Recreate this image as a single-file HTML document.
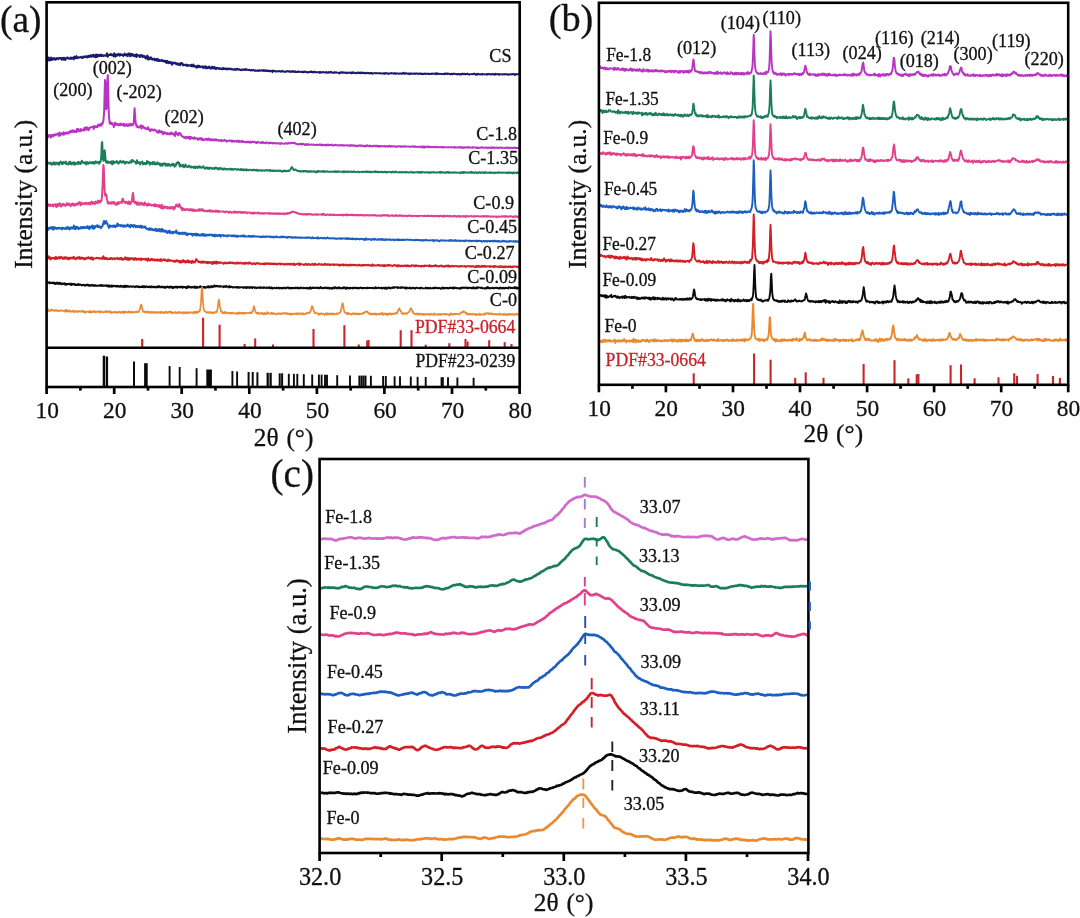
<!DOCTYPE html>
<html><head><meta charset="utf-8"><title>XRD</title>
<style>
html,body{margin:0;padding:0;background:#fff;}
body{width:1080px;height:918px;overflow:hidden;font-family:"Liberation Serif",serif;}
svg{display:block;font-family:"Liberation Serif",serif;will-change:transform;}
</style></head><body>
<svg width="1080" height="918" viewBox="0 0 1080 918">
<rect width="1080" height="918" fill="#fff"/>
<path d="M46.6,60.5 L47.0,58.8 L47.4,58.9 L47.8,58.4 L48.2,59.9 L48.6,57.5 L49.0,60.5 L49.4,58.6 L49.8,59.4 L50.2,59.0 L50.6,60.2 L51.0,57.6 L51.4,58.8 L51.8,58.8 L52.2,59.9 L52.6,58.2 L53.0,58.9 L53.4,58.3 L53.8,59.0 L54.2,59.4 L54.6,58.1 L55.0,59.8 L55.4,59.6 L55.8,59.2 L56.2,59.5 L56.6,58.3 L57.0,58.7 L57.4,58.1 L57.8,58.6 L58.2,59.1 L58.6,58.2 L59.0,58.4 L59.4,58.2 L59.8,58.0 L60.2,58.1 L60.6,58.6 L61.0,57.8 L61.4,58.7 L61.8,59.8 L62.2,59.1 L62.6,58.4 L63.0,57.8 L63.4,57.9 L63.8,59.7 L64.2,58.4 L64.6,57.9 L65.0,58.5 L65.4,59.9 L65.8,58.4 L66.2,58.7 L66.6,58.5 L67.0,58.0 L67.4,57.3 L67.8,57.9 L68.2,58.0 L68.6,58.6 L69.0,58.7 L69.4,58.8 L69.8,58.3 L70.2,58.7 L70.6,57.4 L71.0,58.9 L71.4,58.3 L71.8,57.7 L72.2,58.3 L72.6,57.8 L73.0,58.7 L73.4,59.0 L73.8,59.4 L74.2,56.7 L74.6,56.6 L75.0,57.3 L75.4,57.8 L75.8,58.3 L76.2,57.8 L76.6,56.1 L77.0,57.3 L77.4,58.1 L77.8,57.7 L78.2,58.0 L78.6,57.2 L79.0,57.2 L79.4,57.5 L79.8,57.6 L80.2,57.4 L80.6,57.3 L81.0,56.7 L81.4,57.4 L81.8,57.2 L82.2,57.9 L82.6,58.0 L83.0,57.2 L83.4,56.7 L83.8,56.5 L84.2,57.2 L84.6,56.9 L85.0,56.6 L85.4,56.8 L85.8,56.3 L86.2,57.2 L86.6,56.3 L87.0,57.5 L87.4,56.9 L87.8,57.0 L88.2,55.7 L88.6,56.6 L89.0,57.0 L89.4,55.7 L89.8,56.2 L90.2,56.4 L90.6,55.3 L91.0,56.5 L91.4,56.8 L91.8,55.5 L92.2,56.4 L92.6,55.1 L93.0,56.0 L93.4,54.8 L93.8,56.8 L94.2,56.3 L94.6,55.9 L95.0,55.3 L95.4,56.8 L95.8,57.3 L96.2,54.4 L96.6,56.7 L97.0,57.0 L97.4,56.0 L97.8,54.8 L98.2,56.3 L98.6,55.5 L99.0,55.1 L99.4,54.7 L99.8,56.0 L100.2,56.1 L100.6,55.0 L101.0,55.9 L101.4,54.6 L101.8,56.0 L102.2,55.4 L102.6,55.2 L103.0,55.3 L103.4,56.0 L103.8,55.9 L104.2,55.7 L104.6,55.4 L105.0,55.3 L105.4,55.7 L105.8,55.4 L106.2,55.7 L106.6,54.9 L107.0,53.3 L107.4,55.9 L107.8,56.7 L108.2,55.4 L108.6,54.9 L109.0,54.9 L109.4,54.9 L109.8,55.0 L110.2,54.1 L110.6,54.5 L111.0,54.1 L111.4,55.1 L111.8,54.6 L112.2,55.2 L112.6,54.7 L113.0,55.5 L113.4,54.9 L113.8,56.4 L114.2,53.3 L114.6,54.2 L115.0,55.4 L115.4,56.6 L115.8,54.5 L116.2,54.7 L116.6,54.5 L117.0,55.7 L117.4,54.4 L117.8,55.1 L118.2,54.4 L118.6,53.7 L119.0,54.8 L119.4,55.0 L119.8,55.6 L120.2,54.5 L120.6,54.1 L121.0,55.0 L121.4,54.8 L121.8,54.8 L122.2,54.5 L122.6,55.5 L123.0,54.9 L123.4,56.0 L123.8,55.5 L124.2,55.1 L124.6,53.4 L125.0,55.1 L125.4,55.0 L125.8,55.3 L126.2,55.5 L126.6,54.4 L127.0,55.3 L127.4,54.3 L127.8,56.2 L128.2,53.7 L128.6,53.4 L129.0,53.5 L129.4,54.1 L129.8,53.9 L130.2,56.3 L130.6,54.6 L131.0,53.8 L131.4,55.7 L131.8,54.4 L132.2,54.0 L132.6,55.6 L133.0,55.4 L133.4,54.6 L133.8,56.0 L134.2,55.1 L134.6,56.2 L135.0,55.4 L135.4,56.2 L135.8,55.2 L136.2,54.2 L136.6,57.0 L137.0,54.8 L137.4,55.2 L137.8,54.9 L138.2,55.3 L138.6,55.7 L139.0,55.8 L139.4,56.2 L139.8,57.1 L140.2,55.8 L140.6,55.0 L141.0,55.2 L141.4,55.6 L141.8,55.0 L142.2,57.0 L142.6,56.1 L143.0,56.3 L143.4,56.7 L143.8,55.7 L144.2,56.2 L144.6,57.5 L145.0,57.5 L145.4,56.9 L145.8,58.6 L146.2,56.4 L146.6,57.2 L147.0,57.4 L147.4,55.6 L147.8,59.3 L148.2,58.2 L148.6,57.2 L149.0,59.6 L149.4,58.6 L149.8,58.6 L150.2,57.9 L150.6,58.5 L151.0,57.4 L151.4,59.2 L151.8,58.4 L152.2,58.9 L152.6,59.7 L153.0,59.1 L153.4,59.2 L153.8,59.3 L154.2,58.6 L154.6,59.9 L155.0,60.5 L155.4,60.0 L155.8,60.2 L156.2,58.9 L156.6,59.0 L157.0,58.7 L157.4,60.7 L157.8,59.7 L158.2,61.0 L158.6,59.5 L159.0,59.8 L159.4,60.3 L159.8,61.0 L160.2,60.4 L160.6,60.6 L161.0,60.6 L161.4,60.8 L161.8,59.9 L162.2,60.9 L162.6,60.7 L163.0,60.9 L163.4,61.4 L163.8,60.6 L164.2,61.1 L164.6,61.1 L165.0,61.7 L165.4,62.0 L165.8,60.9 L166.2,62.0 L166.6,63.1 L167.0,60.7 L167.4,61.3 L167.8,61.3 L168.2,61.8 L168.6,63.2 L169.0,62.2 L169.4,61.8 L169.8,62.7 L170.2,62.0 L170.6,63.2 L171.0,62.8 L171.4,63.6 L171.8,62.3 L172.2,64.8 L172.6,63.4 L173.0,63.4 L173.4,63.0 L173.8,62.6 L174.2,62.6 L174.6,63.2 L175.0,62.8 L175.4,63.6 L175.8,63.0 L176.2,64.0 L176.6,64.3 L177.0,63.3 L177.4,64.6 L177.8,63.7 L178.2,64.7 L178.6,64.3 L179.0,64.8 L179.4,63.5 L179.8,64.1 L180.2,65.2 L180.6,63.9 L181.0,63.1 L181.4,63.2 L181.8,63.0 L182.2,63.3 L182.6,64.4 L183.0,65.5 L183.4,64.5 L183.8,65.0 L184.2,64.8 L184.6,64.9 L185.0,64.9 L185.4,64.9 L185.8,65.4 L186.2,64.5 L186.6,65.8 L187.0,65.8 L187.4,65.2 L187.8,65.9 L188.2,65.0 L188.6,65.2 L189.0,65.6 L189.4,65.5 L189.8,65.4 L190.2,65.3 L190.6,65.4 L191.0,66.3 L191.4,64.7 L191.8,66.1 L192.2,65.8 L192.6,66.4 L193.0,66.3 L193.4,64.5 L193.8,66.5 L194.2,66.4 L194.6,66.2 L195.0,66.0 L195.4,66.8 L195.8,66.1 L196.2,67.4 L196.6,66.8 L197.0,67.7 L197.4,66.1 L197.8,65.6 L198.2,67.0 L198.6,67.1 L199.0,66.7 L199.4,65.9 L199.8,66.5 L200.2,67.2 L200.6,66.8 L201.0,66.8 L201.4,66.8 L201.8,66.5 L202.2,66.7 L202.6,66.3 L203.0,68.0 L203.4,66.9 L203.8,67.4 L204.2,66.7 L204.6,67.6 L205.0,66.3 L205.4,67.8 L205.8,67.3 L206.2,68.4 L206.6,66.7 L207.0,67.5 L207.4,67.6 L207.8,68.1 L208.2,67.3 L208.6,67.6 L209.0,66.5 L209.4,67.2 L209.8,67.9 L210.2,68.2 L210.6,67.6 L211.0,68.7 L211.4,68.6 L211.8,67.8 L212.2,66.6 L212.6,67.0 L213.0,67.5 L213.4,68.4 L213.8,68.1 L214.2,67.0 L214.6,67.9 L215.0,68.8 L215.4,67.9 L215.8,67.7 L216.2,69.1 L216.6,68.2 L217.0,67.9 L217.4,68.3 L217.8,68.2 L218.2,68.0 L218.6,68.8 L219.0,68.8 L219.4,68.7 L219.8,68.3 L220.2,68.9 L220.6,68.4 L221.0,68.6 L221.4,68.9 L221.8,68.8 L222.2,69.3 L222.6,68.7" fill="none" stroke="#1c1a6b" stroke-width="2.0" stroke-linejoin="round"/>
<path d="M222.6,68.7 L223.0,67.8 L223.4,68.1 L223.8,69.2 L224.2,68.5 L224.6,68.8 L225.0,68.3 L225.4,69.1 L225.8,68.5 L226.2,69.4 L226.6,68.5 L227.0,69.3 L227.4,69.1 L227.8,68.5 L228.2,69.3 L228.6,68.5 L229.0,68.6 L229.4,69.2 L229.8,68.7 L230.2,68.7 L230.6,68.9 L231.0,68.6 L231.4,69.5 L231.8,69.3 L232.2,69.1 L232.6,69.1 L233.0,69.3 L233.4,69.9 L233.8,69.5 L234.2,69.0 L234.6,69.6 L235.0,69.2 L235.4,69.2 L235.8,70.1 L236.2,69.2 L236.6,69.2 L237.0,68.6 L237.4,68.8 L237.8,69.6 L238.2,69.2 L238.6,69.7 L239.0,69.1 L239.4,69.2 L239.8,69.8 L240.2,70.1 L240.6,69.8 L241.0,70.1 L241.4,70.3 L241.8,70.0 L242.2,69.3 L242.6,69.6 L243.0,69.9 L243.4,69.6 L243.8,69.9 L244.2,69.2 L244.6,69.5 L245.0,70.0 L245.4,69.0 L245.8,69.4 L246.2,69.9 L246.6,69.3 L247.0,69.9 L247.4,69.6 L247.8,69.9 L248.2,69.9 L248.6,70.1 L249.0,69.8 L249.4,70.1 L249.8,69.8 L250.2,70.3 L250.6,70.7 L251.0,70.2 L251.4,70.2 L251.8,69.8 L252.2,70.4 L252.6,69.9 L253.0,69.9 L253.4,70.4 L253.8,70.3 L254.2,70.6 L254.6,70.8 L255.0,70.1 L255.4,70.4 L255.8,70.9 L256.2,70.7 L256.6,70.6 L257.0,70.8 L257.4,70.2 L257.8,70.6 L258.2,70.9 L258.6,71.0 L259.0,70.2 L259.4,70.4 L259.8,70.6 L260.2,70.4 L260.6,70.4 L261.0,70.8 L261.4,70.5 L261.8,70.1 L262.2,70.7 L262.6,70.5 L263.0,70.4 L263.4,70.2 L263.8,71.0 L264.2,70.0 L264.6,70.2 L265.0,70.6 L265.4,71.1 L265.8,71.2 L266.2,70.4 L266.6,70.7 L267.0,70.4 L267.4,71.1 L267.8,70.4 L268.2,70.8 L268.6,71.2 L269.0,70.8 L269.4,71.3 L269.8,70.6 L270.2,71.0 L270.6,71.2 L271.0,70.9 L271.4,71.4 L271.8,71.1 L272.2,70.5 L272.6,72.2 L273.0,71.2 L273.4,71.1 L273.8,70.6 L274.2,71.1 L274.6,70.9 L275.0,71.3 L275.4,71.2 L275.8,71.7 L276.2,71.2 L276.6,71.3 L277.0,71.3 L277.4,71.1 L277.8,71.1 L278.2,71.5 L278.6,71.4 L279.0,71.0 L279.4,70.9 L279.8,71.2 L280.2,71.6 L280.6,71.3 L281.0,71.8 L281.4,71.1 L281.8,71.3 L282.2,70.6 L282.6,71.2 L283.0,71.3 L283.4,71.5 L283.8,71.9 L284.2,71.4 L284.6,71.8 L285.0,71.6 L285.4,71.7 L285.8,71.3 L286.2,71.8 L286.6,71.1 L287.0,71.6 L287.4,71.2 L287.8,71.3 L288.2,71.1 L288.6,71.4 L289.0,71.6 L289.4,71.5 L289.8,71.1 L290.2,72.0 L290.6,71.7 L291.0,71.9 L291.4,71.8 L291.8,71.4 L292.2,71.0 L292.6,71.4 L293.0,72.0 L293.4,71.3 L293.8,71.9 L294.2,71.5 L294.6,71.8 L295.0,71.1 L295.4,72.0 L295.8,71.7 L296.2,72.0 L296.6,71.8 L297.0,72.0 L297.4,71.7 L297.8,72.0 L298.2,71.3 L298.6,71.5 L299.0,72.0 L299.4,71.8 L299.8,71.7 L300.2,71.8 L300.6,72.0 L301.0,71.7 L301.4,72.0 L301.8,71.6 L302.2,71.8 L302.6,72.2 L303.0,72.2 L303.4,71.6 L303.8,72.2 L304.2,71.6 L304.6,72.1 L305.0,71.4 L305.4,71.6 L305.8,71.8 L306.2,71.9 L306.6,72.4 L307.0,72.2 L307.4,72.5 L307.8,72.4 L308.2,71.9 L308.6,71.9 L309.0,72.3 L309.4,72.0 L309.8,72.0 L310.2,71.7 L310.6,72.0 L311.0,71.3 L311.4,72.0 L311.8,71.8 L312.2,72.3 L312.6,72.0 L313.0,72.0 L313.4,72.5 L313.8,71.8 L314.2,72.2 L314.6,71.6 L315.0,72.2 L315.4,72.3 L315.8,72.4 L316.2,71.9 L316.6,72.3 L317.0,72.3 L317.4,72.2 L317.8,72.3 L318.2,72.4 L318.6,72.4 L319.0,72.0 L319.4,71.9 L319.8,73.0 L320.2,72.8 L320.6,71.9 L321.0,72.4 L321.4,72.5 L321.8,72.5 L322.2,72.3 L322.6,72.0 L323.0,72.3 L323.4,72.2 L323.8,72.4 L324.2,72.3 L324.6,72.3 L325.0,72.7 L325.4,72.7 L325.8,72.0 L326.2,72.3 L326.6,72.2 L327.0,72.8 L327.4,72.4 L327.8,72.8 L328.2,72.3 L328.6,72.4 L329.0,72.1 L329.4,72.8 L329.8,72.4 L330.2,72.0 L330.6,72.3 L331.0,71.8 L331.4,72.5 L331.8,72.5 L332.2,72.6 L332.6,72.9 L333.0,72.4 L333.4,72.8 L333.8,72.6 L334.2,72.5 L334.6,72.0 L335.0,72.8 L335.4,72.4 L335.8,72.6 L336.2,72.2 L336.6,72.7 L337.0,72.6 L337.4,72.6 L337.8,72.6 L338.2,72.9 L338.6,72.9 L339.0,72.8 L339.4,73.6 L339.8,72.5 L340.2,72.5 L340.6,72.4 L341.0,72.8 L341.4,72.5 L341.8,71.9 L342.2,72.3 L342.6,72.7 L343.0,73.0 L343.4,72.3 L343.8,72.5 L344.2,72.7 L344.6,72.5 L345.0,72.9 L345.4,72.7 L345.8,72.8 L346.2,72.5 L346.6,73.2 L347.0,72.8 L347.4,73.1 L347.8,72.6 L348.2,72.9 L348.6,72.6 L349.0,72.5 L349.4,72.6 L349.8,72.8 L350.2,72.7 L350.6,73.3 L351.0,72.5 L351.4,72.5 L351.8,73.3 L352.2,73.0 L352.6,72.3 L353.0,73.0 L353.4,72.9 L353.8,72.3 L354.2,72.8 L354.6,72.9 L355.0,73.1 L355.4,73.2 L355.8,72.9 L356.2,73.2 L356.6,72.9 L357.0,72.7 L357.4,72.7 L357.8,73.1 L358.2,72.4 L358.6,73.1 L359.0,72.6 L359.4,72.9 L359.8,73.1 L360.2,73.3 L360.6,72.4 L361.0,72.8 L361.4,73.0 L361.8,72.8 L362.2,73.2 L362.6,72.4 L363.0,73.1 L363.4,73.1 L363.8,73.0 L364.2,73.3 L364.6,72.7 L365.0,73.3 L365.4,72.8 L365.8,73.3 L366.2,73.0 L366.6,73.3 L367.0,73.3 L367.4,72.7 L367.8,73.0 L368.2,73.1 L368.6,73.0 L369.0,72.9 L369.4,73.6 L369.8,73.2 L370.2,73.5 L370.6,73.0 L371.0,72.8 L371.4,73.2 L371.8,73.0 L372.2,73.8 L372.6,73.2 L373.0,73.5 L373.4,73.1 L373.8,73.1 L374.2,73.2 L374.6,73.3 L375.0,73.4 L375.4,73.1 L375.8,73.0 L376.2,72.9 L376.6,73.2 L377.0,73.4 L377.4,73.3 L377.8,73.2 L378.2,73.1 L378.6,73.3 L379.0,73.4 L379.4,73.2 L379.8,73.3 L380.2,73.2 L380.6,73.5 L381.0,73.1 L381.4,73.3 L381.8,73.4 L382.2,73.5 L382.6,73.7 L383.0,73.5 L383.4,73.5 L383.8,72.9 L384.2,73.5 L384.6,73.9 L385.0,73.1 L385.4,73.0 L385.8,73.3 L386.2,73.6 L386.6,73.5 L387.0,73.2 L387.4,73.3 L387.8,73.6 L388.2,73.5 L388.6,74.0 L389.0,73.6 L389.4,73.5 L389.8,73.5 L390.2,73.3 L390.6,73.1 L391.0,73.4 L391.4,73.5 L391.8,73.0 L392.2,73.3 L392.6,73.3 L393.0,73.5 L393.4,73.3 L393.8,73.5 L394.2,73.4 L394.6,73.7 L395.0,73.0 L395.4,73.9 L395.8,73.8 L396.2,73.5 L396.6,73.6 L397.0,73.6 L397.4,73.3 L397.8,73.5 L398.2,73.7 L398.6,73.6 L399.0,73.8 L399.4,73.5 L399.8,73.5 L400.2,73.3 L400.6,73.4 L401.0,73.4 L401.4,74.0 L401.8,73.6 L402.2,73.2 L402.6,73.6 L403.0,73.5 L403.4,72.7 L403.8,73.7 L404.2,73.1 L404.6,73.7 L405.0,73.3 L405.4,73.2 L405.8,73.7 L406.2,73.2 L406.6,73.4 L407.0,73.6 L407.4,73.7 L407.8,73.8 L408.2,73.6 L408.6,73.4 L409.0,74.1 L409.4,73.4 L409.8,74.1 L410.2,73.5 L410.6,73.9 L411.0,73.9 L411.4,73.3 L411.8,73.7 L412.2,73.8 L412.6,73.8 L413.0,73.6 L413.4,73.7 L413.8,73.5 L414.2,73.3 L414.6,73.9 L415.0,73.5 L415.4,74.0 L415.8,73.8 L416.2,73.4 L416.6,73.6 L417.0,73.6 L417.4,73.4 L417.8,73.8 L418.2,73.6 L418.6,74.1 L419.0,73.9 L419.4,73.5 L419.8,73.7 L420.2,73.7 L420.6,73.3 L421.0,74.0 L421.4,74.0 L421.8,74.0 L422.2,73.6 L422.6,74.0 L423.0,73.7 L423.4,74.0 L423.8,74.2 L424.2,73.8 L424.6,73.4 L425.0,73.7 L425.4,73.9 L425.8,74.1 L426.2,73.5 L426.6,73.7 L427.0,73.8 L427.4,73.9 L427.8,74.0 L428.2,73.5 L428.6,73.7 L429.0,74.1 L429.4,73.9 L429.8,73.9 L430.2,74.1 L430.6,73.8 L431.0,74.0 L431.4,73.7 L431.8,73.5 L432.2,73.5 L432.6,73.9 L433.0,73.8 L433.4,73.7 L433.8,73.9 L434.2,73.6 L434.6,73.9 L435.0,73.9 L435.4,73.6 L435.8,73.3 L436.2,74.3 L436.6,74.0 L437.0,73.2 L437.4,73.8 L437.8,74.0 L438.2,73.8 L438.6,74.0 L439.0,73.6 L439.4,73.9 L439.8,73.9 L440.2,73.9 L440.6,73.8 L441.0,74.0 L441.4,74.2 L441.8,73.8 L442.2,73.8 L442.6,74.0 L443.0,73.9 L443.4,74.0 L443.8,74.1 L444.2,74.3 L444.6,73.9 L445.0,73.3 L445.4,73.9 L445.8,74.0 L446.2,73.9 L446.6,73.9 L447.0,73.3 L447.4,74.1 L447.8,73.9 L448.2,73.6 L448.6,73.7 L449.0,73.7 L449.4,74.1 L449.8,74.1 L450.2,74.4 L450.6,74.2 L451.0,73.6 L451.4,73.6 L451.8,74.3 L452.2,74.4 L452.6,73.9 L453.0,74.2 L453.4,73.6 L453.8,73.5 L454.2,73.7 L454.6,73.9 L455.0,73.9 L455.4,74.0 L455.8,73.9 L456.2,74.2 L456.6,74.4 L457.0,74.0 L457.4,74.6 L457.8,73.9 L458.2,73.9 L458.6,74.2 L459.0,74.0 L459.4,74.4 L459.8,73.9 L460.2,74.4 L460.6,74.1 L461.0,74.7 L461.4,73.9 L461.8,74.0 L462.2,74.1 L462.6,73.5 L463.0,74.2 L463.4,74.2 L463.8,74.1 L464.2,73.7 L464.6,73.7 L465.0,74.2 L465.4,74.4 L465.8,74.5 L466.2,73.9 L466.6,73.8 L467.0,74.0 L467.4,73.6 L467.8,74.0 L468.2,74.3 L468.6,74.5 L469.0,74.2 L469.4,74.6 L469.8,74.2 L470.2,74.2 L470.6,74.1 L471.0,74.2 L471.4,74.1 L471.8,74.1 L472.2,74.0 L472.6,74.2 L473.0,74.2 L473.4,73.8 L473.8,74.1 L474.2,73.9 L474.6,73.6 L475.0,74.3 L475.4,74.6 L475.8,74.8 L476.2,74.6 L476.6,73.9 L477.0,74.5 L477.4,74.5 L477.8,73.7 L478.2,74.4 L478.6,74.3 L479.0,74.2 L479.4,74.3 L479.8,74.2 L480.2,74.6 L480.6,74.1 L481.0,74.2 L481.4,74.2 L481.8,74.3 L482.2,73.8 L482.6,74.6 L483.0,74.3 L483.4,74.4 L483.8,74.3 L484.2,74.2 L484.6,74.1 L485.0,74.3 L485.4,74.3 L485.8,74.5 L486.2,74.3 L486.6,74.2 L487.0,74.7 L487.4,73.9 L487.8,73.9 L488.2,74.3 L488.6,74.2 L489.0,73.8 L489.4,74.2 L489.8,74.1 L490.2,74.5 L490.6,74.1 L491.0,74.5 L491.4,74.4 L491.8,74.2 L492.2,74.3 L492.6,74.4 L493.0,73.7 L493.4,74.4 L493.8,74.2 L494.2,74.7 L494.6,74.1 L495.0,74.6 L495.4,73.6 L495.8,74.5 L496.2,74.4 L496.6,74.2 L497.0,74.3 L497.4,74.2 L497.8,74.4 L498.2,74.3 L498.6,73.9 L499.0,74.3 L499.4,74.9 L499.8,74.3 L500.2,74.4 L500.6,74.2 L501.0,74.4 L501.4,74.4 L501.8,74.3 L502.2,74.5 L502.6,74.1 L503.0,74.3 L503.4,74.5 L503.8,74.3 L504.2,74.0 L504.6,74.5 L505.0,74.1 L505.4,74.2 L505.8,74.1 L506.2,74.3 L506.6,74.2 L507.0,74.2 L507.4,74.5 L507.8,74.8 L508.2,74.3 L508.6,74.5 L509.0,74.3 L509.4,74.4 L509.8,74.6 L510.2,74.4 L510.6,74.2 L511.0,74.2 L511.4,74.2 L511.8,74.4 L512.2,74.6 L512.6,74.0 L513.0,74.1 L513.4,74.1 L513.8,73.9 L514.2,74.7 L514.6,74.4 L515.0,74.9 L515.4,74.0 L515.8,74.7 L516.2,74.2 L516.6,74.3 L517.0,74.1 L517.4,74.2 L517.8,74.1 L518.2,74.4 L518.6,74.1 L519.0,74.3 L519.4,74.4" fill="none" stroke="#1c1a6b" stroke-width="1.85" stroke-linejoin="round"/>
<path d="M46.6,136.3 L47.0,136.5 L47.4,134.9 L47.8,137.6 L48.2,135.0 L48.6,135.6 L49.0,136.6 L49.4,135.2 L49.8,135.3 L50.2,135.3 L50.6,136.3 L51.0,137.6 L51.4,135.8 L51.8,134.9 L52.2,136.0 L52.6,135.1 L53.0,135.5 L53.4,136.3 L53.8,134.8 L54.2,135.3 L54.6,134.6 L55.0,135.0 L55.4,135.3 L55.8,134.3 L56.2,134.7 L56.6,134.7 L57.0,134.3 L57.4,133.8 L57.8,133.6 L58.2,134.4 L58.6,134.3 L59.0,136.1 L59.4,132.5 L59.8,134.3 L60.2,134.5 L60.6,135.1 L61.0,134.4 L61.4,133.3 L61.8,133.9 L62.2,134.2 L62.6,133.5 L63.0,134.2 L63.4,132.2 L63.8,134.8 L64.2,134.5 L64.6,133.1 L65.0,133.7 L65.4,133.2 L65.8,132.5 L66.2,133.1 L66.6,133.7 L67.0,132.6 L67.4,132.5 L67.8,132.7 L68.2,133.0 L68.6,133.5 L69.0,132.0 L69.4,132.8 L69.8,132.5 L70.2,130.9 L70.6,131.9 L71.0,132.0 L71.4,132.0 L71.8,132.2 L72.2,130.3 L72.6,131.8 L73.0,131.2 L73.4,130.5 L73.8,131.9 L74.2,132.0 L74.6,130.9 L75.0,131.9 L75.4,130.9 L75.8,131.2 L76.2,130.2 L76.6,132.2 L77.0,128.9 L77.4,130.7 L77.8,131.2 L78.2,129.1 L78.6,130.4 L79.0,130.4 L79.4,131.0 L79.8,131.2 L80.2,129.9 L80.6,129.1 L81.0,131.0 L81.4,130.8 L81.8,129.5 L82.2,130.0 L82.6,130.0 L83.0,130.0 L83.4,129.6 L83.8,130.5 L84.2,128.0 L84.6,130.0 L85.0,129.4 L85.4,128.9 L85.8,129.8 L86.2,127.1 L86.6,129.6 L87.0,129.0 L87.4,127.7 L87.8,128.8 L88.2,128.2 L88.6,130.2 L89.0,129.6 L89.4,128.5 L89.8,127.5 L90.2,127.5 L90.6,127.6 L91.0,127.3 L91.4,127.0 L91.8,127.1 L92.2,127.3 L92.6,127.0 L93.0,126.8 L93.4,126.5 L93.8,129.0 L94.2,125.9 L94.6,126.1 L95.0,127.1 L95.4,126.5 L95.8,126.9 L96.2,127.1 L96.6,127.3 L97.0,126.8 L97.4,125.4 L97.8,126.8 L98.2,124.5 L98.6,125.6 L99.0,125.2 L99.4,124.7 L99.8,125.8 L100.2,125.0 L100.6,125.8 L101.0,123.7 L101.4,125.2 L101.8,124.7 L102.2,124.1 L102.6,122.6 L103.0,122.8 L103.4,120.5 L103.8,116.5 L104.2,111.2 L104.6,93.5 L105.0,80.0 L105.4,82.3 L105.8,98.7 L106.2,109.2 L106.6,108.3 L107.0,96.0 L107.4,80.2 L107.8,75.0 L108.2,90.6 L108.6,106.8 L109.0,117.3 L109.4,120.5 L109.8,123.5 L110.2,122.5 L110.6,122.3 L111.0,124.1 L111.4,123.3 L111.8,122.8 L112.2,123.9 L112.6,124.5 L113.0,124.1 L113.4,124.4 L113.8,127.1 L114.2,124.7 L114.6,125.3 L115.0,122.7 L115.4,124.4 L115.8,124.8 L116.2,123.9 L116.6,123.6 L117.0,124.6 L117.4,124.0 L117.8,123.9 L118.2,125.2 L118.6,125.4 L119.0,124.6 L119.4,124.1 L119.8,124.8 L120.2,125.1 L120.6,124.9 L121.0,123.4 L121.4,124.3 L121.8,124.8 L122.2,125.0 L122.6,125.3 L123.0,125.2 L123.4,123.8 L123.8,124.1 L124.2,123.8 L124.6,126.1 L125.0,124.9 L125.4,125.2 L125.8,125.6 L126.2,124.6 L126.6,124.0 L127.0,124.6 L127.4,124.8 L127.8,126.1 L128.2,125.6 L128.6,124.2 L129.0,125.5 L129.4,125.6 L129.8,124.3 L130.2,125.0 L130.6,123.8 L131.0,125.4 L131.4,125.0 L131.8,124.2 L132.2,124.7 L132.6,125.3 L133.0,124.5 L133.4,124.4 L133.8,121.7 L134.2,113.9 L134.6,108.3 L135.0,114.5 L135.4,120.5 L135.8,123.6 L136.2,125.5 L136.6,124.8 L137.0,126.9 L137.4,126.5 L137.8,127.2 L138.2,127.2 L138.6,126.9 L139.0,127.4 L139.4,127.0 L139.8,126.4 L140.2,126.2 L140.6,126.8 L141.0,125.3 L141.4,128.7 L141.8,126.1 L142.2,127.4 L142.6,126.6 L143.0,126.1 L143.4,127.7 L143.8,127.6 L144.2,127.9 L144.6,128.5 L145.0,127.7 L145.4,128.6 L145.8,128.8 L146.2,128.3 L146.6,128.4 L147.0,129.2 L147.4,128.9 L147.8,129.1 L148.2,127.3 L148.6,129.3 L149.0,129.6 L149.4,129.3 L149.8,129.8 L150.2,131.1 L150.6,129.8 L151.0,130.3 L151.4,129.3 L151.8,129.4 L152.2,129.8 L152.6,129.5 L153.0,130.3 L153.4,129.7 L153.8,130.4 L154.2,129.5 L154.6,129.5 L155.0,130.3 L155.4,130.1 L155.8,130.5 L156.2,130.7 L156.6,130.9 L157.0,132.1 L157.4,132.4 L157.8,132.0 L158.2,131.3 L158.6,132.8 L159.0,130.7 L159.4,130.4 L159.8,132.2 L160.2,132.1 L160.6,132.1 L161.0,132.3 L161.4,131.2 L161.8,131.6 L162.2,133.4 L162.6,133.4 L163.0,132.2 L163.4,134.2 L163.8,132.2 L164.2,132.6 L164.6,133.3 L165.0,132.4 L165.4,133.0 L165.8,133.3 L166.2,133.3 L166.6,134.2 L167.0,134.1 L167.4,133.0 L167.8,133.4 L168.2,134.1 L168.6,133.9 L169.0,133.4 L169.4,134.2 L169.8,134.5 L170.2,133.4 L170.6,134.2 L171.0,132.5 L171.4,132.5 L171.8,134.0 L172.2,133.3 L172.6,133.4 L173.0,134.1 L173.4,134.0 L173.8,134.8 L174.2,133.5 L174.6,134.0 L175.0,136.0 L175.4,133.5 L175.8,131.7 L176.2,133.1 L176.6,133.1 L177.0,134.1 L177.4,133.9 L177.8,133.9 L178.2,135.4 L178.6,134.9 L179.0,133.0 L179.4,134.1 L179.8,133.1 L180.2,134.0 L180.6,133.6 L181.0,135.0 L181.4,135.4 L181.8,136.2 L182.2,136.2 L182.6,136.2 L183.0,136.6 L183.4,137.1 L183.8,137.0 L184.2,137.8 L184.6,137.2 L185.0,137.3 L185.4,138.3 L185.8,137.1 L186.2,137.5 L186.6,136.8 L187.0,137.3 L187.4,138.3 L187.8,137.5 L188.2,138.3 L188.6,136.8 L189.0,136.7 L189.4,137.7 L189.8,136.8 L190.2,139.2 L190.6,138.4 L191.0,137.0 L191.4,137.7 L191.8,137.5 L192.2,138.1 L192.6,137.9 L193.0,138.5 L193.4,138.8 L193.8,137.9 L194.2,137.4 L194.6,138.4 L195.0,138.1 L195.4,138.8 L195.8,138.2 L196.2,138.7 L196.6,138.5 L197.0,138.3 L197.4,138.2 L197.8,138.8 L198.2,139.9 L198.6,139.0 L199.0,138.5 L199.4,139.0 L199.8,138.7 L200.2,138.0 L200.6,138.9 L201.0,139.6 L201.4,138.6 L201.8,138.2 L202.2,139.1 L202.6,139.9 L203.0,139.4 L203.4,139.5 L203.8,140.2 L204.2,139.9 L204.6,139.5 L205.0,139.0 L205.4,139.2 L205.8,139.2 L206.2,139.7 L206.6,138.8 L207.0,140.1 L207.4,139.4 L207.8,139.2 L208.2,139.8 L208.6,138.4 L209.0,139.1 L209.4,139.2 L209.8,140.0 L210.2,139.3 L210.6,140.3 L211.0,139.4 L211.4,139.9 L211.8,139.4 L212.2,140.3 L212.6,139.7 L213.0,140.1 L213.4,139.6 L213.8,139.4 L214.2,139.8 L214.6,140.5 L215.0,139.5 L215.4,139.3 L215.8,139.9 L216.2,140.4 L216.6,139.6 L217.0,139.9 L217.4,140.2 L217.8,140.0 L218.2,140.3 L218.6,140.8 L219.0,140.3 L219.4,140.3 L219.8,140.7 L220.2,140.3 L220.6,139.9 L221.0,139.9 L221.4,139.9 L221.8,141.3 L222.2,140.5 L222.6,140.8" fill="none" stroke="#b834c2" stroke-width="2.0" stroke-linejoin="round"/>
<path d="M222.6,140.8 L223.0,140.9 L223.4,140.2 L223.8,140.9 L224.2,140.4 L224.6,139.7 L225.0,140.6 L225.4,140.2 L225.8,140.6 L226.2,140.9 L226.6,141.8 L227.0,140.6 L227.4,140.8 L227.8,141.0 L228.2,141.0 L228.6,140.8 L229.0,140.5 L229.4,140.5 L229.8,140.9 L230.2,140.5 L230.6,140.7 L231.0,140.5 L231.4,141.5 L231.8,140.5 L232.2,141.9 L232.6,140.9 L233.0,140.7 L233.4,140.7 L233.8,141.5 L234.2,141.7 L234.6,140.9 L235.0,141.4 L235.4,141.2 L235.8,141.2 L236.2,141.4 L236.6,141.7 L237.0,140.6 L237.4,140.5 L237.8,141.5 L238.2,141.4 L238.6,141.8 L239.0,140.8 L239.4,141.1 L239.8,142.1 L240.2,141.1 L240.6,141.7 L241.0,141.3 L241.4,141.5 L241.8,141.1 L242.2,142.1 L242.6,141.0 L243.0,141.3 L243.4,141.4 L243.8,142.2 L244.2,141.9 L244.6,142.1 L245.0,141.8 L245.4,141.9 L245.8,142.1 L246.2,142.5 L246.6,142.0 L247.0,141.4 L247.4,142.4 L247.8,142.0 L248.2,141.6 L248.6,142.0 L249.0,141.7 L249.4,142.8 L249.8,142.0 L250.2,141.4 L250.6,142.2 L251.0,141.8 L251.4,142.6 L251.8,142.2 L252.2,141.6 L252.6,142.0 L253.0,141.9 L253.4,142.0 L253.8,142.1 L254.2,141.6 L254.6,142.4 L255.0,142.0 L255.4,142.1 L255.8,142.6 L256.2,143.0 L256.6,142.2 L257.0,143.0 L257.4,141.8 L257.8,142.6 L258.2,142.3 L258.6,142.5 L259.0,142.2 L259.4,142.3 L259.8,142.5 L260.2,142.5 L260.6,142.7 L261.0,143.3 L261.4,142.4 L261.8,142.6 L262.2,142.1 L262.6,141.9 L263.0,143.1 L263.4,142.3 L263.8,142.5 L264.2,142.8 L264.6,143.0 L265.0,142.9 L265.4,143.4 L265.8,142.8 L266.2,142.3 L266.6,142.9 L267.0,142.9 L267.4,142.7 L267.8,142.8 L268.2,142.8 L268.6,143.5 L269.0,142.8 L269.4,142.6 L269.8,143.1 L270.2,142.5 L270.6,143.2 L271.0,143.2 L271.4,142.8 L271.8,142.9 L272.2,142.9 L272.6,143.6 L273.0,143.3 L273.4,142.8 L273.8,142.8 L274.2,143.2 L274.6,143.2 L275.0,143.0 L275.4,143.3 L275.8,143.2 L276.2,143.6 L276.6,143.4 L277.0,143.3 L277.4,143.4 L277.8,143.1 L278.2,143.6 L278.6,143.5 L279.0,143.3 L279.4,143.4 L279.8,143.3 L280.2,144.2 L280.6,143.3 L281.0,143.6 L281.4,143.6 L281.8,143.3 L282.2,143.5 L282.6,143.4 L283.0,143.6 L283.4,143.6 L283.8,143.8 L284.2,143.8 L284.6,143.5 L285.0,143.5 L285.4,143.4 L285.8,143.4 L286.2,143.1 L286.6,143.8 L287.0,143.6 L287.4,143.5 L287.8,143.1 L288.2,143.1 L288.6,142.8 L289.0,143.4 L289.4,143.6 L289.8,143.5 L290.2,143.2 L290.6,142.8 L291.0,143.0 L291.4,142.9 L291.8,143.0 L292.2,143.0 L292.6,142.7 L293.0,142.8 L293.4,143.1 L293.8,143.1 L294.2,143.1 L294.6,142.6 L295.0,143.2 L295.4,143.8 L295.8,143.7 L296.2,144.0 L296.6,143.7 L297.0,143.9 L297.4,144.2 L297.8,144.2 L298.2,144.2 L298.6,144.4 L299.0,144.5 L299.4,144.6 L299.8,143.7 L300.2,144.1 L300.6,144.1 L301.0,144.1 L301.4,143.8 L301.8,144.7 L302.2,144.0 L302.6,144.3 L303.0,143.6 L303.4,144.2 L303.8,144.3 L304.2,144.1 L304.6,144.6 L305.0,145.1 L305.4,144.2 L305.8,144.2 L306.2,145.0 L306.6,144.6 L307.0,144.4 L307.4,144.1 L307.8,144.7 L308.2,144.6 L308.6,145.0 L309.0,144.3 L309.4,144.5 L309.8,144.5 L310.2,144.5 L310.6,144.9 L311.0,144.9 L311.4,144.4 L311.8,144.6 L312.2,144.6 L312.6,144.9 L313.0,144.6 L313.4,144.4 L313.8,144.6 L314.2,144.7 L314.6,145.0 L315.0,145.1 L315.4,145.1 L315.8,144.9 L316.2,144.6 L316.6,145.0 L317.0,144.7 L317.4,144.6 L317.8,144.9 L318.2,144.9 L318.6,145.1 L319.0,144.6 L319.4,144.4 L319.8,145.0 L320.2,144.6 L320.6,145.2 L321.0,144.6 L321.4,144.7 L321.8,144.4 L322.2,145.5 L322.6,144.8 L323.0,144.9 L323.4,144.8 L323.8,144.9 L324.2,145.2 L324.6,145.0 L325.0,145.0 L325.4,145.4 L325.8,144.6 L326.2,145.4 L326.6,145.5 L327.0,144.7 L327.4,145.1 L327.8,144.7 L328.2,144.5 L328.6,144.8 L329.0,145.3 L329.4,145.3 L329.8,145.0 L330.2,144.9 L330.6,145.0 L331.0,144.9 L331.4,145.0 L331.8,144.5 L332.2,145.1 L332.6,145.2 L333.0,145.8 L333.4,145.4 L333.8,145.2 L334.2,145.2 L334.6,145.3 L335.0,145.0 L335.4,144.7 L335.8,145.0 L336.2,145.2 L336.6,145.3 L337.0,145.1 L337.4,145.0 L337.8,145.2 L338.2,145.3 L338.6,145.5 L339.0,145.3 L339.4,145.5 L339.8,145.1 L340.2,145.6 L340.6,145.3 L341.0,145.0 L341.4,145.3 L341.8,145.4 L342.2,145.1 L342.6,145.6 L343.0,145.3 L343.4,145.6 L343.8,145.1 L344.2,145.5 L344.6,145.7 L345.0,145.3 L345.4,145.4 L345.8,145.3 L346.2,145.6 L346.6,145.5 L347.0,145.6 L347.4,145.5 L347.8,145.2 L348.2,145.1 L348.6,145.4 L349.0,145.7 L349.4,146.2 L349.8,145.8 L350.2,145.4 L350.6,145.0 L351.0,145.7 L351.4,145.6 L351.8,145.2 L352.2,145.9 L352.6,145.6 L353.0,145.5 L353.4,145.1 L353.8,145.9 L354.2,145.7 L354.6,145.6 L355.0,145.4 L355.4,145.6 L355.8,146.0 L356.2,145.8 L356.6,146.3 L357.0,146.0 L357.4,145.8 L357.8,146.0 L358.2,145.8 L358.6,145.3 L359.0,145.6 L359.4,145.8 L359.8,145.5 L360.2,145.6 L360.6,145.4 L361.0,146.2 L361.4,145.4 L361.8,145.5 L362.2,145.5 L362.6,146.1 L363.0,146.1 L363.4,145.7 L363.8,146.0 L364.2,145.6 L364.6,145.8 L365.0,146.6 L365.4,146.1 L365.8,145.8 L366.2,145.5 L366.6,145.8 L367.0,145.5 L367.4,145.3 L367.8,146.1 L368.2,146.1 L368.6,146.0 L369.0,146.2 L369.4,145.5 L369.8,146.3 L370.2,145.6 L370.6,146.1 L371.0,146.1 L371.4,146.3 L371.8,146.5 L372.2,146.1 L372.6,145.9 L373.0,145.7 L373.4,146.1 L373.8,145.8 L374.2,145.6 L374.6,146.0 L375.0,146.2 L375.4,145.9 L375.8,145.7 L376.2,146.1 L376.6,145.7 L377.0,145.6 L377.4,146.5 L377.8,146.1 L378.2,146.6 L378.6,145.7 L379.0,146.4 L379.4,146.1 L379.8,146.9 L380.2,146.1 L380.6,146.0 L381.0,146.3 L381.4,146.2 L381.8,146.0 L382.2,146.4 L382.6,146.4 L383.0,146.4 L383.4,146.3 L383.8,146.0 L384.2,146.0 L384.6,146.4 L385.0,145.9 L385.4,146.7 L385.8,146.2 L386.2,146.0 L386.6,146.5 L387.0,146.2 L387.4,146.6 L387.8,146.3 L388.2,146.8 L388.6,146.2 L389.0,145.7 L389.4,145.9 L389.8,145.8 L390.2,146.5 L390.6,146.8 L391.0,146.3 L391.4,146.0 L391.8,146.5 L392.2,146.5 L392.6,146.2 L393.0,146.5 L393.4,146.4 L393.8,146.1 L394.2,146.6 L394.6,146.2 L395.0,146.1 L395.4,146.3 L395.8,146.8 L396.2,147.0 L396.6,146.8 L397.0,146.3 L397.4,146.2 L397.8,146.5 L398.2,146.4 L398.6,146.5 L399.0,146.2 L399.4,146.2 L399.8,146.2 L400.2,146.7 L400.6,146.8 L401.0,146.3 L401.4,146.7 L401.8,146.7 L402.2,146.3 L402.6,146.5 L403.0,146.8 L403.4,146.3 L403.8,146.9 L404.2,146.5 L404.6,146.6 L405.0,146.5 L405.4,146.2 L405.8,146.7 L406.2,146.6 L406.6,146.5 L407.0,146.6 L407.4,146.7 L407.8,146.6 L408.2,146.5 L408.6,146.7 L409.0,146.9 L409.4,146.7 L409.8,146.4 L410.2,146.9 L410.6,146.6 L411.0,146.8 L411.4,146.6 L411.8,146.4 L412.2,146.4 L412.6,146.5 L413.0,146.7 L413.4,146.1 L413.8,146.8 L414.2,147.0 L414.6,146.7 L415.0,146.5 L415.4,146.3 L415.8,146.8 L416.2,146.9 L416.6,146.8 L417.0,147.0 L417.4,146.6 L417.8,146.7 L418.2,146.9 L418.6,146.8 L419.0,147.0 L419.4,147.0 L419.8,146.8 L420.2,146.6 L420.6,146.7 L421.0,147.1 L421.4,146.5 L421.8,146.9 L422.2,146.6 L422.6,147.5 L423.0,146.7 L423.4,147.1 L423.8,146.6 L424.2,147.8 L424.6,146.6 L425.0,147.0 L425.4,146.6 L425.8,147.2 L426.2,146.6 L426.6,146.8 L427.0,146.5 L427.4,146.9 L427.8,147.0 L428.2,147.4 L428.6,146.4 L429.0,147.1 L429.4,147.0 L429.8,146.8 L430.2,146.9 L430.6,147.1 L431.0,147.0 L431.4,147.0 L431.8,146.8 L432.2,146.9 L432.6,147.2 L433.0,146.8 L433.4,146.9 L433.8,147.1 L434.2,147.1 L434.6,147.2 L435.0,147.0 L435.4,146.5 L435.8,147.3 L436.2,147.4 L436.6,147.4 L437.0,147.2 L437.4,147.3 L437.8,147.0 L438.2,146.8 L438.6,147.1 L439.0,147.1 L439.4,147.4 L439.8,147.4 L440.2,147.0 L440.6,147.0 L441.0,147.1 L441.4,147.2 L441.8,147.5 L442.2,147.0 L442.6,147.5 L443.0,146.8 L443.4,147.0 L443.8,147.6 L444.2,147.3 L444.6,147.2 L445.0,147.4 L445.4,147.2 L445.8,147.2 L446.2,147.3 L446.6,147.3 L447.0,147.3 L447.4,147.1 L447.8,147.3 L448.2,147.1 L448.6,147.4 L449.0,147.2 L449.4,147.3 L449.8,147.3 L450.2,147.1 L450.6,147.1 L451.0,147.2 L451.4,147.4 L451.8,147.5 L452.2,147.3 L452.6,147.1 L453.0,147.4 L453.4,147.3 L453.8,147.5 L454.2,147.6 L454.6,147.8 L455.0,146.9 L455.4,147.2 L455.8,147.3 L456.2,147.5 L456.6,147.5 L457.0,147.4 L457.4,147.6 L457.8,147.2 L458.2,147.3 L458.6,147.4 L459.0,147.1 L459.4,147.8 L459.8,147.2 L460.2,147.1 L460.6,147.5 L461.0,146.9 L461.4,147.3 L461.8,147.4 L462.2,147.7 L462.6,148.2 L463.0,147.5 L463.4,147.1 L463.8,147.5 L464.2,147.6 L464.6,147.2 L465.0,147.5 L465.4,147.9 L465.8,147.6 L466.2,147.3 L466.6,147.3 L467.0,147.0 L467.4,147.4 L467.8,147.3 L468.2,147.8 L468.6,147.1 L469.0,147.1 L469.4,147.5 L469.8,147.6 L470.2,147.4 L470.6,147.5 L471.0,147.7 L471.4,147.7 L471.8,147.6 L472.2,147.7 L472.6,147.1 L473.0,147.7 L473.4,147.6 L473.8,147.3 L474.2,147.4 L474.6,147.5 L475.0,147.4 L475.4,147.5 L475.8,147.5 L476.2,147.2 L476.6,148.1 L477.0,147.7 L477.4,148.1 L477.8,147.5 L478.2,148.0 L478.6,147.5 L479.0,148.0 L479.4,147.8 L479.8,147.8 L480.2,147.6 L480.6,147.7 L481.0,147.9 L481.4,147.1 L481.8,147.4 L482.2,147.3 L482.6,147.4 L483.0,147.8 L483.4,147.8 L483.8,147.6 L484.2,147.9 L484.6,147.5 L485.0,147.5 L485.4,147.7 L485.8,147.8 L486.2,147.6 L486.6,147.4 L487.0,147.8 L487.4,148.1 L487.8,147.6 L488.2,147.7 L488.6,147.4 L489.0,147.7 L489.4,147.5 L489.8,147.7 L490.2,148.1 L490.6,147.8 L491.0,147.5 L491.4,147.9 L491.8,147.3 L492.2,148.0 L492.6,147.8 L493.0,147.4 L493.4,147.6 L493.8,147.5 L494.2,148.2 L494.6,147.9 L495.0,147.5 L495.4,147.6 L495.8,147.8 L496.2,147.6 L496.6,147.8 L497.0,147.8 L497.4,147.4 L497.8,147.9 L498.2,148.2 L498.6,147.8 L499.0,147.9 L499.4,147.6 L499.8,147.6 L500.2,147.8 L500.6,147.6 L501.0,147.4 L501.4,148.0 L501.8,147.6 L502.2,147.8 L502.6,147.8 L503.0,147.9 L503.4,147.9 L503.8,147.9 L504.2,147.7 L504.6,148.0 L505.0,147.7 L505.4,147.9 L505.8,147.7 L506.2,147.8 L506.6,147.6 L507.0,148.2 L507.4,147.9 L507.8,147.6 L508.2,147.4 L508.6,147.6 L509.0,148.2 L509.4,147.7 L509.8,148.1 L510.2,147.8 L510.6,147.8 L511.0,147.6 L511.4,147.9 L511.8,148.1 L512.2,148.0 L512.6,148.0 L513.0,147.6 L513.4,147.9 L513.8,147.6 L514.2,147.6 L514.6,148.0 L515.0,147.6 L515.4,148.0 L515.8,147.8 L516.2,148.2 L516.6,147.8 L517.0,148.0 L517.4,148.1 L517.8,148.0 L518.2,148.0 L518.6,147.4 L519.0,148.1 L519.4,147.5" fill="none" stroke="#b834c2" stroke-width="1.85" stroke-linejoin="round"/>
<path d="M46.6,164.9 L47.0,163.9 L47.4,163.7 L47.8,162.2 L48.2,163.4 L48.6,163.3 L49.0,163.5 L49.4,163.1 L49.8,163.5 L50.2,163.2 L50.6,162.6 L51.0,164.2 L51.4,164.2 L51.8,164.8 L52.2,163.6 L52.6,163.2 L53.0,163.1 L53.4,162.4 L53.8,164.2 L54.2,162.7 L54.6,162.6 L55.0,163.3 L55.4,164.6 L55.8,163.7 L56.2,162.7 L56.6,162.9 L57.0,163.9 L57.4,163.3 L57.8,162.9 L58.2,163.3 L58.6,164.0 L59.0,164.9 L59.4,162.5 L59.8,163.0 L60.2,162.8 L60.6,161.6 L61.0,162.7 L61.4,162.6 L61.8,164.2 L62.2,163.3 L62.6,162.2 L63.0,163.9 L63.4,163.1 L63.8,162.1 L64.2,162.9 L64.6,162.9 L65.0,162.7 L65.4,163.4 L65.8,161.6 L66.2,163.1 L66.6,164.1 L67.0,164.0 L67.4,164.1 L67.8,164.1 L68.2,164.4 L68.6,162.4 L69.0,163.9 L69.4,161.9 L69.8,162.8 L70.2,161.8 L70.6,164.0 L71.0,164.2 L71.4,163.1 L71.8,164.6 L72.2,162.7 L72.6,163.3 L73.0,163.3 L73.4,162.4 L73.8,163.5 L74.2,164.6 L74.6,162.4 L75.0,163.8 L75.4,163.0 L75.8,164.5 L76.2,163.5 L76.6,163.6 L77.0,163.6 L77.4,163.3 L77.8,162.1 L78.2,164.1 L78.6,162.1 L79.0,163.3 L79.4,163.5 L79.8,162.4 L80.2,163.2 L80.6,163.9 L81.0,163.0 L81.4,162.4 L81.8,160.8 L82.2,162.3 L82.6,162.6 L83.0,162.6 L83.4,162.3 L83.8,163.2 L84.2,162.5 L84.6,162.9 L85.0,163.4 L85.4,162.3 L85.8,162.7 L86.2,164.5 L86.6,163.5 L87.0,161.9 L87.4,162.8 L87.8,163.3 L88.2,163.8 L88.6,162.9 L89.0,162.4 L89.4,162.3 L89.8,163.3 L90.2,163.0 L90.6,162.4 L91.0,162.6 L91.4,162.4 L91.8,163.3 L92.2,162.2 L92.6,163.1 L93.0,163.3 L93.4,163.1 L93.8,162.1 L94.2,163.7 L94.6,162.2 L95.0,163.0 L95.4,162.1 L95.8,161.3 L96.2,162.8 L96.6,162.8 L97.0,162.5 L97.4,162.7 L97.8,162.0 L98.2,161.9 L98.6,162.3 L99.0,163.8 L99.4,162.9 L99.8,161.8 L100.2,162.4 L100.6,161.1 L101.0,159.3 L101.4,154.2 L101.8,143.3 L102.2,142.1 L102.6,152.3 L103.0,159.2 L103.4,160.7 L103.8,160.5 L104.2,154.6 L104.6,150.2 L105.0,152.2 L105.4,157.8 L105.8,161.6 L106.2,162.2 L106.6,161.4 L107.0,163.0 L107.4,161.3 L107.8,162.3 L108.2,162.3 L108.6,162.7 L109.0,161.8 L109.4,162.3 L109.8,162.3 L110.2,163.1 L110.6,161.8 L111.0,162.4 L111.4,162.2 L111.8,161.4 L112.2,164.4 L112.6,162.3 L113.0,161.3 L113.4,163.4 L113.8,161.6 L114.2,162.6 L114.6,163.0 L115.0,161.9 L115.4,162.0 L115.8,161.9 L116.2,162.3 L116.6,161.1 L117.0,161.4 L117.4,162.2 L117.8,163.1 L118.2,162.8 L118.6,163.6 L119.0,162.8 L119.4,161.9 L119.8,162.2 L120.2,160.8 L120.6,161.6 L121.0,161.5 L121.4,162.5 L121.8,162.8 L122.2,161.9 L122.6,161.9 L123.0,161.1 L123.4,162.2 L123.8,162.5 L124.2,162.6 L124.6,161.7 L125.0,163.8 L125.4,163.2 L125.8,162.2 L126.2,161.9 L126.6,162.0 L127.0,162.4 L127.4,162.2 L127.8,162.6 L128.2,162.8 L128.6,163.2 L129.0,163.0 L129.4,162.0 L129.8,162.3 L130.2,161.6 L130.6,161.2 L131.0,162.7 L131.4,160.5 L131.8,161.9 L132.2,159.9 L132.6,160.3 L133.0,161.2 L133.4,160.9 L133.8,161.6 L134.2,161.5 L134.6,161.5 L135.0,162.0 L135.4,161.7 L135.8,163.5 L136.2,162.2 L136.6,163.6 L137.0,160.3 L137.4,162.4 L137.8,162.8 L138.2,162.2 L138.6,163.2 L139.0,162.9 L139.4,162.2 L139.8,162.8 L140.2,164.6 L140.6,162.6 L141.0,162.7 L141.4,162.2 L141.8,162.6 L142.2,161.5 L142.6,162.4 L143.0,164.4 L143.4,163.3 L143.8,163.0 L144.2,163.4 L144.6,164.0 L145.0,163.0 L145.4,164.2 L145.8,163.4 L146.2,162.8 L146.6,163.9 L147.0,160.9 L147.4,162.3 L147.8,162.9 L148.2,162.0 L148.6,162.6 L149.0,162.3 L149.4,162.3 L149.8,164.8 L150.2,163.3 L150.6,162.8 L151.0,163.8 L151.4,162.7 L151.8,163.6 L152.2,163.2 L152.6,164.2 L153.0,162.0 L153.4,163.7 L153.8,163.2 L154.2,162.3 L154.6,164.0 L155.0,162.6 L155.4,164.6 L155.8,163.8 L156.2,164.0 L156.6,163.6 L157.0,164.3 L157.4,162.3 L157.8,163.8 L158.2,163.3 L158.6,164.0 L159.0,163.8 L159.4,164.4 L159.8,163.4 L160.2,165.4 L160.6,165.8 L161.0,164.0 L161.4,164.2 L161.8,164.4 L162.2,165.2 L162.6,165.7 L163.0,163.5 L163.4,164.0 L163.8,163.7 L164.2,163.7 L164.6,163.4 L165.0,164.8 L165.4,163.8 L165.8,165.7 L166.2,165.3 L166.6,164.0 L167.0,164.0 L167.4,164.4 L167.8,165.8 L168.2,164.3 L168.6,163.9 L169.0,164.9 L169.4,165.2 L169.8,164.5 L170.2,166.1 L170.6,165.2 L171.0,165.4 L171.4,164.6 L171.8,165.1 L172.2,165.1 L172.6,163.7 L173.0,165.4 L173.4,164.1 L173.8,165.3 L174.2,164.4 L174.6,166.7 L175.0,165.6 L175.4,165.9 L175.8,165.8 L176.2,164.1 L176.6,163.0 L177.0,163.5 L177.4,163.3 L177.8,162.0 L178.2,162.4 L178.6,163.3 L179.0,162.8 L179.4,164.9 L179.8,166.6 L180.2,165.3 L180.6,164.5 L181.0,165.8 L181.4,165.7 L181.8,166.3 L182.2,165.6 L182.6,166.2 L183.0,164.8 L183.4,166.8 L183.8,167.3 L184.2,167.1 L184.6,165.4 L185.0,166.6 L185.4,164.6 L185.8,166.6 L186.2,166.5 L186.6,165.9 L187.0,166.8 L187.4,166.7 L187.8,167.2 L188.2,166.7 L188.6,166.8 L189.0,165.6 L189.4,166.1 L189.8,166.5 L190.2,167.0 L190.6,166.8 L191.0,167.7 L191.4,166.4 L191.8,166.8 L192.2,167.1 L192.6,166.9 L193.0,167.3 L193.4,166.7 L193.8,167.9 L194.2,166.9 L194.6,167.8 L195.0,167.1 L195.4,168.0 L195.8,166.4 L196.2,167.5 L196.6,167.0 L197.0,167.4 L197.4,168.0 L197.8,166.7 L198.2,166.6 L198.6,166.8 L199.0,167.5 L199.4,166.4 L199.8,167.5 L200.2,166.8 L200.6,166.9 L201.0,167.3 L201.4,167.8 L201.8,167.2 L202.2,167.3 L202.6,167.6 L203.0,167.5 L203.4,166.3 L203.8,167.5 L204.2,167.8 L204.6,168.3 L205.0,168.8 L205.4,168.2 L205.8,167.9 L206.2,167.4 L206.6,167.9 L207.0,168.3 L207.4,168.6 L207.8,167.5 L208.2,168.1 L208.6,168.4 L209.0,169.0 L209.4,168.2 L209.8,167.8 L210.2,167.8 L210.6,168.0 L211.0,167.8 L211.4,168.6 L211.8,168.7 L212.2,168.6 L212.6,168.8 L213.0,168.1 L213.4,168.5 L213.8,168.2 L214.2,168.4 L214.6,169.0 L215.0,168.4 L215.4,167.5 L215.8,168.3 L216.2,168.1 L216.6,167.8 L217.0,168.2 L217.4,169.0 L217.8,169.4 L218.2,168.4 L218.6,169.1 L219.0,169.2 L219.4,168.1 L219.8,168.7 L220.2,168.7 L220.6,168.8 L221.0,168.0 L221.4,168.6 L221.8,169.3 L222.2,169.4 L222.6,169.6" fill="none" stroke="#1b7d5b" stroke-width="2.0" stroke-linejoin="round"/>
<path d="M222.6,169.6 L223.0,168.7 L223.4,169.7 L223.8,169.2 L224.2,168.3 L224.6,169.2 L225.0,168.8 L225.4,169.2 L225.8,168.9 L226.2,169.5 L226.6,169.1 L227.0,168.9 L227.4,169.5 L227.8,169.2 L228.2,168.9 L228.6,169.6 L229.0,168.9 L229.4,168.9 L229.8,168.9 L230.2,168.6 L230.6,169.0 L231.0,170.0 L231.4,168.8 L231.8,169.2 L232.2,168.8 L232.6,169.0 L233.0,169.9 L233.4,169.7 L233.8,169.1 L234.2,169.3 L234.6,169.0 L235.0,169.1 L235.4,169.0 L235.8,169.1 L236.2,169.6 L236.6,169.7 L237.0,169.7 L237.4,169.4 L237.8,169.0 L238.2,169.5 L238.6,169.2 L239.0,169.9 L239.4,169.8 L239.8,169.9 L240.2,169.5 L240.6,168.9 L241.0,170.0 L241.4,170.1 L241.8,169.1 L242.2,169.7 L242.6,170.1 L243.0,169.3 L243.4,170.4 L243.8,169.6 L244.2,169.4 L244.6,170.3 L245.0,169.9 L245.4,169.6 L245.8,170.1 L246.2,169.1 L246.6,170.5 L247.0,169.6 L247.4,170.0 L247.8,169.8 L248.2,170.1 L248.6,170.2 L249.0,169.7 L249.4,170.2 L249.8,169.9 L250.2,169.8 L250.6,169.9 L251.0,169.7 L251.4,169.8 L251.8,170.4 L252.2,170.0 L252.6,170.5 L253.0,170.2 L253.4,169.8 L253.8,169.5 L254.2,169.9 L254.6,170.2 L255.0,170.2 L255.4,169.9 L255.8,170.5 L256.2,169.6 L256.6,169.8 L257.0,170.3 L257.4,170.9 L257.8,170.4 L258.2,169.9 L258.6,170.5 L259.0,170.5 L259.4,170.6 L259.8,170.2 L260.2,170.1 L260.6,170.4 L261.0,170.5 L261.4,170.9 L261.8,171.0 L262.2,170.2 L262.6,170.2 L263.0,170.4 L263.4,170.4 L263.8,170.6 L264.2,170.6 L264.6,170.5 L265.0,170.9 L265.4,170.4 L265.8,170.2 L266.2,170.0 L266.6,170.2 L267.0,170.2 L267.4,170.0 L267.8,170.7 L268.2,170.6 L268.6,170.4 L269.0,170.3 L269.4,170.1 L269.8,170.3 L270.2,171.2 L270.6,170.0 L271.0,170.7 L271.4,170.9 L271.8,170.7 L272.2,170.6 L272.6,170.9 L273.0,170.3 L273.4,170.9 L273.8,171.1 L274.2,170.4 L274.6,170.5 L275.0,170.8 L275.4,171.0 L275.8,171.1 L276.2,171.0 L276.6,170.6 L277.0,170.4 L277.4,170.9 L277.8,170.9 L278.2,170.5 L278.6,170.8 L279.0,170.9 L279.4,171.1 L279.8,170.5 L280.2,171.0 L280.6,170.5 L281.0,170.7 L281.4,170.8 L281.8,171.3 L282.2,171.9 L282.6,171.0 L283.0,171.0 L283.4,171.2 L283.8,170.5 L284.2,171.1 L284.6,170.5 L285.0,171.4 L285.4,171.3 L285.8,171.1 L286.2,170.7 L286.6,171.4 L287.0,171.0 L287.4,170.9 L287.8,171.1 L288.2,170.4 L288.6,171.0 L289.0,171.1 L289.4,170.7 L289.8,170.4 L290.2,169.7 L290.6,169.4 L291.0,168.4 L291.4,167.5 L291.8,166.9 L292.2,167.5 L292.6,168.3 L293.0,168.8 L293.4,169.6 L293.8,170.1 L294.2,170.2 L294.6,169.7 L295.0,169.5 L295.4,169.4 L295.8,169.7 L296.2,170.2 L296.6,170.6 L297.0,170.5 L297.4,170.9 L297.8,170.7 L298.2,171.4 L298.6,171.0 L299.0,171.2 L299.4,171.0 L299.8,171.1 L300.2,171.0 L300.6,171.7 L301.0,171.3 L301.4,171.2 L301.8,171.0 L302.2,171.1 L302.6,171.4 L303.0,171.8 L303.4,170.9 L303.8,171.0 L304.2,171.3 L304.6,171.1 L305.0,170.8 L305.4,171.3 L305.8,171.6 L306.2,170.9 L306.6,171.4 L307.0,171.6 L307.4,171.6 L307.8,171.2 L308.2,172.0 L308.6,171.5 L309.0,171.2 L309.4,171.7 L309.8,171.1 L310.2,171.7 L310.6,171.0 L311.0,171.6 L311.4,171.3 L311.8,171.8 L312.2,171.7 L312.6,171.6 L313.0,171.5 L313.4,171.8 L313.8,170.9 L314.2,171.6 L314.6,171.6 L315.0,171.6 L315.4,171.7 L315.8,172.6 L316.2,171.5 L316.6,171.7 L317.0,171.5 L317.4,172.0 L317.8,170.9 L318.2,172.0 L318.6,171.3 L319.0,170.9 L319.4,171.2 L319.8,171.5 L320.2,171.6 L320.6,171.5 L321.0,171.8 L321.4,171.5 L321.8,171.5 L322.2,170.9 L322.6,171.7 L323.0,171.9 L323.4,171.4 L323.8,171.0 L324.2,171.2 L324.6,172.1 L325.0,171.4 L325.4,171.4 L325.8,171.4 L326.2,171.8 L326.6,171.4 L327.0,171.3 L327.4,171.2 L327.8,171.6 L328.2,171.9 L328.6,171.6 L329.0,171.9 L329.4,171.7 L329.8,171.7 L330.2,171.7 L330.6,171.6 L331.0,171.9 L331.4,171.8 L331.8,171.5 L332.2,171.7 L332.6,171.6 L333.0,171.8 L333.4,171.7 L333.8,171.8 L334.2,171.2 L334.6,171.8 L335.0,172.0 L335.4,171.3 L335.8,172.1 L336.2,171.8 L336.6,171.6 L337.0,171.2 L337.4,172.0 L337.8,171.4 L338.2,171.5 L338.6,171.9 L339.0,171.4 L339.4,171.4 L339.8,171.4 L340.2,171.7 L340.6,171.9 L341.0,171.8 L341.4,171.8 L341.8,171.6 L342.2,171.8 L342.6,171.5 L343.0,172.3 L343.4,171.8 L343.8,171.2 L344.2,171.4 L344.6,172.2 L345.0,171.4 L345.4,171.6 L345.8,171.9 L346.2,171.4 L346.6,172.1 L347.0,172.2 L347.4,171.5 L347.8,172.1 L348.2,171.5 L348.6,171.5 L349.0,171.8 L349.4,171.8 L349.8,171.6 L350.2,172.0 L350.6,171.4 L351.0,171.5 L351.4,171.5 L351.8,172.0 L352.2,172.0 L352.6,172.0 L353.0,171.4 L353.4,171.8 L353.8,171.9 L354.2,171.3 L354.6,171.6 L355.0,172.0 L355.4,172.0 L355.8,171.9 L356.2,172.0 L356.6,171.9 L357.0,171.9 L357.4,171.8 L357.8,171.6 L358.2,171.8 L358.6,171.7 L359.0,172.5 L359.4,171.9 L359.8,171.8 L360.2,171.8 L360.6,171.8 L361.0,171.8 L361.4,172.0 L361.8,171.8 L362.2,172.1 L362.6,171.7 L363.0,172.0 L363.4,172.1 L363.8,171.5 L364.2,171.9 L364.6,171.9 L365.0,171.8 L365.4,171.7 L365.8,171.4 L366.2,172.2 L366.6,171.6 L367.0,171.5 L367.4,172.1 L367.8,171.4 L368.2,172.2 L368.6,172.0 L369.0,172.1 L369.4,171.9 L369.8,171.6 L370.2,171.4 L370.6,172.3 L371.0,171.8 L371.4,171.8 L371.8,172.4 L372.2,171.7 L372.6,171.9 L373.0,171.9 L373.4,171.9 L373.8,171.6 L374.2,171.8 L374.6,172.3 L375.0,172.1 L375.4,171.1 L375.8,171.4 L376.2,172.0 L376.6,171.9 L377.0,171.8 L377.4,172.2 L377.8,171.5 L378.2,172.3 L378.6,172.0 L379.0,172.1 L379.4,172.0 L379.8,172.2 L380.2,171.9 L380.6,171.8 L381.0,172.2 L381.4,172.0 L381.8,171.6 L382.2,172.4 L382.6,172.3 L383.0,172.4 L383.4,172.0 L383.8,172.1 L384.2,171.9 L384.6,171.7 L385.0,172.0 L385.4,172.1 L385.8,171.8 L386.2,172.5 L386.6,171.6 L387.0,171.8 L387.4,171.8 L387.8,172.4 L388.2,172.0 L388.6,171.9 L389.0,171.8 L389.4,171.8 L389.8,171.7 L390.2,172.3 L390.6,172.2 L391.0,172.3 L391.4,171.9 L391.8,172.7 L392.2,171.8 L392.6,171.5 L393.0,172.0 L393.4,172.1 L393.8,172.3 L394.2,171.8 L394.6,172.2 L395.0,172.5 L395.4,171.8 L395.8,171.9 L396.2,171.6 L396.6,172.2 L397.0,172.3 L397.4,172.3 L397.8,172.3 L398.2,172.5 L398.6,172.1 L399.0,172.4 L399.4,171.9 L399.8,171.9 L400.2,172.2 L400.6,171.9 L401.0,172.3 L401.4,172.5 L401.8,172.2 L402.2,171.9 L402.6,171.9 L403.0,172.5 L403.4,171.9 L403.8,172.2 L404.2,172.1 L404.6,172.2 L405.0,172.5 L405.4,172.0 L405.8,171.8 L406.2,172.6 L406.6,172.2 L407.0,172.4 L407.4,172.2 L407.8,172.4 L408.2,172.5 L408.6,172.6 L409.0,172.1 L409.4,172.1 L409.8,172.3 L410.2,172.3 L410.6,172.4 L411.0,172.0 L411.4,171.6 L411.8,172.3 L412.2,172.4 L412.6,172.4 L413.0,172.7 L413.4,172.5 L413.8,172.1 L414.2,172.5 L414.6,172.2 L415.0,172.6 L415.4,172.3 L415.8,172.4 L416.2,172.3 L416.6,172.3 L417.0,171.9 L417.4,172.3 L417.8,171.6 L418.2,172.4 L418.6,172.5 L419.0,172.8 L419.4,172.4 L419.8,172.1 L420.2,171.9 L420.6,172.8 L421.0,171.9 L421.4,172.5 L421.8,171.7 L422.2,172.3 L422.6,172.5 L423.0,172.4 L423.4,172.3 L423.8,172.1 L424.2,172.1 L424.6,172.6 L425.0,172.4 L425.4,172.3 L425.8,172.4 L426.2,172.1 L426.6,172.6 L427.0,172.7 L427.4,172.1 L427.8,172.4 L428.2,172.6 L428.6,172.2 L429.0,172.9 L429.4,172.8 L429.8,172.3 L430.2,172.6 L430.6,172.8 L431.0,172.0 L431.4,172.5 L431.8,172.3 L432.2,172.3 L432.6,172.6 L433.0,172.2 L433.4,172.0 L433.8,172.0 L434.2,172.4 L434.6,172.6 L435.0,172.4 L435.4,172.4 L435.8,172.4 L436.2,172.7 L436.6,172.5 L437.0,172.2 L437.4,172.3 L437.8,172.7 L438.2,172.3 L438.6,172.3 L439.0,172.4 L439.4,172.1 L439.8,172.7 L440.2,171.8 L440.6,172.8 L441.0,172.3 L441.4,172.1 L441.8,172.5 L442.2,172.0 L442.6,172.6 L443.0,172.7 L443.4,172.3 L443.8,172.3 L444.2,172.7 L444.6,172.3 L445.0,172.5 L445.4,172.6 L445.8,172.9 L446.2,172.3 L446.6,172.5 L447.0,172.8 L447.4,171.8 L447.8,172.4 L448.2,172.0 L448.6,172.0 L449.0,173.0 L449.4,172.5 L449.8,172.9 L450.2,172.4 L450.6,172.6 L451.0,172.4 L451.4,172.4 L451.8,172.5 L452.2,172.5 L452.6,172.9 L453.0,172.5 L453.4,172.6 L453.8,172.4 L454.2,172.5 L454.6,172.2 L455.0,172.8 L455.4,172.4 L455.8,172.5 L456.2,172.5 L456.6,172.8 L457.0,172.7 L457.4,172.5 L457.8,172.6 L458.2,172.6 L458.6,172.7 L459.0,172.7 L459.4,172.9 L459.8,173.0 L460.2,172.7 L460.6,172.2 L461.0,173.0 L461.4,173.1 L461.8,172.5 L462.2,172.4 L462.6,172.0 L463.0,172.8 L463.4,172.3 L463.8,173.0 L464.2,171.9 L464.6,172.6 L465.0,172.7 L465.4,172.5 L465.8,172.4 L466.2,172.6 L466.6,172.4 L467.0,172.5 L467.4,172.6 L467.8,172.4 L468.2,172.5 L468.6,172.8 L469.0,172.5 L469.4,172.6 L469.8,172.4 L470.2,172.8 L470.6,172.3 L471.0,172.8 L471.4,171.8 L471.8,172.4 L472.2,172.2 L472.6,172.9 L473.0,172.7 L473.4,172.3 L473.8,172.5 L474.2,173.0 L474.6,172.6 L475.0,172.8 L475.4,172.2 L475.8,172.2 L476.2,172.8 L476.6,173.2 L477.0,172.5 L477.4,172.8 L477.8,172.4 L478.2,173.0 L478.6,172.5 L479.0,172.5 L479.4,172.1 L479.8,172.5 L480.2,172.7 L480.6,173.0 L481.0,172.3 L481.4,172.9 L481.8,172.6 L482.2,172.6 L482.6,172.4 L483.0,172.2 L483.4,172.3 L483.8,173.1 L484.2,172.3 L484.6,172.5 L485.0,172.9 L485.4,172.1 L485.8,172.8 L486.2,172.5 L486.6,172.7 L487.0,172.9 L487.4,172.6 L487.8,172.6 L488.2,172.9 L488.6,172.8 L489.0,172.5 L489.4,172.6 L489.8,172.3 L490.2,173.0 L490.6,172.4 L491.0,172.7 L491.4,173.1 L491.8,172.9 L492.2,172.6 L492.6,172.5 L493.0,172.5 L493.4,172.9 L493.8,172.8 L494.2,172.7 L494.6,173.4 L495.0,172.5 L495.4,172.6 L495.8,172.6 L496.2,172.8 L496.6,172.8 L497.0,172.6 L497.4,172.9 L497.8,172.9 L498.2,172.6 L498.6,172.1 L499.0,172.9 L499.4,172.5 L499.8,172.6 L500.2,172.7 L500.6,172.4 L501.0,172.5 L501.4,172.7 L501.8,172.6 L502.2,172.8 L502.6,172.5 L503.0,172.7 L503.4,172.5 L503.8,172.7 L504.2,172.8 L504.6,172.7 L505.0,172.4 L505.4,172.7 L505.8,172.8 L506.2,173.0 L506.6,172.7 L507.0,172.6 L507.4,172.4 L507.8,173.2 L508.2,172.5 L508.6,172.5 L509.0,172.7 L509.4,172.3 L509.8,173.0 L510.2,172.8 L510.6,172.9 L511.0,172.5 L511.4,172.6 L511.8,173.0 L512.2,173.0 L512.6,173.5 L513.0,173.0 L513.4,172.3 L513.8,172.8 L514.2,172.7 L514.6,173.0 L515.0,172.7 L515.4,172.9 L515.8,172.7 L516.2,172.9 L516.6,173.1 L517.0,172.6 L517.4,172.3 L517.8,172.5 L518.2,173.2 L518.6,172.8 L519.0,172.7 L519.4,172.5" fill="none" stroke="#1b7d5b" stroke-width="1.85" stroke-linejoin="round"/>
<path d="M46.6,205.6 L47.0,206.0 L47.4,204.8 L47.8,206.1 L48.2,205.2 L48.6,204.3 L49.0,205.0 L49.4,205.9 L49.8,205.7 L50.2,204.6 L50.6,205.9 L51.0,205.4 L51.4,205.7 L51.8,205.7 L52.2,204.5 L52.6,205.6 L53.0,204.9 L53.4,206.5 L53.8,205.9 L54.2,205.3 L54.6,204.5 L55.0,205.3 L55.4,205.4 L55.8,204.3 L56.2,206.9 L56.6,205.5 L57.0,206.4 L57.4,204.3 L57.8,206.4 L58.2,204.1 L58.6,204.6 L59.0,205.5 L59.4,205.1 L59.8,203.3 L60.2,204.2 L60.6,205.6 L61.0,206.6 L61.4,205.7 L61.8,204.7 L62.2,205.5 L62.6,204.0 L63.0,205.3 L63.4,203.9 L63.8,204.8 L64.2,204.7 L64.6,205.4 L65.0,204.6 L65.4,205.7 L65.8,204.6 L66.2,205.3 L66.6,205.3 L67.0,203.3 L67.4,204.7 L67.8,204.7 L68.2,204.0 L68.6,204.7 L69.0,203.5 L69.4,205.0 L69.8,204.9 L70.2,204.7 L70.6,206.3 L71.0,204.7 L71.4,204.5 L71.8,203.8 L72.2,204.6 L72.6,203.6 L73.0,205.3 L73.4,203.8 L73.8,204.4 L74.2,205.7 L74.6,205.1 L75.0,204.4 L75.4,205.2 L75.8,204.1 L76.2,204.7 L76.6,204.1 L77.0,203.4 L77.4,204.4 L77.8,204.7 L78.2,203.7 L78.6,203.1 L79.0,203.5 L79.4,202.1 L79.8,203.4 L80.2,203.0 L80.6,205.3 L81.0,203.4 L81.4,202.6 L81.8,204.4 L82.2,203.6 L82.6,203.7 L83.0,203.8 L83.4,203.7 L83.8,203.3 L84.2,204.2 L84.6,203.9 L85.0,203.1 L85.4,203.3 L85.8,202.7 L86.2,203.6 L86.6,203.9 L87.0,203.8 L87.4,203.7 L87.8,203.1 L88.2,204.4 L88.6,203.0 L89.0,203.2 L89.4,202.8 L89.8,203.1 L90.2,202.8 L90.6,204.5 L91.0,203.3 L91.4,201.7 L91.8,202.6 L92.2,201.8 L92.6,203.5 L93.0,203.8 L93.4,202.4 L93.8,203.2 L94.2,202.5 L94.6,202.9 L95.0,203.9 L95.4,202.3 L95.8,201.5 L96.2,202.9 L96.6,202.7 L97.0,202.8 L97.4,203.0 L97.8,201.6 L98.2,200.6 L98.6,202.8 L99.0,201.6 L99.4,200.9 L99.8,200.8 L100.2,202.3 L100.6,201.4 L101.0,201.2 L101.4,200.9 L101.8,198.1 L102.2,193.5 L102.6,185.2 L103.0,173.0 L103.4,164.9 L103.8,168.0 L104.2,180.3 L104.6,190.0 L105.0,195.0 L105.4,195.6 L105.8,194.2 L106.2,194.2 L106.6,196.1 L107.0,199.4 L107.4,200.8 L107.8,202.9 L108.2,203.6 L108.6,202.2 L109.0,203.4 L109.4,202.7 L109.8,202.9 L110.2,203.2 L110.6,202.8 L111.0,203.8 L111.4,202.1 L111.8,202.7 L112.2,203.1 L112.6,202.4 L113.0,203.5 L113.4,202.1 L113.8,203.3 L114.2,202.1 L114.6,203.1 L115.0,203.6 L115.4,204.8 L115.8,203.9 L116.2,204.3 L116.6,203.1 L117.0,204.7 L117.4,202.9 L117.8,202.8 L118.2,202.0 L118.6,203.1 L119.0,203.7 L119.4,202.4 L119.8,202.6 L120.2,202.5 L120.6,202.5 L121.0,202.2 L121.4,201.5 L121.8,203.1 L122.2,199.6 L122.6,198.8 L123.0,199.0 L123.4,200.5 L123.8,201.1 L124.2,201.9 L124.6,202.4 L125.0,202.3 L125.4,203.2 L125.8,202.1 L126.2,201.8 L126.6,202.2 L127.0,202.6 L127.4,203.4 L127.8,203.7 L128.2,202.2 L128.6,201.4 L129.0,201.5 L129.4,204.1 L129.8,202.2 L130.2,202.8 L130.6,203.9 L131.0,201.9 L131.4,202.1 L131.8,201.3 L132.2,198.6 L132.6,194.7 L133.0,193.0 L133.4,196.0 L133.8,201.9 L134.2,202.1 L134.6,202.7 L135.0,202.9 L135.4,201.9 L135.8,202.7 L136.2,202.2 L136.6,204.5 L137.0,204.7 L137.4,203.2 L137.8,202.3 L138.2,204.1 L138.6,203.2 L139.0,204.7 L139.4,204.9 L139.8,204.7 L140.2,203.2 L140.6,202.8 L141.0,203.1 L141.4,203.6 L141.8,203.0 L142.2,204.7 L142.6,204.3 L143.0,203.9 L143.4,203.6 L143.8,204.5 L144.2,205.1 L144.6,202.6 L145.0,204.3 L145.4,204.0 L145.8,203.7 L146.2,204.0 L146.6,204.4 L147.0,205.8 L147.4,204.5 L147.8,204.1 L148.2,203.6 L148.6,205.1 L149.0,204.0 L149.4,204.6 L149.8,205.2 L150.2,204.8 L150.6,204.5 L151.0,204.7 L151.4,205.6 L151.8,204.9 L152.2,205.2 L152.6,205.4 L153.0,204.9 L153.4,205.4 L153.8,205.0 L154.2,206.1 L154.6,205.7 L155.0,204.1 L155.4,205.3 L155.8,206.3 L156.2,205.4 L156.6,205.3 L157.0,206.4 L157.4,204.9 L157.8,205.8 L158.2,206.3 L158.6,206.5 L159.0,205.2 L159.4,205.1 L159.8,207.2 L160.2,205.6 L160.6,206.1 L161.0,208.0 L161.4,206.0 L161.8,204.8 L162.2,208.4 L162.6,207.2 L163.0,206.8 L163.4,208.6 L163.8,206.6 L164.2,207.7 L164.6,206.8 L165.0,206.6 L165.4,207.3 L165.8,207.6 L166.2,207.9 L166.6,207.9 L167.0,206.8 L167.4,207.1 L167.8,208.5 L168.2,207.7 L168.6,207.4 L169.0,208.3 L169.4,208.4 L169.8,208.3 L170.2,207.1 L170.6,207.3 L171.0,208.1 L171.4,208.4 L171.8,206.9 L172.2,207.4 L172.6,207.6 L173.0,208.4 L173.4,207.0 L173.8,209.5 L174.2,207.6 L174.6,207.6 L175.0,208.1 L175.4,206.4 L175.8,205.7 L176.2,204.7 L176.6,205.2 L177.0,204.8 L177.4,206.1 L177.8,206.6 L178.2,205.8 L178.6,206.6 L179.0,205.6 L179.4,203.9 L179.8,206.2 L180.2,206.0 L180.6,207.9 L181.0,207.7 L181.4,208.4 L181.8,209.1 L182.2,210.2 L182.6,208.1 L183.0,208.9 L183.4,209.0 L183.8,209.9 L184.2,209.1 L184.6,209.6 L185.0,210.2 L185.4,209.9 L185.8,209.2 L186.2,209.2 L186.6,209.4 L187.0,209.7 L187.4,209.1 L187.8,209.6 L188.2,210.0 L188.6,209.4 L189.0,209.5 L189.4,209.9 L189.8,210.3 L190.2,209.1 L190.6,209.3 L191.0,210.6 L191.4,209.9 L191.8,209.3 L192.2,210.1 L192.6,210.9 L193.0,209.7 L193.4,209.5 L193.8,210.0 L194.2,211.0 L194.6,209.8 L195.0,210.5 L195.4,210.8 L195.8,210.6 L196.2,210.1 L196.6,210.6 L197.0,210.4 L197.4,210.8 L197.8,210.6 L198.2,210.4 L198.6,209.4 L199.0,210.8 L199.4,210.4 L199.8,209.3 L200.2,210.5 L200.6,210.7 L201.0,210.5 L201.4,209.3 L201.8,210.2 L202.2,210.1 L202.6,210.5 L203.0,209.4 L203.4,210.8 L203.8,211.0 L204.2,211.0 L204.6,210.7 L205.0,210.7 L205.4,211.3 L205.8,211.0 L206.2,210.6 L206.6,211.0 L207.0,211.2 L207.4,211.5 L207.8,211.1 L208.2,210.5 L208.6,210.7 L209.0,211.1 L209.4,211.1 L209.8,211.5 L210.2,210.1 L210.6,210.7 L211.0,210.5 L211.4,211.6 L211.8,211.5 L212.2,211.3 L212.6,211.6 L213.0,210.9 L213.4,211.5 L213.8,211.2 L214.2,211.3 L214.6,211.2 L215.0,211.7 L215.4,211.8 L215.8,210.6 L216.2,211.1 L216.6,211.4 L217.0,211.6 L217.4,210.6 L217.8,211.0 L218.2,211.3 L218.6,212.2 L219.0,211.1 L219.4,211.3 L219.8,211.5 L220.2,211.5 L220.6,211.6 L221.0,211.5 L221.4,211.5 L221.8,211.7 L222.2,211.7 L222.6,211.8" fill="none" stroke="#e2408b" stroke-width="2.0" stroke-linejoin="round"/>
<path d="M222.6,211.8 L223.0,211.8 L223.4,211.1 L223.8,211.8 L224.2,211.8 L224.6,212.1 L225.0,212.0 L225.4,212.4 L225.8,211.4 L226.2,211.7 L226.6,211.9 L227.0,211.5 L227.4,211.7 L227.8,211.7 L228.2,211.7 L228.6,212.8 L229.0,211.9 L229.4,212.5 L229.8,211.6 L230.2,212.1 L230.6,211.7 L231.0,212.1 L231.4,212.7 L231.8,212.8 L232.2,212.4 L232.6,212.2 L233.0,212.1 L233.4,212.2 L233.8,212.7 L234.2,211.5 L234.6,212.0 L235.0,211.8 L235.4,212.6 L235.8,211.7 L236.2,212.5 L236.6,211.8 L237.0,211.8 L237.4,212.8 L237.8,212.7 L238.2,211.9 L238.6,211.6 L239.0,212.0 L239.4,212.6 L239.8,212.3 L240.2,212.0 L240.6,212.6 L241.0,212.9 L241.4,212.0 L241.8,212.4 L242.2,212.1 L242.6,212.9 L243.0,212.5 L243.4,212.3 L243.8,211.9 L244.2,212.8 L244.6,212.4 L245.0,212.6 L245.4,212.5 L245.8,212.7 L246.2,212.0 L246.6,212.3 L247.0,212.8 L247.4,213.3 L247.8,212.8 L248.2,212.7 L248.6,212.5 L249.0,212.5 L249.4,212.6 L249.8,212.5 L250.2,212.8 L250.6,212.8 L251.0,213.5 L251.4,212.8 L251.8,213.2 L252.2,212.7 L252.6,213.2 L253.0,213.7 L253.4,212.7 L253.8,212.5 L254.2,213.3 L254.6,212.9 L255.0,212.8 L255.4,213.1 L255.8,213.1 L256.2,213.4 L256.6,213.1 L257.0,212.8 L257.4,212.7 L257.8,212.5 L258.2,212.7 L258.6,213.4 L259.0,212.6 L259.4,213.1 L259.8,213.5 L260.2,213.3 L260.6,213.6 L261.0,213.4 L261.4,213.6 L261.8,213.0 L262.2,212.9 L262.6,213.8 L263.0,213.3 L263.4,213.2 L263.8,213.1 L264.2,213.7 L264.6,213.4 L265.0,213.4 L265.4,213.1 L265.8,213.3 L266.2,213.2 L266.6,213.3 L267.0,213.4 L267.4,213.2 L267.8,213.1 L268.2,213.6 L268.6,213.1 L269.0,213.8 L269.4,213.8 L269.8,213.0 L270.2,213.9 L270.6,213.2 L271.0,213.8 L271.4,213.3 L271.8,213.7 L272.2,213.2 L272.6,213.7 L273.0,213.5 L273.4,214.0 L273.8,213.7 L274.2,213.3 L274.6,213.6 L275.0,213.3 L275.4,213.6 L275.8,214.0 L276.2,214.0 L276.6,213.6 L277.0,213.3 L277.4,213.6 L277.8,214.2 L278.2,213.6 L278.6,213.2 L279.0,213.2 L279.4,213.3 L279.8,214.0 L280.2,213.6 L280.6,213.4 L281.0,213.8 L281.4,214.0 L281.8,213.6 L282.2,213.5 L282.6,213.8 L283.0,213.9 L283.4,213.2 L283.8,213.3 L284.2,214.3 L284.6,213.8 L285.0,213.8 L285.4,213.3 L285.8,213.4 L286.2,213.6 L286.6,214.0 L287.0,213.6 L287.4,213.0 L287.8,213.9 L288.2,213.8 L288.6,213.5 L289.0,212.8 L289.4,212.8 L289.8,212.8 L290.2,212.7 L290.6,213.1 L291.0,212.0 L291.4,212.0 L291.8,212.1 L292.2,211.8 L292.6,211.7 L293.0,211.4 L293.4,211.8 L293.8,211.8 L294.2,212.0 L294.6,212.4 L295.0,212.2 L295.4,212.4 L295.8,212.7 L296.2,212.7 L296.6,213.0 L297.0,212.6 L297.4,213.1 L297.8,213.6 L298.2,213.6 L298.6,213.9 L299.0,213.4 L299.4,213.7 L299.8,213.9 L300.2,213.9 L300.6,213.9 L301.0,214.4 L301.4,213.9 L301.8,214.0 L302.2,214.3 L302.6,214.3 L303.0,214.2 L303.4,214.6 L303.8,214.3 L304.2,214.1 L304.6,213.9 L305.0,214.6 L305.4,214.0 L305.8,214.3 L306.2,214.1 L306.6,214.9 L307.0,214.5 L307.4,213.8 L307.8,214.4 L308.2,213.9 L308.6,214.1 L309.0,214.5 L309.4,214.0 L309.8,214.4 L310.2,214.3 L310.6,214.6 L311.0,214.1 L311.4,214.5 L311.8,214.3 L312.2,214.7 L312.6,214.4 L313.0,214.6 L313.4,214.8 L313.8,214.7 L314.2,214.4 L314.6,214.6 L315.0,214.4 L315.4,214.6 L315.8,214.9 L316.2,214.2 L316.6,214.1 L317.0,214.6 L317.4,214.3 L317.8,214.8 L318.2,214.7 L318.6,214.7 L319.0,214.5 L319.4,214.4 L319.8,214.3 L320.2,214.4 L320.6,214.5 L321.0,214.3 L321.4,214.9 L321.8,214.8 L322.2,214.2 L322.6,213.8 L323.0,214.9 L323.4,214.3 L323.8,213.8 L324.2,214.1 L324.6,214.7 L325.0,215.0 L325.4,214.9 L325.8,215.1 L326.2,215.2 L326.6,215.2 L327.0,214.4 L327.4,214.6 L327.8,214.5 L328.2,214.7 L328.6,214.6 L329.0,214.8 L329.4,215.2 L329.8,214.5 L330.2,214.9 L330.6,214.5 L331.0,214.4 L331.4,215.0 L331.8,214.7 L332.2,214.8 L332.6,215.2 L333.0,214.4 L333.4,214.8 L333.8,215.2 L334.2,214.5 L334.6,214.9 L335.0,215.1 L335.4,215.1 L335.8,215.0 L336.2,215.1 L336.6,215.0 L337.0,215.1 L337.4,215.0 L337.8,214.6 L338.2,214.9 L338.6,214.8 L339.0,215.2 L339.4,215.0 L339.8,215.0 L340.2,214.9 L340.6,215.1 L341.0,214.8 L341.4,215.0 L341.8,214.7 L342.2,214.8 L342.6,214.6 L343.0,215.6 L343.4,215.1 L343.8,214.7 L344.2,214.9 L344.6,215.1 L345.0,214.8 L345.4,215.2 L345.8,215.1 L346.2,215.3 L346.6,214.2 L347.0,215.2 L347.4,215.1 L347.8,215.3 L348.2,214.9 L348.6,214.8 L349.0,214.7 L349.4,215.2 L349.8,215.1 L350.2,214.6 L350.6,214.9 L351.0,215.0 L351.4,214.7 L351.8,215.0 L352.2,215.0 L352.6,214.9 L353.0,214.6 L353.4,215.4 L353.8,215.2 L354.2,215.2 L354.6,214.9 L355.0,215.2 L355.4,214.9 L355.8,215.1 L356.2,215.2 L356.6,215.3 L357.0,215.0 L357.4,214.9 L357.8,215.5 L358.2,214.8 L358.6,215.2 L359.0,215.1 L359.4,215.4 L359.8,215.1 L360.2,214.9 L360.6,215.2 L361.0,214.8 L361.4,214.9 L361.8,215.2 L362.2,215.2 L362.6,214.8 L363.0,215.6 L363.4,215.2 L363.8,215.6 L364.2,215.5 L364.6,215.3 L365.0,215.1 L365.4,214.9 L365.8,215.5 L366.2,215.7 L366.6,215.3 L367.0,215.3 L367.4,215.0 L367.8,215.0 L368.2,215.3 L368.6,215.6 L369.0,215.2 L369.4,215.6 L369.8,215.4 L370.2,215.3 L370.6,215.1 L371.0,215.2 L371.4,215.0 L371.8,215.6 L372.2,215.5 L372.6,215.1 L373.0,215.2 L373.4,215.0 L373.8,215.4 L374.2,215.5 L374.6,215.1 L375.0,215.3 L375.4,215.5 L375.8,214.9 L376.2,215.5 L376.6,215.8 L377.0,215.9 L377.4,215.4 L377.8,215.4 L378.2,215.6 L378.6,215.6 L379.0,215.8 L379.4,215.5 L379.8,215.5 L380.2,215.6 L380.6,215.9 L381.0,215.2 L381.4,215.8 L381.8,215.6 L382.2,215.6 L382.6,215.3 L383.0,215.5 L383.4,215.3 L383.8,214.8 L384.2,215.6 L384.6,215.2 L385.0,215.6 L385.4,215.2 L385.8,215.4 L386.2,215.4 L386.6,215.1 L387.0,215.6 L387.4,215.4 L387.8,214.9 L388.2,216.1 L388.6,215.7 L389.0,215.7 L389.4,215.6 L389.8,215.8 L390.2,215.5 L390.6,215.8 L391.0,215.9 L391.4,215.5 L391.8,215.6 L392.2,215.7 L392.6,215.2 L393.0,215.7 L393.4,215.6 L393.8,216.0 L394.2,215.7 L394.6,215.4 L395.0,215.7 L395.4,215.5 L395.8,215.0 L396.2,215.6 L396.6,215.3 L397.0,216.0 L397.4,215.8 L397.8,215.9 L398.2,215.8 L398.6,215.6 L399.0,215.9 L399.4,215.3 L399.8,215.9 L400.2,215.7 L400.6,215.2 L401.0,215.7 L401.4,215.9 L401.8,215.6 L402.2,216.1 L402.6,216.1 L403.0,215.6 L403.4,215.5 L403.8,215.7 L404.2,215.6 L404.6,215.9 L405.0,216.1 L405.4,215.9 L405.8,216.0 L406.2,215.8 L406.6,215.7 L407.0,215.6 L407.4,216.4 L407.8,216.0 L408.2,216.0 L408.6,215.6 L409.0,215.4 L409.4,215.6 L409.8,215.7 L410.2,215.7 L410.6,216.0 L411.0,215.7 L411.4,216.0 L411.8,216.0 L412.2,216.0 L412.6,215.8 L413.0,216.1 L413.4,215.9 L413.8,215.9 L414.2,215.8 L414.6,215.8 L415.0,215.9 L415.4,216.1 L415.8,215.7 L416.2,215.8 L416.6,215.9 L417.0,216.2 L417.4,215.9 L417.8,216.1 L418.2,216.2 L418.6,215.9 L419.0,216.3 L419.4,215.7 L419.8,215.6 L420.2,215.6 L420.6,215.7 L421.0,215.8 L421.4,215.9 L421.8,216.0 L422.2,215.8 L422.6,215.8 L423.0,216.1 L423.4,215.9 L423.8,216.0 L424.2,215.9 L424.6,215.6 L425.0,216.0 L425.4,215.9 L425.8,216.1 L426.2,216.0 L426.6,215.8 L427.0,216.4 L427.4,215.7 L427.8,215.5 L428.2,215.8 L428.6,215.9 L429.0,216.1 L429.4,215.9 L429.8,216.0 L430.2,216.1 L430.6,216.2 L431.0,215.6 L431.4,216.1 L431.8,215.7 L432.2,216.3 L432.6,215.8 L433.0,215.9 L433.4,216.2 L433.8,216.0 L434.2,216.0 L434.6,216.2 L435.0,215.9 L435.4,215.9 L435.8,216.3 L436.2,215.9 L436.6,216.1 L437.0,215.8 L437.4,216.1 L437.8,216.0 L438.2,216.2 L438.6,216.7 L439.0,215.6 L439.4,215.8 L439.8,216.0 L440.2,216.1 L440.6,215.7 L441.0,216.1 L441.4,215.9 L441.8,216.1 L442.2,215.9 L442.6,216.9 L443.0,216.2 L443.4,216.3 L443.8,215.5 L444.2,215.9 L444.6,216.1 L445.0,216.6 L445.4,215.9 L445.8,216.2 L446.2,215.9 L446.6,216.1 L447.0,215.7 L447.4,215.7 L447.8,216.0 L448.2,216.4 L448.6,216.4 L449.0,216.1 L449.4,215.8 L449.8,216.5 L450.2,216.1 L450.6,215.9 L451.0,216.1 L451.4,216.1 L451.8,216.6 L452.2,216.2 L452.6,216.1 L453.0,216.1 L453.4,215.8 L453.8,216.5 L454.2,216.0 L454.6,216.2 L455.0,216.0 L455.4,216.0 L455.8,215.7 L456.2,216.3 L456.6,216.8 L457.0,216.7 L457.4,216.3 L457.8,216.6 L458.2,216.0 L458.6,216.0 L459.0,216.6 L459.4,216.1 L459.8,216.8 L460.2,216.6 L460.6,216.0 L461.0,216.2 L461.4,216.2 L461.8,216.5 L462.2,216.2 L462.6,216.3 L463.0,215.9 L463.4,216.7 L463.8,216.5 L464.2,216.3 L464.6,215.9 L465.0,216.3 L465.4,217.1 L465.8,216.4 L466.2,216.6 L466.6,215.7 L467.0,216.2 L467.4,216.3 L467.8,216.6 L468.2,216.1 L468.6,216.5 L469.0,216.6 L469.4,216.3 L469.8,216.3 L470.2,216.4 L470.6,216.1 L471.0,215.9 L471.4,215.9 L471.8,216.4 L472.2,216.3 L472.6,216.3 L473.0,216.2 L473.4,216.3 L473.8,216.8 L474.2,216.3 L474.6,216.1 L475.0,216.0 L475.4,216.1 L475.8,216.5 L476.2,216.3 L476.6,216.3 L477.0,216.3 L477.4,216.0 L477.8,216.1 L478.2,216.3 L478.6,216.3 L479.0,216.4 L479.4,216.6 L479.8,216.2 L480.2,216.5 L480.6,216.5 L481.0,216.2 L481.4,216.5 L481.8,216.6 L482.2,216.0 L482.6,216.5 L483.0,216.5 L483.4,216.5 L483.8,216.0 L484.2,216.7 L484.6,216.4 L485.0,216.2 L485.4,216.0 L485.8,216.5 L486.2,216.4 L486.6,216.1 L487.0,216.8 L487.4,216.1 L487.8,216.6 L488.2,216.2 L488.6,216.4 L489.0,216.6 L489.4,216.4 L489.8,216.6 L490.2,216.5 L490.6,216.8 L491.0,216.6 L491.4,216.6 L491.8,216.3 L492.2,216.4 L492.6,216.5 L493.0,216.9 L493.4,216.9 L493.8,216.5 L494.2,216.8 L494.6,216.5 L495.0,216.6 L495.4,216.5 L495.8,216.4 L496.2,216.6 L496.6,217.3 L497.0,216.4 L497.4,216.8 L497.8,216.7 L498.2,216.5 L498.6,216.7 L499.0,216.4 L499.4,216.6 L499.8,216.9 L500.2,216.9 L500.6,216.5 L501.0,216.5 L501.4,216.2 L501.8,216.7 L502.2,216.4 L502.6,216.3 L503.0,216.6 L503.4,216.5 L503.8,216.2 L504.2,216.8 L504.6,216.1 L505.0,216.1 L505.4,216.8 L505.8,216.5 L506.2,216.1 L506.6,216.8 L507.0,216.8 L507.4,216.5 L507.8,216.5 L508.2,216.6 L508.6,216.8 L509.0,216.5 L509.4,216.3 L509.8,216.5 L510.2,216.4 L510.6,216.1 L511.0,216.4 L511.4,216.3 L511.8,216.6 L512.2,216.9 L512.6,216.7 L513.0,217.3 L513.4,216.7 L513.8,216.6 L514.2,216.3 L514.6,216.8 L515.0,216.7 L515.4,216.2 L515.8,216.4 L516.2,216.7 L516.6,216.5 L517.0,216.7 L517.4,216.6 L517.8,217.1 L518.2,216.2 L518.6,216.5 L519.0,216.3 L519.4,216.4" fill="none" stroke="#e2408b" stroke-width="1.85" stroke-linejoin="round"/>
<path d="M46.6,228.7 L47.0,228.1 L47.4,230.2 L47.8,228.2 L48.2,228.5 L48.6,229.5 L49.0,227.7 L49.4,227.9 L49.8,228.5 L50.2,228.1 L50.6,227.4 L51.0,228.2 L51.4,228.0 L51.8,228.8 L52.2,227.0 L52.6,227.8 L53.0,229.1 L53.4,229.7 L53.8,227.1 L54.2,228.7 L54.6,227.5 L55.0,227.6 L55.4,227.6 L55.8,227.9 L56.2,229.0 L56.6,228.7 L57.0,228.2 L57.4,227.9 L57.8,228.2 L58.2,228.1 L58.6,228.8 L59.0,227.7 L59.4,228.1 L59.8,228.1 L60.2,228.1 L60.6,228.3 L61.0,228.3 L61.4,229.1 L61.8,228.0 L62.2,229.2 L62.6,227.8 L63.0,227.7 L63.4,228.1 L63.8,228.3 L64.2,228.2 L64.6,229.0 L65.0,228.9 L65.4,228.4 L65.8,227.7 L66.2,227.9 L66.6,229.0 L67.0,228.1 L67.4,227.0 L67.8,227.4 L68.2,227.5 L68.6,228.8 L69.0,227.8 L69.4,229.6 L69.8,228.4 L70.2,228.0 L70.6,227.5 L71.0,228.6 L71.4,227.7 L71.8,227.2 L72.2,228.3 L72.6,227.8 L73.0,228.7 L73.4,227.7 L73.8,225.6 L74.2,228.4 L74.6,226.4 L75.0,228.9 L75.4,229.1 L75.8,227.4 L76.2,226.9 L76.6,226.7 L77.0,228.4 L77.4,227.5 L77.8,227.2 L78.2,227.5 L78.6,229.2 L79.0,227.9 L79.4,228.2 L79.8,228.2 L80.2,228.4 L80.6,228.4 L81.0,227.1 L81.4,227.4 L81.8,227.0 L82.2,227.0 L82.6,228.4 L83.0,227.2 L83.4,227.5 L83.8,227.0 L84.2,227.1 L84.6,228.1 L85.0,227.1 L85.4,227.1 L85.8,227.8 L86.2,227.8 L86.6,228.0 L87.0,227.5 L87.4,226.1 L87.8,227.9 L88.2,227.8 L88.6,228.1 L89.0,226.7 L89.4,229.2 L89.8,226.4 L90.2,227.9 L90.6,227.3 L91.0,226.9 L91.4,227.9 L91.8,227.0 L92.2,225.5 L92.6,226.3 L93.0,227.5 L93.4,228.9 L93.8,226.1 L94.2,227.1 L94.6,228.2 L95.0,227.6 L95.4,226.8 L95.8,226.0 L96.2,225.7 L96.6,226.5 L97.0,226.7 L97.4,225.3 L97.8,225.7 L98.2,227.2 L98.6,226.6 L99.0,226.3 L99.4,226.5 L99.8,226.2 L100.2,227.5 L100.6,227.9 L101.0,228.2 L101.4,227.0 L101.8,226.7 L102.2,226.6 L102.6,225.8 L103.0,224.2 L103.4,222.8 L103.8,221.1 L104.2,221.0 L104.6,223.8 L105.0,223.6 L105.4,223.4 L105.8,222.0 L106.2,221.0 L106.6,223.1 L107.0,223.3 L107.4,223.4 L107.8,225.4 L108.2,226.0 L108.6,226.5 L109.0,227.9 L109.4,226.2 L109.8,225.3 L110.2,226.3 L110.6,225.8 L111.0,226.7 L111.4,226.5 L111.8,226.6 L112.2,225.9 L112.6,226.6 L113.0,225.9 L113.4,226.6 L113.8,226.0 L114.2,225.4 L114.6,226.6 L115.0,225.7 L115.4,227.3 L115.8,226.5 L116.2,226.4 L116.6,226.0 L117.0,225.7 L117.4,223.6 L117.8,226.0 L118.2,224.3 L118.6,225.7 L119.0,224.8 L119.4,225.5 L119.8,225.6 L120.2,225.1 L120.6,225.8 L121.0,226.3 L121.4,225.7 L121.8,225.0 L122.2,225.5 L122.6,226.1 L123.0,226.8 L123.4,226.5 L123.8,226.1 L124.2,225.2 L124.6,226.6 L125.0,225.9 L125.4,225.7 L125.8,226.5 L126.2,226.3 L126.6,226.2 L127.0,225.0 L127.4,225.4 L127.8,224.5 L128.2,226.0 L128.6,225.8 L129.0,226.5 L129.4,226.0 L129.8,225.5 L130.2,227.4 L130.6,225.0 L131.0,224.8 L131.4,225.3 L131.8,226.2 L132.2,225.6 L132.6,225.5 L133.0,225.0 L133.4,227.0 L133.8,225.5 L134.2,225.2 L134.6,225.9 L135.0,225.4 L135.4,225.9 L135.8,227.2 L136.2,225.9 L136.6,226.2 L137.0,226.0 L137.4,226.2 L137.8,227.1 L138.2,226.9 L138.6,226.3 L139.0,225.9 L139.4,226.6 L139.8,227.4 L140.2,226.8 L140.6,226.8 L141.0,225.6 L141.4,227.8 L141.8,226.0 L142.2,226.2 L142.6,227.0 L143.0,227.4 L143.4,227.5 L143.8,226.9 L144.2,227.4 L144.6,227.2 L145.0,226.4 L145.4,227.7 L145.8,227.5 L146.2,228.4 L146.6,228.1 L147.0,229.0 L147.4,228.9 L147.8,229.2 L148.2,229.5 L148.6,229.2 L149.0,228.6 L149.4,229.9 L149.8,228.2 L150.2,229.0 L150.6,229.7 L151.0,228.9 L151.4,229.8 L151.8,228.7 L152.2,229.0 L152.6,229.8 L153.0,230.0 L153.4,230.4 L153.8,229.6 L154.2,229.9 L154.6,230.2 L155.0,230.1 L155.4,228.9 L155.8,229.5 L156.2,231.0 L156.6,229.1 L157.0,230.5 L157.4,229.8 L157.8,230.9 L158.2,229.7 L158.6,230.3 L159.0,228.9 L159.4,230.4 L159.8,231.2 L160.2,229.4 L160.6,231.4 L161.0,230.1 L161.4,230.6 L161.8,228.7 L162.2,231.5 L162.6,230.2 L163.0,230.5 L163.4,230.0 L163.8,230.2 L164.2,231.8 L164.6,230.7 L165.0,231.7 L165.4,231.0 L165.8,231.4 L166.2,230.9 L166.6,231.6 L167.0,233.1 L167.4,231.8 L167.8,231.8 L168.2,231.2 L168.6,232.2 L169.0,232.5 L169.4,230.5 L169.8,230.8 L170.2,233.2 L170.6,232.1 L171.0,232.0 L171.4,232.3 L171.8,232.7 L172.2,232.6 L172.6,231.9 L173.0,233.5 L173.4,232.2 L173.8,231.7 L174.2,231.9 L174.6,232.3 L175.0,232.2 L175.4,232.4 L175.8,232.7 L176.2,230.4 L176.6,232.1 L177.0,233.3 L177.4,233.1 L177.8,232.4 L178.2,232.4 L178.6,233.6 L179.0,232.8 L179.4,232.7 L179.8,234.2 L180.2,232.9 L180.6,233.6 L181.0,233.2 L181.4,233.3 L181.8,232.7 L182.2,232.8 L182.6,234.2 L183.0,232.7 L183.4,233.6 L183.8,232.8 L184.2,233.4 L184.6,233.6 L185.0,232.6 L185.4,234.4 L185.8,233.6 L186.2,234.5 L186.6,233.2 L187.0,234.4 L187.4,235.2 L187.8,234.0 L188.2,233.5 L188.6,234.2 L189.0,234.1 L189.4,233.9 L189.8,234.0 L190.2,233.7 L190.6,234.3 L191.0,233.9 L191.4,233.7 L191.8,234.7 L192.2,234.1 L192.6,235.8 L193.0,234.1 L193.4,233.9 L193.8,234.0 L194.2,234.6 L194.6,234.0 L195.0,233.7 L195.4,235.3 L195.8,233.8 L196.2,235.3 L196.6,234.6 L197.0,233.9 L197.4,235.5 L197.8,234.5 L198.2,234.0 L198.6,234.7 L199.0,235.3 L199.4,235.0 L199.8,235.1 L200.2,235.7 L200.6,234.8 L201.0,235.0 L201.4,234.6 L201.8,234.0 L202.2,234.7 L202.6,235.7 L203.0,233.9 L203.4,235.6 L203.8,235.0 L204.2,234.4 L204.6,235.0 L205.0,235.9 L205.4,234.7 L205.8,235.4 L206.2,235.6 L206.6,234.6 L207.0,235.4 L207.4,235.3 L207.8,234.8 L208.2,235.4 L208.6,234.9 L209.0,234.8 L209.4,234.5 L209.8,235.3 L210.2,235.0 L210.6,234.9 L211.0,234.6 L211.4,234.5 L211.8,234.8 L212.2,235.6 L212.6,234.9 L213.0,236.0 L213.4,235.5 L213.8,235.4 L214.2,234.7 L214.6,236.3 L215.0,234.7 L215.4,235.6 L215.8,236.2 L216.2,235.3 L216.6,235.1 L217.0,235.4 L217.4,235.9 L217.8,236.1 L218.2,235.7 L218.6,235.0 L219.0,235.2 L219.4,235.6 L219.8,234.9 L220.2,235.4 L220.6,236.6 L221.0,235.1 L221.4,236.1 L221.8,235.2 L222.2,235.4 L222.6,235.6" fill="none" stroke="#1c5fc0" stroke-width="2.0" stroke-linejoin="round"/>
<path d="M222.6,235.6 L223.0,234.9 L223.4,235.6 L223.8,236.2 L224.2,236.0 L224.6,236.0 L225.0,235.3 L225.4,235.6 L225.8,235.8 L226.2,236.0 L226.6,236.3 L227.0,235.3 L227.4,236.5 L227.8,235.6 L228.2,235.7 L228.6,235.3 L229.0,235.8 L229.4,235.7 L229.8,235.3 L230.2,235.7 L230.6,235.9 L231.0,235.7 L231.4,236.2 L231.8,235.5 L232.2,236.3 L232.6,235.8 L233.0,236.1 L233.4,235.2 L233.8,236.0 L234.2,235.9 L234.6,236.3 L235.0,235.5 L235.4,236.5 L235.8,235.6 L236.2,236.5 L236.6,236.2 L237.0,235.7 L237.4,236.9 L237.8,235.6 L238.2,236.0 L238.6,236.1 L239.0,236.3 L239.4,236.2 L239.8,236.4 L240.2,236.3 L240.6,236.1 L241.0,235.8 L241.4,236.0 L241.8,236.5 L242.2,235.7 L242.6,236.2 L243.0,235.4 L243.4,235.9 L243.8,235.6 L244.2,236.7 L244.6,235.5 L245.0,236.1 L245.4,236.5 L245.8,236.5 L246.2,236.5 L246.6,236.6 L247.0,236.4 L247.4,236.6 L247.8,236.3 L248.2,236.3 L248.6,235.7 L249.0,236.4 L249.4,236.8 L249.8,236.1 L250.2,235.9 L250.6,236.4 L251.0,236.8 L251.4,236.8 L251.8,235.9 L252.2,236.5 L252.6,236.2 L253.0,236.5 L253.4,235.7 L253.8,236.7 L254.2,236.3 L254.6,236.5 L255.0,236.4 L255.4,236.1 L255.8,236.6 L256.2,236.3 L256.6,236.3 L257.0,236.7 L257.4,236.5 L257.8,236.3 L258.2,236.8 L258.6,236.4 L259.0,236.5 L259.4,236.8 L259.8,236.9 L260.2,236.9 L260.6,237.1 L261.0,236.6 L261.4,236.4 L261.8,237.1 L262.2,237.0 L262.6,236.5 L263.0,236.9 L263.4,236.5 L263.8,236.2 L264.2,237.0 L264.6,236.8 L265.0,236.7 L265.4,237.2 L265.8,237.1 L266.2,236.5 L266.6,236.4 L267.0,236.2 L267.4,236.7 L267.8,236.6 L268.2,236.9 L268.6,236.8 L269.0,236.6 L269.4,236.7 L269.8,236.3 L270.2,237.2 L270.6,236.7 L271.0,237.0 L271.4,236.6 L271.8,236.9 L272.2,237.1 L272.6,236.8 L273.0,236.6 L273.4,237.6 L273.8,236.8 L274.2,237.1 L274.6,236.9 L275.0,236.7 L275.4,237.3 L275.8,237.1 L276.2,237.1 L276.6,236.3 L277.0,237.1 L277.4,237.2 L277.8,237.1 L278.2,237.0 L278.6,237.4 L279.0,237.1 L279.4,237.2 L279.8,237.4 L280.2,237.4 L280.6,236.7 L281.0,237.2 L281.4,236.9 L281.8,236.5 L282.2,237.2 L282.6,236.6 L283.0,237.0 L283.4,236.4 L283.8,236.9 L284.2,237.0 L284.6,237.2 L285.0,237.0 L285.4,236.9 L285.8,236.9 L286.2,237.7 L286.6,237.1 L287.0,237.2 L287.4,237.8 L287.8,236.8 L288.2,236.7 L288.6,237.0 L289.0,237.2 L289.4,237.0 L289.8,237.3 L290.2,237.3 L290.6,236.9 L291.0,237.4 L291.4,236.9 L291.8,237.6 L292.2,237.4 L292.6,238.0 L293.0,237.6 L293.4,237.3 L293.8,237.5 L294.2,237.5 L294.6,237.2 L295.0,237.0 L295.4,237.8 L295.8,237.9 L296.2,237.3 L296.6,237.4 L297.0,237.4 L297.4,237.8 L297.8,237.9 L298.2,237.3 L298.6,237.4 L299.0,237.4 L299.4,237.6 L299.8,237.8 L300.2,237.9 L300.6,237.5 L301.0,237.3 L301.4,237.8 L301.8,237.8 L302.2,237.5 L302.6,237.7 L303.0,237.8 L303.4,237.9 L303.8,237.7 L304.2,237.8 L304.6,237.7 L305.0,237.4 L305.4,237.9 L305.8,237.8 L306.2,238.0 L306.6,237.4 L307.0,237.6 L307.4,237.9 L307.8,237.3 L308.2,237.7 L308.6,237.7 L309.0,237.7 L309.4,237.7 L309.8,237.2 L310.2,237.9 L310.6,237.9 L311.0,238.2 L311.4,238.3 L311.8,238.0 L312.2,238.2 L312.6,237.2 L313.0,238.1 L313.4,238.2 L313.8,238.2 L314.2,238.0 L314.6,237.8 L315.0,237.8 L315.4,238.0 L315.8,238.1 L316.2,238.1 L316.6,238.0 L317.0,237.6 L317.4,238.5 L317.8,237.8 L318.2,237.3 L318.6,238.5 L319.0,238.3 L319.4,238.1 L319.8,238.4 L320.2,238.2 L320.6,237.8 L321.0,238.1 L321.4,237.8 L321.8,237.9 L322.2,237.9 L322.6,238.2 L323.0,238.5 L323.4,238.0 L323.8,238.3 L324.2,237.6 L324.6,237.9 L325.0,238.3 L325.4,238.5 L325.8,238.5 L326.2,238.5 L326.6,237.8 L327.0,238.1 L327.4,237.5 L327.8,238.2 L328.2,238.3 L328.6,238.2 L329.0,238.0 L329.4,238.4 L329.8,238.5 L330.2,238.4 L330.6,238.2 L331.0,238.3 L331.4,238.4 L331.8,238.4 L332.2,238.5 L332.6,238.4 L333.0,238.0 L333.4,238.3 L333.8,238.5 L334.2,238.3 L334.6,238.5 L335.0,238.2 L335.4,238.8 L335.8,238.6 L336.2,238.5 L336.6,238.7 L337.0,238.7 L337.4,238.5 L337.8,238.8 L338.2,238.7 L338.6,238.6 L339.0,238.5 L339.4,238.2 L339.8,238.6 L340.2,238.6 L340.6,238.3 L341.0,239.0 L341.4,238.6 L341.8,238.3 L342.2,238.5 L342.6,238.6 L343.0,238.6 L343.4,238.4 L343.8,238.6 L344.2,238.2 L344.6,238.5 L345.0,238.8 L345.4,238.5 L345.8,238.9 L346.2,238.9 L346.6,238.5 L347.0,238.0 L347.4,239.0 L347.8,239.1 L348.2,238.3 L348.6,238.8 L349.0,238.8 L349.4,238.3 L349.8,238.6 L350.2,239.1 L350.6,238.9 L351.0,238.8 L351.4,239.1 L351.8,238.7 L352.2,238.3 L352.6,239.2 L353.0,238.6 L353.4,238.9 L353.8,239.2 L354.2,239.0 L354.6,238.9 L355.0,238.7 L355.4,239.1 L355.8,239.5 L356.2,238.8 L356.6,238.6 L357.0,239.0 L357.4,238.7 L357.8,239.0 L358.2,239.0 L358.6,239.1 L359.0,239.0 L359.4,239.1 L359.8,239.4 L360.2,238.7 L360.6,239.0 L361.0,239.1 L361.4,238.7 L361.8,238.8 L362.2,239.0 L362.6,238.9 L363.0,239.4 L363.4,239.1 L363.8,239.9 L364.2,239.0 L364.6,239.0 L365.0,239.8 L365.4,239.0 L365.8,239.8 L366.2,238.3 L366.6,239.0 L367.0,239.6 L367.4,239.6 L367.8,239.3 L368.2,239.0 L368.6,239.2 L369.0,239.4 L369.4,239.3 L369.8,239.5 L370.2,239.0 L370.6,239.5 L371.0,239.6 L371.4,240.1 L371.8,239.5 L372.2,239.5 L372.6,239.1 L373.0,238.9 L373.4,238.7 L373.8,239.4 L374.2,239.9 L374.6,239.3 L375.0,238.6 L375.4,239.4 L375.8,239.3 L376.2,239.3 L376.6,239.9 L377.0,239.7 L377.4,239.8 L377.8,239.2 L378.2,239.5 L378.6,239.1 L379.0,239.7 L379.4,239.1 L379.8,239.8 L380.2,239.5 L380.6,239.5 L381.0,239.1 L381.4,239.7 L381.8,239.0 L382.2,239.1 L382.6,239.2 L383.0,240.1 L383.4,239.5 L383.8,239.3 L384.2,239.7 L384.6,240.2 L385.0,239.5 L385.4,239.2 L385.8,239.2 L386.2,239.5 L386.6,240.0 L387.0,239.5 L387.4,239.5 L387.8,239.3 L388.2,239.3 L388.6,239.9 L389.0,239.7 L389.4,239.7 L389.8,239.2 L390.2,239.8 L390.6,239.7 L391.0,240.1 L391.4,239.9 L391.8,239.6 L392.2,239.8 L392.6,239.8 L393.0,239.6 L393.4,239.4 L393.8,239.9 L394.2,240.3 L394.6,239.7 L395.0,240.2 L395.4,239.6 L395.8,239.6 L396.2,239.7 L396.6,239.7 L397.0,240.0 L397.4,240.1 L397.8,239.1 L398.2,240.0 L398.6,239.9 L399.0,240.3 L399.4,239.5 L399.8,239.8 L400.2,240.1 L400.6,240.1 L401.0,240.2 L401.4,239.6 L401.8,239.6 L402.2,240.0 L402.6,239.5 L403.0,240.0 L403.4,240.1 L403.8,240.0 L404.2,239.5 L404.6,239.7 L405.0,239.8 L405.4,240.0 L405.8,240.0 L406.2,239.8 L406.6,239.4 L407.0,239.4 L407.4,239.6 L407.8,239.6 L408.2,239.8 L408.6,239.6 L409.0,239.9 L409.4,239.8 L409.8,240.0 L410.2,240.0 L410.6,240.1 L411.0,239.7 L411.4,239.7 L411.8,239.7 L412.2,240.0 L412.6,240.2 L413.0,240.3 L413.4,240.1 L413.8,240.0 L414.2,240.2 L414.6,240.0 L415.0,239.8 L415.4,240.2 L415.8,239.9 L416.2,239.7 L416.6,240.0 L417.0,239.8 L417.4,240.1 L417.8,239.9 L418.2,240.0 L418.6,239.9 L419.0,240.1 L419.4,240.3 L419.8,240.2 L420.2,240.1 L420.6,240.4 L421.0,239.8 L421.4,240.2 L421.8,240.5 L422.2,240.3 L422.6,240.5 L423.0,239.9 L423.4,240.5 L423.8,240.0 L424.2,240.5 L424.6,240.3 L425.0,240.4 L425.4,240.0 L425.8,240.1 L426.2,239.7 L426.6,240.3 L427.0,240.4 L427.4,240.3 L427.8,240.5 L428.2,240.4 L428.6,240.3 L429.0,240.4 L429.4,240.1 L429.8,240.5 L430.2,240.4 L430.6,240.4 L431.0,240.3 L431.4,240.2 L431.8,240.1 L432.2,240.2 L432.6,240.5 L433.0,239.9 L433.4,240.4 L433.8,241.3 L434.2,240.4 L434.6,240.3 L435.0,240.5 L435.4,240.3 L435.8,240.4 L436.2,240.4 L436.6,240.1 L437.0,240.7 L437.4,240.5 L437.8,240.7 L438.2,240.5 L438.6,240.7 L439.0,240.5 L439.4,241.3 L439.8,240.8 L440.2,240.8 L440.6,240.5 L441.0,240.1 L441.4,240.4 L441.8,240.6 L442.2,240.5 L442.6,240.4 L443.0,240.3 L443.4,240.2 L443.8,240.4 L444.2,240.7 L444.6,240.7 L445.0,240.7 L445.4,240.5 L445.8,240.6 L446.2,240.5 L446.6,240.7 L447.0,240.6 L447.4,240.7 L447.8,240.5 L448.2,240.6 L448.6,240.9 L449.0,240.9 L449.4,240.0 L449.8,240.7 L450.2,240.7 L450.6,240.8 L451.0,240.0 L451.4,240.2 L451.8,240.5 L452.2,240.6 L452.6,240.3 L453.0,240.9 L453.4,240.9 L453.8,240.8 L454.2,240.8 L454.6,240.3 L455.0,240.6 L455.4,240.0 L455.8,240.9 L456.2,241.0 L456.6,240.8 L457.0,240.4 L457.4,240.7 L457.8,240.9 L458.2,240.4 L458.6,240.7 L459.0,240.9 L459.4,240.5 L459.8,240.6 L460.2,241.0 L460.6,240.9 L461.0,241.1 L461.4,240.8 L461.8,240.5 L462.2,240.7 L462.6,240.6 L463.0,240.7 L463.4,240.9 L463.8,241.2 L464.2,240.8 L464.6,241.3 L465.0,240.5 L465.4,240.7 L465.8,240.8 L466.2,240.3 L466.6,240.4 L467.0,240.7 L467.4,240.9 L467.8,240.9 L468.2,240.9 L468.6,240.8 L469.0,240.5 L469.4,240.9 L469.8,241.3 L470.2,241.0 L470.6,240.7 L471.0,240.9 L471.4,241.0 L471.8,241.2 L472.2,240.8 L472.6,241.0 L473.0,241.1 L473.4,240.8 L473.8,240.9 L474.2,240.8 L474.6,240.9 L475.0,241.0 L475.4,240.6 L475.8,240.9 L476.2,241.3 L476.6,241.0 L477.0,240.5 L477.4,241.3 L477.8,240.9 L478.2,241.0 L478.6,241.1 L479.0,240.9 L479.4,240.7 L479.8,240.8 L480.2,241.1 L480.6,241.0 L481.0,240.9 L481.4,241.6 L481.8,241.1 L482.2,241.3 L482.6,241.6 L483.0,241.1 L483.4,241.0 L483.8,241.0 L484.2,241.1 L484.6,241.5 L485.0,241.3 L485.4,241.0 L485.8,240.9 L486.2,241.3 L486.6,241.6 L487.0,241.0 L487.4,241.5 L487.8,241.2 L488.2,241.1 L488.6,241.1 L489.0,241.0 L489.4,241.0 L489.8,241.5 L490.2,240.8 L490.6,241.0 L491.0,241.2 L491.4,240.9 L491.8,241.1 L492.2,240.8 L492.6,241.3 L493.0,241.3 L493.4,240.8 L493.8,241.5 L494.2,240.9 L494.6,240.7 L495.0,240.8 L495.4,241.3 L495.8,240.6 L496.2,241.2 L496.6,241.3 L497.0,241.5 L497.4,241.1 L497.8,241.5 L498.2,241.1 L498.6,241.5 L499.0,241.0 L499.4,241.3 L499.8,241.2 L500.2,241.3 L500.6,241.8 L501.0,241.3 L501.4,241.3 L501.8,241.3 L502.2,241.4 L502.6,240.7 L503.0,241.5 L503.4,241.0 L503.8,240.8 L504.2,241.3 L504.6,241.0 L505.0,241.4 L505.4,241.6 L505.8,241.3 L506.2,241.1 L506.6,241.4 L507.0,241.9 L507.4,241.4 L507.8,241.8 L508.2,241.7 L508.6,241.1 L509.0,241.6 L509.4,241.0 L509.8,241.5 L510.2,241.5 L510.6,241.3 L511.0,241.0 L511.4,241.3 L511.8,241.3 L512.2,241.5 L512.6,241.4 L513.0,241.6 L513.4,241.3 L513.8,241.0 L514.2,241.4 L514.6,241.8 L515.0,241.2 L515.4,241.2 L515.8,241.0 L516.2,241.9 L516.6,241.2 L517.0,241.7 L517.4,241.5 L517.8,241.4 L518.2,241.5 L518.6,242.0 L519.0,241.9 L519.4,241.6" fill="none" stroke="#1c5fc0" stroke-width="1.85" stroke-linejoin="round"/>
<path d="M46.6,257.6 L47.0,258.2 L47.4,257.9 L47.8,257.3 L48.2,256.3 L48.6,258.4 L49.0,258.5 L49.4,256.9 L49.8,258.8 L50.2,257.6 L50.6,259.4 L51.0,258.2 L51.4,257.7 L51.8,258.6 L52.2,257.9 L52.6,257.9 L53.0,257.9 L53.4,257.8 L53.8,258.3 L54.2,258.4 L54.6,258.1 L55.0,259.0 L55.4,257.1 L55.8,257.6 L56.2,258.4 L56.6,257.2 L57.0,258.9 L57.4,258.4 L57.8,257.8 L58.2,258.3 L58.6,257.6 L59.0,257.1 L59.4,258.5 L59.8,258.5 L60.2,258.0 L60.6,258.0 L61.0,256.7 L61.4,257.5 L61.8,257.7 L62.2,258.1 L62.6,258.8 L63.0,257.7 L63.4,257.5 L63.8,258.6 L64.2,257.9 L64.6,257.2 L65.0,258.7 L65.4,257.5 L65.8,257.7 L66.2,257.4 L66.6,258.2 L67.0,258.7 L67.4,257.8 L67.8,258.3 L68.2,257.8 L68.6,259.4 L69.0,259.0 L69.4,257.7 L69.8,258.4 L70.2,258.6 L70.6,258.3 L71.0,257.6 L71.4,258.0 L71.8,258.5 L72.2,258.4 L72.6,257.6 L73.0,258.4 L73.4,257.5 L73.8,256.9 L74.2,258.2 L74.6,258.7 L75.0,258.4 L75.4,259.0 L75.8,259.2 L76.2,258.4 L76.6,257.8 L77.0,258.1 L77.4,257.3 L77.8,258.1 L78.2,258.1 L78.6,258.3 L79.0,258.8 L79.4,256.9 L79.8,258.6 L80.2,257.9 L80.6,258.7 L81.0,258.3 L81.4,257.6 L81.8,258.7 L82.2,257.8 L82.6,258.5 L83.0,257.9 L83.4,258.0 L83.8,258.3 L84.2,259.4 L84.6,258.7 L85.0,258.2 L85.4,259.2 L85.8,258.3 L86.2,258.1 L86.6,257.7 L87.0,258.4 L87.4,258.3 L87.8,257.9 L88.2,257.2 L88.6,258.2 L89.0,258.4 L89.4,258.1 L89.8,257.7 L90.2,257.7 L90.6,258.0 L91.0,259.1 L91.4,258.4 L91.8,257.4 L92.2,258.7 L92.6,258.1 L93.0,259.7 L93.4,258.2 L93.8,258.3 L94.2,258.5 L94.6,258.5 L95.0,258.4 L95.4,258.4 L95.8,258.2 L96.2,258.1 L96.6,258.2 L97.0,257.7 L97.4,258.1 L97.8,258.0 L98.2,258.1 L98.6,258.1 L99.0,258.3 L99.4,258.7 L99.8,258.2 L100.2,258.5 L100.6,258.6 L101.0,258.2 L101.4,258.3 L101.8,258.6 L102.2,257.5 L102.6,258.8 L103.0,258.2 L103.4,256.3 L103.8,258.8 L104.2,257.8 L104.6,259.0 L105.0,257.9 L105.4,258.4 L105.8,258.9 L106.2,258.0 L106.6,257.9 L107.0,258.4 L107.4,259.3 L107.8,259.1 L108.2,259.3 L108.6,258.7 L109.0,258.8 L109.4,259.1 L109.8,258.9 L110.2,258.1 L110.6,259.0 L111.0,258.3 L111.4,258.1 L111.8,258.6 L112.2,258.5 L112.6,259.1 L113.0,258.7 L113.4,258.3 L113.8,258.6 L114.2,258.3 L114.6,258.4 L115.0,259.3 L115.4,258.9 L115.8,258.4 L116.2,258.4 L116.6,258.3 L117.0,258.5 L117.4,257.8 L117.8,259.0 L118.2,258.5 L118.6,259.1 L119.0,259.2 L119.4,258.9 L119.8,258.1 L120.2,258.0 L120.6,259.2 L121.0,259.2 L121.4,257.9 L121.8,258.2 L122.2,259.3 L122.6,258.8 L123.0,259.9 L123.4,259.0 L123.8,259.3 L124.2,258.7 L124.6,258.5 L125.0,257.9 L125.4,257.2 L125.8,259.4 L126.2,259.2 L126.6,258.5 L127.0,259.4 L127.4,258.0 L127.8,259.7 L128.2,259.1 L128.6,259.8 L129.0,257.9 L129.4,259.7 L129.8,259.4 L130.2,259.1 L130.6,258.4 L131.0,259.1 L131.4,259.0 L131.8,258.5 L132.2,258.1 L132.6,258.3 L133.0,258.6 L133.4,259.6 L133.8,259.6 L134.2,259.9 L134.6,259.2 L135.0,258.1 L135.4,258.5 L135.8,258.3 L136.2,258.8 L136.6,259.8 L137.0,258.9 L137.4,258.8 L137.8,259.3 L138.2,259.4 L138.6,259.6 L139.0,258.5 L139.4,258.6 L139.8,258.8 L140.2,259.5 L140.6,259.2 L141.0,258.6 L141.4,260.2 L141.8,258.8 L142.2,259.1 L142.6,259.1 L143.0,258.7 L143.4,259.1 L143.8,259.2 L144.2,259.3 L144.6,259.4 L145.0,258.9 L145.4,258.7 L145.8,259.8 L146.2,259.1 L146.6,259.9 L147.0,259.5 L147.4,260.8 L147.8,259.2 L148.2,258.4 L148.6,259.1 L149.0,260.0 L149.4,260.4 L149.8,260.4 L150.2,259.8 L150.6,260.3 L151.0,258.9 L151.4,259.1 L151.8,258.9 L152.2,259.8 L152.6,260.2 L153.0,259.6 L153.4,259.8 L153.8,259.3 L154.2,259.4 L154.6,259.7 L155.0,260.5 L155.4,259.9 L155.8,260.0 L156.2,260.3 L156.6,260.1 L157.0,259.4 L157.4,260.8 L157.8,259.8 L158.2,259.9 L158.6,259.8 L159.0,260.2 L159.4,259.8 L159.8,260.2 L160.2,260.9 L160.6,259.6 L161.0,259.0 L161.4,260.8 L161.8,260.2 L162.2,260.5 L162.6,260.5 L163.0,260.0 L163.4,260.3 L163.8,259.3 L164.2,260.2 L164.6,260.3 L165.0,259.6 L165.4,259.9 L165.8,260.3 L166.2,260.6 L166.6,260.3 L167.0,261.2 L167.4,260.9 L167.8,260.9 L168.2,259.5 L168.6,260.3 L169.0,260.7 L169.4,260.4 L169.8,260.7 L170.2,260.3 L170.6,260.2 L171.0,260.6 L171.4,260.7 L171.8,260.6 L172.2,260.7 L172.6,261.3 L173.0,261.1 L173.4,261.3 L173.8,261.2 L174.2,260.9 L174.6,260.7 L175.0,261.9 L175.4,261.0 L175.8,261.4 L176.2,260.7 L176.6,260.3 L177.0,260.4 L177.4,260.9 L177.8,260.5 L178.2,261.6 L178.6,261.0 L179.0,260.9 L179.4,262.1 L179.8,261.1 L180.2,261.0 L180.6,262.8 L181.0,261.6 L181.4,261.4 L181.8,261.1 L182.2,262.1 L182.6,262.1 L183.0,260.1 L183.4,261.5 L183.8,261.7 L184.2,261.8 L184.6,260.9 L185.0,261.6 L185.4,262.5 L185.8,262.2 L186.2,261.1 L186.6,261.9 L187.0,261.3 L187.4,262.2 L187.8,260.2 L188.2,262.3 L188.6,261.9 L189.0,262.4 L189.4,261.2 L189.8,261.7 L190.2,261.3 L190.6,262.2 L191.0,262.0 L191.4,263.0 L191.8,262.4 L192.2,260.8 L192.6,262.2 L193.0,262.1 L193.4,262.6 L193.8,262.4 L194.2,261.6 L194.6,261.8 L195.0,262.3 L195.4,261.0 L195.8,260.7 L196.2,259.1 L196.6,259.8 L197.0,260.3 L197.4,260.7 L197.8,260.9 L198.2,261.6 L198.6,262.0 L199.0,262.0 L199.4,262.3 L199.8,261.5 L200.2,261.6 L200.6,261.8 L201.0,262.7 L201.4,261.7 L201.8,262.4 L202.2,262.8 L202.6,261.6 L203.0,261.4 L203.4,261.4 L203.8,262.6 L204.2,262.6 L204.6,262.3 L205.0,261.9 L205.4,262.4 L205.8,261.7 L206.2,262.7 L206.6,262.5 L207.0,262.5 L207.4,263.2 L207.8,262.0 L208.2,261.9 L208.6,262.7 L209.0,263.1 L209.4,262.1 L209.8,262.0 L210.2,262.5 L210.6,262.8 L211.0,262.2 L211.4,263.0 L211.8,263.6 L212.2,262.5 L212.6,262.3 L213.0,263.7 L213.4,262.0 L213.8,263.2 L214.2,263.1 L214.6,261.9 L215.0,263.0 L215.4,263.4 L215.8,262.5 L216.2,261.6 L216.6,262.3 L217.0,263.6 L217.4,262.2 L217.8,263.2 L218.2,262.1 L218.6,262.5 L219.0,262.4 L219.4,262.7 L219.8,263.0 L220.2,262.8 L220.6,262.4 L221.0,262.8 L221.4,262.7 L221.8,262.6 L222.2,262.6 L222.6,262.5" fill="none" stroke="#d31f26" stroke-width="2.0" stroke-linejoin="round"/>
<path d="M222.6,262.5 L223.0,263.0 L223.4,263.8 L223.8,262.9 L224.2,263.0 L224.6,262.5 L225.0,262.6 L225.4,263.5 L225.8,262.7 L226.2,263.1 L226.6,263.3 L227.0,262.7 L227.4,263.4 L227.8,263.3 L228.2,263.2 L228.6,262.6 L229.0,263.0 L229.4,262.1 L229.8,263.0 L230.2,263.1 L230.6,262.8 L231.0,263.2 L231.4,262.4 L231.8,262.7 L232.2,262.4 L232.6,263.1 L233.0,262.9 L233.4,263.5 L233.8,262.7 L234.2,263.3 L234.6,263.1 L235.0,263.2 L235.4,263.4 L235.8,263.8 L236.2,263.7 L236.6,262.5 L237.0,263.3 L237.4,262.7 L237.8,263.3 L238.2,262.8 L238.6,263.6 L239.0,263.5 L239.4,263.2 L239.8,262.8 L240.2,262.5 L240.6,262.6 L241.0,263.1 L241.4,263.5 L241.8,263.6 L242.2,263.7 L242.6,262.9 L243.0,263.2 L243.4,263.6 L243.8,263.5 L244.2,263.2 L244.6,262.7 L245.0,264.0 L245.4,263.3 L245.8,262.6 L246.2,263.4 L246.6,263.4 L247.0,263.2 L247.4,263.3 L247.8,262.8 L248.2,263.9 L248.6,263.3 L249.0,262.6 L249.4,263.2 L249.8,262.3 L250.2,263.4 L250.6,263.1 L251.0,263.5 L251.4,263.7 L251.8,263.4 L252.2,264.4 L252.6,263.5 L253.0,263.7 L253.4,263.5 L253.8,263.4 L254.2,263.2 L254.6,264.0 L255.0,263.8 L255.4,264.1 L255.8,263.3 L256.2,263.2 L256.6,263.5 L257.0,263.6 L257.4,263.5 L257.8,262.8 L258.2,263.5 L258.6,263.7 L259.0,263.8 L259.4,263.5 L259.8,263.6 L260.2,264.1 L260.6,264.1 L261.0,263.7 L261.4,263.6 L261.8,263.7 L262.2,264.0 L262.6,263.7 L263.0,263.7 L263.4,264.2 L263.8,263.5 L264.2,263.3 L264.6,263.7 L265.0,264.4 L265.4,263.9 L265.8,263.1 L266.2,264.1 L266.6,263.8 L267.0,263.9 L267.4,263.2 L267.8,263.5 L268.2,263.6 L268.6,264.1 L269.0,263.4 L269.4,263.4 L269.8,263.2 L270.2,264.1 L270.6,263.6 L271.0,264.1 L271.4,263.8 L271.8,264.1 L272.2,263.5 L272.6,264.1 L273.0,263.6 L273.4,263.6 L273.8,264.2 L274.2,263.4 L274.6,263.9 L275.0,264.0 L275.4,264.0 L275.8,263.9 L276.2,264.3 L276.6,263.7 L277.0,264.5 L277.4,264.5 L277.8,264.0 L278.2,263.9 L278.6,263.5 L279.0,263.6 L279.4,263.7 L279.8,264.0 L280.2,264.6 L280.6,263.4 L281.0,264.4 L281.4,264.1 L281.8,264.1 L282.2,264.1 L282.6,263.8 L283.0,263.9 L283.4,264.1 L283.8,264.5 L284.2,263.9 L284.6,264.6 L285.0,264.5 L285.4,264.0 L285.8,264.2 L286.2,264.6 L286.6,263.6 L287.0,263.8 L287.4,264.4 L287.8,264.4 L288.2,263.8 L288.6,263.7 L289.0,264.3 L289.4,264.6 L289.8,263.9 L290.2,263.8 L290.6,264.6 L291.0,264.5 L291.4,263.7 L291.8,263.8 L292.2,264.0 L292.6,264.5 L293.0,264.4 L293.4,264.2 L293.8,263.4 L294.2,265.1 L294.6,263.9 L295.0,264.8 L295.4,264.8 L295.8,264.4 L296.2,264.4 L296.6,263.9 L297.0,263.8 L297.4,263.9 L297.8,263.7 L298.2,264.2 L298.6,263.7 L299.0,264.8 L299.4,265.2 L299.8,263.3 L300.2,263.7 L300.6,264.5 L301.0,264.4 L301.4,264.1 L301.8,264.2 L302.2,264.4 L302.6,264.1 L303.0,264.5 L303.4,264.8 L303.8,264.8 L304.2,265.0 L304.6,264.4 L305.0,264.5 L305.4,263.7 L305.8,264.3 L306.2,264.0 L306.6,264.8 L307.0,265.1 L307.4,264.2 L307.8,264.2 L308.2,264.2 L308.6,264.3 L309.0,264.0 L309.4,264.7 L309.8,264.3 L310.2,265.0 L310.6,264.7 L311.0,264.3 L311.4,264.2 L311.8,264.8 L312.2,264.3 L312.6,263.8 L313.0,264.3 L313.4,264.1 L313.8,265.2 L314.2,264.4 L314.6,264.2 L315.0,263.6 L315.4,264.9 L315.8,264.7 L316.2,264.5 L316.6,264.4 L317.0,264.6 L317.4,264.8 L317.8,264.6 L318.2,264.3 L318.6,264.6 L319.0,263.7 L319.4,264.3 L319.8,264.4 L320.2,264.3 L320.6,264.5 L321.0,264.8 L321.4,264.5 L321.8,264.0 L322.2,264.7 L322.6,264.9 L323.0,264.9 L323.4,264.8 L323.8,265.0 L324.2,264.6 L324.6,263.6 L325.0,264.4 L325.4,264.1 L325.8,264.7 L326.2,264.9 L326.6,264.4 L327.0,265.0 L327.4,264.2 L327.8,264.9 L328.2,264.3 L328.6,264.4 L329.0,264.2 L329.4,264.8 L329.8,265.3 L330.2,264.5 L330.6,264.6 L331.0,264.9 L331.4,264.4 L331.8,264.7 L332.2,264.6 L332.6,264.4 L333.0,264.2 L333.4,265.1 L333.8,264.7 L334.2,264.4 L334.6,265.2 L335.0,264.8 L335.4,264.3 L335.8,264.3 L336.2,264.7 L336.6,264.5 L337.0,264.9 L337.4,264.3 L337.8,264.3 L338.2,264.7 L338.6,265.1 L339.0,264.7 L339.4,265.8 L339.8,265.7 L340.2,264.8 L340.6,264.5 L341.0,265.0 L341.4,264.7 L341.8,264.9 L342.2,265.1 L342.6,264.9 L343.0,264.2 L343.4,265.6 L343.8,264.6 L344.2,264.9 L344.6,265.2 L345.0,265.0 L345.4,265.0 L345.8,265.2 L346.2,264.5 L346.6,265.1 L347.0,265.3 L347.4,264.9 L347.8,265.5 L348.2,265.6 L348.6,264.9 L349.0,265.4 L349.4,265.1 L349.8,265.5 L350.2,264.9 L350.6,264.5 L351.0,265.4 L351.4,265.3 L351.8,265.2 L352.2,264.7 L352.6,264.8 L353.0,265.2 L353.4,265.1 L353.8,264.8 L354.2,265.0 L354.6,265.3 L355.0,264.8 L355.4,265.0 L355.8,264.8 L356.2,265.4 L356.6,265.1 L357.0,265.1 L357.4,265.5 L357.8,265.3 L358.2,264.9 L358.6,265.5 L359.0,264.6 L359.4,264.7 L359.8,265.3 L360.2,265.1 L360.6,265.6 L361.0,265.2 L361.4,265.2 L361.8,265.6 L362.2,265.0 L362.6,264.7 L363.0,265.5 L363.4,264.9 L363.8,265.4 L364.2,264.9 L364.6,265.2 L365.0,265.1 L365.4,264.9 L365.8,265.0 L366.2,265.4 L366.6,265.2 L367.0,265.5 L367.4,264.9 L367.8,265.0 L368.2,264.8 L368.6,264.9 L369.0,265.2 L369.4,265.2 L369.8,265.4 L370.2,265.7 L370.6,265.5 L371.0,265.2 L371.4,265.0 L371.8,265.9 L372.2,265.5 L372.6,264.3 L373.0,265.4 L373.4,265.7 L373.8,265.2 L374.2,265.5 L374.6,265.3 L375.0,265.5 L375.4,265.3 L375.8,265.5 L376.2,265.4 L376.6,265.6 L377.0,265.2 L377.4,265.6 L377.8,265.2 L378.2,264.7 L378.6,265.4 L379.0,265.4 L379.4,265.1 L379.8,265.9 L380.2,265.3 L380.6,265.7 L381.0,265.3 L381.4,265.5 L381.8,265.6 L382.2,265.8 L382.6,265.2 L383.0,265.0 L383.4,266.0 L383.8,265.5 L384.2,266.3 L384.6,265.4 L385.0,264.9 L385.4,265.6 L385.8,265.8 L386.2,265.6 L386.6,265.4 L387.0,265.7 L387.4,265.1 L387.8,265.0 L388.2,265.5 L388.6,265.8 L389.0,264.7 L389.4,265.6 L389.8,265.4 L390.2,265.2 L390.6,265.6 L391.0,265.5 L391.4,265.6 L391.8,265.8 L392.2,265.7 L392.6,266.0 L393.0,266.0 L393.4,265.4 L393.8,265.6 L394.2,264.8 L394.6,265.4 L395.0,265.1 L395.4,265.4 L395.8,265.5 L396.2,265.8 L396.6,265.4 L397.0,266.5 L397.4,265.6 L397.8,265.1 L398.2,266.3 L398.6,265.6 L399.0,265.5 L399.4,265.9 L399.8,265.4 L400.2,266.2 L400.6,266.4 L401.0,266.2 L401.4,265.8 L401.8,265.5 L402.2,266.0 L402.6,266.1 L403.0,265.9 L403.4,265.8 L403.8,266.2 L404.2,265.8 L404.6,265.3 L405.0,265.2 L405.4,265.9 L405.8,266.3 L406.2,265.8 L406.6,265.7 L407.0,265.5 L407.4,266.2 L407.8,265.3 L408.2,265.5 L408.6,266.3 L409.0,265.7 L409.4,265.8 L409.8,266.3 L410.2,266.3 L410.6,265.9 L411.0,266.3 L411.4,265.1 L411.8,265.4 L412.2,265.8 L412.6,265.5 L413.0,265.6 L413.4,265.5 L413.8,265.9 L414.2,265.5 L414.6,266.2 L415.0,265.9 L415.4,266.3 L415.8,265.3 L416.2,265.1 L416.6,265.8 L417.0,265.8 L417.4,266.1 L417.8,266.1 L418.2,265.7 L418.6,266.3 L419.0,265.8 L419.4,265.8 L419.8,266.2 L420.2,266.2 L420.6,265.9 L421.0,265.9 L421.4,266.7 L421.8,265.8 L422.2,265.9 L422.6,266.0 L423.0,265.7 L423.4,266.4 L423.8,266.5 L424.2,266.1 L424.6,265.3 L425.0,265.3 L425.4,266.0 L425.8,265.7 L426.2,265.7 L426.6,265.8 L427.0,265.7 L427.4,265.8 L427.8,265.9 L428.2,266.1 L428.6,266.0 L429.0,266.0 L429.4,265.0 L429.8,265.7 L430.2,266.4 L430.6,266.4 L431.0,266.6 L431.4,265.7 L431.8,265.7 L432.2,265.9 L432.6,266.3 L433.0,265.9 L433.4,266.1 L433.8,266.0 L434.2,266.0 L434.6,265.8 L435.0,266.2 L435.4,264.9 L435.8,266.0 L436.2,265.7 L436.6,266.1 L437.0,266.3 L437.4,265.9 L437.8,266.4 L438.2,266.0 L438.6,266.2 L439.0,266.0 L439.4,266.2 L439.8,266.5 L440.2,265.7 L440.6,265.7 L441.0,265.7 L441.4,265.5 L441.8,265.6 L442.2,266.5 L442.6,266.0 L443.0,266.3 L443.4,266.1 L443.8,266.8 L444.2,266.2 L444.6,266.2 L445.0,266.8 L445.4,265.7 L445.8,265.8 L446.2,265.8 L446.6,265.6 L447.0,266.1 L447.4,266.2 L447.8,266.6 L448.2,265.3 L448.6,266.5 L449.0,266.7 L449.4,265.9 L449.8,266.3 L450.2,266.7 L450.6,265.9 L451.0,266.2 L451.4,266.2 L451.8,266.0 L452.2,266.2 L452.6,265.9 L453.0,265.7 L453.4,266.4 L453.8,266.2 L454.2,266.5 L454.6,266.1 L455.0,266.0 L455.4,265.8 L455.8,265.8 L456.2,266.0 L456.6,266.3 L457.0,266.4 L457.4,266.4 L457.8,266.0 L458.2,266.3 L458.6,266.8 L459.0,266.2 L459.4,266.2 L459.8,266.5 L460.2,266.6 L460.6,265.9 L461.0,266.3 L461.4,266.5 L461.8,266.0 L462.2,266.4 L462.6,266.3 L463.0,266.3 L463.4,266.3 L463.8,266.4 L464.2,266.0 L464.6,265.9 L465.0,266.5 L465.4,266.7 L465.8,267.0 L466.2,266.2 L466.6,266.5 L467.0,266.3 L467.4,266.1 L467.8,266.4 L468.2,266.2 L468.6,266.3 L469.0,266.1 L469.4,266.0 L469.8,266.2 L470.2,266.8 L470.6,266.5 L471.0,266.6 L471.4,266.2 L471.8,265.9 L472.2,266.6 L472.6,266.2 L473.0,266.1 L473.4,266.1 L473.8,266.7 L474.2,266.8 L474.6,266.9 L475.0,267.1 L475.4,266.2 L475.8,266.2 L476.2,266.1 L476.6,267.0 L477.0,266.0 L477.4,266.5 L477.8,266.7 L478.2,265.7 L478.6,266.8 L479.0,266.8 L479.4,266.5 L479.8,266.1 L480.2,266.8 L480.6,266.6 L481.0,266.9 L481.4,266.3 L481.8,265.8 L482.2,266.5 L482.6,266.7 L483.0,265.9 L483.4,266.2 L483.8,266.0 L484.2,266.7 L484.6,265.8 L485.0,266.9 L485.4,266.1 L485.8,266.8 L486.2,266.4 L486.6,266.2 L487.0,266.3 L487.4,266.6 L487.8,266.3 L488.2,266.5 L488.6,266.3 L489.0,266.5 L489.4,266.5 L489.8,266.9 L490.2,266.0 L490.6,266.7 L491.0,266.7 L491.4,266.3 L491.8,266.2 L492.2,266.6 L492.6,266.9 L493.0,266.7 L493.4,266.8 L493.8,265.9 L494.2,267.1 L494.6,266.9 L495.0,266.4 L495.4,266.1 L495.8,266.7 L496.2,266.8 L496.6,266.5 L497.0,266.4 L497.4,266.7 L497.8,266.6 L498.2,266.9 L498.6,267.0 L499.0,266.5 L499.4,266.9 L499.8,266.3 L500.2,267.1 L500.6,266.1 L501.0,266.4 L501.4,266.4 L501.8,266.9 L502.2,266.3 L502.6,267.0 L503.0,266.7 L503.4,266.9 L503.8,267.2 L504.2,266.4 L504.6,266.6 L505.0,267.3 L505.4,266.9 L505.8,266.2 L506.2,267.0 L506.6,266.7 L507.0,266.8 L507.4,267.0 L507.8,266.5 L508.2,267.1 L508.6,266.9 L509.0,266.3 L509.4,266.3 L509.8,266.9 L510.2,267.0 L510.6,266.3 L511.0,267.0 L511.4,266.9 L511.8,267.2 L512.2,267.1 L512.6,266.4 L513.0,267.4 L513.4,266.4 L513.8,266.5 L514.2,266.4 L514.6,266.5 L515.0,266.7 L515.4,266.6 L515.8,266.6 L516.2,266.6 L516.6,266.3 L517.0,267.1 L517.4,266.9 L517.8,267.2 L518.2,266.6 L518.6,266.6 L519.0,266.7 L519.4,267.3" fill="none" stroke="#d31f26" stroke-width="1.85" stroke-linejoin="round"/>
<path d="M46.6,283.2 L47.0,282.5 L47.4,282.7 L47.8,282.8 L48.2,282.4 L48.6,282.8 L49.0,282.8 L49.4,282.2 L49.8,283.2 L50.2,283.1 L50.6,282.7 L51.0,282.9 L51.4,283.1 L51.8,282.9 L52.2,282.9 L52.6,282.5 L53.0,283.3 L53.4,283.1 L53.8,283.2 L54.2,282.6 L54.6,283.8 L55.0,283.3 L55.4,283.1 L55.8,284.0 L56.2,283.3 L56.6,282.8 L57.0,283.2 L57.4,282.6 L57.8,283.8 L58.2,283.3 L58.6,283.2 L59.0,283.9 L59.4,282.9 L59.8,283.7 L60.2,282.9 L60.6,283.4 L61.0,283.2 L61.4,284.2 L61.8,284.3 L62.2,283.6 L62.6,284.0 L63.0,283.7 L63.4,284.0 L63.8,283.5 L64.2,283.2 L64.6,283.2 L65.0,284.0 L65.4,284.7 L65.8,284.0 L66.2,283.8 L66.6,284.7 L67.0,284.1 L67.4,284.1 L67.8,284.1 L68.2,284.0 L68.6,284.0 L69.0,283.6 L69.4,284.3 L69.8,284.1 L70.2,284.6 L70.6,284.1 L71.0,283.6 L71.4,284.2 L71.8,284.9 L72.2,284.2 L72.6,284.0 L73.0,283.9 L73.4,284.0 L73.8,284.3 L74.2,284.0 L74.6,285.0 L75.0,284.4 L75.4,284.5 L75.8,285.0 L76.2,285.1 L76.6,284.5 L77.0,284.7 L77.4,284.9 L77.8,284.6 L78.2,284.0 L78.6,284.9 L79.0,285.0 L79.4,284.9 L79.8,284.4 L80.2,284.7 L80.6,284.6 L81.0,284.7 L81.4,285.3 L81.8,285.4 L82.2,285.1 L82.6,285.1 L83.0,285.1 L83.4,284.9 L83.8,284.9 L84.2,284.7 L84.6,285.0 L85.0,285.8 L85.4,285.3 L85.8,284.9 L86.2,284.9 L86.6,284.8 L87.0,285.2 L87.4,285.3 L87.8,284.6 L88.2,285.3 L88.6,285.0 L89.0,285.7 L89.4,285.3 L89.8,285.8 L90.2,285.1 L90.6,285.2 L91.0,285.4 L91.4,285.7 L91.8,285.5 L92.2,284.9 L92.6,285.4 L93.0,285.4 L93.4,285.2 L93.8,285.2 L94.2,286.0 L94.6,285.3 L95.0,285.1 L95.4,285.7 L95.8,285.5 L96.2,285.5 L96.6,285.8 L97.0,285.7 L97.4,285.7 L97.8,285.9 L98.2,285.7 L98.6,285.4 L99.0,285.5 L99.4,285.4 L99.8,285.7 L100.2,285.3 L100.6,285.0 L101.0,285.7 L101.4,285.2 L101.8,285.0 L102.2,285.9 L102.6,285.5 L103.0,285.9 L103.4,285.6 L103.8,285.4 L104.2,285.4 L104.6,285.6 L105.0,285.7 L105.4,285.6 L105.8,285.8 L106.2,285.3 L106.6,285.9 L107.0,285.3 L107.4,285.8 L107.8,286.2 L108.2,286.3 L108.6,286.6 L109.0,285.4 L109.4,286.3 L109.8,286.4 L110.2,286.4 L110.6,285.7 L111.0,286.2 L111.4,286.7 L111.8,285.5 L112.2,286.2 L112.6,286.5 L113.0,285.9 L113.4,286.3 L113.8,285.8 L114.2,285.9 L114.6,285.9 L115.0,286.2 L115.4,286.2 L115.8,286.5 L116.2,285.9 L116.6,286.2 L117.0,286.6 L117.4,286.4 L117.8,285.8 L118.2,286.5 L118.6,286.1 L119.0,286.4 L119.4,286.4 L119.8,286.7 L120.2,286.4 L120.6,285.7 L121.0,285.9 L121.4,286.6 L121.8,286.3 L122.2,286.8 L122.6,286.5 L123.0,286.1 L123.4,286.8 L123.8,286.1 L124.2,285.7 L124.6,287.2 L125.0,285.8 L125.4,286.7 L125.8,286.8 L126.2,286.5 L126.6,285.9 L127.0,286.8 L127.4,286.0 L127.8,286.0 L128.2,286.4 L128.6,286.8 L129.0,286.6 L129.4,286.8 L129.8,286.4 L130.2,286.5 L130.6,286.2 L131.0,286.5 L131.4,286.8 L131.8,286.5 L132.2,286.8 L132.6,286.4 L133.0,286.4 L133.4,286.6 L133.8,286.5 L134.2,286.8 L134.6,286.7 L135.0,287.2 L135.4,286.6 L135.8,286.6 L136.2,286.3 L136.6,286.7 L137.0,286.9 L137.4,286.4 L137.8,286.7 L138.2,286.9 L138.6,286.7 L139.0,286.5 L139.4,287.1 L139.8,286.8 L140.2,286.9 L140.6,287.1 L141.0,287.1 L141.4,286.6 L141.8,286.6 L142.2,286.9 L142.6,286.7 L143.0,286.1 L143.4,287.2 L143.8,286.8 L144.2,287.0 L144.6,286.4 L145.0,287.3 L145.4,286.6 L145.8,286.8 L146.2,286.3 L146.6,286.8 L147.0,286.7 L147.4,286.8 L147.8,287.0 L148.2,286.9 L148.6,287.2 L149.0,286.7 L149.4,286.5 L149.8,286.9 L150.2,287.1 L150.6,287.3 L151.0,287.2 L151.4,286.3 L151.8,287.0 L152.2,287.4 L152.6,286.9 L153.0,286.7 L153.4,287.0 L153.8,286.7 L154.2,287.1 L154.6,286.9 L155.0,287.4 L155.4,287.1 L155.8,286.7 L156.2,287.2 L156.6,287.3 L157.0,286.8 L157.4,286.8 L157.8,286.2 L158.2,287.3 L158.6,286.8 L159.0,286.2 L159.4,286.4 L159.8,286.9 L160.2,287.3 L160.6,287.0 L161.0,287.2 L161.4,286.6 L161.8,286.5 L162.2,287.3 L162.6,287.2 L163.0,287.0 L163.4,287.5 L163.8,286.7 L164.2,286.9 L164.6,287.4 L165.0,287.7 L165.4,287.0 L165.8,287.6 L166.2,286.8 L166.6,287.2 L167.0,287.0 L167.4,286.5 L167.8,287.2 L168.2,287.4 L168.6,287.0 L169.0,287.1 L169.4,287.6 L169.8,286.6 L170.2,286.6 L170.6,286.9 L171.0,286.7 L171.4,287.6 L171.8,287.2 L172.2,286.8 L172.6,286.9 L173.0,288.1 L173.4,286.9 L173.8,286.9 L174.2,287.2 L174.6,287.4 L175.0,287.2 L175.4,286.8 L175.8,286.7 L176.2,287.4 L176.6,287.1 L177.0,286.6 L177.4,287.6 L177.8,287.4 L178.2,287.1 L178.6,287.1 L179.0,287.3 L179.4,286.9 L179.8,286.7 L180.2,287.3 L180.6,286.7 L181.0,287.3 L181.4,286.7 L181.8,287.2 L182.2,287.2 L182.6,287.8 L183.0,286.8 L183.4,286.7 L183.8,287.0 L184.2,286.8 L184.6,287.0 L185.0,287.4 L185.4,287.5 L185.8,287.8 L186.2,287.0 L186.6,288.2 L187.0,287.9 L187.4,287.2 L187.8,286.4 L188.2,287.2 L188.6,287.3 L189.0,286.5 L189.4,287.3 L189.8,287.2 L190.2,287.0 L190.6,287.5 L191.0,287.6 L191.4,287.1 L191.8,287.4 L192.2,287.0 L192.6,287.0 L193.0,287.3 L193.4,287.5 L193.8,287.1 L194.2,286.5 L194.6,287.5 L195.0,286.7 L195.4,287.3 L195.8,287.9 L196.2,287.3 L196.6,286.9 L197.0,286.8 L197.4,287.7 L197.8,287.3 L198.2,287.5 L198.6,287.6 L199.0,287.3 L199.4,287.2 L199.8,287.0 L200.2,286.2 L200.6,286.8 L201.0,287.3 L201.4,287.2 L201.8,287.4 L202.2,287.3 L202.6,287.4 L203.0,287.6 L203.4,287.0 L203.8,287.2 L204.2,286.7 L204.6,287.6 L205.0,287.2 L205.4,287.4 L205.8,287.7 L206.2,287.5 L206.6,287.1 L207.0,287.3 L207.4,286.5 L207.8,287.2 L208.2,287.0 L208.6,286.4 L209.0,287.4 L209.4,286.6 L209.8,287.1 L210.2,286.6 L210.6,287.1 L211.0,287.2 L211.4,286.4 L211.8,286.1 L212.2,286.6 L212.6,286.9 L213.0,286.4 L213.4,286.3 L213.8,286.7 L214.2,285.5 L214.6,286.2 L215.0,285.9 L215.4,286.5 L215.8,286.1 L216.2,286.0 L216.6,286.2 L217.0,285.8 L217.4,286.3 L217.8,286.1 L218.2,286.2 L218.6,286.1 L219.0,286.6 L219.4,286.3 L219.8,286.5 L220.2,286.5 L220.6,286.1 L221.0,286.6 L221.4,286.5 L221.8,286.5 L222.2,286.3 L222.6,286.3" fill="none" stroke="#0a0a0a" stroke-width="2.0" stroke-linejoin="round"/>
<path d="M222.6,286.3 L223.0,286.7 L223.4,287.2 L223.8,286.2 L224.2,286.7 L224.6,286.4 L225.0,286.9 L225.4,286.8 L225.8,287.0 L226.2,285.7 L226.6,286.5 L227.0,286.4 L227.4,286.7 L227.8,286.6 L228.2,286.6 L228.6,287.1 L229.0,287.6 L229.4,285.9 L229.8,286.9 L230.2,287.1 L230.6,287.0 L231.0,286.9 L231.4,286.6 L231.8,286.8 L232.2,287.4 L232.6,287.5 L233.0,287.2 L233.4,286.9 L233.8,287.3 L234.2,287.2 L234.6,287.5 L235.0,287.3 L235.4,287.1 L235.8,287.4 L236.2,286.9 L236.6,287.6 L237.0,287.7 L237.4,286.9 L237.8,287.5 L238.2,287.0 L238.6,287.7 L239.0,287.7 L239.4,287.3 L239.8,287.7 L240.2,287.3 L240.6,287.2 L241.0,287.2 L241.4,287.4 L241.8,287.3 L242.2,287.5 L242.6,287.2 L243.0,287.7 L243.4,287.8 L243.8,287.3 L244.2,287.0 L244.6,287.7 L245.0,287.9 L245.4,287.5 L245.8,287.1 L246.2,287.6 L246.6,288.1 L247.0,286.9 L247.4,287.7 L247.8,287.4 L248.2,287.3 L248.6,287.7 L249.0,287.1 L249.4,287.7 L249.8,288.0 L250.2,287.7 L250.6,287.3 L251.0,287.0 L251.4,287.2 L251.8,287.0 L252.2,288.2 L252.6,287.5 L253.0,287.3 L253.4,287.2 L253.8,287.3 L254.2,287.5 L254.6,287.2 L255.0,288.2 L255.4,287.4 L255.8,287.4 L256.2,287.8 L256.6,288.2 L257.0,288.1 L257.4,287.5 L257.8,287.8 L258.2,287.7 L258.6,287.9 L259.0,287.8 L259.4,287.4 L259.8,287.3 L260.2,287.8 L260.6,287.3 L261.0,288.2 L261.4,287.7 L261.8,287.4 L262.2,287.6 L262.6,287.6 L263.0,287.7 L263.4,288.1 L263.8,287.2 L264.2,287.1 L264.6,287.9 L265.0,287.7 L265.4,287.8 L265.8,287.9 L266.2,287.7 L266.6,288.1 L267.0,287.5 L267.4,287.8 L267.8,287.5 L268.2,287.4 L268.6,288.0 L269.0,288.0 L269.4,287.1 L269.8,287.4 L270.2,287.9 L270.6,288.2 L271.0,287.6 L271.4,287.7 L271.8,287.3 L272.2,288.7 L272.6,288.0 L273.0,288.1 L273.4,288.1 L273.8,288.2 L274.2,288.0 L274.6,287.7 L275.0,288.1 L275.4,287.9 L275.8,288.3 L276.2,287.6 L276.6,287.7 L277.0,288.1 L277.4,288.3 L277.8,287.9 L278.2,287.6 L278.6,287.8 L279.0,287.7 L279.4,288.5 L279.8,288.2 L280.2,288.3 L280.6,288.0 L281.0,287.7 L281.4,288.3 L281.8,288.5 L282.2,288.1 L282.6,287.9 L283.0,288.3 L283.4,287.8 L283.8,288.2 L284.2,287.6 L284.6,287.6 L285.0,288.1 L285.4,288.0 L285.8,288.6 L286.2,287.8 L286.6,287.9 L287.0,287.5 L287.4,287.3 L287.8,287.3 L288.2,288.1 L288.6,287.5 L289.0,288.3 L289.4,288.4 L289.8,287.8 L290.2,288.5 L290.6,288.0 L291.0,288.3 L291.4,287.9 L291.8,288.3 L292.2,287.6 L292.6,288.2 L293.0,287.8 L293.4,287.9 L293.8,288.2 L294.2,288.0 L294.6,287.9 L295.0,288.2 L295.4,288.2 L295.8,287.5 L296.2,288.1 L296.6,288.2 L297.0,287.7 L297.4,288.1 L297.8,287.5 L298.2,288.5 L298.6,287.9 L299.0,287.9 L299.4,288.4 L299.8,287.9 L300.2,288.2 L300.6,287.6 L301.0,287.8 L301.4,287.5 L301.8,287.9 L302.2,288.3 L302.6,288.1 L303.0,288.3 L303.4,287.6 L303.8,287.7 L304.2,287.8 L304.6,288.2 L305.0,288.1 L305.4,288.0 L305.8,288.2 L306.2,287.9 L306.6,288.0 L307.0,288.4 L307.4,287.8 L307.8,288.1 L308.2,288.6 L308.6,288.0 L309.0,288.2 L309.4,287.8 L309.8,288.7 L310.2,287.2 L310.6,287.6 L311.0,287.6 L311.4,288.6 L311.8,288.1 L312.2,287.9 L312.6,287.5 L313.0,288.1 L313.4,288.0 L313.8,287.8 L314.2,287.5 L314.6,287.6 L315.0,288.1 L315.4,288.1 L315.8,288.0 L316.2,287.9 L316.6,287.4 L317.0,288.0 L317.4,287.6 L317.8,288.0 L318.2,288.2 L318.6,287.8 L319.0,287.6 L319.4,288.3 L319.8,288.1 L320.2,287.8 L320.6,286.9 L321.0,288.0 L321.4,288.2 L321.8,288.4 L322.2,287.8 L322.6,287.8 L323.0,287.8 L323.4,288.3 L323.8,287.6 L324.2,288.0 L324.6,287.7 L325.0,288.1 L325.4,287.5 L325.8,288.1 L326.2,287.8 L326.6,287.9 L327.0,288.2 L327.4,288.4 L327.8,287.4 L328.2,288.4 L328.6,288.2 L329.0,287.9 L329.4,288.5 L329.8,288.1 L330.2,288.5 L330.6,287.8 L331.0,287.7 L331.4,288.4 L331.8,288.8 L332.2,288.2 L332.6,288.3 L333.0,287.8 L333.4,287.5 L333.8,287.9 L334.2,288.5 L334.6,287.3 L335.0,287.8 L335.4,287.3 L335.8,288.0 L336.2,288.3 L336.6,287.6 L337.0,287.9 L337.4,288.5 L337.8,288.0 L338.2,287.6 L338.6,287.5 L339.0,287.3 L339.4,288.3 L339.8,287.7 L340.2,288.4 L340.6,288.3 L341.0,287.8 L341.4,287.8 L341.8,288.3 L342.2,288.1 L342.6,288.1 L343.0,287.4 L343.4,288.3 L343.8,287.7 L344.2,287.2 L344.6,287.8 L345.0,288.1 L345.4,288.7 L345.8,287.9 L346.2,287.5 L346.6,288.7 L347.0,288.1 L347.4,287.9 L347.8,287.6 L348.2,287.6 L348.6,288.5 L349.0,287.9 L349.4,287.8 L349.8,287.8 L350.2,288.5 L350.6,287.8 L351.0,288.2 L351.4,288.1 L351.8,288.1 L352.2,287.7 L352.6,288.2 L353.0,288.6 L353.4,288.0 L353.8,287.7 L354.2,287.5 L354.6,288.1 L355.0,287.9 L355.4,288.0 L355.8,288.0 L356.2,287.5 L356.6,288.3 L357.0,288.1 L357.4,288.0 L357.8,288.1 L358.2,288.3 L358.6,288.0 L359.0,287.7 L359.4,288.4 L359.8,287.8 L360.2,287.7 L360.6,287.5 L361.0,288.0 L361.4,287.6 L361.8,287.8 L362.2,288.2 L362.6,288.0 L363.0,288.4 L363.4,288.1 L363.8,287.9 L364.2,287.9 L364.6,287.8 L365.0,288.2 L365.4,288.0 L365.8,287.9 L366.2,288.3 L366.6,288.0 L367.0,287.8 L367.4,287.5 L367.8,288.2 L368.2,288.1 L368.6,288.0 L369.0,287.8 L369.4,287.7 L369.8,287.9 L370.2,288.1 L370.6,288.0 L371.0,287.9 L371.4,287.8 L371.8,288.1 L372.2,288.1 L372.6,287.7 L373.0,288.3 L373.4,288.3 L373.8,288.3 L374.2,288.0 L374.6,287.9 L375.0,287.6 L375.4,288.3 L375.8,287.3 L376.2,287.9 L376.6,287.9 L377.0,288.3 L377.4,288.0 L377.8,287.7 L378.2,287.5 L378.6,287.7 L379.0,288.0 L379.4,288.0 L379.8,287.9 L380.2,287.8 L380.6,287.9 L381.0,288.3 L381.4,287.6 L381.8,288.0 L382.2,288.6 L382.6,288.2 L383.0,287.8 L383.4,288.2 L383.8,287.7 L384.2,288.0 L384.6,288.5 L385.0,288.7 L385.4,287.4 L385.8,288.2 L386.2,288.7 L386.6,287.8 L387.0,288.0 L387.4,288.5 L387.8,287.8 L388.2,288.1 L388.6,287.9 L389.0,287.2 L389.4,288.0 L389.8,287.8 L390.2,288.1 L390.6,288.5 L391.0,288.0 L391.4,287.6 L391.8,287.9 L392.2,287.8 L392.6,288.0 L393.0,287.1 L393.4,287.2 L393.8,286.9 L394.2,287.8 L394.6,287.6 L395.0,287.3 L395.4,287.3 L395.8,287.3 L396.2,287.2 L396.6,287.4 L397.0,287.3 L397.4,288.0 L397.8,287.6 L398.2,287.2 L398.6,287.3 L399.0,287.9 L399.4,287.7 L399.8,287.6 L400.2,287.8 L400.6,288.1 L401.0,287.1 L401.4,287.3 L401.8,287.0 L402.2,287.8 L402.6,287.5 L403.0,287.4 L403.4,287.4 L403.8,287.9 L404.2,287.7 L404.6,287.6 L405.0,288.2 L405.4,287.4 L405.8,287.4 L406.2,288.7 L406.6,287.7 L407.0,287.7 L407.4,287.6 L407.8,287.9 L408.2,288.2 L408.6,288.2 L409.0,288.1 L409.4,287.9 L409.8,287.5 L410.2,288.1 L410.6,288.5 L411.0,288.4 L411.4,287.9 L411.8,288.3 L412.2,287.9 L412.6,288.0 L413.0,287.6 L413.4,287.9 L413.8,288.0 L414.2,287.9 L414.6,288.3 L415.0,288.7 L415.4,288.5 L415.8,287.9 L416.2,287.7 L416.6,287.8 L417.0,287.7 L417.4,288.0 L417.8,288.1 L418.2,288.1 L418.6,288.1 L419.0,288.1 L419.4,288.0 L419.8,287.7 L420.2,288.6 L420.6,288.4 L421.0,287.7 L421.4,287.7 L421.8,287.8 L422.2,288.0 L422.6,288.4 L423.0,288.4 L423.4,288.4 L423.8,288.4 L424.2,288.4 L424.6,288.3 L425.0,288.2 L425.4,288.0 L425.8,287.4 L426.2,288.0 L426.6,288.6 L427.0,287.8 L427.4,287.8 L427.8,288.4 L428.2,288.0 L428.6,287.8 L429.0,288.5 L429.4,288.2 L429.8,288.3 L430.2,287.8 L430.6,288.2 L431.0,288.1 L431.4,288.3 L431.8,288.4 L432.2,288.4 L432.6,288.1 L433.0,288.2 L433.4,287.6 L433.8,288.2 L434.2,288.2 L434.6,287.9 L435.0,287.7 L435.4,288.0 L435.8,287.6 L436.2,288.1 L436.6,288.1 L437.0,287.7 L437.4,288.0 L437.8,288.4 L438.2,288.4 L438.6,288.4 L439.0,287.9 L439.4,287.9 L439.8,287.9 L440.2,288.2 L440.6,288.8 L441.0,288.5 L441.4,288.6 L441.8,288.5 L442.2,287.4 L442.6,287.9 L443.0,287.8 L443.4,288.4 L443.8,288.6 L444.2,287.8 L444.6,288.0 L445.0,288.2 L445.4,287.8 L445.8,287.8 L446.2,287.8 L446.6,288.3 L447.0,287.7 L447.4,288.4 L447.8,288.0 L448.2,288.3 L448.6,288.5 L449.0,287.8 L449.4,287.7 L449.8,288.1 L450.2,287.6 L450.6,287.7 L451.0,288.0 L451.4,288.1 L451.8,287.6 L452.2,287.9 L452.6,288.2 L453.0,288.5 L453.4,287.3 L453.8,288.5 L454.2,288.3 L454.6,287.6 L455.0,287.5 L455.4,288.1 L455.8,287.9 L456.2,288.0 L456.6,288.3 L457.0,287.9 L457.4,288.1 L457.8,288.2 L458.2,288.3 L458.6,288.6 L459.0,288.6 L459.4,288.1 L459.8,287.9 L460.2,288.8 L460.6,288.2 L461.0,288.1 L461.4,287.6 L461.8,288.3 L462.2,287.7 L462.6,287.8 L463.0,287.5 L463.4,287.8 L463.8,288.0 L464.2,287.5 L464.6,287.7 L465.0,288.0 L465.4,287.6 L465.8,287.6 L466.2,287.7 L466.6,287.5 L467.0,288.2 L467.4,287.7 L467.8,288.3 L468.2,288.3 L468.6,287.6 L469.0,288.0 L469.4,287.8 L469.8,287.6 L470.2,287.9 L470.6,287.9 L471.0,288.2 L471.4,288.4 L471.8,287.6 L472.2,287.9 L472.6,288.2 L473.0,288.4 L473.4,287.1 L473.8,288.4 L474.2,287.9 L474.6,288.5 L475.0,287.9 L475.4,287.7 L475.8,288.0 L476.2,288.4 L476.6,288.0 L477.0,287.2 L477.4,288.2 L477.8,287.4 L478.2,287.7 L478.6,287.6 L479.0,287.4 L479.4,287.6 L479.8,287.7 L480.2,287.8 L480.6,288.0 L481.0,287.9 L481.4,287.5 L481.8,287.9 L482.2,288.3 L482.6,288.3 L483.0,288.0 L483.4,288.2 L483.8,288.3 L484.2,288.5 L484.6,288.6 L485.0,287.9 L485.4,287.9 L485.8,288.5 L486.2,288.5 L486.6,288.5 L487.0,287.2 L487.4,287.9 L487.8,286.9 L488.2,288.3 L488.6,288.0 L489.0,288.0 L489.4,288.0 L489.8,288.5 L490.2,287.9 L490.6,288.4 L491.0,288.2 L491.4,288.1 L491.8,288.2 L492.2,288.0 L492.6,287.6 L493.0,288.3 L493.4,288.2 L493.8,287.9 L494.2,288.3 L494.6,288.3 L495.0,287.6 L495.4,288.0 L495.8,287.8 L496.2,287.7 L496.6,288.1 L497.0,287.7 L497.4,287.8 L497.8,288.1 L498.2,288.1 L498.6,288.1 L499.0,288.8 L499.4,287.8 L499.8,288.1 L500.2,287.6 L500.6,288.2 L501.0,288.4 L501.4,288.4 L501.8,287.8 L502.2,287.9 L502.6,288.4 L503.0,288.0 L503.4,288.3 L503.8,287.7 L504.2,288.5 L504.6,288.4 L505.0,288.2 L505.4,287.7 L505.8,287.9 L506.2,288.1 L506.6,288.1 L507.0,288.0 L507.4,287.9 L507.8,288.1 L508.2,288.5 L508.6,287.3 L509.0,287.5 L509.4,287.5 L509.8,287.8 L510.2,287.4 L510.6,288.2 L511.0,288.0 L511.4,287.9 L511.8,287.8 L512.2,288.1 L512.6,288.1 L513.0,288.1 L513.4,287.7 L513.8,288.2 L514.2,287.5 L514.6,288.4 L515.0,286.9 L515.4,287.8 L515.8,287.6 L516.2,288.3 L516.6,287.5 L517.0,288.6 L517.4,287.5 L517.8,288.7 L518.2,288.2 L518.6,288.0 L519.0,288.2 L519.4,288.8" fill="none" stroke="#0a0a0a" stroke-width="1.85" stroke-linejoin="round"/>
<path d="M46.6,310.0 L47.0,310.5 L47.4,309.3 L47.8,309.5 L48.2,309.2 L48.6,311.1 L49.0,310.8 L49.4,311.0 L49.8,310.5 L50.2,310.6 L50.6,309.8 L51.0,311.0 L51.4,309.8 L51.8,310.0 L52.2,310.2 L52.6,310.0 L53.0,310.7 L53.4,310.3 L53.8,310.4 L54.2,310.3 L54.6,311.0 L55.0,310.2 L55.4,310.4 L55.8,310.7 L56.2,309.9 L56.6,310.3 L57.0,310.8 L57.4,311.0 L57.8,310.7 L58.2,310.4 L58.6,311.2 L59.0,310.6 L59.4,310.7 L59.8,310.8 L60.2,310.7 L60.6,310.5 L61.0,310.9 L61.4,310.3 L61.8,310.6 L62.2,310.6 L62.6,310.5 L63.0,310.9 L63.4,310.9 L63.8,310.9 L64.2,310.8 L64.6,311.1 L65.0,311.6 L65.4,311.3 L65.8,309.7 L66.2,311.4 L66.6,310.2 L67.0,310.3 L67.4,311.1 L67.8,310.5 L68.2,311.7 L68.6,311.3 L69.0,310.8 L69.4,310.4 L69.8,311.2 L70.2,311.6 L70.6,311.2 L71.0,311.9 L71.4,311.4 L71.8,311.5 L72.2,311.1 L72.6,311.4 L73.0,311.1 L73.4,310.5 L73.8,312.2 L74.2,311.2 L74.6,311.3 L75.0,311.8 L75.4,311.3 L75.8,311.4 L76.2,311.5 L76.6,310.9 L77.0,312.0 L77.4,311.5 L77.8,311.1 L78.2,311.8 L78.6,311.6 L79.0,311.0 L79.4,311.5 L79.8,311.4 L80.2,311.6 L80.6,311.6 L81.0,311.8 L81.4,311.0 L81.8,311.5 L82.2,311.2 L82.6,311.7 L83.0,311.0 L83.4,310.7 L83.8,311.4 L84.2,312.6 L84.6,312.0 L85.0,311.6 L85.4,312.6 L85.8,311.5 L86.2,311.6 L86.6,312.0 L87.0,311.8 L87.4,311.6 L87.8,311.5 L88.2,311.7 L88.6,312.1 L89.0,311.2 L89.4,311.4 L89.8,312.3 L90.2,312.7 L90.6,311.0 L91.0,311.9 L91.4,312.4 L91.8,311.7 L92.2,311.5 L92.6,312.3 L93.0,311.6 L93.4,311.5 L93.8,311.6 L94.2,311.2 L94.6,310.8 L95.0,312.3 L95.4,312.5 L95.8,311.9 L96.2,311.8 L96.6,312.0 L97.0,311.8 L97.4,311.2 L97.8,311.4 L98.2,312.0 L98.6,311.7 L99.0,311.3 L99.4,311.3 L99.8,312.3 L100.2,311.3 L100.6,312.4 L101.0,312.1 L101.4,311.5 L101.8,311.8 L102.2,312.0 L102.6,312.1 L103.0,312.0 L103.4,312.5 L103.8,312.3 L104.2,311.7 L104.6,311.9 L105.0,311.6 L105.4,311.8 L105.8,312.0 L106.2,311.0 L106.6,312.0 L107.0,312.0 L107.4,311.9 L107.8,311.5 L108.2,311.8 L108.6,311.7 L109.0,312.0 L109.4,311.0 L109.8,311.9 L110.2,312.2 L110.6,311.7 L111.0,311.6 L111.4,312.3 L111.8,313.1 L112.2,312.3 L112.6,312.3 L113.0,312.1 L113.4,312.4 L113.8,312.3 L114.2,311.7 L114.6,312.2 L115.0,312.4 L115.4,311.8 L115.8,312.2 L116.2,312.6 L116.6,312.5 L117.0,312.1 L117.4,312.9 L117.8,312.5 L118.2,312.0 L118.6,311.3 L119.0,312.0 L119.4,312.2 L119.8,312.0 L120.2,312.1 L120.6,312.8 L121.0,312.4 L121.4,312.7 L121.8,311.6 L122.2,312.1 L122.6,312.7 L123.0,311.8 L123.4,312.9 L123.8,311.6 L124.2,311.9 L124.6,312.8 L125.0,311.3 L125.4,312.5 L125.8,311.6 L126.2,311.7 L126.6,312.2 L127.0,312.1 L127.4,312.4 L127.8,312.1 L128.2,312.0 L128.6,311.7 L129.0,312.3 L129.4,311.2 L129.8,312.4 L130.2,312.2 L130.6,312.7 L131.0,312.7 L131.4,311.6 L131.8,312.4 L132.2,311.8 L132.6,312.0 L133.0,312.5 L133.4,312.3 L133.8,312.3 L134.2,312.1 L134.6,312.2 L135.0,311.7 L135.4,311.8 L135.8,312.3 L136.2,311.6 L136.6,311.8 L137.0,312.3 L137.4,311.9 L137.8,311.5 L138.2,311.8 L138.6,312.1 L139.0,310.9 L139.4,310.1 L139.8,309.9 L140.2,308.1 L140.6,306.4 L141.0,304.7 L141.4,304.6 L141.8,306.6 L142.2,308.5 L142.6,309.4 L143.0,311.2 L143.4,311.8 L143.8,311.5 L144.2,311.8 L144.6,312.5 L145.0,311.4 L145.4,311.6 L145.8,311.9 L146.2,312.1 L146.6,312.4 L147.0,312.3 L147.4,311.4 L147.8,312.6 L148.2,312.7 L148.6,311.8 L149.0,312.5 L149.4,312.0 L149.8,312.1 L150.2,312.0 L150.6,312.9 L151.0,311.9 L151.4,312.3 L151.8,312.5 L152.2,311.9 L152.6,312.2 L153.0,312.3 L153.4,313.0 L153.8,311.8 L154.2,312.3 L154.6,312.4 L155.0,312.2 L155.4,312.9 L155.8,312.3 L156.2,312.2 L156.6,312.7 L157.0,312.9 L157.4,312.0 L157.8,312.7 L158.2,312.7 L158.6,312.4 L159.0,312.1 L159.4,312.7 L159.8,312.7 L160.2,312.0 L160.6,312.2 L161.0,313.1 L161.4,312.1 L161.8,311.6 L162.2,312.3 L162.6,312.5 L163.0,312.7 L163.4,312.3 L163.8,313.2 L164.2,312.2 L164.6,312.5 L165.0,312.9 L165.4,312.5 L165.8,311.5 L166.2,312.7 L166.6,312.6 L167.0,312.2 L167.4,312.9 L167.8,312.9 L168.2,312.3 L168.6,311.9 L169.0,311.8 L169.4,312.4 L169.8,312.2 L170.2,312.4 L170.6,311.4 L171.0,312.5 L171.4,312.0 L171.8,312.3 L172.2,313.4 L172.6,312.5 L173.0,312.9 L173.4,312.7 L173.8,312.8 L174.2,312.6 L174.6,312.5 L175.0,313.0 L175.4,312.0 L175.8,312.3 L176.2,312.7 L176.6,312.6 L177.0,313.3 L177.4,312.6 L177.8,312.5 L178.2,312.7 L178.6,311.9 L179.0,313.1 L179.4,312.4 L179.8,312.8 L180.2,312.2 L180.6,312.0 L181.0,312.5 L181.4,312.5 L181.8,312.8 L182.2,312.4 L182.6,313.6 L183.0,312.6 L183.4,312.1 L183.8,312.5 L184.2,313.1 L184.6,312.6 L185.0,312.2 L185.4,312.4 L185.8,312.9 L186.2,313.2 L186.6,312.3 L187.0,313.1 L187.4,312.3 L187.8,313.4 L188.2,312.5 L188.6,312.1 L189.0,312.5 L189.4,312.6 L189.8,312.9 L190.2,313.0 L190.6,312.8 L191.0,312.2 L191.4,312.6 L191.8,312.4 L192.2,312.6 L192.6,312.4 L193.0,312.2 L193.4,313.5 L193.8,312.4 L194.2,311.8 L194.6,312.3 L195.0,312.9 L195.4,312.6 L195.8,312.0 L196.2,312.7 L196.6,313.2 L197.0,311.6 L197.4,312.1 L197.8,312.3 L198.2,312.4 L198.6,311.8 L199.0,311.8 L199.4,310.6 L199.8,311.0 L200.2,308.8 L200.6,306.0 L201.0,302.4 L201.4,295.4 L201.8,287.8 L202.2,287.7 L202.6,295.1 L203.0,301.9 L203.4,306.4 L203.8,309.4 L204.2,310.6 L204.6,310.6 L205.0,311.4 L205.4,311.4 L205.8,312.0 L206.2,312.4 L206.6,312.6 L207.0,312.1 L207.4,312.5 L207.8,312.1 L208.2,312.8 L208.6,312.6 L209.0,312.4 L209.4,312.7 L209.8,311.8 L210.2,312.2 L210.6,312.6 L211.0,313.1 L211.4,312.4 L211.8,312.7 L212.2,313.1 L212.6,312.3 L213.0,312.7 L213.4,312.3 L213.8,313.3 L214.2,312.5 L214.6,312.7 L215.0,312.1 L215.4,312.3 L215.8,311.9 L216.2,312.3 L216.6,311.0 L217.0,311.5 L217.4,309.6 L217.8,307.6 L218.2,303.8 L218.6,300.7 L219.0,299.6 L219.4,302.2 L219.8,305.9 L220.2,308.0 L220.6,309.1 L221.0,311.5 L221.4,311.1 L221.8,312.3 L222.2,311.7 L222.6,312.2 L223.0,313.4 L223.4,313.3 L223.8,312.7 L224.2,312.5 L224.6,313.1 L225.0,311.9 L225.4,313.4 L225.8,312.6 L226.2,312.5 L226.6,312.9 L227.0,312.7 L227.4,312.6 L227.8,313.3 L228.2,312.9 L228.6,312.7 L229.0,313.1 L229.4,313.2 L229.8,313.3 L230.2,312.9 L230.6,312.7 L231.0,313.5 L231.4,313.0 L231.8,313.4 L232.2,312.5 L232.6,312.6 L233.0,313.1 L233.4,313.2 L233.8,313.3 L234.2,313.6 L234.6,313.7 L235.0,313.0 L235.4,313.1 L235.8,313.4 L236.2,313.2 L236.6,313.2 L237.0,314.0 L237.4,313.6 L237.8,312.4 L238.2,312.9 L238.6,313.0 L239.0,313.9 L239.4,312.5 L239.8,313.4 L240.2,313.2 L240.6,312.9 L241.0,313.5 L241.4,313.0 L241.8,312.5 L242.2,312.7 L242.6,313.7 L243.0,312.9 L243.4,313.7 L243.8,313.2 L244.2,312.5 L244.6,312.5 L245.0,313.3 L245.4,313.8 L245.8,313.1 L246.2,313.0 L246.6,313.1 L247.0,313.1 L247.4,313.1 L247.8,312.9 L248.2,313.0 L248.6,312.9 L249.0,313.0 L249.4,312.5 L249.8,313.0 L250.2,313.2 L250.6,313.0 L251.0,312.4 L251.4,313.1 L251.8,313.1 L252.2,311.3 L252.6,311.7 L253.0,310.4 L253.4,308.2 L253.8,306.1 L254.2,307.0 L254.6,308.5 L255.0,310.2 L255.4,311.5 L255.8,312.4 L256.2,312.4 L256.6,313.2 L257.0,313.4 L257.4,313.1 L257.8,312.6 L258.2,313.9 L258.6,313.2 L259.0,312.7 L259.4,313.7 L259.8,313.8 L260.2,313.5 L260.6,313.5 L261.0,313.8 L261.4,312.9 L261.8,313.4 L262.2,313.1 L262.6,313.7 L263.0,313.3 L263.4,314.4 L263.8,313.6 L264.2,313.0 L264.6,312.9 L265.0,314.2 L265.4,314.1 L265.8,313.6 L266.2,313.4 L266.6,313.8 L267.0,313.3 L267.4,312.0 L267.8,312.9 L268.2,313.4 L268.6,313.6 L269.0,313.7 L269.4,313.8 L269.8,313.1 L270.2,313.2 L270.6,313.3 L271.0,313.8 L271.4,312.8 L271.8,313.1 L272.2,313.9 L272.6,313.4 L273.0,313.6 L273.4,312.9 L273.8,313.7 L274.2,314.1 L274.6,313.9 L275.0,313.8 L275.4,313.7 L275.8,313.7 L276.2,313.8 L276.6,314.5 L277.0,314.2 L277.4,313.6 L277.8,313.7 L278.2,313.6 L278.6,313.2 L279.0,313.7 L279.4,313.5 L279.8,314.0 L280.2,313.5 L280.6,313.7 L281.0,313.9 L281.4,313.3 L281.8,313.9 L282.2,313.2 L282.6,313.7 L283.0,313.2 L283.4,313.1 L283.8,313.7 L284.2,313.2 L284.6,313.0 L285.0,313.1 L285.4,313.2 L285.8,313.7 L286.2,313.0 L286.6,313.2 L287.0,313.7 L287.4,314.2 L287.8,313.3 L288.2,313.7 L288.6,314.1 L289.0,313.8 L289.4,314.2 L289.8,314.0 L290.2,313.3 L290.6,314.3 L291.0,313.9 L291.4,314.8 L291.8,313.9 L292.2,314.4 L292.6,314.0 L293.0,313.7 L293.4,313.6 L293.8,313.9 L294.2,314.0 L294.6,313.5 L295.0,313.7 L295.4,313.7 L295.8,313.6 L296.2,314.4 L296.6,314.2 L297.0,313.0 L297.4,314.0 L297.8,313.7 L298.2,314.1 L298.6,313.6 L299.0,313.5 L299.4,313.6 L299.8,313.2 L300.2,313.6 L300.6,314.3 L301.0,314.1 L301.4,314.2 L301.8,313.6 L302.2,313.4 L302.6,313.0 L303.0,313.8 L303.4,314.5 L303.8,314.2 L304.2,314.1 L304.6,314.2 L305.0,313.9 L305.4,313.7 L305.8,313.9 L306.2,313.1 L306.6,313.0 L307.0,313.1 L307.4,312.7 L307.8,313.5 L308.2,313.4 L308.6,313.3 L309.0,312.9 L309.4,312.7 L309.8,311.9 L310.2,312.4 L310.6,311.2 L311.0,309.6 L311.4,308.4 L311.8,306.2 L312.2,306.2 L312.6,306.8 L313.0,308.2 L313.4,309.9 L313.8,311.2 L314.2,311.3 L314.6,313.1 L315.0,312.4 L315.4,313.2 L315.8,313.1 L316.2,313.1 L316.6,313.2 L317.0,313.3 L317.4,313.5 L317.8,313.9 L318.2,314.0 L318.6,313.5 L319.0,314.9 L319.4,313.7 L319.8,313.9 L320.2,313.8 L320.6,314.0 L321.0,313.3 L321.4,313.6 L321.8,313.3 L322.2,313.8 L322.6,313.8 L323.0,314.2 L323.4,313.8 L323.8,314.2 L324.2,313.8 L324.6,314.8 L325.0,313.8 L325.4,314.1 L325.8,313.4 L326.2,313.9 L326.6,314.8 L327.0,313.0 L327.4,314.3 L327.8,314.0 L328.2,313.8 L328.6,314.3 L329.0,313.5 L329.4,313.6 L329.8,313.8 L330.2,314.4 L330.6,313.5 L331.0,314.0 L331.4,313.9 L331.8,313.9 L332.2,314.3 L332.6,313.4 L333.0,313.6 L333.4,313.6 L333.8,314.2 L334.2,314.5 L334.6,313.9 L335.0,314.0 L335.4,313.9 L335.8,313.7 L336.2,313.6 L336.6,313.3 L337.0,314.5 L337.4,313.6 L337.8,313.5 L338.2,313.6 L338.6,313.2 L339.0,313.0 L339.4,313.0 L339.8,312.9 L340.2,312.1 L340.6,311.9 L341.0,309.5 L341.4,308.6 L341.8,306.7 L342.2,304.3 L342.6,303.0 L343.0,304.7 L343.4,306.4 L343.8,309.1 L344.2,311.0 L344.6,312.3 L345.0,312.1 L345.4,312.7 L345.8,312.9 L346.2,313.5 L346.6,313.8 L347.0,312.9 L347.4,314.1 L347.8,314.4 L348.2,312.9 L348.6,313.9 L349.0,313.5 L349.4,313.7 L349.8,313.6 L350.2,314.2 L350.6,314.1 L351.0,313.9 L351.4,314.1 L351.8,314.7 L352.2,313.6 L352.6,313.7 L353.0,313.1 L353.4,313.7 L353.8,313.9 L354.2,313.3 L354.6,314.3 L355.0,313.9 L355.4,313.8 L355.8,313.5 L356.2,314.1 L356.6,313.7 L357.0,314.3 L357.4,313.5 L357.8,314.0 L358.2,313.7 L358.6,314.3 L359.0,313.7 L359.4,314.3 L359.8,313.8 L360.2,313.6 L360.6,314.0 L361.0,314.0 L361.4,313.9 L361.8,313.8 L362.2,314.1 L362.6,313.4 L363.0,312.7 L363.4,313.2 L363.8,313.3 L364.2,312.3 L364.6,312.4 L365.0,312.5 L365.4,311.6 L365.8,311.6 L366.2,311.3 L366.6,311.7 L367.0,311.9 L367.4,311.5 L367.8,312.0 L368.2,313.3 L368.6,313.7 L369.0,313.3 L369.4,313.8 L369.8,313.4 L370.2,313.2 L370.6,313.8 L371.0,314.6 L371.4,314.2 L371.8,313.6 L372.2,314.5 L372.6,314.4 L373.0,314.1 L373.4,313.7 L373.8,313.6 L374.2,314.2 L374.6,313.6 L375.0,314.3 L375.4,313.5 L375.8,313.7 L376.2,314.8 L376.6,314.0 L377.0,313.6 L377.4,314.0 L377.8,314.4 L378.2,314.3 L378.6,314.0 L379.0,314.3 L379.4,314.6 L379.8,313.9 L380.2,313.4 L380.6,313.9 L381.0,313.7 L381.4,313.9 L381.8,314.4 L382.2,312.8 L382.6,314.3 L383.0,314.8 L383.4,314.9 L383.8,314.4 L384.2,313.6 L384.6,314.2 L385.0,314.2 L385.4,313.9 L385.8,313.4 L386.2,314.3 L386.6,314.5 L387.0,313.9 L387.4,315.3 L387.8,313.5 L388.2,314.5 L388.6,313.6 L389.0,313.9 L389.4,314.1 L389.8,313.4 L390.2,314.1 L390.6,313.3 L391.0,314.3 L391.4,314.2 L391.8,314.5 L392.2,313.8 L392.6,314.1 L393.0,313.5 L393.4,313.9 L393.8,313.8 L394.2,313.8 L394.6,313.7 L395.0,313.2 L395.4,313.8 L395.8,313.5 L396.2,312.9 L396.6,313.3 L397.0,313.4 L397.4,312.0 L397.8,311.0 L398.2,310.8 L398.6,309.5 L399.0,308.9 L399.4,308.4 L399.8,309.6 L400.2,310.5 L400.6,310.3 L401.0,311.4 L401.4,312.4 L401.8,313.5 L402.2,313.3 L402.6,314.0 L403.0,313.8 L403.4,313.8 L403.8,313.0 L404.2,313.8 L404.6,313.6 L405.0,313.5 L405.4,313.4 L405.8,313.2 L406.2,313.6 L406.6,314.1 L407.0,313.5 L407.4,313.1 L407.8,313.0 L408.2,312.4 L408.6,312.2 L409.0,312.0 L409.4,311.2 L409.8,310.3 L410.2,309.2 L410.6,308.7 L411.0,308.2 L411.4,309.8 L411.8,309.7 L412.2,311.0 L412.6,312.1 L413.0,311.5 L413.4,313.3 L413.8,313.1 L414.2,313.2 L414.6,313.7 L415.0,313.9 L415.4,313.9 L415.8,314.5 L416.2,313.8 L416.6,313.8 L417.0,313.3 L417.4,314.3 L417.8,314.6 L418.2,314.4 L418.6,313.6 L419.0,313.8 L419.4,313.7 L419.8,314.5 L420.2,314.7 L420.6,314.1 L421.0,313.9 L421.4,314.0 L421.8,313.6 L422.2,314.4 L422.6,314.1 L423.0,315.0 L423.4,314.0 L423.8,314.3 L424.2,314.8 L424.6,314.3 L425.0,313.9 L425.4,314.7 L425.8,314.6 L426.2,314.4 L426.6,314.0 L427.0,314.2 L427.4,313.8 L427.8,313.9 L428.2,314.4 L428.6,314.4 L429.0,314.7 L429.4,314.8 L429.8,314.3 L430.2,313.6 L430.6,314.7 L431.0,314.5 L431.4,314.1 L431.8,314.4 L432.2,314.6 L432.6,314.6 L433.0,314.2 L433.4,314.6 L433.8,313.4 L434.2,313.8 L434.6,314.6 L435.0,314.2 L435.4,314.7 L435.8,314.4 L436.2,314.3 L436.6,314.4 L437.0,314.0 L437.4,314.6 L437.8,314.8 L438.2,314.6 L438.6,314.7 L439.0,313.8 L439.4,314.5 L439.8,314.4 L440.2,314.9 L440.6,314.0 L441.0,314.7 L441.4,314.2 L441.8,314.5 L442.2,314.3 L442.6,314.2 L443.0,314.2 L443.4,314.2 L443.8,314.4 L444.2,313.8 L444.6,314.0 L445.0,313.8 L445.4,314.5 L445.8,314.3 L446.2,314.3 L446.6,313.8 L447.0,314.2 L447.4,314.4 L447.8,314.4 L448.2,314.6 L448.6,314.9 L449.0,314.4 L449.4,315.4 L449.8,314.3 L450.2,314.9 L450.6,313.4 L451.0,313.8 L451.4,314.4 L451.8,314.0 L452.2,314.4 L452.6,314.1 L453.0,313.8 L453.4,314.7 L453.8,314.2 L454.2,314.3 L454.6,313.9 L455.0,314.3 L455.4,314.3 L455.8,313.9 L456.2,313.8 L456.6,314.2 L457.0,313.8 L457.4,313.8 L457.8,314.1 L458.2,314.1 L458.6,314.4 L459.0,314.2 L459.4,314.6 L459.8,313.5 L460.2,313.2 L460.6,312.9 L461.0,312.7 L461.4,312.9 L461.8,312.5 L462.2,311.8 L462.6,312.3 L463.0,312.0 L463.4,311.1 L463.8,311.1 L464.2,312.3 L464.6,311.8 L465.0,312.4 L465.4,312.4 L465.8,313.2 L466.2,312.8 L466.6,313.9 L467.0,314.2 L467.4,313.3 L467.8,314.4 L468.2,314.2 L468.6,314.1 L469.0,314.7 L469.4,314.0 L469.8,313.7 L470.2,314.3 L470.6,313.8 L471.0,314.4 L471.4,314.3 L471.8,313.9 L472.2,314.5 L472.6,314.3 L473.0,313.9 L473.4,314.5 L473.8,313.8 L474.2,314.6 L474.6,314.3 L475.0,314.3 L475.4,314.5 L475.8,315.1 L476.2,313.8 L476.6,315.0 L477.0,314.5 L477.4,314.8 L477.8,314.4 L478.2,314.3 L478.6,314.3 L479.0,314.1 L479.4,314.7 L479.8,313.7 L480.2,315.2 L480.6,314.4 L481.0,314.4 L481.4,314.3 L481.8,314.7 L482.2,314.1 L482.6,314.8 L483.0,314.4 L483.4,314.2 L483.8,314.1 L484.2,314.8 L484.6,313.4 L485.0,313.6 L485.4,313.8 L485.8,313.5 L486.2,313.9 L486.6,313.4 L487.0,313.4 L487.4,313.3 L487.8,312.8 L488.2,313.2 L488.6,313.2 L489.0,314.1 L489.4,314.2 L489.8,314.2 L490.2,313.5 L490.6,313.8 L491.0,313.3 L491.4,313.4 L491.8,314.0 L492.2,313.6 L492.6,314.2 L493.0,314.5 L493.4,314.3 L493.8,313.9 L494.2,314.3 L494.6,314.4 L495.0,314.2 L495.4,314.0 L495.8,313.8 L496.2,314.5 L496.6,314.7 L497.0,314.1 L497.4,314.2 L497.8,314.2 L498.2,314.1 L498.6,314.4 L499.0,314.5 L499.4,313.6 L499.8,313.8 L500.2,314.7 L500.6,314.3 L501.0,314.3 L501.4,314.2 L501.8,314.7 L502.2,314.3 L502.6,314.9 L503.0,314.5 L503.4,313.9 L503.8,314.8 L504.2,314.3 L504.6,314.6 L505.0,313.8 L505.4,314.0 L505.8,315.0 L506.2,314.7 L506.6,314.4 L507.0,315.0 L507.4,314.1 L507.8,314.8 L508.2,314.2 L508.6,314.1 L509.0,314.1 L509.4,314.6 L509.8,314.0 L510.2,314.8 L510.6,314.2 L511.0,314.4 L511.4,314.0 L511.8,314.4 L512.2,314.4 L512.6,314.0 L513.0,314.8 L513.4,314.8 L513.8,314.8 L514.2,314.5 L514.6,314.2 L515.0,314.8 L515.4,314.1 L515.8,314.7 L516.2,313.7 L516.6,314.5 L517.0,314.5 L517.4,314.0 L517.8,314.6 L518.2,314.6 L518.6,314.2 L519.0,314.7 L519.4,313.5" fill="none" stroke="#e98a30" stroke-width="1.7" stroke-linejoin="round"/>
<line x1="142.2" x2="142.2" y1="347.8" y2="339" stroke="#cc2229" stroke-width="2.1"/>
<line x1="203.1" x2="203.1" y1="347.8" y2="317.7" stroke="#cc2229" stroke-width="2.1"/>
<line x1="219.6" x2="219.6" y1="347.8" y2="324.7" stroke="#cc2229" stroke-width="2.1"/>
<line x1="244.6" x2="244.6" y1="347.8" y2="344" stroke="#cc2229" stroke-width="2.1"/>
<line x1="255.2" x2="255.2" y1="347.8" y2="338.4" stroke="#cc2229" stroke-width="2.1"/>
<line x1="273.0" x2="273.0" y1="347.8" y2="344.5" stroke="#cc2229" stroke-width="2.1"/>
<line x1="313.5" x2="313.5" y1="347.8" y2="329" stroke="#cc2229" stroke-width="2.1"/>
<line x1="344.4" x2="344.4" y1="347.8" y2="325.2" stroke="#cc2229" stroke-width="2.1"/>
<line x1="358.8" x2="358.8" y1="347.8" y2="344.5" stroke="#cc2229" stroke-width="2.1"/>
<line x1="367.2" x2="367.2" y1="347.8" y2="340.5" stroke="#cc2229" stroke-width="2.1"/>
<line x1="368.6" x2="368.6" y1="347.8" y2="340" stroke="#cc2229" stroke-width="2.1"/>
<line x1="400.7" x2="400.7" y1="347.8" y2="330.2" stroke="#cc2229" stroke-width="2.1"/>
<line x1="411.5" x2="411.5" y1="347.8" y2="330.2" stroke="#cc2229" stroke-width="2.1"/>
<line x1="425.7" x2="425.7" y1="347.8" y2="344.7" stroke="#cc2229" stroke-width="2.1"/>
<line x1="449.3" x2="449.3" y1="347.8" y2="343.2" stroke="#cc2229" stroke-width="2.1"/>
<line x1="465.5" x2="465.5" y1="347.8" y2="339" stroke="#cc2229" stroke-width="2.1"/>
<line x1="467.6" x2="467.6" y1="347.8" y2="341.5" stroke="#cc2229" stroke-width="2.1"/>
<line x1="489.2" x2="489.2" y1="347.8" y2="340.2" stroke="#cc2229" stroke-width="2.1"/>
<line x1="504.7" x2="504.7" y1="347.8" y2="342.2" stroke="#cc2229" stroke-width="2.1"/>
<line x1="511.5" x2="511.5" y1="347.8" y2="344" stroke="#cc2229" stroke-width="2.1"/>
<line x1="103.9" x2="103.9" y1="387.0" y2="355.7" stroke="#0a0a0a" stroke-width="2.4"/>
<line x1="106.9" x2="106.9" y1="387.0" y2="356.5" stroke="#0a0a0a" stroke-width="2.4"/>
<line x1="134.0" x2="134.0" y1="387.0" y2="361.5" stroke="#0a0a0a" stroke-width="2.0"/>
<line x1="145.9" x2="145.9" y1="387.0" y2="363.2" stroke="#0a0a0a" stroke-width="3.6"/>
<line x1="169.6" x2="169.6" y1="387.0" y2="366" stroke="#0a0a0a" stroke-width="1.9"/>
<line x1="179.7" x2="179.7" y1="387.0" y2="367" stroke="#0a0a0a" stroke-width="1.9"/>
<line x1="196.6" x2="196.6" y1="387.0" y2="368.2" stroke="#0a0a0a" stroke-width="1.9"/>
<line x1="209.1" x2="209.1" y1="387.0" y2="369.5" stroke="#0a0a0a" stroke-width="5.6000000000000005"/>
<line x1="232.4" x2="232.4" y1="387.0" y2="371" stroke="#0a0a0a" stroke-width="1.9"/>
<line x1="237.1" x2="237.1" y1="387.0" y2="371.5" stroke="#0a0a0a" stroke-width="1.9"/>
<line x1="248.6" x2="248.6" y1="387.0" y2="372" stroke="#0a0a0a" stroke-width="2.0"/>
<line x1="252.7" x2="252.7" y1="387.0" y2="372" stroke="#0a0a0a" stroke-width="2.0"/>
<line x1="257.4" x2="257.4" y1="387.0" y2="372.3" stroke="#0a0a0a" stroke-width="2.0"/>
<line x1="267.7" x2="267.7" y1="387.0" y2="372.8" stroke="#0a0a0a" stroke-width="2.3"/>
<line x1="270.6" x2="270.6" y1="387.0" y2="372.8" stroke="#0a0a0a" stroke-width="2.3"/>
<line x1="279.7" x2="279.7" y1="387.0" y2="373.3" stroke="#0a0a0a" stroke-width="2.0"/>
<line x1="282.1" x2="282.1" y1="387.0" y2="373.3" stroke="#0a0a0a" stroke-width="2.0"/>
<line x1="288.8" x2="288.8" y1="387.0" y2="373.8" stroke="#0a0a0a" stroke-width="1.9"/>
<line x1="293.9" x2="293.9" y1="387.0" y2="373.8" stroke="#0a0a0a" stroke-width="1.9"/>
<line x1="297.3" x2="297.3" y1="387.0" y2="373.8" stroke="#0a0a0a" stroke-width="1.9"/>
<line x1="303.8" x2="303.8" y1="387.0" y2="374.2" stroke="#0a0a0a" stroke-width="1.9"/>
<line x1="312.2" x2="312.2" y1="387.0" y2="374.5" stroke="#0a0a0a" stroke-width="1.9"/>
<line x1="318.9" x2="318.9" y1="387.0" y2="374.6" stroke="#0a0a0a" stroke-width="1.9"/>
<line x1="321.6" x2="321.6" y1="387.0" y2="374.6" stroke="#0a0a0a" stroke-width="1.9"/>
<line x1="325.0" x2="325.0" y1="387.0" y2="374.8" stroke="#0a0a0a" stroke-width="1.9"/>
<line x1="327.0" x2="327.0" y1="387.0" y2="374.8" stroke="#0a0a0a" stroke-width="1.9"/>
<line x1="337.2" x2="337.2" y1="387.0" y2="375.2" stroke="#0a0a0a" stroke-width="1.9"/>
<line x1="350.0" x2="350.0" y1="387.0" y2="375.5" stroke="#0a0a0a" stroke-width="1.9"/>
<line x1="359.4" x2="359.4" y1="387.0" y2="375.6" stroke="#0a0a0a" stroke-width="2.0"/>
<line x1="361.5" x2="361.5" y1="387.0" y2="375.6" stroke="#0a0a0a" stroke-width="2.0"/>
<line x1="363.5" x2="363.5" y1="387.0" y2="375.6" stroke="#0a0a0a" stroke-width="2.0"/>
<line x1="365.5" x2="365.5" y1="387.0" y2="375.6" stroke="#0a0a0a" stroke-width="2.0"/>
<line x1="370.9" x2="370.9" y1="387.0" y2="375.8" stroke="#0a0a0a" stroke-width="1.9"/>
<line x1="383.1" x2="383.1" y1="387.0" y2="376" stroke="#0a0a0a" stroke-width="1.9"/>
<line x1="385.8" x2="385.8" y1="387.0" y2="376" stroke="#0a0a0a" stroke-width="1.9"/>
<line x1="394.6" x2="394.6" y1="387.0" y2="376.3" stroke="#0a0a0a" stroke-width="1.9"/>
<line x1="400.0" x2="400.0" y1="387.0" y2="376.3" stroke="#0a0a0a" stroke-width="1.9"/>
<line x1="410.8" x2="410.8" y1="387.0" y2="376.5" stroke="#0a0a0a" stroke-width="1.9"/>
<line x1="417.6" x2="417.6" y1="387.0" y2="376.8" stroke="#0a0a0a" stroke-width="1.9"/>
<line x1="425.7" x2="425.7" y1="387.0" y2="377" stroke="#0a0a0a" stroke-width="1.9"/>
<line x1="442.2" x2="442.2" y1="387.0" y2="377.2" stroke="#0a0a0a" stroke-width="3.1999999999999997"/>
<line x1="448.0" x2="448.0" y1="387.0" y2="377.3" stroke="#0a0a0a" stroke-width="1.9"/>
<line x1="457.4" x2="457.4" y1="387.0" y2="377.5" stroke="#0a0a0a" stroke-width="1.9"/>
<line x1="473.6" x2="473.6" y1="387.0" y2="377.8" stroke="#0a0a0a" stroke-width="1.9"/>
<rect x="46.6" y="2.3" width="473.1" height="384.7" fill="none" stroke="#000" stroke-width="2.6"/>
<line x1="46.6" x2="519.7" y1="347.8" y2="347.8" stroke="#000" stroke-width="2.6"/>
<line x1="46.6" x2="46.6" y1="387.0" y2="394.0" stroke="#000" stroke-width="2.7"/>
<text x="47.2" y="418.1" font-size="23.4" text-anchor="middle" fill="#111" stroke="#111" stroke-width="0.3" >10</text>
<line x1="80.4" x2="80.4" y1="387.0" y2="390.6" stroke="#000" stroke-width="2.7"/>
<line x1="114.2" x2="114.2" y1="387.0" y2="394.0" stroke="#000" stroke-width="2.7"/>
<text x="114.8" y="418.1" font-size="23.4" text-anchor="middle" fill="#111" stroke="#111" stroke-width="0.3" >20</text>
<line x1="148.0" x2="148.0" y1="387.0" y2="390.6" stroke="#000" stroke-width="2.7"/>
<line x1="181.7" x2="181.7" y1="387.0" y2="394.0" stroke="#000" stroke-width="2.7"/>
<text x="182.3" y="418.1" font-size="23.4" text-anchor="middle" fill="#111" stroke="#111" stroke-width="0.3" >30</text>
<line x1="215.5" x2="215.5" y1="387.0" y2="390.6" stroke="#000" stroke-width="2.7"/>
<line x1="249.3" x2="249.3" y1="387.0" y2="394.0" stroke="#000" stroke-width="2.7"/>
<text x="249.9" y="418.1" font-size="23.4" text-anchor="middle" fill="#111" stroke="#111" stroke-width="0.3" >40</text>
<line x1="283.1" x2="283.1" y1="387.0" y2="390.6" stroke="#000" stroke-width="2.7"/>
<line x1="316.9" x2="316.9" y1="387.0" y2="394.0" stroke="#000" stroke-width="2.7"/>
<text x="317.5" y="418.1" font-size="23.4" text-anchor="middle" fill="#111" stroke="#111" stroke-width="0.3" >50</text>
<line x1="350.7" x2="350.7" y1="387.0" y2="390.6" stroke="#000" stroke-width="2.7"/>
<line x1="384.4" x2="384.4" y1="387.0" y2="394.0" stroke="#000" stroke-width="2.7"/>
<text x="385.1" y="418.1" font-size="23.4" text-anchor="middle" fill="#111" stroke="#111" stroke-width="0.3" >60</text>
<line x1="418.2" x2="418.2" y1="387.0" y2="390.6" stroke="#000" stroke-width="2.7"/>
<line x1="452.0" x2="452.0" y1="387.0" y2="394.0" stroke="#000" stroke-width="2.7"/>
<text x="452.6" y="418.1" font-size="23.4" text-anchor="middle" fill="#111" stroke="#111" stroke-width="0.3" >70</text>
<line x1="485.8" x2="485.8" y1="387.0" y2="390.6" stroke="#000" stroke-width="2.7"/>
<line x1="519.6" x2="519.6" y1="387.0" y2="394.0" stroke="#000" stroke-width="2.7"/>
<text x="520.2" y="418.1" font-size="23.4" text-anchor="middle" fill="#111" stroke="#111" stroke-width="0.3" >80</text>
<text x="283.6" y="446.4" font-size="25.3" text-anchor="middle" fill="#111" stroke="#111" stroke-width="0.3" word-spacing="1.5">2θ (°)</text>
<text transform="translate(32.4,194.3) rotate(-90)" font-size="25.4" text-anchor="middle" fill="#111" stroke="#111" stroke-width="0.3">Intensity (a.u.)</text>
<text x="0" y="31.5" font-size="37.3" text-anchor="start" fill="#111" stroke="#111" stroke-width="0.3" >(a)</text>
<text x="92.7" y="74" font-size="18.1" text-anchor="start" fill="#111" stroke="#111" stroke-width="0.3" >(002)</text>
<text x="53.3" y="96.2" font-size="18.1" text-anchor="start" fill="#111" stroke="#111" stroke-width="0.3" >(200)</text>
<text x="116.5" y="97.5" font-size="18.1" text-anchor="start" fill="#111" stroke="#111" stroke-width="0.3" >(-202)</text>
<text x="164.5" y="123.3" font-size="18.1" text-anchor="start" fill="#111" stroke="#111" stroke-width="0.3" >(202)</text>
<text x="277.5" y="134.6" font-size="18.1" text-anchor="start" fill="#111" stroke="#111" stroke-width="0.3" >(402)</text>
<text x="511.5" y="62.3" font-size="18.1" text-anchor="end" fill="#111" stroke="#111" stroke-width="0.3" >CS</text>
<text x="517" y="139.5" font-size="18.1" text-anchor="end" fill="#111" stroke="#111" stroke-width="0.3" >C-1.8</text>
<text x="518" y="164.3" font-size="18.1" text-anchor="end" fill="#111" stroke="#111" stroke-width="0.3" >C-1.35</text>
<text x="514" y="209" font-size="18.1" text-anchor="end" fill="#111" stroke="#111" stroke-width="0.3" >C-0.9</text>
<text x="517" y="233" font-size="18.1" text-anchor="end" fill="#111" stroke="#111" stroke-width="0.3" >C-0.45</text>
<text x="514.5" y="258.8" font-size="18.1" text-anchor="end" fill="#111" stroke="#111" stroke-width="0.3" >C-0.27</text>
<text x="517" y="283.3" font-size="18.1" text-anchor="end" fill="#111" stroke="#111" stroke-width="0.3" >C-0.09</text>
<text x="517" y="306.4" font-size="18.1" text-anchor="end" fill="#111" stroke="#111" stroke-width="0.3" >C-0</text>
<text x="515.3" y="332.7" font-size="18.1" text-anchor="end" fill="#c8232b" stroke="#c8232b" stroke-width="0.3" textLength="100.3" lengthAdjust="spacingAndGlyphs">PDF#33-0664</text>
<text x="515.3" y="367.2" font-size="18.1" text-anchor="end" fill="#111" stroke="#111" stroke-width="0.3" textLength="99.8" lengthAdjust="spacingAndGlyphs">PDF#23-0239</text>
<path d="M598.9,69.2 L599.3,67.8 L599.7,67.7 L600.1,66.3 L600.5,68.1 L600.9,67.9 L601.3,67.8 L601.7,68.4 L602.1,68.5 L602.5,67.5 L602.9,67.6 L603.3,67.9 L603.7,68.7 L604.1,68.7 L604.5,67.5 L604.9,67.6 L605.3,68.8 L605.7,69.4 L606.1,68.4 L606.5,68.0 L606.9,69.2 L607.3,68.3 L607.7,69.0 L608.1,69.5 L608.5,69.0 L608.9,68.6 L609.3,69.1 L609.7,68.2 L610.1,68.5 L610.5,68.3 L610.9,68.5 L611.3,68.4 L611.7,68.6 L612.1,68.5 L612.5,68.8 L612.9,68.8 L613.3,69.0 L613.7,69.7 L614.1,67.8 L614.5,69.7 L614.9,68.7 L615.3,68.1 L615.7,68.8 L616.1,69.0 L616.5,69.7 L616.9,68.3 L617.3,69.2 L617.7,69.1 L618.1,68.0 L618.5,68.3 L618.9,69.5 L619.3,69.6 L619.7,69.8 L620.1,69.5 L620.5,69.4 L620.9,69.3 L621.3,70.0 L621.7,68.7 L622.1,69.2 L622.5,69.5 L622.9,68.3 L623.3,70.2 L623.7,68.9 L624.1,69.3 L624.5,70.8 L624.9,68.9 L625.3,69.1 L625.7,70.5 L626.1,68.8 L626.5,69.2 L626.9,69.8 L627.3,69.8 L627.7,69.9 L628.1,69.8 L628.5,70.5 L628.9,70.3 L629.3,70.0 L629.7,69.2 L630.1,69.2 L630.5,68.5 L630.9,70.2 L631.3,68.6 L631.7,70.3 L632.1,70.9 L632.5,69.1 L632.9,69.4 L633.3,69.5 L633.7,70.4 L634.1,69.3 L634.5,69.8 L634.9,69.6 L635.3,69.8 L635.7,70.8 L636.1,69.4 L636.5,70.0 L636.9,70.2 L637.3,70.6 L637.7,69.3 L638.1,70.8 L638.5,70.4 L638.9,70.7 L639.3,70.2 L639.7,69.1 L640.1,69.8 L640.5,70.7 L640.9,70.2 L641.3,70.2 L641.7,71.4 L642.1,71.6 L642.5,70.3 L642.9,71.5 L643.3,69.1 L643.7,69.1 L644.1,70.9 L644.5,70.2 L644.9,70.7 L645.3,70.7 L645.7,70.4 L646.1,70.9 L646.5,70.6 L646.9,69.5 L647.3,70.6 L647.7,70.6 L648.1,71.7 L648.5,69.9 L648.9,70.6 L649.3,70.3 L649.7,70.5 L650.1,71.6 L650.5,70.9 L650.9,70.4 L651.3,70.8 L651.7,71.2 L652.1,70.1 L652.5,70.6 L652.9,71.7 L653.3,71.3 L653.7,70.8 L654.1,70.5 L654.5,70.7 L654.9,69.9 L655.3,71.4 L655.7,71.1 L656.1,71.0 L656.5,70.1 L656.9,70.5 L657.3,71.2 L657.7,71.1 L658.1,70.7 L658.5,71.3 L658.9,71.6 L659.3,70.6 L659.7,70.7 L660.1,70.5 L660.5,70.4 L660.9,71.6 L661.3,71.4 L661.7,71.3 L662.1,70.4 L662.5,70.5 L662.9,71.1 L663.3,70.9 L663.7,71.3 L664.1,70.8 L664.5,71.6 L664.9,72.3 L665.3,72.2 L665.7,72.3 L666.1,71.3 L666.5,71.9 L666.9,71.1 L667.3,71.9 L667.7,71.1 L668.1,71.1 L668.5,71.0 L668.9,71.8 L669.3,71.6 L669.7,71.5 L670.1,70.8 L670.5,71.5 L670.9,70.6 L671.3,72.4 L671.7,71.4 L672.1,71.6 L672.5,71.5 L672.9,70.6 L673.3,70.7 L673.7,71.6 L674.1,72.5 L674.5,70.9 L674.9,71.2 L675.3,71.6 L675.7,70.6 L676.1,70.6 L676.5,71.4 L676.9,71.7 L677.3,71.5 L677.7,72.6 L678.1,71.6 L678.5,72.0 L678.9,72.7 L679.3,72.8 L679.7,70.8 L680.1,71.6 L680.5,72.5 L680.9,71.0 L681.3,71.3 L681.7,71.1 L682.1,71.0 L682.5,71.2 L682.9,72.0 L683.3,72.6 L683.7,72.8 L684.1,71.9 L684.5,70.7 L684.9,71.9 L685.3,71.7 L685.7,72.1 L686.1,71.8 L686.5,70.9 L686.9,72.2 L687.3,70.7 L687.7,71.5 L688.1,72.1 L688.5,72.1 L688.9,72.7 L689.3,70.4 L689.7,71.9 L690.1,72.0 L690.5,71.3 L690.9,71.6 L691.3,70.2 L691.7,70.6 L692.1,69.3 L692.5,66.0 L692.9,62.6 L693.3,59.5 L693.7,60.0 L694.1,64.8 L694.5,67.6 L694.9,70.3 L695.3,71.3 L695.7,71.2 L696.1,71.4 L696.5,71.2 L696.9,71.4 L697.3,71.5 L697.7,72.3 L698.1,71.6 L698.5,72.2 L698.9,72.4 L699.3,72.0 L699.7,72.2 L700.1,73.2 L700.5,73.3 L700.9,72.0 L701.3,72.3 L701.7,72.2 L702.1,72.3 L702.5,73.4 L702.9,72.9 L703.3,73.3 L703.7,73.6 L704.1,72.3 L704.5,72.5 L704.9,72.6 L705.3,73.2 L705.7,72.6 L706.1,73.0 L706.5,73.3 L706.9,73.4 L707.3,73.0 L707.7,72.3 L708.1,71.9 L708.5,73.4 L708.9,73.0 L709.3,72.2 L709.7,72.5 L710.1,72.6 L710.5,71.9 L710.9,73.0 L711.3,72.4 L711.7,72.7 L712.1,73.3 L712.5,72.8 L712.9,73.2 L713.3,73.2 L713.7,73.0 L714.1,73.0 L714.5,74.0 L714.9,72.9 L715.3,73.9 L715.7,72.5 L716.1,73.4 L716.5,73.1 L716.9,72.6 L717.3,71.6 L717.7,74.0 L718.1,72.4 L718.5,72.5 L718.9,73.2 L719.3,73.1 L719.7,73.3 L720.1,73.0 L720.5,72.3 L720.9,73.6 L721.3,72.7 L721.7,73.3 L722.1,73.5 L722.5,73.9 L722.9,73.1 L723.3,73.1 L723.7,73.1 L724.1,72.2 L724.5,72.8 L724.9,72.7 L725.3,72.7 L725.7,73.4 L726.1,73.1 L726.5,74.2 L726.9,74.2 L727.3,72.3 L727.7,73.4 L728.1,72.8 L728.5,73.7 L728.9,73.5 L729.3,73.9 L729.7,73.6 L730.1,73.8 L730.5,73.3 L730.9,72.1 L731.3,72.8 L731.7,73.0 L732.1,73.2 L732.5,72.9 L732.9,74.4 L733.3,73.4 L733.7,74.2 L734.1,73.3 L734.5,74.4 L734.9,72.9 L735.3,73.9 L735.7,72.8 L736.1,73.8 L736.5,74.4 L736.9,72.7 L737.3,73.1 L737.7,73.7 L738.1,73.5 L738.5,72.8 L738.9,74.2 L739.3,73.6 L739.7,74.3 L740.1,73.8 L740.5,73.0 L740.9,73.3 L741.3,74.4 L741.7,72.9 L742.1,73.4 L742.5,73.9 L742.9,74.2 L743.3,74.1 L743.7,72.8 L744.1,74.8 L744.5,73.5 L744.9,73.6 L745.3,73.6 L745.7,73.4 L746.1,73.0 L746.5,73.4 L746.9,74.2 L747.3,72.7 L747.7,72.1 L748.1,73.7 L748.5,73.5 L748.9,73.7 L749.3,74.1 L749.7,72.6 L750.1,72.9 L750.5,72.9 L750.9,72.9 L751.3,72.3 L751.7,70.4 L752.1,68.6 L752.5,66.0 L752.9,58.3 L753.3,47.4 L753.7,34.8 L754.1,40.5 L754.5,54.0 L754.9,64.6 L755.3,68.5 L755.7,70.1 L756.1,71.8 L756.5,72.1 L756.9,72.9 L757.3,73.6 L757.7,72.9 L758.1,73.5 L758.5,73.6 L758.9,74.0 L759.3,73.8 L759.7,73.6 L760.1,73.3 L760.5,73.8 L760.9,73.1 L761.3,74.1 L761.7,73.8 L762.1,74.0 L762.5,73.5 L762.9,73.3 L763.3,73.2 L763.7,74.3 L764.1,73.6 L764.5,73.5 L764.9,72.6 L765.3,73.5 L765.7,71.6 L766.1,74.1 L766.5,73.1 L766.9,73.0 L767.3,72.0 L767.7,71.8 L768.1,72.1 L768.5,70.7 L768.9,69.3 L769.3,66.0 L769.7,57.7 L770.1,42.4 L770.5,31.3 L770.9,39.1 L771.3,54.0 L771.7,62.8 L772.1,67.4 L772.5,70.2 L772.9,71.4 L773.3,72.6 L773.7,72.6 L774.1,73.9 L774.5,72.4 L774.9,72.8 L775.3,73.8 L775.7,73.6 L776.1,73.3 L776.5,74.4 L776.9,74.6 L777.3,74.8 L777.7,73.9 L778.1,74.1 L778.5,74.3 L778.9,74.2 L779.3,74.8 L779.7,74.0 L780.1,74.5 L780.5,73.1 L780.9,74.7 L781.3,75.2 L781.7,74.3 L782.1,74.9 L782.5,73.5 L782.9,74.2 L783.3,73.6 L783.7,74.6 L784.1,74.7 L784.5,73.7 L784.9,74.0 L785.3,74.1 L785.7,75.7 L786.1,74.4 L786.5,74.5 L786.9,74.6 L787.3,74.6 L787.7,74.3 L788.1,73.7 L788.5,74.1 L788.9,75.3 L789.3,74.6 L789.7,74.2 L790.1,73.7 L790.5,74.4 L790.9,74.4 L791.3,74.0 L791.7,74.8 L792.1,73.9 L792.5,74.0 L792.9,74.5 L793.3,74.0 L793.7,74.3 L794.1,73.4 L794.5,73.1 L794.9,73.6 L795.3,73.6 L795.7,74.3 L796.1,74.1 L796.5,74.0 L796.9,74.4 L797.3,74.6 L797.7,73.7 L798.1,74.3 L798.5,74.2 L798.9,75.0 L799.3,74.1 L799.7,75.0 L800.1,73.7 L800.5,74.3 L800.9,74.9 L801.3,74.2 L801.7,74.8 L802.1,73.1 L802.5,74.0 L802.9,73.9 L803.3,73.4 L803.7,72.1 L804.1,72.2 L804.5,68.8 L804.9,68.0 L805.3,65.6 L805.7,66.6 L806.1,68.5 L806.5,70.3 L806.9,72.1 L807.3,73.0 L807.7,74.0 L808.1,73.8 L808.5,74.4 L808.9,74.5 L809.3,75.1 L809.7,73.4 L810.1,74.2 L810.5,74.9 L810.9,74.9 L811.3,74.3 L811.7,74.4 L812.1,74.6 L812.5,74.7 L812.9,74.3 L813.3,74.3 L813.7,74.1 L814.1,74.5 L814.5,75.4 L814.9,74.2 L815.3,75.2 L815.7,75.7 L816.1,74.8 L816.5,75.9 L816.9,74.6 L817.3,75.6 L817.7,74.7 L818.1,74.1 L818.5,74.9 L818.9,75.7 L819.3,74.4 L819.7,74.9 L820.1,74.1 L820.5,74.1 L820.9,74.8 L821.3,74.3 L821.7,74.6 L822.1,74.9 L822.5,73.4 L822.9,73.6 L823.3,73.9 L823.7,75.0 L824.1,73.8 L824.5,73.8 L824.9,74.5 L825.3,75.5 L825.7,74.2 L826.1,74.4 L826.5,74.7 L826.9,75.1 L827.3,75.9 L827.7,74.1 L828.1,73.9 L828.5,74.9 L828.9,75.1 L829.3,73.6 L829.7,74.5 L830.1,75.3 L830.5,74.6 L830.9,75.1 L831.3,74.9 L831.7,75.2 L832.1,75.1 L832.5,75.0 L832.9,75.5 L833.3,74.6 L833.7,74.9 L834.1,75.5 L834.5,74.6 L834.9,74.7 L835.3,74.5 L835.7,74.4 L836.1,76.0 L836.5,75.2 L836.9,75.9 L837.3,75.3 L837.7,75.0 L838.1,74.8 L838.5,75.1 L838.9,74.9 L839.3,75.4 L839.7,74.5 L840.1,75.0 L840.5,75.2 L840.9,74.8 L841.3,74.8 L841.7,75.2 L842.1,75.2 L842.5,74.9 L842.9,74.9 L843.3,74.6 L843.7,75.2 L844.1,74.9 L844.5,74.1 L844.9,74.8 L845.3,75.3 L845.7,75.1 L846.1,74.5 L846.5,75.3 L846.9,75.3 L847.3,75.3 L847.7,75.7 L848.1,74.8 L848.5,75.2 L848.9,74.8 L849.3,75.4 L849.7,75.5 L850.1,75.2 L850.5,75.3 L850.9,74.5 L851.3,75.2 L851.7,74.3 L852.1,76.0 L852.5,75.5 L852.9,74.1 L853.3,73.5 L853.7,75.5 L854.1,74.4 L854.5,75.1 L854.9,74.2 L855.3,74.8 L855.7,74.5 L856.1,75.1 L856.5,74.6 L856.9,75.5 L857.3,74.3 L857.7,75.3 L858.1,74.6 L858.5,74.8 L858.9,73.6 L859.3,73.4 L859.7,74.7 L860.1,73.3 L860.5,73.4 L860.9,72.8 L861.3,71.6 L861.7,70.6 L862.1,67.4 L862.5,64.6 L862.9,63.3 L863.3,62.6 L863.7,65.9 L864.1,68.8 L864.5,71.5 L864.9,72.4 L865.3,72.1 L865.7,73.3 L866.1,73.7 L866.5,74.8 L866.9,74.5 L867.3,74.2 L867.7,74.8 L868.1,74.4 L868.5,74.9 L868.9,74.8 L869.3,75.3 L869.7,75.0 L870.1,75.3 L870.5,74.8 L870.9,75.2 L871.3,74.8 L871.7,75.2 L872.1,75.0 L872.5,74.8 L872.9,74.7 L873.3,74.8 L873.7,75.2 L874.1,73.8 L874.5,75.6 L874.9,73.7 L875.3,74.9 L875.7,74.8 L876.1,75.3 L876.5,75.1 L876.9,74.9 L877.3,75.0 L877.7,75.5 L878.1,76.2 L878.5,75.2 L878.9,73.9 L879.3,74.8 L879.7,75.2 L880.1,76.7 L880.5,74.6 L880.9,74.8 L881.3,75.3 L881.7,75.1 L882.1,74.3 L882.5,75.4 L882.9,74.3 L883.3,74.8 L883.7,75.6 L884.1,74.2 L884.5,74.7 L884.9,75.8 L885.3,74.8 L885.7,74.3 L886.1,74.6 L886.5,75.3 L886.9,74.0 L887.3,74.4 L887.7,74.0 L888.1,74.1 L888.5,75.3 L888.9,74.5 L889.3,74.2 L889.7,74.5 L890.1,73.8 L890.5,73.3 L890.9,74.2 L891.3,73.6 L891.7,72.0 L892.1,71.5 L892.5,69.8 L892.9,66.1 L893.3,62.1 L893.7,57.6 L894.1,58.0 L894.5,60.4 L894.9,66.1 L895.3,68.7 L895.7,71.7 L896.1,71.9 L896.5,73.6 L896.9,72.8 L897.3,73.7 L897.7,74.4 L898.1,74.5 L898.5,74.4 L898.9,73.7 L899.3,75.3 L899.7,75.0 L900.1,75.3 L900.5,75.4 L900.9,74.6 L901.3,75.1 L901.7,76.2 L902.1,74.5 L902.5,75.1 L902.9,74.7 L903.3,75.9 L903.7,75.1 L904.1,74.5 L904.5,74.7 L904.9,74.3 L905.3,73.8 L905.7,73.6 L906.1,74.7 L906.5,74.4 L906.9,75.1 L907.3,74.6 L907.7,75.1 L908.1,75.9 L908.5,74.4 L908.9,74.4 L909.3,75.5 L909.7,76.2 L910.1,74.6 L910.5,74.1 L910.9,74.8 L911.3,74.7 L911.7,75.3 L912.1,74.4 L912.5,74.7 L912.9,74.7 L913.3,73.9 L913.7,73.9 L914.1,74.8 L914.5,74.6 L914.9,73.7 L915.3,74.6 L915.7,73.8 L916.1,73.1 L916.5,72.6 L916.9,71.9 L917.3,71.9 L917.7,72.1 L918.1,72.1 L918.5,71.5 L918.9,73.1 L919.3,73.2 L919.7,73.4 L920.1,74.6 L920.5,73.6 L920.9,75.1 L921.3,74.4 L921.7,74.2 L922.1,74.4 L922.5,76.1 L922.9,75.7 L923.3,74.9 L923.7,75.6 L924.1,76.0 L924.5,74.6 L924.9,74.9 L925.3,75.6 L925.7,75.3 L926.1,74.9 L926.5,76.0 L926.9,75.4 L927.3,75.6 L927.7,76.4 L928.1,75.4 L928.5,76.5 L928.9,75.3 L929.3,75.1 L929.7,75.2 L930.1,75.6 L930.5,75.5 L930.9,75.4 L931.3,74.4 L931.7,74.6 L932.1,75.1 L932.5,75.6 L932.9,75.9 L933.3,74.0 L933.7,75.1 L934.1,75.0 L934.5,75.1 L934.9,75.3 L935.3,74.8 L935.7,74.5 L936.1,75.7 L936.5,75.6 L936.9,75.0 L937.3,75.1 L937.7,74.8 L938.1,74.5 L938.5,75.5 L938.9,74.8 L939.3,74.6 L939.7,74.9 L940.1,76.0 L940.5,75.4 L940.9,75.3 L941.3,75.2 L941.7,75.6 L942.1,75.5 L942.5,74.4 L942.9,74.9 L943.3,74.7 L943.7,75.1 L944.1,75.0 L944.5,73.9 L944.9,75.5 L945.3,75.0 L945.7,73.9 L946.1,75.3 L946.5,74.6 L946.9,74.7 L947.3,74.2 L947.7,73.9 L948.1,73.0 L948.5,71.5 L948.9,70.7 L949.3,69.3 L949.7,67.2 L950.1,66.2 L950.5,66.0 L950.9,66.6 L951.3,70.1 L951.7,71.0 L952.1,71.9 L952.5,73.2 L952.9,73.2 L953.3,74.3 L953.7,73.9 L954.1,75.4 L954.5,74.4 L954.9,74.3 L955.3,74.3 L955.7,73.5 L956.1,74.2 L956.5,74.2 L956.9,74.4 L957.3,73.3 L957.7,74.3 L958.1,74.7 L958.5,73.5 L958.9,73.1 L959.3,72.6 L959.7,70.8 L960.1,69.6 L960.5,69.0 L960.9,67.8 L961.3,67.5 L961.7,68.5 L962.1,72.0 L962.5,72.3 L962.9,72.2 L963.3,73.7 L963.7,74.4 L964.1,74.4 L964.5,73.6 L964.9,75.6 L965.3,75.1 L965.7,74.8 L966.1,75.3 L966.5,74.9 L966.9,74.9 L967.3,75.5 L967.7,74.1 L968.1,75.6 L968.5,75.4 L968.9,75.6 L969.3,75.7 L969.7,76.0 L970.1,75.9 L970.5,75.7 L970.9,75.1 L971.3,75.6 L971.7,75.0 L972.1,74.8 L972.5,75.5 L972.9,75.5 L973.3,75.9 L973.7,74.2 L974.1,75.6 L974.5,75.7 L974.9,75.4 L975.3,76.1 L975.7,74.9 L976.1,75.5 L976.5,75.2 L976.9,75.3 L977.3,74.9 L977.7,75.3 L978.1,75.7 L978.5,75.4 L978.9,75.5 L979.3,75.0 L979.7,76.2 L980.1,75.0 L980.5,75.4 L980.9,75.7 L981.3,75.3 L981.7,75.8 L982.1,75.5 L982.5,76.2 L982.9,75.7 L983.3,75.6 L983.7,75.0 L984.1,75.6 L984.5,75.9 L984.9,75.6 L985.3,74.9 L985.7,75.1 L986.1,75.3 L986.5,75.4 L986.9,74.7 L987.3,76.3 L987.7,75.3 L988.1,75.4 L988.5,75.2 L988.9,75.3 L989.3,76.3 L989.7,74.9 L990.1,75.1 L990.5,74.8 L990.9,75.1 L991.3,76.1 L991.7,75.0 L992.1,75.1 L992.5,74.4 L992.9,75.1 L993.3,75.4 L993.7,75.0 L994.1,75.0 L994.5,75.6 L994.9,75.4 L995.3,75.0 L995.7,74.6 L996.1,74.2 L996.5,75.7 L996.9,74.0 L997.3,75.0 L997.7,74.5 L998.1,74.2 L998.5,75.1 L998.9,74.4 L999.3,75.5 L999.7,74.4 L1000.1,75.3 L1000.5,75.7 L1000.9,74.7 L1001.3,76.2 L1001.7,75.6 L1002.1,74.2 L1002.5,75.9 L1002.9,76.2 L1003.3,75.1 L1003.7,75.2 L1004.1,75.5 L1004.5,74.4 L1004.9,75.3 L1005.3,75.7 L1005.7,75.0 L1006.1,75.8 L1006.5,76.3 L1006.9,74.3 L1007.3,74.3 L1007.7,74.8 L1008.1,75.4 L1008.5,75.3 L1008.9,74.6 L1009.3,74.4 L1009.7,74.5 L1010.1,75.6 L1010.5,74.1 L1010.9,74.1 L1011.3,74.6 L1011.7,73.7 L1012.1,72.9 L1012.5,73.7 L1012.9,72.6 L1013.3,71.7 L1013.7,71.6 L1014.1,72.2 L1014.5,71.8 L1014.9,72.5 L1015.3,73.3 L1015.7,73.8 L1016.1,72.9 L1016.5,73.9 L1016.9,74.2 L1017.3,74.6 L1017.7,75.1 L1018.1,75.5 L1018.5,74.8 L1018.9,74.5 L1019.3,75.2 L1019.7,74.9 L1020.1,76.0 L1020.5,75.4 L1020.9,75.3 L1021.3,75.8 L1021.7,75.0 L1022.1,75.1 L1022.5,75.2 L1022.9,75.6 L1023.3,76.0 L1023.7,75.7 L1024.1,75.7 L1024.5,75.3 L1024.9,75.5 L1025.3,75.3 L1025.7,75.9 L1026.1,75.1 L1026.5,75.3 L1026.9,75.5 L1027.3,75.8 L1027.7,75.0 L1028.1,75.3 L1028.5,75.0 L1028.9,74.7 L1029.3,75.9 L1029.7,75.6 L1030.1,74.6 L1030.5,74.9 L1030.9,75.6 L1031.3,75.0 L1031.7,74.8 L1032.1,75.9 L1032.5,75.0 L1032.9,75.0 L1033.3,75.4 L1033.7,74.7 L1034.1,75.0 L1034.5,74.9 L1034.9,75.1 L1035.3,74.2 L1035.7,74.8 L1036.1,74.2 L1036.5,74.7 L1036.9,73.7 L1037.3,73.2 L1037.7,73.3 L1038.1,73.1 L1038.5,73.9 L1038.9,74.1 L1039.3,74.8 L1039.7,74.7 L1040.1,74.4 L1040.5,75.4 L1040.9,74.8 L1041.3,75.3 L1041.7,75.9 L1042.1,75.8 L1042.5,74.9 L1042.9,75.2 L1043.3,76.0 L1043.7,75.8 L1044.1,75.6 L1044.5,75.8 L1044.9,74.4 L1045.3,75.3 L1045.7,74.7 L1046.1,75.1 L1046.5,75.2 L1046.9,75.6 L1047.3,76.0 L1047.7,75.8 L1048.1,75.6 L1048.5,75.3 L1048.9,76.0 L1049.3,75.6 L1049.7,74.6 L1050.1,75.4 L1050.5,75.7 L1050.9,75.0 L1051.3,75.5 L1051.7,76.2 L1052.1,75.3 L1052.5,75.4 L1052.9,75.4 L1053.3,75.0 L1053.7,75.2 L1054.1,75.0 L1054.5,75.3 L1054.9,75.1 L1055.3,75.9 L1055.7,75.4 L1056.1,75.8 L1056.5,74.8 L1056.9,75.4 L1057.3,75.7 L1057.7,75.8 L1058.1,75.1 L1058.5,75.4 L1058.9,75.5 L1059.3,75.3 L1059.7,75.2 L1060.1,75.7 L1060.5,74.9 L1060.9,74.6 L1061.3,75.2 L1061.7,75.6 L1062.1,74.4 L1062.5,76.1 L1062.9,75.5 L1063.3,75.7 L1063.7,75.1 L1064.1,75.4 L1064.5,76.3 L1064.9,76.3 L1065.3,75.8 L1065.7,75.3 L1066.1,75.4 L1066.5,76.1 L1066.9,75.1 L1067.3,75.0 L1067.7,75.4 L1068.1,75.9" fill="none" stroke="#b834c2" stroke-width="1.9" stroke-linejoin="round"/>
<path d="M598.9,111.2 L599.3,110.5 L599.7,111.1 L600.1,109.9 L600.5,111.5 L600.9,110.0 L601.3,111.1 L601.7,111.0 L602.1,110.6 L602.5,113.0 L602.9,110.8 L603.3,111.5 L603.7,111.9 L604.1,110.4 L604.5,112.1 L604.9,111.2 L605.3,112.0 L605.7,110.7 L606.1,110.7 L606.5,112.2 L606.9,111.7 L607.3,111.5 L607.7,111.9 L608.1,111.8 L608.5,110.8 L608.9,110.1 L609.3,110.5 L609.7,110.4 L610.1,110.2 L610.5,111.2 L610.9,111.3 L611.3,111.7 L611.7,111.9 L612.1,111.5 L612.5,111.6 L612.9,111.8 L613.3,111.2 L613.7,111.4 L614.1,111.9 L614.5,111.5 L614.9,111.6 L615.3,111.9 L615.7,112.8 L616.1,112.2 L616.5,111.8 L616.9,111.7 L617.3,112.0 L617.7,113.5 L618.1,110.1 L618.5,112.5 L618.9,112.3 L619.3,112.8 L619.7,111.5 L620.1,113.6 L620.5,112.9 L620.9,112.3 L621.3,112.4 L621.7,111.9 L622.1,112.4 L622.5,112.3 L622.9,113.0 L623.3,112.7 L623.7,112.4 L624.1,112.9 L624.5,112.9 L624.9,112.7 L625.3,111.6 L625.7,113.2 L626.1,111.9 L626.5,112.0 L626.9,112.6 L627.3,113.0 L627.7,113.6 L628.1,111.7 L628.5,113.7 L628.9,113.8 L629.3,112.5 L629.7,112.7 L630.1,112.5 L630.5,112.5 L630.9,112.1 L631.3,111.9 L631.7,112.8 L632.1,113.1 L632.5,114.2 L632.9,112.4 L633.3,111.7 L633.7,113.2 L634.1,112.8 L634.5,113.3 L634.9,112.9 L635.3,112.4 L635.7,112.8 L636.1,113.7 L636.5,113.4 L636.9,112.7 L637.3,113.8 L637.7,112.4 L638.1,113.0 L638.5,113.5 L638.9,112.5 L639.3,112.7 L639.7,113.4 L640.1,113.4 L640.5,113.3 L640.9,113.2 L641.3,112.8 L641.7,113.1 L642.1,115.5 L642.5,113.2 L642.9,114.6 L643.3,113.3 L643.7,114.5 L644.1,114.5 L644.5,114.0 L644.9,113.3 L645.3,112.9 L645.7,114.4 L646.1,113.0 L646.5,113.0 L646.9,114.8 L647.3,114.8 L647.7,113.9 L648.1,113.8 L648.5,113.5 L648.9,114.2 L649.3,113.7 L649.7,113.1 L650.1,113.6 L650.5,114.2 L650.9,113.1 L651.3,113.5 L651.7,114.2 L652.1,115.2 L652.5,114.3 L652.9,114.2 L653.3,115.4 L653.7,113.6 L654.1,113.8 L654.5,114.8 L654.9,115.0 L655.3,114.6 L655.7,112.8 L656.1,114.8 L656.5,114.8 L656.9,114.5 L657.3,114.9 L657.7,115.3 L658.1,114.5 L658.5,113.9 L658.9,113.4 L659.3,114.6 L659.7,114.1 L660.1,114.3 L660.5,113.9 L660.9,114.8 L661.3,115.1 L661.7,114.9 L662.1,114.0 L662.5,115.3 L662.9,114.9 L663.3,113.3 L663.7,115.1 L664.1,113.6 L664.5,114.1 L664.9,115.5 L665.3,115.3 L665.7,114.5 L666.1,114.4 L666.5,115.1 L666.9,113.8 L667.3,115.2 L667.7,114.8 L668.1,115.4 L668.5,114.9 L668.9,114.4 L669.3,115.2 L669.7,114.8 L670.1,114.2 L670.5,114.4 L670.9,114.5 L671.3,115.2 L671.7,115.6 L672.1,115.1 L672.5,114.5 L672.9,115.0 L673.3,115.5 L673.7,115.9 L674.1,114.7 L674.5,115.4 L674.9,115.0 L675.3,114.0 L675.7,114.5 L676.1,115.0 L676.5,115.0 L676.9,115.1 L677.3,115.0 L677.7,115.6 L678.1,114.8 L678.5,114.5 L678.9,115.7 L679.3,115.1 L679.7,115.9 L680.1,115.0 L680.5,116.3 L680.9,114.8 L681.3,114.8 L681.7,115.9 L682.1,116.6 L682.5,115.1 L682.9,116.5 L683.3,116.5 L683.7,116.1 L684.1,115.5 L684.5,114.3 L684.9,114.7 L685.3,115.1 L685.7,115.9 L686.1,115.5 L686.5,115.2 L686.9,115.7 L687.3,114.6 L687.7,115.8 L688.1,115.0 L688.5,116.3 L688.9,115.6 L689.3,115.0 L689.7,115.1 L690.1,114.4 L690.5,115.3 L690.9,114.4 L691.3,114.5 L691.7,114.6 L692.1,112.9 L692.5,110.6 L692.9,108.2 L693.3,103.7 L693.7,104.7 L694.1,107.7 L694.5,110.5 L694.9,113.4 L695.3,113.6 L695.7,113.1 L696.1,115.6 L696.5,115.6 L696.9,115.0 L697.3,116.4 L697.7,115.7 L698.1,115.6 L698.5,115.3 L698.9,116.6 L699.3,115.7 L699.7,115.7 L700.1,115.8 L700.5,115.6 L700.9,115.1 L701.3,115.7 L701.7,115.6 L702.1,116.6 L702.5,115.4 L702.9,116.6 L703.3,115.9 L703.7,115.8 L704.1,116.1 L704.5,116.3 L704.9,116.3 L705.3,116.6 L705.7,116.4 L706.1,115.4 L706.5,115.9 L706.9,117.3 L707.3,116.3 L707.7,115.0 L708.1,116.5 L708.5,117.3 L708.9,117.1 L709.3,116.4 L709.7,116.5 L710.1,116.8 L710.5,116.3 L710.9,116.2 L711.3,117.4 L711.7,116.2 L712.1,117.0 L712.5,115.6 L712.9,116.0 L713.3,115.8 L713.7,116.7 L714.1,116.1 L714.5,116.1 L714.9,116.0 L715.3,116.6 L715.7,117.1 L716.1,116.2 L716.5,116.9 L716.9,116.6 L717.3,116.2 L717.7,116.8 L718.1,117.3 L718.5,115.1 L718.9,117.0 L719.3,117.6 L719.7,116.5 L720.1,117.1 L720.5,117.2 L720.9,116.9 L721.3,116.8 L721.7,117.4 L722.1,117.3 L722.5,116.8 L722.9,117.0 L723.3,116.2 L723.7,116.6 L724.1,116.8 L724.5,116.7 L724.9,116.3 L725.3,117.4 L725.7,116.9 L726.1,117.1 L726.5,116.0 L726.9,116.5 L727.3,116.4 L727.7,116.7 L728.1,117.7 L728.5,118.2 L728.9,116.9 L729.3,117.0 L729.7,116.7 L730.1,116.5 L730.5,117.3 L730.9,116.6 L731.3,116.2 L731.7,117.2 L732.1,116.7 L732.5,117.0 L732.9,117.0 L733.3,117.4 L733.7,117.2 L734.1,117.4 L734.5,116.8 L734.9,116.8 L735.3,117.1 L735.7,117.0 L736.1,117.2 L736.5,117.1 L736.9,118.1 L737.3,116.8 L737.7,117.2 L738.1,117.0 L738.5,117.6 L738.9,116.5 L739.3,116.2 L739.7,117.6 L740.1,117.3 L740.5,117.0 L740.9,116.5 L741.3,117.6 L741.7,117.2 L742.1,116.6 L742.5,116.6 L742.9,116.5 L743.3,117.7 L743.7,116.8 L744.1,116.3 L744.5,116.6 L744.9,117.5 L745.3,117.2 L745.7,116.4 L746.1,116.2 L746.5,116.5 L746.9,116.9 L747.3,116.5 L747.7,116.4 L748.1,116.6 L748.5,116.2 L748.9,115.9 L749.3,115.6 L749.7,115.7 L750.1,115.6 L750.5,115.9 L750.9,115.4 L751.3,114.3 L751.7,114.5 L752.1,111.5 L752.5,109.2 L752.9,100.6 L753.3,87.6 L753.7,75.5 L754.1,81.7 L754.5,95.7 L754.9,106.2 L755.3,110.5 L755.7,113.2 L756.1,114.7 L756.5,114.9 L756.9,116.5 L757.3,116.2 L757.7,116.6 L758.1,116.1 L758.5,116.4 L758.9,116.8 L759.3,117.2 L759.7,117.1 L760.1,116.6 L760.5,116.4 L760.9,116.2 L761.3,118.1 L761.7,117.5 L762.1,117.7 L762.5,116.9 L762.9,118.1 L763.3,117.2 L763.7,117.1 L764.1,116.6 L764.5,116.1 L764.9,117.2 L765.3,116.8 L765.7,116.7 L766.1,115.9 L766.5,115.4 L766.9,115.7 L767.3,116.6 L767.7,116.8 L768.1,114.9 L768.5,114.2 L768.9,112.0 L769.3,109.1 L769.7,102.8 L770.1,90.1 L770.5,80.4 L770.9,88.0 L771.3,100.1 L771.7,107.8 L772.1,113.3 L772.5,114.5 L772.9,115.3 L773.3,115.9 L773.7,116.1 L774.1,116.8 L774.5,115.9 L774.9,116.8 L775.3,116.3 L775.7,117.0 L776.1,117.4 L776.5,117.1 L776.9,118.2 L777.3,117.2 L777.7,116.9 L778.1,117.5 L778.5,117.5 L778.9,117.6 L779.3,117.4 L779.7,117.4 L780.1,118.0 L780.5,116.6 L780.9,117.9 L781.3,117.2 L781.7,117.5 L782.1,117.0 L782.5,118.2 L782.9,116.4 L783.3,116.9 L783.7,117.3 L784.1,117.9 L784.5,116.9 L784.9,117.9 L785.3,118.2 L785.7,117.1 L786.1,116.2 L786.5,118.0 L786.9,117.5 L787.3,117.6 L787.7,118.2 L788.1,118.0 L788.5,117.3 L788.9,117.7 L789.3,117.1 L789.7,117.8 L790.1,117.6 L790.5,117.9 L790.9,117.2 L791.3,117.6 L791.7,117.7 L792.1,117.7 L792.5,117.3 L792.9,116.1 L793.3,117.3 L793.7,116.2 L794.1,117.2 L794.5,116.5 L794.9,116.6 L795.3,116.3 L795.7,117.8 L796.1,116.6 L796.5,117.9 L796.9,118.2 L797.3,119.1 L797.7,118.2 L798.1,117.5 L798.5,117.1 L798.9,117.2 L799.3,116.8 L799.7,118.3 L800.1,117.8 L800.5,117.0 L800.9,118.0 L801.3,117.6 L801.7,118.0 L802.1,117.6 L802.5,116.7 L802.9,117.2 L803.3,117.3 L803.7,116.3 L804.1,115.2 L804.5,112.7 L804.9,110.5 L805.3,108.8 L805.7,109.9 L806.1,111.6 L806.5,114.0 L806.9,116.8 L807.3,116.0 L807.7,116.9 L808.1,116.7 L808.5,117.4 L808.9,118.0 L809.3,118.1 L809.7,117.9 L810.1,118.4 L810.5,117.8 L810.9,118.2 L811.3,117.3 L811.7,118.4 L812.1,117.5 L812.5,118.6 L812.9,117.4 L813.3,118.1 L813.7,118.1 L814.1,118.1 L814.5,117.9 L814.9,118.8 L815.3,118.2 L815.7,117.4 L816.1,117.7 L816.5,118.6 L816.9,117.5 L817.3,118.9 L817.7,117.8 L818.1,117.0 L818.5,118.4 L818.9,117.5 L819.3,116.0 L819.7,117.9 L820.1,117.2 L820.5,118.0 L820.9,118.2 L821.3,118.2 L821.7,117.5 L822.1,116.6 L822.5,118.0 L822.9,117.3 L823.3,117.1 L823.7,116.3 L824.1,116.8 L824.5,117.4 L824.9,117.4 L825.3,117.7 L825.7,117.2 L826.1,116.9 L826.5,118.1 L826.9,117.9 L827.3,118.6 L827.7,118.7 L828.1,118.0 L828.5,117.9 L828.9,118.8 L829.3,118.6 L829.7,117.6 L830.1,119.1 L830.5,118.3 L830.9,118.1 L831.3,117.5 L831.7,118.0 L832.1,118.5 L832.5,118.4 L832.9,118.9 L833.3,118.7 L833.7,117.7 L834.1,118.1 L834.5,118.0 L834.9,117.8 L835.3,117.8 L835.7,117.7 L836.1,117.7 L836.5,118.2 L836.9,118.4 L837.3,118.9 L837.7,117.8 L838.1,117.9 L838.5,116.6 L838.9,118.1 L839.3,118.3 L839.7,118.0 L840.1,118.3 L840.5,117.8 L840.9,117.8 L841.3,117.5 L841.7,117.7 L842.1,117.3 L842.5,118.9 L842.9,118.7 L843.3,118.3 L843.7,118.2 L844.1,119.1 L844.5,118.6 L844.9,117.9 L845.3,118.3 L845.7,118.5 L846.1,118.4 L846.5,118.5 L846.9,117.4 L847.3,117.9 L847.7,117.3 L848.1,118.5 L848.5,118.1 L848.9,117.6 L849.3,119.5 L849.7,119.0 L850.1,118.0 L850.5,118.7 L850.9,118.0 L851.3,118.8 L851.7,118.7 L852.1,118.0 L852.5,118.6 L852.9,119.2 L853.3,118.8 L853.7,117.7 L854.1,118.5 L854.5,118.7 L854.9,118.4 L855.3,118.9 L855.7,117.9 L856.1,117.0 L856.5,119.0 L856.9,117.6 L857.3,118.1 L857.7,117.3 L858.1,118.5 L858.5,117.4 L858.9,118.0 L859.3,117.8 L859.7,118.4 L860.1,118.4 L860.5,117.4 L860.9,117.0 L861.3,115.6 L861.7,113.9 L862.1,110.9 L862.5,108.6 L862.9,104.8 L863.3,106.5 L863.7,108.7 L864.1,111.7 L864.5,114.6 L864.9,114.6 L865.3,116.0 L865.7,117.4 L866.1,117.2 L866.5,118.0 L866.9,117.7 L867.3,117.3 L867.7,118.3 L868.1,118.2 L868.5,118.4 L868.9,118.5 L869.3,119.3 L869.7,117.8 L870.1,118.0 L870.5,119.1 L870.9,117.9 L871.3,118.4 L871.7,119.0 L872.1,118.6 L872.5,118.7 L872.9,118.4 L873.3,117.5 L873.7,118.8 L874.1,118.9 L874.5,118.7 L874.9,118.3 L875.3,118.6 L875.7,118.9 L876.1,118.3 L876.5,118.2 L876.9,117.9 L877.3,118.7 L877.7,117.9 L878.1,118.3 L878.5,119.2 L878.9,117.5 L879.3,118.1 L879.7,119.0 L880.1,118.4 L880.5,119.1 L880.9,117.9 L881.3,118.0 L881.7,119.1 L882.1,118.0 L882.5,118.5 L882.9,118.4 L883.3,119.2 L883.7,117.9 L884.1,118.5 L884.5,118.9 L884.9,119.1 L885.3,118.5 L885.7,118.9 L886.1,118.1 L886.5,119.4 L886.9,118.6 L887.3,118.8 L887.7,119.3 L888.1,118.4 L888.5,118.2 L888.9,118.5 L889.3,118.8 L889.7,117.2 L890.1,116.9 L890.5,117.9 L890.9,117.1 L891.3,116.8 L891.7,117.0 L892.1,114.6 L892.5,112.6 L892.9,110.1 L893.3,104.9 L893.7,101.9 L894.1,101.5 L894.5,105.0 L894.9,109.2 L895.3,111.8 L895.7,114.3 L896.1,115.6 L896.5,116.0 L896.9,117.4 L897.3,117.2 L897.7,117.1 L898.1,117.1 L898.5,117.8 L898.9,117.5 L899.3,118.4 L899.7,118.8 L900.1,118.1 L900.5,118.0 L900.9,118.2 L901.3,118.8 L901.7,118.1 L902.1,118.8 L902.5,118.2 L902.9,117.3 L903.3,119.4 L903.7,119.0 L904.1,118.5 L904.5,118.7 L904.9,118.7 L905.3,119.5 L905.7,118.5 L906.1,118.8 L906.5,118.5 L906.9,118.3 L907.3,118.9 L907.7,118.9 L908.1,118.4 L908.5,119.9 L908.9,117.2 L909.3,119.4 L909.7,118.0 L910.1,118.2 L910.5,118.9 L910.9,119.1 L911.3,119.3 L911.7,117.8 L912.1,119.6 L912.5,118.0 L912.9,118.6 L913.3,119.0 L913.7,118.2 L914.1,118.0 L914.5,118.3 L914.9,117.5 L915.3,116.5 L915.7,117.1 L916.1,116.5 L916.5,115.5 L916.9,114.8 L917.3,114.8 L917.7,114.9 L918.1,115.5 L918.5,115.8 L918.9,115.4 L919.3,117.3 L919.7,117.8 L920.1,118.3 L920.5,118.8 L920.9,117.6 L921.3,116.9 L921.7,119.0 L922.1,118.9 L922.5,118.6 L922.9,118.0 L923.3,119.6 L923.7,118.6 L924.1,119.8 L924.5,119.0 L924.9,119.4 L925.3,117.5 L925.7,119.1 L926.1,118.5 L926.5,118.2 L926.9,118.7 L927.3,120.3 L927.7,118.6 L928.1,118.0 L928.5,119.5 L928.9,118.4 L929.3,118.8 L929.7,119.7 L930.1,119.4 L930.5,119.3 L930.9,119.5 L931.3,118.9 L931.7,118.3 L932.1,118.8 L932.5,118.7 L932.9,118.9 L933.3,118.9 L933.7,119.2 L934.1,119.4 L934.5,118.6 L934.9,118.8 L935.3,119.1 L935.7,119.5 L936.1,118.7 L936.5,117.9 L936.9,119.4 L937.3,118.2 L937.7,118.7 L938.1,118.7 L938.5,119.2 L938.9,118.0 L939.3,119.6 L939.7,118.7 L940.1,119.5 L940.5,118.7 L940.9,120.4 L941.3,119.0 L941.7,118.7 L942.1,118.5 L942.5,117.6 L942.9,119.7 L943.3,118.1 L943.7,118.9 L944.1,119.2 L944.5,119.1 L944.9,118.6 L945.3,118.2 L945.7,118.8 L946.1,118.4 L946.5,117.5 L946.9,117.6 L947.3,118.1 L947.7,117.9 L948.1,115.5 L948.5,115.9 L948.9,114.1 L949.3,112.7 L949.7,110.0 L950.1,108.2 L950.5,109.1 L950.9,111.1 L951.3,113.4 L951.7,114.7 L952.1,116.3 L952.5,117.8 L952.9,117.4 L953.3,117.4 L953.7,118.2 L954.1,117.7 L954.5,118.7 L954.9,117.9 L955.3,118.2 L955.7,118.9 L956.1,117.9 L956.5,118.1 L956.9,118.4 L957.3,118.2 L957.7,117.1 L958.1,118.0 L958.5,117.0 L958.9,116.4 L959.3,115.6 L959.7,114.2 L960.1,112.1 L960.5,110.6 L960.9,109.2 L961.3,109.0 L961.7,110.6 L962.1,112.7 L962.5,114.3 L962.9,115.9 L963.3,115.8 L963.7,117.5 L964.1,118.2 L964.5,118.5 L964.9,118.3 L965.3,117.9 L965.7,119.6 L966.1,118.3 L966.5,118.5 L966.9,118.8 L967.3,118.1 L967.7,118.2 L968.1,118.9 L968.5,119.5 L968.9,118.7 L969.3,119.2 L969.7,119.3 L970.1,119.1 L970.5,118.6 L970.9,119.6 L971.3,118.9 L971.7,118.6 L972.1,118.5 L972.5,119.6 L972.9,119.1 L973.3,118.8 L973.7,119.6 L974.1,119.5 L974.5,119.1 L974.9,118.5 L975.3,119.1 L975.7,119.3 L976.1,118.7 L976.5,120.4 L976.9,119.1 L977.3,118.6 L977.7,118.4 L978.1,119.7 L978.5,119.1 L978.9,119.2 L979.3,118.8 L979.7,119.5 L980.1,119.4 L980.5,118.7 L980.9,119.0 L981.3,118.5 L981.7,119.4 L982.1,119.2 L982.5,119.7 L982.9,119.5 L983.3,119.6 L983.7,118.3 L984.1,118.8 L984.5,118.6 L984.9,118.5 L985.3,118.8 L985.7,119.7 L986.1,119.6 L986.5,119.9 L986.9,119.5 L987.3,119.5 L987.7,119.1 L988.1,119.1 L988.5,119.0 L988.9,118.8 L989.3,118.6 L989.7,119.3 L990.1,119.9 L990.5,118.7 L990.9,118.6 L991.3,119.7 L991.7,119.1 L992.1,118.4 L992.5,119.1 L992.9,118.0 L993.3,119.3 L993.7,118.9 L994.1,118.5 L994.5,119.1 L994.9,118.8 L995.3,119.6 L995.7,118.5 L996.1,119.0 L996.5,118.2 L996.9,118.8 L997.3,118.9 L997.7,118.9 L998.1,119.0 L998.5,117.9 L998.9,119.5 L999.3,119.6 L999.7,118.8 L1000.1,119.0 L1000.5,119.5 L1000.9,118.2 L1001.3,119.0 L1001.7,119.3 L1002.1,119.4 L1002.5,119.4 L1002.9,118.6 L1003.3,119.6 L1003.7,119.6 L1004.1,119.4 L1004.5,118.9 L1004.9,118.6 L1005.3,119.0 L1005.7,119.3 L1006.1,118.6 L1006.5,118.9 L1006.9,119.3 L1007.3,119.2 L1007.7,118.6 L1008.1,118.0 L1008.5,118.8 L1008.9,118.0 L1009.3,118.0 L1009.7,119.0 L1010.1,118.6 L1010.5,117.7 L1010.9,117.9 L1011.3,117.7 L1011.7,117.5 L1012.1,117.3 L1012.5,116.5 L1012.9,114.5 L1013.3,115.3 L1013.7,114.6 L1014.1,114.7 L1014.5,115.0 L1014.9,115.4 L1015.3,115.9 L1015.7,117.2 L1016.1,117.8 L1016.5,118.4 L1016.9,118.5 L1017.3,118.7 L1017.7,118.7 L1018.1,118.1 L1018.5,119.3 L1018.9,118.7 L1019.3,118.9 L1019.7,118.3 L1020.1,118.8 L1020.5,120.6 L1020.9,119.0 L1021.3,119.5 L1021.7,119.7 L1022.1,119.4 L1022.5,119.0 L1022.9,119.2 L1023.3,119.5 L1023.7,119.1 L1024.1,118.6 L1024.5,118.8 L1024.9,120.0 L1025.3,119.6 L1025.7,119.6 L1026.1,119.8 L1026.5,119.4 L1026.9,118.8 L1027.3,120.4 L1027.7,119.1 L1028.1,119.5 L1028.5,119.4 L1028.9,119.9 L1029.3,119.2 L1029.7,118.6 L1030.1,118.6 L1030.5,118.8 L1030.9,119.7 L1031.3,119.9 L1031.7,119.1 L1032.1,119.0 L1032.5,119.5 L1032.9,119.2 L1033.3,118.7 L1033.7,118.4 L1034.1,118.9 L1034.5,119.1 L1034.9,118.9 L1035.3,118.5 L1035.7,117.5 L1036.1,118.0 L1036.5,116.1 L1036.9,116.9 L1037.3,117.0 L1037.7,116.2 L1038.1,116.2 L1038.5,118.0 L1038.9,117.5 L1039.3,117.9 L1039.7,119.0 L1040.1,118.8 L1040.5,118.2 L1040.9,119.0 L1041.3,119.0 L1041.7,119.6 L1042.1,119.9 L1042.5,118.5 L1042.9,118.9 L1043.3,120.1 L1043.7,119.4 L1044.1,119.4 L1044.5,119.1 L1044.9,119.6 L1045.3,119.1 L1045.7,119.5 L1046.1,119.5 L1046.5,119.2 L1046.9,118.8 L1047.3,118.7 L1047.7,119.1 L1048.1,119.2 L1048.5,119.7 L1048.9,119.5 L1049.3,119.5 L1049.7,119.0 L1050.1,119.2 L1050.5,119.2 L1050.9,118.9 L1051.3,118.9 L1051.7,120.4 L1052.1,119.5 L1052.5,120.0 L1052.9,119.6 L1053.3,119.1 L1053.7,120.1 L1054.1,119.7 L1054.5,119.5 L1054.9,119.0 L1055.3,119.5 L1055.7,119.9 L1056.1,120.1 L1056.5,119.6 L1056.9,119.4 L1057.3,119.3 L1057.7,119.7 L1058.1,119.1 L1058.5,119.5 L1058.9,118.5 L1059.3,120.2 L1059.7,119.9 L1060.1,119.4 L1060.5,119.2 L1060.9,119.8 L1061.3,119.4 L1061.7,119.2 L1062.1,119.3 L1062.5,119.3 L1062.9,119.0 L1063.3,120.0 L1063.7,118.6 L1064.1,119.5 L1064.5,119.4 L1064.9,118.7 L1065.3,119.8 L1065.7,118.6 L1066.1,119.2 L1066.5,119.1 L1066.9,119.4 L1067.3,119.3 L1067.7,120.0 L1068.1,119.5" fill="none" stroke="#1b7d5b" stroke-width="1.9" stroke-linejoin="round"/>
<path d="M598.9,152.3 L599.3,153.3 L599.7,152.8 L600.1,153.2 L600.5,153.8 L600.9,153.3 L601.3,153.8 L601.7,153.6 L602.1,154.0 L602.5,152.4 L602.9,152.6 L603.3,152.3 L603.7,153.5 L604.1,153.0 L604.5,153.8 L604.9,153.4 L605.3,153.3 L605.7,154.7 L606.1,153.7 L606.5,153.3 L606.9,152.7 L607.3,154.1 L607.7,154.0 L608.1,152.7 L608.5,153.4 L608.9,153.6 L609.3,152.4 L609.7,153.3 L610.1,154.5 L610.5,152.5 L610.9,153.9 L611.3,154.9 L611.7,153.3 L612.1,153.4 L612.5,153.9 L612.9,154.1 L613.3,154.0 L613.7,152.8 L614.1,153.3 L614.5,153.9 L614.9,153.7 L615.3,154.6 L615.7,153.7 L616.1,153.7 L616.5,155.2 L616.9,154.0 L617.3,153.4 L617.7,154.1 L618.1,153.9 L618.5,154.6 L618.9,154.4 L619.3,153.9 L619.7,153.9 L620.1,153.9 L620.5,155.1 L620.9,155.6 L621.3,154.3 L621.7,154.7 L622.1,154.6 L622.5,154.0 L622.9,154.1 L623.3,154.1 L623.7,153.2 L624.1,154.0 L624.5,154.8 L624.9,155.1 L625.3,154.4 L625.7,154.3 L626.1,155.0 L626.5,155.9 L626.9,154.1 L627.3,154.2 L627.7,154.4 L628.1,155.1 L628.5,154.2 L628.9,155.1 L629.3,154.3 L629.7,155.2 L630.1,154.6 L630.5,154.6 L630.9,155.4 L631.3,154.2 L631.7,154.5 L632.1,155.4 L632.5,155.5 L632.9,155.2 L633.3,153.7 L633.7,155.5 L634.1,155.3 L634.5,154.9 L634.9,153.9 L635.3,155.7 L635.7,156.3 L636.1,155.5 L636.5,156.1 L636.9,154.9 L637.3,155.4 L637.7,154.9 L638.1,154.7 L638.5,155.2 L638.9,154.8 L639.3,155.0 L639.7,155.0 L640.1,155.2 L640.5,155.3 L640.9,155.6 L641.3,154.8 L641.7,155.8 L642.1,154.5 L642.5,155.7 L642.9,155.7 L643.3,154.2 L643.7,155.5 L644.1,156.4 L644.5,156.0 L644.9,155.5 L645.3,155.5 L645.7,156.0 L646.1,156.0 L646.5,156.4 L646.9,156.0 L647.3,156.5 L647.7,156.2 L648.1,155.5 L648.5,155.4 L648.9,155.7 L649.3,156.3 L649.7,155.6 L650.1,156.7 L650.5,155.2 L650.9,156.0 L651.3,155.6 L651.7,156.4 L652.1,156.3 L652.5,156.2 L652.9,155.5 L653.3,155.8 L653.7,155.9 L654.1,157.0 L654.5,156.0 L654.9,156.7 L655.3,157.0 L655.7,155.9 L656.1,156.2 L656.5,155.1 L656.9,156.3 L657.3,157.0 L657.7,156.0 L658.1,156.8 L658.5,157.1 L658.9,156.8 L659.3,156.4 L659.7,156.8 L660.1,156.3 L660.5,156.5 L660.9,158.2 L661.3,156.4 L661.7,156.4 L662.1,156.9 L662.5,157.0 L662.9,157.3 L663.3,156.4 L663.7,156.2 L664.1,156.3 L664.5,157.4 L664.9,157.6 L665.3,156.5 L665.7,156.7 L666.1,157.0 L666.5,156.4 L666.9,156.7 L667.3,157.6 L667.7,156.3 L668.1,157.3 L668.5,157.8 L668.9,156.5 L669.3,157.8 L669.7,157.2 L670.1,156.9 L670.5,157.7 L670.9,157.3 L671.3,157.1 L671.7,156.9 L672.1,156.8 L672.5,157.0 L672.9,157.2 L673.3,157.8 L673.7,157.2 L674.1,157.5 L674.5,157.1 L674.9,157.7 L675.3,157.4 L675.7,158.2 L676.1,157.6 L676.5,156.5 L676.9,157.4 L677.3,157.2 L677.7,158.1 L678.1,157.5 L678.5,158.0 L678.9,158.0 L679.3,157.2 L679.7,157.4 L680.1,157.6 L680.5,157.0 L680.9,159.6 L681.3,157.9 L681.7,156.9 L682.1,156.8 L682.5,157.7 L682.9,157.5 L683.3,156.8 L683.7,156.7 L684.1,157.7 L684.5,157.5 L684.9,158.0 L685.3,157.7 L685.7,158.4 L686.1,156.7 L686.5,158.1 L686.9,157.3 L687.3,157.2 L687.7,158.3 L688.1,156.6 L688.5,157.6 L688.9,157.4 L689.3,158.3 L689.7,156.7 L690.1,157.6 L690.5,157.6 L690.9,157.1 L691.3,156.8 L691.7,156.0 L692.1,154.0 L692.5,152.2 L692.9,147.7 L693.3,146.1 L693.7,146.8 L694.1,149.2 L694.5,154.1 L694.9,155.3 L695.3,155.6 L695.7,156.6 L696.1,157.7 L696.5,157.5 L696.9,157.1 L697.3,158.2 L697.7,157.8 L698.1,157.7 L698.5,157.3 L698.9,158.3 L699.3,158.6 L699.7,157.5 L700.1,158.0 L700.5,158.0 L700.9,158.3 L701.3,157.6 L701.7,159.4 L702.1,158.4 L702.5,158.8 L702.9,158.1 L703.3,159.5 L703.7,158.6 L704.1,157.3 L704.5,158.9 L704.9,158.3 L705.3,157.8 L705.7,158.3 L706.1,157.9 L706.5,158.8 L706.9,158.8 L707.3,157.6 L707.7,158.8 L708.1,159.0 L708.5,157.0 L708.9,159.2 L709.3,158.8 L709.7,158.9 L710.1,159.3 L710.5,158.5 L710.9,158.0 L711.3,158.7 L711.7,158.4 L712.1,158.8 L712.5,157.2 L712.9,158.3 L713.3,160.0 L713.7,158.8 L714.1,159.1 L714.5,158.8 L714.9,158.4 L715.3,159.1 L715.7,159.0 L716.1,158.4 L716.5,158.5 L716.9,159.0 L717.3,158.2 L717.7,158.2 L718.1,159.3 L718.5,159.3 L718.9,158.5 L719.3,159.5 L719.7,159.1 L720.1,158.9 L720.5,158.4 L720.9,159.1 L721.3,158.4 L721.7,158.6 L722.1,158.3 L722.5,159.4 L722.9,158.8 L723.3,158.7 L723.7,159.1 L724.1,160.1 L724.5,159.3 L724.9,157.9 L725.3,158.7 L725.7,158.8 L726.1,158.4 L726.5,158.2 L726.9,159.7 L727.3,159.2 L727.7,159.3 L728.1,159.0 L728.5,159.3 L728.9,159.1 L729.3,158.9 L729.7,158.7 L730.1,158.3 L730.5,158.4 L730.9,158.8 L731.3,158.3 L731.7,159.0 L732.1,158.3 L732.5,159.3 L732.9,158.1 L733.3,159.0 L733.7,159.6 L734.1,159.3 L734.5,158.6 L734.9,159.6 L735.3,158.9 L735.7,159.1 L736.1,158.8 L736.5,157.9 L736.9,159.2 L737.3,159.1 L737.7,159.3 L738.1,158.4 L738.5,159.3 L738.9,158.5 L739.3,158.3 L739.7,158.3 L740.1,159.0 L740.5,158.7 L740.9,159.8 L741.3,159.3 L741.7,159.5 L742.1,158.8 L742.5,158.3 L742.9,158.0 L743.3,158.8 L743.7,159.6 L744.1,159.6 L744.5,158.0 L744.9,159.0 L745.3,159.3 L745.7,158.3 L746.1,158.8 L746.5,158.4 L746.9,158.9 L747.3,158.9 L747.7,158.5 L748.1,158.6 L748.5,158.2 L748.9,158.6 L749.3,156.7 L749.7,158.5 L750.1,158.7 L750.5,157.1 L750.9,157.4 L751.3,157.3 L751.7,155.7 L752.1,154.2 L752.5,151.3 L752.9,144.8 L753.3,131.3 L753.7,120.3 L754.1,126.2 L754.5,139.0 L754.9,149.1 L755.3,154.3 L755.7,155.6 L756.1,156.6 L756.5,158.1 L756.9,157.5 L757.3,158.0 L757.7,159.0 L758.1,159.4 L758.5,158.0 L758.9,158.6 L759.3,159.0 L759.7,159.5 L760.1,159.1 L760.5,158.6 L760.9,159.4 L761.3,157.7 L761.7,159.1 L762.1,159.4 L762.5,159.6 L762.9,159.2 L763.3,158.2 L763.7,159.5 L764.1,158.7 L764.5,158.7 L764.9,159.5 L765.3,157.8 L765.7,160.0 L766.1,159.2 L766.5,159.1 L766.9,158.3 L767.3,158.6 L767.7,158.2 L768.1,157.5 L768.5,155.8 L768.9,155.4 L769.3,152.2 L769.7,145.9 L770.1,134.0 L770.5,124.3 L770.9,130.8 L771.3,142.2 L771.7,149.9 L772.1,154.6 L772.5,156.0 L772.9,157.6 L773.3,157.2 L773.7,158.0 L774.1,158.9 L774.5,158.7 L774.9,158.4 L775.3,159.3 L775.7,159.2 L776.1,158.6 L776.5,158.9 L776.9,159.4 L777.3,159.2 L777.7,159.2 L778.1,159.1 L778.5,158.0 L778.9,159.7 L779.3,159.6 L779.7,159.4 L780.1,158.5 L780.5,159.3 L780.9,159.5 L781.3,159.4 L781.7,159.5 L782.1,158.4 L782.5,159.9 L782.9,159.9 L783.3,160.0 L783.7,160.3 L784.1,159.7 L784.5,160.4 L784.9,159.0 L785.3,160.0 L785.7,159.5 L786.1,160.4 L786.5,159.4 L786.9,159.4 L787.3,159.3 L787.7,159.9 L788.1,159.2 L788.5,160.1 L788.9,160.1 L789.3,159.7 L789.7,159.7 L790.1,159.3 L790.5,160.7 L790.9,160.1 L791.3,159.0 L791.7,160.1 L792.1,158.9 L792.5,159.5 L792.9,159.6 L793.3,158.9 L793.7,158.6 L794.1,158.9 L794.5,158.9 L794.9,158.7 L795.3,158.9 L795.7,158.2 L796.1,159.1 L796.5,158.7 L796.9,159.4 L797.3,158.9 L797.7,159.1 L798.1,159.1 L798.5,159.4 L798.9,159.5 L799.3,159.6 L799.7,159.9 L800.1,159.1 L800.5,160.5 L800.9,159.4 L801.3,159.1 L801.7,159.7 L802.1,159.2 L802.5,159.1 L802.9,159.3 L803.3,158.2 L803.7,158.9 L804.1,156.8 L804.5,155.6 L804.9,154.3 L805.3,152.6 L805.7,152.8 L806.1,154.0 L806.5,156.5 L806.9,157.7 L807.3,158.4 L807.7,158.9 L808.1,159.5 L808.5,159.9 L808.9,159.7 L809.3,159.2 L809.7,159.7 L810.1,159.9 L810.5,160.3 L810.9,159.5 L811.3,159.6 L811.7,159.5 L812.1,159.3 L812.5,160.1 L812.9,159.6 L813.3,160.4 L813.7,160.4 L814.1,160.0 L814.5,160.1 L814.9,159.8 L815.3,160.1 L815.7,160.1 L816.1,160.6 L816.5,159.8 L816.9,160.6 L817.3,160.4 L817.7,160.2 L818.1,159.4 L818.5,159.5 L818.9,160.0 L819.3,160.1 L819.7,159.4 L820.1,160.9 L820.5,160.0 L820.9,159.8 L821.3,160.1 L821.7,159.3 L822.1,158.5 L822.5,159.4 L822.9,158.9 L823.3,159.2 L823.7,159.3 L824.1,158.5 L824.5,159.1 L824.9,160.1 L825.3,160.5 L825.7,159.9 L826.1,160.1 L826.5,160.2 L826.9,160.3 L827.3,161.5 L827.7,161.1 L828.1,159.9 L828.5,160.1 L828.9,160.9 L829.3,160.6 L829.7,160.8 L830.1,160.6 L830.5,159.9 L830.9,159.7 L831.3,159.6 L831.7,160.0 L832.1,160.6 L832.5,160.1 L832.9,161.4 L833.3,159.5 L833.7,160.2 L834.1,160.9 L834.5,161.4 L834.9,159.9 L835.3,160.5 L835.7,160.8 L836.1,159.4 L836.5,160.8 L836.9,160.5 L837.3,160.2 L837.7,160.9 L838.1,160.5 L838.5,160.0 L838.9,161.1 L839.3,160.1 L839.7,161.1 L840.1,159.2 L840.5,160.9 L840.9,160.3 L841.3,160.6 L841.7,160.5 L842.1,161.0 L842.5,160.0 L842.9,160.4 L843.3,160.3 L843.7,160.7 L844.1,160.5 L844.5,160.6 L844.9,160.7 L845.3,159.6 L845.7,160.4 L846.1,160.5 L846.5,160.6 L846.9,161.8 L847.3,160.9 L847.7,161.2 L848.1,160.3 L848.5,160.9 L848.9,161.5 L849.3,160.3 L849.7,160.2 L850.1,159.7 L850.5,159.8 L850.9,161.4 L851.3,159.7 L851.7,160.5 L852.1,160.9 L852.5,160.6 L852.9,160.6 L853.3,160.5 L853.7,161.0 L854.1,159.8 L854.5,160.3 L854.9,160.4 L855.3,159.5 L855.7,160.1 L856.1,160.3 L856.5,161.2 L856.9,160.0 L857.3,160.9 L857.7,159.9 L858.1,161.1 L858.5,159.9 L858.9,160.6 L859.3,161.5 L859.7,160.3 L860.1,160.3 L860.5,158.6 L860.9,158.9 L861.3,158.0 L861.7,155.9 L862.1,153.7 L862.5,150.0 L862.9,147.9 L863.3,147.7 L863.7,150.1 L864.1,154.3 L864.5,155.8 L864.9,157.9 L865.3,159.7 L865.7,159.8 L866.1,159.3 L866.5,159.7 L866.9,159.7 L867.3,160.1 L867.7,161.1 L868.1,161.2 L868.5,160.1 L868.9,159.7 L869.3,161.0 L869.7,159.3 L870.1,160.8 L870.5,159.4 L870.9,160.8 L871.3,160.7 L871.7,160.4 L872.1,160.0 L872.5,160.9 L872.9,160.9 L873.3,160.7 L873.7,161.9 L874.1,160.6 L874.5,160.4 L874.9,161.4 L875.3,162.3 L875.7,160.4 L876.1,160.6 L876.5,160.5 L876.9,160.9 L877.3,161.2 L877.7,160.4 L878.1,160.6 L878.5,160.3 L878.9,160.9 L879.3,160.6 L879.7,161.0 L880.1,160.6 L880.5,160.8 L880.9,159.9 L881.3,160.4 L881.7,160.5 L882.1,160.8 L882.5,160.2 L882.9,160.5 L883.3,161.2 L883.7,161.0 L884.1,160.4 L884.5,160.7 L884.9,160.5 L885.3,160.8 L885.7,160.5 L886.1,160.2 L886.5,160.7 L886.9,159.8 L887.3,160.9 L887.7,161.1 L888.1,161.0 L888.5,159.7 L888.9,160.3 L889.3,160.7 L889.7,160.3 L890.1,160.2 L890.5,159.9 L890.9,159.9 L891.3,159.0 L891.7,157.6 L892.1,157.4 L892.5,156.3 L892.9,152.6 L893.3,148.7 L893.7,146.1 L894.1,144.5 L894.5,147.5 L894.9,151.7 L895.3,155.3 L895.7,158.0 L896.1,158.9 L896.5,159.1 L896.9,160.3 L897.3,160.0 L897.7,160.3 L898.1,160.2 L898.5,159.9 L898.9,160.4 L899.3,160.1 L899.7,159.6 L900.1,160.2 L900.5,161.4 L900.9,160.6 L901.3,160.1 L901.7,160.9 L902.1,162.0 L902.5,160.8 L902.9,162.1 L903.3,161.2 L903.7,159.9 L904.1,161.1 L904.5,162.0 L904.9,161.2 L905.3,160.4 L905.7,161.2 L906.1,161.6 L906.5,160.2 L906.9,161.0 L907.3,161.2 L907.7,161.5 L908.1,160.8 L908.5,160.5 L908.9,161.3 L909.3,161.2 L909.7,161.0 L910.1,160.7 L910.5,161.4 L910.9,160.7 L911.3,162.1 L911.7,160.7 L912.1,161.5 L912.5,161.4 L912.9,161.0 L913.3,160.7 L913.7,161.2 L914.1,160.6 L914.5,159.9 L914.9,160.2 L915.3,160.1 L915.7,158.6 L916.1,159.6 L916.5,157.5 L916.9,158.1 L917.3,157.7 L917.7,157.0 L918.1,158.1 L918.5,158.2 L918.9,159.5 L919.3,159.4 L919.7,160.2 L920.1,160.5 L920.5,161.1 L920.9,160.2 L921.3,161.6 L921.7,159.8 L922.1,160.3 L922.5,160.7 L922.9,160.1 L923.3,160.1 L923.7,161.2 L924.1,160.1 L924.5,160.6 L924.9,161.5 L925.3,161.7 L925.7,160.9 L926.1,161.5 L926.5,161.5 L926.9,161.4 L927.3,161.0 L927.7,160.6 L928.1,160.4 L928.5,161.9 L928.9,161.4 L929.3,161.1 L929.7,161.1 L930.1,161.6 L930.5,161.6 L930.9,161.1 L931.3,160.6 L931.7,161.6 L932.1,161.0 L932.5,160.4 L932.9,161.9 L933.3,162.1 L933.7,161.4 L934.1,161.2 L934.5,161.1 L934.9,161.0 L935.3,161.0 L935.7,160.8 L936.1,160.8 L936.5,160.9 L936.9,161.1 L937.3,161.2 L937.7,161.4 L938.1,160.7 L938.5,161.5 L938.9,160.7 L939.3,160.7 L939.7,161.4 L940.1,160.3 L940.5,161.1 L940.9,160.2 L941.3,160.9 L941.7,161.4 L942.1,161.5 L942.5,160.6 L942.9,160.6 L943.3,161.9 L943.7,161.3 L944.1,161.7 L944.5,160.2 L944.9,161.7 L945.3,161.1 L945.7,160.2 L946.1,160.8 L946.5,161.4 L946.9,160.8 L947.3,159.7 L947.7,159.2 L948.1,160.1 L948.5,158.5 L948.9,157.1 L949.3,155.6 L949.7,153.7 L950.1,152.0 L950.5,152.9 L950.9,154.6 L951.3,155.6 L951.7,158.3 L952.1,158.5 L952.5,159.7 L952.9,160.4 L953.3,160.7 L953.7,161.2 L954.1,159.7 L954.5,159.6 L954.9,159.8 L955.3,160.3 L955.7,160.8 L956.1,160.0 L956.5,160.0 L956.9,160.2 L957.3,160.0 L957.7,161.1 L958.1,159.2 L958.5,160.1 L958.9,159.6 L959.3,157.3 L959.7,155.7 L960.1,153.8 L960.5,151.6 L960.9,150.6 L961.3,150.8 L961.7,153.3 L962.1,155.6 L962.5,156.5 L962.9,158.6 L963.3,158.9 L963.7,159.4 L964.1,160.2 L964.5,160.2 L964.9,161.4 L965.3,161.4 L965.7,161.5 L966.1,161.3 L966.5,160.3 L966.9,160.8 L967.3,161.0 L967.7,162.0 L968.1,160.8 L968.5,161.8 L968.9,160.3 L969.3,161.0 L969.7,161.1 L970.1,161.9 L970.5,161.8 L970.9,161.4 L971.3,161.6 L971.7,160.7 L972.1,160.5 L972.5,161.9 L972.9,162.8 L973.3,161.9 L973.7,161.2 L974.1,161.7 L974.5,160.5 L974.9,161.4 L975.3,161.3 L975.7,162.1 L976.1,161.6 L976.5,162.0 L976.9,160.8 L977.3,161.4 L977.7,161.1 L978.1,161.9 L978.5,161.6 L978.9,161.6 L979.3,160.5 L979.7,162.4 L980.1,161.4 L980.5,161.5 L980.9,162.8 L981.3,162.3 L981.7,161.6 L982.1,161.9 L982.5,160.9 L982.9,161.2 L983.3,161.9 L983.7,161.3 L984.1,161.4 L984.5,160.8 L984.9,161.2 L985.3,161.2 L985.7,161.3 L986.1,162.4 L986.5,161.5 L986.9,161.6 L987.3,162.1 L987.7,161.4 L988.1,161.9 L988.5,160.7 L988.9,161.4 L989.3,161.8 L989.7,161.2 L990.1,161.8 L990.5,161.4 L990.9,161.9 L991.3,162.1 L991.7,161.4 L992.1,161.0 L992.5,161.0 L992.9,161.6 L993.3,161.5 L993.7,160.7 L994.1,162.0 L994.5,162.0 L994.9,161.4 L995.3,161.5 L995.7,161.4 L996.1,160.7 L996.5,161.1 L996.9,161.1 L997.3,160.8 L997.7,160.2 L998.1,160.1 L998.5,160.6 L998.9,160.6 L999.3,160.7 L999.7,160.1 L1000.1,161.1 L1000.5,161.0 L1000.9,161.3 L1001.3,160.8 L1001.7,161.7 L1002.1,161.5 L1002.5,161.9 L1002.9,161.1 L1003.3,161.9 L1003.7,161.6 L1004.1,161.3 L1004.5,161.6 L1004.9,161.1 L1005.3,161.4 L1005.7,161.5 L1006.1,161.4 L1006.5,161.6 L1006.9,161.8 L1007.3,160.9 L1007.7,161.6 L1008.1,160.3 L1008.5,160.8 L1008.9,162.3 L1009.3,161.6 L1009.7,161.1 L1010.1,162.3 L1010.5,160.4 L1010.9,160.6 L1011.3,159.9 L1011.7,160.3 L1012.1,159.4 L1012.5,158.4 L1012.9,158.2 L1013.3,158.2 L1013.7,158.5 L1014.1,158.4 L1014.5,158.8 L1014.9,159.0 L1015.3,159.0 L1015.7,160.6 L1016.1,159.8 L1016.5,160.6 L1016.9,160.4 L1017.3,160.7 L1017.7,160.9 L1018.1,160.7 L1018.5,161.7 L1018.9,161.3 L1019.3,161.9 L1019.7,162.1 L1020.1,161.8 L1020.5,161.6 L1020.9,161.8 L1021.3,161.3 L1021.7,161.8 L1022.1,160.6 L1022.5,161.1 L1022.9,162.0 L1023.3,160.8 L1023.7,161.7 L1024.1,162.0 L1024.5,161.6 L1024.9,161.2 L1025.3,162.1 L1025.7,162.6 L1026.1,162.3 L1026.5,160.9 L1026.9,162.5 L1027.3,161.4 L1027.7,162.4 L1028.1,161.7 L1028.5,162.0 L1028.9,162.4 L1029.3,161.2 L1029.7,162.3 L1030.1,161.7 L1030.5,162.0 L1030.9,161.6 L1031.3,161.5 L1031.7,160.9 L1032.1,161.5 L1032.5,161.9 L1032.9,161.1 L1033.3,162.1 L1033.7,161.7 L1034.1,160.5 L1034.5,161.1 L1034.9,161.1 L1035.3,160.6 L1035.7,160.6 L1036.1,160.6 L1036.5,159.6 L1036.9,159.8 L1037.3,159.3 L1037.7,159.0 L1038.1,159.9 L1038.5,159.7 L1038.9,160.2 L1039.3,160.9 L1039.7,159.8 L1040.1,161.3 L1040.5,161.4 L1040.9,161.4 L1041.3,161.7 L1041.7,161.6 L1042.1,161.8 L1042.5,160.9 L1042.9,161.4 L1043.3,161.8 L1043.7,161.6 L1044.1,161.8 L1044.5,161.3 L1044.9,162.6 L1045.3,161.8 L1045.7,162.1 L1046.1,162.2 L1046.5,161.6 L1046.9,161.6 L1047.3,161.3 L1047.7,162.0 L1048.1,162.5 L1048.5,162.2 L1048.9,161.2 L1049.3,162.4 L1049.7,162.4 L1050.1,162.0 L1050.5,161.1 L1050.9,161.0 L1051.3,161.5 L1051.7,161.2 L1052.1,162.0 L1052.5,162.5 L1052.9,162.6 L1053.3,162.3 L1053.7,162.4 L1054.1,162.4 L1054.5,162.0 L1054.9,161.5 L1055.3,162.8 L1055.7,162.8 L1056.1,161.0 L1056.5,162.6 L1056.9,162.1 L1057.3,161.7 L1057.7,162.7 L1058.1,161.6 L1058.5,161.9 L1058.9,162.0 L1059.3,162.6 L1059.7,161.7 L1060.1,162.1 L1060.5,161.7 L1060.9,162.2 L1061.3,162.7 L1061.7,162.6 L1062.1,162.1 L1062.5,162.1 L1062.9,161.4 L1063.3,162.7 L1063.7,162.1 L1064.1,162.7 L1064.5,162.2 L1064.9,162.1 L1065.3,162.0 L1065.7,161.3 L1066.1,162.4 L1066.5,162.4 L1066.9,161.8 L1067.3,162.3 L1067.7,162.1 L1068.1,161.8" fill="none" stroke="#e2408b" stroke-width="1.9" stroke-linejoin="round"/>
<path d="M598.9,206.9 L599.3,206.0 L599.7,206.1 L600.1,206.0 L600.5,204.7 L600.9,206.2 L601.3,205.1 L601.7,206.3 L602.1,205.8 L602.5,206.9 L602.9,206.1 L603.3,206.3 L603.7,205.6 L604.1,206.8 L604.5,206.3 L604.9,206.8 L605.3,207.0 L605.7,207.0 L606.1,206.4 L606.5,205.3 L606.9,205.8 L607.3,207.2 L607.7,207.3 L608.1,207.5 L608.5,206.3 L608.9,206.1 L609.3,207.4 L609.7,207.4 L610.1,206.8 L610.5,206.9 L610.9,206.0 L611.3,206.8 L611.7,207.8 L612.1,206.4 L612.5,206.7 L612.9,207.0 L613.3,206.9 L613.7,206.0 L614.1,206.8 L614.5,206.8 L614.9,207.0 L615.3,207.0 L615.7,207.3 L616.1,206.7 L616.5,208.4 L616.9,207.2 L617.3,208.3 L617.7,208.4 L618.1,207.5 L618.5,206.7 L618.9,206.1 L619.3,206.6 L619.7,207.4 L620.1,207.7 L620.5,207.1 L620.9,207.3 L621.3,209.4 L621.7,207.9 L622.1,207.0 L622.5,208.2 L622.9,207.2 L623.3,206.3 L623.7,208.0 L624.1,207.4 L624.5,208.0 L624.9,209.1 L625.3,208.0 L625.7,207.5 L626.1,209.1 L626.5,206.7 L626.9,207.3 L627.3,209.0 L627.7,209.1 L628.1,208.0 L628.5,207.7 L628.9,208.4 L629.3,208.4 L629.7,208.4 L630.1,208.0 L630.5,207.5 L630.9,207.9 L631.3,208.1 L631.7,208.1 L632.1,208.0 L632.5,208.3 L632.9,207.3 L633.3,209.1 L633.7,209.4 L634.1,208.2 L634.5,207.7 L634.9,208.8 L635.3,209.0 L635.7,208.6 L636.1,209.3 L636.5,208.4 L636.9,208.1 L637.3,209.8 L637.7,208.5 L638.1,208.6 L638.5,207.4 L638.9,208.7 L639.3,208.5 L639.7,209.0 L640.1,209.4 L640.5,209.1 L640.9,208.3 L641.3,209.7 L641.7,209.3 L642.1,209.5 L642.5,209.1 L642.9,209.2 L643.3,208.3 L643.7,208.3 L644.1,208.8 L644.5,208.8 L644.9,209.4 L645.3,207.2 L645.7,209.0 L646.1,208.8 L646.5,210.0 L646.9,209.0 L647.3,209.1 L647.7,209.5 L648.1,209.7 L648.5,208.3 L648.9,208.7 L649.3,209.9 L649.7,209.7 L650.1,209.6 L650.5,210.5 L650.9,208.6 L651.3,209.7 L651.7,209.3 L652.1,209.8 L652.5,209.2 L652.9,209.9 L653.3,211.3 L653.7,210.2 L654.1,210.0 L654.5,210.8 L654.9,210.3 L655.3,211.2 L655.7,209.4 L656.1,209.3 L656.5,208.7 L656.9,209.4 L657.3,208.9 L657.7,211.0 L658.1,210.2 L658.5,210.4 L658.9,210.2 L659.3,210.1 L659.7,210.0 L660.1,209.3 L660.5,211.1 L660.9,210.0 L661.3,211.3 L661.7,210.7 L662.1,209.5 L662.5,210.1 L662.9,210.1 L663.3,210.0 L663.7,210.0 L664.1,210.3 L664.5,210.0 L664.9,209.9 L665.3,210.4 L665.7,210.4 L666.1,210.1 L666.5,210.7 L666.9,210.2 L667.3,210.7 L667.7,210.5 L668.1,211.2 L668.5,209.4 L668.9,211.6 L669.3,210.3 L669.7,211.3 L670.1,210.2 L670.5,210.5 L670.9,210.9 L671.3,210.4 L671.7,210.3 L672.1,210.5 L672.5,211.6 L672.9,209.6 L673.3,210.6 L673.7,211.6 L674.1,210.5 L674.5,211.7 L674.9,209.4 L675.3,209.9 L675.7,210.5 L676.1,210.3 L676.5,210.4 L676.9,211.2 L677.3,210.1 L677.7,211.0 L678.1,211.0 L678.5,210.7 L678.9,212.2 L679.3,210.7 L679.7,212.2 L680.1,210.6 L680.5,211.3 L680.9,211.2 L681.3,210.5 L681.7,211.4 L682.1,211.8 L682.5,211.5 L682.9,211.1 L683.3,211.9 L683.7,211.5 L684.1,211.3 L684.5,209.3 L684.9,210.9 L685.3,211.6 L685.7,210.3 L686.1,209.2 L686.5,210.5 L686.9,210.9 L687.3,209.9 L687.7,210.6 L688.1,211.1 L688.5,210.3 L688.9,210.4 L689.3,211.5 L689.7,210.5 L690.1,209.7 L690.5,210.4 L690.9,210.2 L691.3,209.3 L691.7,208.1 L692.1,205.6 L692.5,203.8 L692.9,195.7 L693.3,190.8 L693.7,192.3 L694.1,198.9 L694.5,203.5 L694.9,207.2 L695.3,208.4 L695.7,209.9 L696.1,209.1 L696.5,211.3 L696.9,211.0 L697.3,211.4 L697.7,211.0 L698.1,210.0 L698.5,210.7 L698.9,211.2 L699.3,212.2 L699.7,211.4 L700.1,212.1 L700.5,211.6 L700.9,211.1 L701.3,211.3 L701.7,211.9 L702.1,212.0 L702.5,211.2 L702.9,211.7 L703.3,211.8 L703.7,212.1 L704.1,212.5 L704.5,211.0 L704.9,211.3 L705.3,210.7 L705.7,212.8 L706.1,211.9 L706.5,210.9 L706.9,213.1 L707.3,211.7 L707.7,211.9 L708.1,212.0 L708.5,212.3 L708.9,210.7 L709.3,211.8 L709.7,212.3 L710.1,212.1 L710.5,211.8 L710.9,211.6 L711.3,211.0 L711.7,210.2 L712.1,210.9 L712.5,212.2 L712.9,212.1 L713.3,211.6 L713.7,212.1 L714.1,213.1 L714.5,212.0 L714.9,211.8 L715.3,213.8 L715.7,212.2 L716.1,211.7 L716.5,212.9 L716.9,211.7 L717.3,212.2 L717.7,212.3 L718.1,213.0 L718.5,211.8 L718.9,212.6 L719.3,211.4 L719.7,212.1 L720.1,212.3 L720.5,212.4 L720.9,213.4 L721.3,212.1 L721.7,212.1 L722.1,212.0 L722.5,212.0 L722.9,212.5 L723.3,212.4 L723.7,212.9 L724.1,212.0 L724.5,212.7 L724.9,212.6 L725.3,212.3 L725.7,212.5 L726.1,212.4 L726.5,212.2 L726.9,212.2 L727.3,211.4 L727.7,211.6 L728.1,212.1 L728.5,212.5 L728.9,212.5 L729.3,212.1 L729.7,211.8 L730.1,212.3 L730.5,212.2 L730.9,211.6 L731.3,212.6 L731.7,212.8 L732.1,212.2 L732.5,211.4 L732.9,212.2 L733.3,212.3 L733.7,211.5 L734.1,212.5 L734.5,212.2 L734.9,212.7 L735.3,211.9 L735.7,212.2 L736.1,212.3 L736.5,212.8 L736.9,211.7 L737.3,212.3 L737.7,213.2 L738.1,212.2 L738.5,211.6 L738.9,212.9 L739.3,212.7 L739.7,211.3 L740.1,212.3 L740.5,211.4 L740.9,212.1 L741.3,212.7 L741.7,212.6 L742.1,211.5 L742.5,211.7 L742.9,213.0 L743.3,212.4 L743.7,212.0 L744.1,212.2 L744.5,211.5 L744.9,211.1 L745.3,211.3 L745.7,212.3 L746.1,211.5 L746.5,212.4 L746.9,212.5 L747.3,212.1 L747.7,211.4 L748.1,211.5 L748.5,211.3 L748.9,211.7 L749.3,212.1 L749.7,211.4 L750.1,212.1 L750.5,210.9 L750.9,209.9 L751.3,208.7 L751.7,207.8 L752.1,205.5 L752.5,202.1 L752.9,192.4 L753.3,176.7 L753.7,160.1 L754.1,167.8 L754.5,185.7 L754.9,198.3 L755.3,205.1 L755.7,207.7 L756.1,208.7 L756.5,209.7 L756.9,210.7 L757.3,211.3 L757.7,211.5 L758.1,211.3 L758.5,211.5 L758.9,212.1 L759.3,211.9 L759.7,211.2 L760.1,211.5 L760.5,212.4 L760.9,212.9 L761.3,212.6 L761.7,211.8 L762.1,211.6 L762.5,213.3 L762.9,212.3 L763.3,211.9 L763.7,212.2 L764.1,212.4 L764.5,212.0 L764.9,212.1 L765.3,212.8 L765.7,211.6 L766.1,211.5 L766.5,211.8 L766.9,211.5 L767.3,211.1 L767.7,210.9 L768.1,209.7 L768.5,209.2 L768.9,207.1 L769.3,204.4 L769.7,195.2 L770.1,181.6 L770.5,170.4 L770.9,177.6 L771.3,192.9 L771.7,201.8 L772.1,206.4 L772.5,208.5 L772.9,209.7 L773.3,210.6 L773.7,209.8 L774.1,211.5 L774.5,211.7 L774.9,211.4 L775.3,211.4 L775.7,212.0 L776.1,212.0 L776.5,213.5 L776.9,212.9 L777.3,212.4 L777.7,212.1 L778.1,212.6 L778.5,211.7 L778.9,211.8 L779.3,212.8 L779.7,211.4 L780.1,212.3 L780.5,212.0 L780.9,212.5 L781.3,212.7 L781.7,212.4 L782.1,213.1 L782.5,212.6 L782.9,213.2 L783.3,212.8 L783.7,213.6 L784.1,213.6 L784.5,212.8 L784.9,211.3 L785.3,212.3 L785.7,212.6 L786.1,211.9 L786.5,212.3 L786.9,213.3 L787.3,212.3 L787.7,212.6 L788.1,213.4 L788.5,212.0 L788.9,212.1 L789.3,212.7 L789.7,212.0 L790.1,212.7 L790.5,213.1 L790.9,212.9 L791.3,212.4 L791.7,212.2 L792.1,212.6 L792.5,212.3 L792.9,212.3 L793.3,212.9 L793.7,211.0 L794.1,212.3 L794.5,211.3 L794.9,212.1 L795.3,211.7 L795.7,211.8 L796.1,212.0 L796.5,212.9 L796.9,212.7 L797.3,213.1 L797.7,211.9 L798.1,212.3 L798.5,212.2 L798.9,212.4 L799.3,213.1 L799.7,213.1 L800.1,212.3 L800.5,211.5 L800.9,212.3 L801.3,211.8 L801.7,212.0 L802.1,212.5 L802.5,212.4 L802.9,212.9 L803.3,210.9 L803.7,209.9 L804.1,208.3 L804.5,207.8 L804.9,203.1 L805.3,201.2 L805.7,202.8 L806.1,204.7 L806.5,208.4 L806.9,209.4 L807.3,211.6 L807.7,210.9 L808.1,211.7 L808.5,211.9 L808.9,212.2 L809.3,213.0 L809.7,213.2 L810.1,213.3 L810.5,213.4 L810.9,211.9 L811.3,212.8 L811.7,213.7 L812.1,213.7 L812.5,213.5 L812.9,212.8 L813.3,213.4 L813.7,212.8 L814.1,212.5 L814.5,213.5 L814.9,213.0 L815.3,213.0 L815.7,213.3 L816.1,213.4 L816.5,212.7 L816.9,212.3 L817.3,212.7 L817.7,212.6 L818.1,213.0 L818.5,213.3 L818.9,212.9 L819.3,212.8 L819.7,212.3 L820.1,213.1 L820.5,212.8 L820.9,213.2 L821.3,213.4 L821.7,212.9 L822.1,212.4 L822.5,212.8 L822.9,213.2 L823.3,211.5 L823.7,212.4 L824.1,212.5 L824.5,212.6 L824.9,212.6 L825.3,212.2 L825.7,212.5 L826.1,213.3 L826.5,212.4 L826.9,212.7 L827.3,212.5 L827.7,213.4 L828.1,213.7 L828.5,212.5 L828.9,212.7 L829.3,211.6 L829.7,213.6 L830.1,213.8 L830.5,213.5 L830.9,212.6 L831.3,213.4 L831.7,214.3 L832.1,212.6 L832.5,212.8 L832.9,213.8 L833.3,212.9 L833.7,213.7 L834.1,212.8 L834.5,213.1 L834.9,212.3 L835.3,212.9 L835.7,213.4 L836.1,213.3 L836.5,213.9 L836.9,213.7 L837.3,213.1 L837.7,213.9 L838.1,214.0 L838.5,213.3 L838.9,213.5 L839.3,213.7 L839.7,213.4 L840.1,213.0 L840.5,213.5 L840.9,213.5 L841.3,212.7 L841.7,213.4 L842.1,213.6 L842.5,213.2 L842.9,212.5 L843.3,214.5 L843.7,214.2 L844.1,214.2 L844.5,213.8 L844.9,213.2 L845.3,211.8 L845.7,214.0 L846.1,214.3 L846.5,212.7 L846.9,213.5 L847.3,213.3 L847.7,214.1 L848.1,212.6 L848.5,214.1 L848.9,213.5 L849.3,212.5 L849.7,212.4 L850.1,213.5 L850.5,214.0 L850.9,212.8 L851.3,213.0 L851.7,213.0 L852.1,213.7 L852.5,213.1 L852.9,212.8 L853.3,212.7 L853.7,212.6 L854.1,213.4 L854.5,213.6 L854.9,212.9 L855.3,213.0 L855.7,212.2 L856.1,213.3 L856.5,212.9 L856.9,213.5 L857.3,211.9 L857.7,213.6 L858.1,212.7 L858.5,212.7 L858.9,212.7 L859.3,212.0 L859.7,212.5 L860.1,212.1 L860.5,211.2 L860.9,211.2 L861.3,209.6 L861.7,207.0 L862.1,204.2 L862.5,200.4 L862.9,197.7 L863.3,199.0 L863.7,200.9 L864.1,205.5 L864.5,206.8 L864.9,208.9 L865.3,210.3 L865.7,211.4 L866.1,211.8 L866.5,212.9 L866.9,212.4 L867.3,212.5 L867.7,213.2 L868.1,212.2 L868.5,212.9 L868.9,213.5 L869.3,212.8 L869.7,214.1 L870.1,213.5 L870.5,213.2 L870.9,213.4 L871.3,213.6 L871.7,211.9 L872.1,213.6 L872.5,212.8 L872.9,214.1 L873.3,212.5 L873.7,213.3 L874.1,214.0 L874.5,214.6 L874.9,213.5 L875.3,213.6 L875.7,213.6 L876.1,213.1 L876.5,213.0 L876.9,212.8 L877.3,213.5 L877.7,213.8 L878.1,213.0 L878.5,213.5 L878.9,213.3 L879.3,212.4 L879.7,213.6 L880.1,212.8 L880.5,213.6 L880.9,213.6 L881.3,213.3 L881.7,213.4 L882.1,213.0 L882.5,212.6 L882.9,213.7 L883.3,212.9 L883.7,214.0 L884.1,213.8 L884.5,212.3 L884.9,212.3 L885.3,213.3 L885.7,212.9 L886.1,212.6 L886.5,212.5 L886.9,212.8 L887.3,212.8 L887.7,212.3 L888.1,212.6 L888.5,212.3 L888.9,212.6 L889.3,212.0 L889.7,212.9 L890.1,212.2 L890.5,211.4 L890.9,210.9 L891.3,211.4 L891.7,210.7 L892.1,208.6 L892.5,205.1 L892.9,201.6 L893.3,196.7 L893.7,191.8 L894.1,192.2 L894.5,196.5 L894.9,201.5 L895.3,206.1 L895.7,208.2 L896.1,209.7 L896.5,210.3 L896.9,211.9 L897.3,211.0 L897.7,213.2 L898.1,213.0 L898.5,213.0 L898.9,212.3 L899.3,212.8 L899.7,212.3 L900.1,212.6 L900.5,213.1 L900.9,212.7 L901.3,212.6 L901.7,213.1 L902.1,212.8 L902.5,213.1 L902.9,213.3 L903.3,212.9 L903.7,213.3 L904.1,214.0 L904.5,214.2 L904.9,213.3 L905.3,213.7 L905.7,213.2 L906.1,213.6 L906.5,212.5 L906.9,213.5 L907.3,214.4 L907.7,213.0 L908.1,213.7 L908.5,213.2 L908.9,214.1 L909.3,213.1 L909.7,214.3 L910.1,213.5 L910.5,212.7 L910.9,213.4 L911.3,212.8 L911.7,213.0 L912.1,213.1 L912.5,214.0 L912.9,213.4 L913.3,214.1 L913.7,213.1 L914.1,213.1 L914.5,211.2 L914.9,212.1 L915.3,212.0 L915.7,211.3 L916.1,211.5 L916.5,209.7 L916.9,209.9 L917.3,209.6 L917.7,209.3 L918.1,210.0 L918.5,210.7 L918.9,211.8 L919.3,212.2 L919.7,212.9 L920.1,212.9 L920.5,212.2 L920.9,212.7 L921.3,212.2 L921.7,213.4 L922.1,214.0 L922.5,213.3 L922.9,213.5 L923.3,213.5 L923.7,213.0 L924.1,213.9 L924.5,213.1 L924.9,213.6 L925.3,212.7 L925.7,214.3 L926.1,213.9 L926.5,213.4 L926.9,213.5 L927.3,214.1 L927.7,212.9 L928.1,213.8 L928.5,214.1 L928.9,213.6 L929.3,214.0 L929.7,213.7 L930.1,213.5 L930.5,214.5 L930.9,213.7 L931.3,214.1 L931.7,213.7 L932.1,213.5 L932.5,213.9 L932.9,213.2 L933.3,213.3 L933.7,213.6 L934.1,214.0 L934.5,214.0 L934.9,214.6 L935.3,213.0 L935.7,213.5 L936.1,214.5 L936.5,213.3 L936.9,214.3 L937.3,213.8 L937.7,213.4 L938.1,213.9 L938.5,213.0 L938.9,215.0 L939.3,213.9 L939.7,213.6 L940.1,213.1 L940.5,213.6 L940.9,214.1 L941.3,213.4 L941.7,214.4 L942.1,213.3 L942.5,213.4 L942.9,212.9 L943.3,212.6 L943.7,214.3 L944.1,213.2 L944.5,212.8 L944.9,214.1 L945.3,212.6 L945.7,213.4 L946.1,213.5 L946.5,213.6 L946.9,213.2 L947.3,212.3 L947.7,212.8 L948.1,210.7 L948.5,209.3 L948.9,207.1 L949.3,206.1 L949.7,203.3 L950.1,201.7 L950.5,201.1 L950.9,202.8 L951.3,206.0 L951.7,209.3 L952.1,211.0 L952.5,210.1 L952.9,212.6 L953.3,212.8 L953.7,212.7 L954.1,212.6 L954.5,212.6 L954.9,212.5 L955.3,212.6 L955.7,212.5 L956.1,213.4 L956.5,213.1 L956.9,212.6 L957.3,212.8 L957.7,212.6 L958.1,212.3 L958.5,211.0 L958.9,210.5 L959.3,209.1 L959.7,206.9 L960.1,205.3 L960.5,202.0 L960.9,201.9 L961.3,201.3 L961.7,204.4 L962.1,207.4 L962.5,209.0 L962.9,210.2 L963.3,211.1 L963.7,212.3 L964.1,211.5 L964.5,212.4 L964.9,212.7 L965.3,212.8 L965.7,213.0 L966.1,213.3 L966.5,213.6 L966.9,213.0 L967.3,213.8 L967.7,213.5 L968.1,214.1 L968.5,213.7 L968.9,213.2 L969.3,213.2 L969.7,215.1 L970.1,213.8 L970.5,212.7 L970.9,212.8 L971.3,213.9 L971.7,213.3 L972.1,213.9 L972.5,213.3 L972.9,214.0 L973.3,213.9 L973.7,213.2 L974.1,213.7 L974.5,213.7 L974.9,214.4 L975.3,213.0 L975.7,213.5 L976.1,213.4 L976.5,213.8 L976.9,214.6 L977.3,214.0 L977.7,212.5 L978.1,213.9 L978.5,214.0 L978.9,213.3 L979.3,213.2 L979.7,214.2 L980.1,213.5 L980.5,213.6 L980.9,213.9 L981.3,213.2 L981.7,214.3 L982.1,213.8 L982.5,214.1 L982.9,213.6 L983.3,214.4 L983.7,214.2 L984.1,214.3 L984.5,214.3 L984.9,213.3 L985.3,213.7 L985.7,213.6 L986.1,214.6 L986.5,214.0 L986.9,213.8 L987.3,213.9 L987.7,214.3 L988.1,213.9 L988.5,214.1 L988.9,214.2 L989.3,213.3 L989.7,213.6 L990.1,214.0 L990.5,213.4 L990.9,214.4 L991.3,214.9 L991.7,213.8 L992.1,214.0 L992.5,213.8 L992.9,214.1 L993.3,214.3 L993.7,214.2 L994.1,214.1 L994.5,213.7 L994.9,214.2 L995.3,214.1 L995.7,214.2 L996.1,214.1 L996.5,213.1 L996.9,213.3 L997.3,213.4 L997.7,213.9 L998.1,213.1 L998.5,214.2 L998.9,213.7 L999.3,213.9 L999.7,214.6 L1000.1,213.7 L1000.5,213.8 L1000.9,214.1 L1001.3,213.9 L1001.7,213.7 L1002.1,213.9 L1002.5,213.2 L1002.9,215.1 L1003.3,213.7 L1003.7,213.4 L1004.1,213.8 L1004.5,213.9 L1004.9,213.6 L1005.3,213.6 L1005.7,213.1 L1006.1,214.0 L1006.5,214.6 L1006.9,214.4 L1007.3,214.3 L1007.7,213.7 L1008.1,213.9 L1008.5,214.4 L1008.9,214.6 L1009.3,213.5 L1009.7,213.8 L1010.1,214.3 L1010.5,213.3 L1010.9,212.8 L1011.3,212.7 L1011.7,212.2 L1012.1,211.1 L1012.5,211.2 L1012.9,210.2 L1013.3,209.9 L1013.7,209.2 L1014.1,209.3 L1014.5,209.8 L1014.9,210.4 L1015.3,210.7 L1015.7,212.4 L1016.1,212.6 L1016.5,213.8 L1016.9,213.0 L1017.3,213.9 L1017.7,213.6 L1018.1,213.2 L1018.5,213.3 L1018.9,213.9 L1019.3,213.3 L1019.7,213.9 L1020.1,213.2 L1020.5,214.5 L1020.9,213.3 L1021.3,214.2 L1021.7,214.4 L1022.1,214.1 L1022.5,214.4 L1022.9,215.2 L1023.3,213.6 L1023.7,213.4 L1024.1,214.7 L1024.5,214.4 L1024.9,214.2 L1025.3,214.6 L1025.7,214.1 L1026.1,214.7 L1026.5,214.0 L1026.9,213.6 L1027.3,213.5 L1027.7,214.5 L1028.1,214.3 L1028.5,214.6 L1028.9,213.8 L1029.3,214.5 L1029.7,213.5 L1030.1,214.4 L1030.5,214.6 L1030.9,213.9 L1031.3,214.7 L1031.7,214.3 L1032.1,214.2 L1032.5,213.8 L1032.9,213.5 L1033.3,215.1 L1033.7,213.9 L1034.1,213.2 L1034.5,213.9 L1034.9,213.0 L1035.3,212.3 L1035.7,212.9 L1036.1,213.0 L1036.5,212.7 L1036.9,212.6 L1037.3,212.5 L1037.7,212.9 L1038.1,212.9 L1038.5,212.2 L1038.9,213.4 L1039.3,213.0 L1039.7,212.7 L1040.1,213.4 L1040.5,213.5 L1040.9,214.7 L1041.3,214.1 L1041.7,213.7 L1042.1,214.4 L1042.5,213.9 L1042.9,213.9 L1043.3,214.4 L1043.7,214.2 L1044.1,214.6 L1044.5,214.0 L1044.9,214.5 L1045.3,214.8 L1045.7,214.3 L1046.1,214.6 L1046.5,215.3 L1046.9,214.4 L1047.3,214.0 L1047.7,214.0 L1048.1,214.9 L1048.5,214.6 L1048.9,214.5 L1049.3,213.9 L1049.7,214.9 L1050.1,214.3 L1050.5,215.0 L1050.9,214.3 L1051.3,213.8 L1051.7,214.8 L1052.1,214.1 L1052.5,214.0 L1052.9,214.0 L1053.3,213.6 L1053.7,213.7 L1054.1,213.4 L1054.5,214.7 L1054.9,214.0 L1055.3,214.5 L1055.7,214.7 L1056.1,214.9 L1056.5,214.2 L1056.9,215.3 L1057.3,213.4 L1057.7,214.2 L1058.1,214.5 L1058.5,213.8 L1058.9,215.1 L1059.3,214.6 L1059.7,213.7 L1060.1,213.8 L1060.5,214.6 L1060.9,214.5 L1061.3,215.2 L1061.7,214.2 L1062.1,213.4 L1062.5,214.8 L1062.9,214.4 L1063.3,214.4 L1063.7,214.1 L1064.1,214.8 L1064.5,213.4 L1064.9,214.3 L1065.3,214.5 L1065.7,214.0 L1066.1,214.7 L1066.5,214.8 L1066.9,214.6 L1067.3,214.5 L1067.7,214.4 L1068.1,214.7" fill="none" stroke="#1c5fc0" stroke-width="1.9" stroke-linejoin="round"/>
<path d="M598.9,255.6 L599.3,256.1 L599.7,255.8 L600.1,255.6 L600.5,256.1 L600.9,254.8 L601.3,255.3 L601.7,255.3 L602.1,255.9 L602.5,255.8 L602.9,256.0 L603.3,256.4 L603.7,256.7 L604.1,256.5 L604.5,255.9 L604.9,256.7 L605.3,256.3 L605.7,257.4 L606.1,256.9 L606.5,256.5 L606.9,256.4 L607.3,255.9 L607.7,256.7 L608.1,255.9 L608.5,256.9 L608.9,255.5 L609.3,256.0 L609.7,257.7 L610.1,257.8 L610.5,257.7 L610.9,255.7 L611.3,255.9 L611.7,256.0 L612.1,255.8 L612.5,257.1 L612.9,256.7 L613.3,257.0 L613.7,256.8 L614.1,256.6 L614.5,258.5 L614.9,257.6 L615.3,256.6 L615.7,258.0 L616.1,256.8 L616.5,257.1 L616.9,258.3 L617.3,256.9 L617.7,257.2 L618.1,257.2 L618.5,258.6 L618.9,258.8 L619.3,257.7 L619.7,258.8 L620.1,256.7 L620.5,257.5 L620.9,258.5 L621.3,257.5 L621.7,257.9 L622.1,257.9 L622.5,258.2 L622.9,258.0 L623.3,256.9 L623.7,257.6 L624.1,257.4 L624.5,258.3 L624.9,256.8 L625.3,257.5 L625.7,258.8 L626.1,258.3 L626.5,259.6 L626.9,258.1 L627.3,256.4 L627.7,258.8 L628.1,258.3 L628.5,258.0 L628.9,257.4 L629.3,258.2 L629.7,258.7 L630.1,258.5 L630.5,258.4 L630.9,258.8 L631.3,258.5 L631.7,257.8 L632.1,258.7 L632.5,258.8 L632.9,259.7 L633.3,258.6 L633.7,257.9 L634.1,259.3 L634.5,259.1 L634.9,258.3 L635.3,257.9 L635.7,259.7 L636.1,257.7 L636.5,258.4 L636.9,259.0 L637.3,258.2 L637.7,258.7 L638.1,259.2 L638.5,258.6 L638.9,258.1 L639.3,258.6 L639.7,258.9 L640.1,259.7 L640.5,258.4 L640.9,260.0 L641.3,258.5 L641.7,260.0 L642.1,260.5 L642.5,260.0 L642.9,259.1 L643.3,260.3 L643.7,260.0 L644.1,259.6 L644.5,259.2 L644.9,259.1 L645.3,259.3 L645.7,260.8 L646.1,259.7 L646.5,259.7 L646.9,259.1 L647.3,259.7 L647.7,259.3 L648.1,259.1 L648.5,259.6 L648.9,259.3 L649.3,259.7 L649.7,259.5 L650.1,259.2 L650.5,260.0 L650.9,260.0 L651.3,258.0 L651.7,259.6 L652.1,259.6 L652.5,259.6 L652.9,260.6 L653.3,259.9 L653.7,259.6 L654.1,259.4 L654.5,260.3 L654.9,258.9 L655.3,259.7 L655.7,259.6 L656.1,259.7 L656.5,259.8 L656.9,259.3 L657.3,259.3 L657.7,260.0 L658.1,259.6 L658.5,261.0 L658.9,260.3 L659.3,259.5 L659.7,260.5 L660.1,260.1 L660.5,260.4 L660.9,261.2 L661.3,260.8 L661.7,259.7 L662.1,260.6 L662.5,260.1 L662.9,261.0 L663.3,260.3 L663.7,259.4 L664.1,258.3 L664.5,260.0 L664.9,259.9 L665.3,260.0 L665.7,261.8 L666.1,260.6 L666.5,261.0 L666.9,259.9 L667.3,260.9 L667.7,260.2 L668.1,259.6 L668.5,260.4 L668.9,260.6 L669.3,260.0 L669.7,261.5 L670.1,260.7 L670.5,259.8 L670.9,259.2 L671.3,261.2 L671.7,261.2 L672.1,261.1 L672.5,260.2 L672.9,260.2 L673.3,261.2 L673.7,260.6 L674.1,260.8 L674.5,261.3 L674.9,261.5 L675.3,260.4 L675.7,260.8 L676.1,261.1 L676.5,260.6 L676.9,261.5 L677.3,260.3 L677.7,261.3 L678.1,260.7 L678.5,261.8 L678.9,261.1 L679.3,260.7 L679.7,260.9 L680.1,260.3 L680.5,261.5 L680.9,261.0 L681.3,261.0 L681.7,261.4 L682.1,261.5 L682.5,260.9 L682.9,260.5 L683.3,261.8 L683.7,261.4 L684.1,261.3 L684.5,261.7 L684.9,261.0 L685.3,262.1 L685.7,261.1 L686.1,261.1 L686.5,261.3 L686.9,261.0 L687.3,261.1 L687.7,261.2 L688.1,260.7 L688.5,261.3 L688.9,261.1 L689.3,262.1 L689.7,260.7 L690.1,260.3 L690.5,260.0 L690.9,260.4 L691.3,259.8 L691.7,258.2 L692.1,257.4 L692.5,252.5 L692.9,247.7 L693.3,243.2 L693.7,244.5 L694.1,249.5 L694.5,255.6 L694.9,258.3 L695.3,259.3 L695.7,260.1 L696.1,260.4 L696.5,260.8 L696.9,261.4 L697.3,261.6 L697.7,261.5 L698.1,261.1 L698.5,260.5 L698.9,260.5 L699.3,261.6 L699.7,260.7 L700.1,261.3 L700.5,262.3 L700.9,261.9 L701.3,261.7 L701.7,261.8 L702.1,262.1 L702.5,262.1 L702.9,261.2 L703.3,261.1 L703.7,261.3 L704.1,261.8 L704.5,263.1 L704.9,262.0 L705.3,261.9 L705.7,262.5 L706.1,262.4 L706.5,261.5 L706.9,260.7 L707.3,263.4 L707.7,261.7 L708.1,261.6 L708.5,262.6 L708.9,261.4 L709.3,261.8 L709.7,261.1 L710.1,262.5 L710.5,261.6 L710.9,262.1 L711.3,262.5 L711.7,261.9 L712.1,263.3 L712.5,262.0 L712.9,261.1 L713.3,262.5 L713.7,262.5 L714.1,262.6 L714.5,261.7 L714.9,261.8 L715.3,262.0 L715.7,262.6 L716.1,262.0 L716.5,262.8 L716.9,262.6 L717.3,262.5 L717.7,261.7 L718.1,261.0 L718.5,262.2 L718.9,262.9 L719.3,262.6 L719.7,261.6 L720.1,262.6 L720.5,262.2 L720.9,262.5 L721.3,261.5 L721.7,261.6 L722.1,262.1 L722.5,262.9 L722.9,262.0 L723.3,262.3 L723.7,263.0 L724.1,262.0 L724.5,262.0 L724.9,261.9 L725.3,262.9 L725.7,262.0 L726.1,261.5 L726.5,261.9 L726.9,262.4 L727.3,262.4 L727.7,262.6 L728.1,263.0 L728.5,262.5 L728.9,262.1 L729.3,261.3 L729.7,262.5 L730.1,262.8 L730.5,262.6 L730.9,262.7 L731.3,262.0 L731.7,262.7 L732.1,261.4 L732.5,261.6 L732.9,261.4 L733.3,262.9 L733.7,262.8 L734.1,262.8 L734.5,263.4 L734.9,261.8 L735.3,262.6 L735.7,262.2 L736.1,262.1 L736.5,262.9 L736.9,262.3 L737.3,261.9 L737.7,262.9 L738.1,262.2 L738.5,262.4 L738.9,262.9 L739.3,262.3 L739.7,262.3 L740.1,262.7 L740.5,263.4 L740.9,261.6 L741.3,263.4 L741.7,263.0 L742.1,262.7 L742.5,262.8 L742.9,261.8 L743.3,262.7 L743.7,263.0 L744.1,262.5 L744.5,261.6 L744.9,262.2 L745.3,261.6 L745.7,261.7 L746.1,261.7 L746.5,262.8 L746.9,263.1 L747.3,262.1 L747.7,262.8 L748.1,261.8 L748.5,261.8 L748.9,262.6 L749.3,263.0 L749.7,262.3 L750.1,260.0 L750.5,260.9 L750.9,260.8 L751.3,260.1 L751.7,258.4 L752.1,258.5 L752.5,252.0 L752.9,244.4 L753.3,228.6 L753.7,214.4 L754.1,221.6 L754.5,238.3 L754.9,250.2 L755.3,254.8 L755.7,257.7 L756.1,259.8 L756.5,259.7 L756.9,261.1 L757.3,261.0 L757.7,260.9 L758.1,261.8 L758.5,261.5 L758.9,263.0 L759.3,262.2 L759.7,263.1 L760.1,261.8 L760.5,262.9 L760.9,262.3 L761.3,262.8 L761.7,262.1 L762.1,263.0 L762.5,263.6 L762.9,262.0 L763.3,261.9 L763.7,263.5 L764.1,261.8 L764.5,262.2 L764.9,261.9 L765.3,261.4 L765.7,261.9 L766.1,262.0 L766.5,260.7 L766.9,262.4 L767.3,261.6 L767.7,259.7 L768.1,260.6 L768.5,260.9 L768.9,257.6 L769.3,254.7 L769.7,248.3 L770.1,233.4 L770.5,224.8 L770.9,232.3 L771.3,245.7 L771.7,252.8 L772.1,258.0 L772.5,259.4 L772.9,261.4 L773.3,261.8 L773.7,261.3 L774.1,261.8 L774.5,261.6 L774.9,262.0 L775.3,262.2 L775.7,262.5 L776.1,262.4 L776.5,262.2 L776.9,262.7 L777.3,262.4 L777.7,262.7 L778.1,262.3 L778.5,263.5 L778.9,263.5 L779.3,263.5 L779.7,262.3 L780.1,263.0 L780.5,262.7 L780.9,262.9 L781.3,263.2 L781.7,263.4 L782.1,262.5 L782.5,263.6 L782.9,263.7 L783.3,263.6 L783.7,262.6 L784.1,263.1 L784.5,263.0 L784.9,262.6 L785.3,262.6 L785.7,263.0 L786.1,262.5 L786.5,262.3 L786.9,262.9 L787.3,263.0 L787.7,263.5 L788.1,263.9 L788.5,262.3 L788.9,263.2 L789.3,263.4 L789.7,262.5 L790.1,262.8 L790.5,263.0 L790.9,262.8 L791.3,263.3 L791.7,263.8 L792.1,263.9 L792.5,262.6 L792.9,262.4 L793.3,262.9 L793.7,262.1 L794.1,262.0 L794.5,262.4 L794.9,261.5 L795.3,262.9 L795.7,262.1 L796.1,262.6 L796.5,262.3 L796.9,262.9 L797.3,262.4 L797.7,261.9 L798.1,262.6 L798.5,263.2 L798.9,262.1 L799.3,263.3 L799.7,263.9 L800.1,262.8 L800.5,263.4 L800.9,262.7 L801.3,263.4 L801.7,262.7 L802.1,261.5 L802.5,262.3 L802.9,263.0 L803.3,261.9 L803.7,261.0 L804.1,260.3 L804.5,257.4 L804.9,256.3 L805.3,252.6 L805.7,254.1 L806.1,256.8 L806.5,259.0 L806.9,260.1 L807.3,261.8 L807.7,262.2 L808.1,262.5 L808.5,261.7 L808.9,262.8 L809.3,262.8 L809.7,263.0 L810.1,263.0 L810.5,262.7 L810.9,262.4 L811.3,263.3 L811.7,262.6 L812.1,262.7 L812.5,263.2 L812.9,264.1 L813.3,263.5 L813.7,263.8 L814.1,263.1 L814.5,263.1 L814.9,263.5 L815.3,263.4 L815.7,263.4 L816.1,263.5 L816.5,263.1 L816.9,263.3 L817.3,263.3 L817.7,264.2 L818.1,263.3 L818.5,263.4 L818.9,263.7 L819.3,263.7 L819.7,263.7 L820.1,262.3 L820.5,263.1 L820.9,263.0 L821.3,263.0 L821.7,263.1 L822.1,263.3 L822.5,262.9 L822.9,262.3 L823.3,262.3 L823.7,261.6 L824.1,262.0 L824.5,263.4 L824.9,262.9 L825.3,262.2 L825.7,262.9 L826.1,263.3 L826.5,263.4 L826.9,262.6 L827.3,263.1 L827.7,264.1 L828.1,265.0 L828.5,263.4 L828.9,262.8 L829.3,263.0 L829.7,263.0 L830.1,263.3 L830.5,264.0 L830.9,264.4 L831.3,262.4 L831.7,263.4 L832.1,263.7 L832.5,263.4 L832.9,263.4 L833.3,263.4 L833.7,264.3 L834.1,263.7 L834.5,263.2 L834.9,264.5 L835.3,264.0 L835.7,262.8 L836.1,262.9 L836.5,263.6 L836.9,263.8 L837.3,262.9 L837.7,264.2 L838.1,263.8 L838.5,264.0 L838.9,262.8 L839.3,262.7 L839.7,263.7 L840.1,263.5 L840.5,264.0 L840.9,263.1 L841.3,263.8 L841.7,262.2 L842.1,263.0 L842.5,263.8 L842.9,262.7 L843.3,263.0 L843.7,263.4 L844.1,263.9 L844.5,264.2 L844.9,263.1 L845.3,263.1 L845.7,264.5 L846.1,264.9 L846.5,263.4 L846.9,263.4 L847.3,264.0 L847.7,264.1 L848.1,262.9 L848.5,264.4 L848.9,262.8 L849.3,263.4 L849.7,262.5 L850.1,264.2 L850.5,264.0 L850.9,264.0 L851.3,263.1 L851.7,263.8 L852.1,262.8 L852.5,263.7 L852.9,264.4 L853.3,263.9 L853.7,263.1 L854.1,264.3 L854.5,263.2 L854.9,263.4 L855.3,264.0 L855.7,262.8 L856.1,263.6 L856.5,263.5 L856.9,262.8 L857.3,263.3 L857.7,263.4 L858.1,263.4 L858.5,263.2 L858.9,263.6 L859.3,263.1 L859.7,262.4 L860.1,262.3 L860.5,262.2 L860.9,260.5 L861.3,260.1 L861.7,257.5 L862.1,254.5 L862.5,249.8 L862.9,248.0 L863.3,247.0 L863.7,251.1 L864.1,254.8 L864.5,258.6 L864.9,260.0 L865.3,261.7 L865.7,261.8 L866.1,262.1 L866.5,263.1 L866.9,262.4 L867.3,262.0 L867.7,261.9 L868.1,263.7 L868.5,263.5 L868.9,263.1 L869.3,263.9 L869.7,264.2 L870.1,263.6 L870.5,263.2 L870.9,265.0 L871.3,263.2 L871.7,263.8 L872.1,263.2 L872.5,262.5 L872.9,263.5 L873.3,263.4 L873.7,264.0 L874.1,263.6 L874.5,263.4 L874.9,264.3 L875.3,263.4 L875.7,263.0 L876.1,263.1 L876.5,263.0 L876.9,263.0 L877.3,263.9 L877.7,263.4 L878.1,263.9 L878.5,263.8 L878.9,262.8 L879.3,263.5 L879.7,263.2 L880.1,263.3 L880.5,264.4 L880.9,264.6 L881.3,264.1 L881.7,262.6 L882.1,264.2 L882.5,264.1 L882.9,264.4 L883.3,263.4 L883.7,262.8 L884.1,263.0 L884.5,264.2 L884.9,264.4 L885.3,264.2 L885.7,263.3 L886.1,263.8 L886.5,264.0 L886.9,263.2 L887.3,264.0 L887.7,263.3 L888.1,263.4 L888.5,262.9 L888.9,263.8 L889.3,262.7 L889.7,263.3 L890.1,262.4 L890.5,262.0 L890.9,262.1 L891.3,262.3 L891.7,261.0 L892.1,259.7 L892.5,257.7 L892.9,254.5 L893.3,249.9 L893.7,246.2 L894.1,245.6 L894.5,250.2 L894.9,252.8 L895.3,256.4 L895.7,259.6 L896.1,261.0 L896.5,261.5 L896.9,262.7 L897.3,262.0 L897.7,262.4 L898.1,263.6 L898.5,262.5 L898.9,263.8 L899.3,263.4 L899.7,263.6 L900.1,263.5 L900.5,263.8 L900.9,264.0 L901.3,262.9 L901.7,262.9 L902.1,264.1 L902.5,263.6 L902.9,263.2 L903.3,264.4 L903.7,263.3 L904.1,264.0 L904.5,263.5 L904.9,264.0 L905.3,263.0 L905.7,263.1 L906.1,264.3 L906.5,263.2 L906.9,264.5 L907.3,264.8 L907.7,263.5 L908.1,263.9 L908.5,264.2 L908.9,263.6 L909.3,264.2 L909.7,263.4 L910.1,263.4 L910.5,264.6 L910.9,264.3 L911.3,263.5 L911.7,263.4 L912.1,263.8 L912.5,264.1 L912.9,263.9 L913.3,264.0 L913.7,263.2 L914.1,263.3 L914.5,263.1 L914.9,263.7 L915.3,263.0 L915.7,261.7 L916.1,261.5 L916.5,261.1 L916.9,260.3 L917.3,259.9 L917.7,260.4 L918.1,260.5 L918.5,261.1 L918.9,262.6 L919.3,261.9 L919.7,263.1 L920.1,263.1 L920.5,263.2 L920.9,263.3 L921.3,263.8 L921.7,264.2 L922.1,263.5 L922.5,263.8 L922.9,264.1 L923.3,263.7 L923.7,263.4 L924.1,263.8 L924.5,264.7 L924.9,263.2 L925.3,263.7 L925.7,263.5 L926.1,264.0 L926.5,263.3 L926.9,264.2 L927.3,263.0 L927.7,264.7 L928.1,263.8 L928.5,264.6 L928.9,263.6 L929.3,263.7 L929.7,264.1 L930.1,264.1 L930.5,263.8 L930.9,264.6 L931.3,263.9 L931.7,263.8 L932.1,263.8 L932.5,263.7 L932.9,264.9 L933.3,264.1 L933.7,264.3 L934.1,263.5 L934.5,263.6 L934.9,263.8 L935.3,263.5 L935.7,264.3 L936.1,264.3 L936.5,264.5 L936.9,263.4 L937.3,265.1 L937.7,264.3 L938.1,264.3 L938.5,264.4 L938.9,264.2 L939.3,264.1 L939.7,264.0 L940.1,264.6 L940.5,263.4 L940.9,262.5 L941.3,263.3 L941.7,263.5 L942.1,263.7 L942.5,264.4 L942.9,263.7 L943.3,263.5 L943.7,264.8 L944.1,264.3 L944.5,264.2 L944.9,263.5 L945.3,264.0 L945.7,264.2 L946.1,262.8 L946.5,262.9 L946.9,262.5 L947.3,263.2 L947.7,262.2 L948.1,261.5 L948.5,260.1 L948.9,259.5 L949.3,257.2 L949.7,255.2 L950.1,254.1 L950.5,253.8 L950.9,255.8 L951.3,257.6 L951.7,259.4 L952.1,260.9 L952.5,261.7 L952.9,263.0 L953.3,262.9 L953.7,262.8 L954.1,262.4 L954.5,263.6 L954.9,262.6 L955.3,263.6 L955.7,263.6 L956.1,262.7 L956.5,262.6 L956.9,263.0 L957.3,263.3 L957.7,262.2 L958.1,261.8 L958.5,261.3 L958.9,260.9 L959.3,259.8 L959.7,257.9 L960.1,255.6 L960.5,251.8 L960.9,250.7 L961.3,252.2 L961.7,254.6 L962.1,256.7 L962.5,258.1 L962.9,259.7 L963.3,260.5 L963.7,262.6 L964.1,262.7 L964.5,263.2 L964.9,263.3 L965.3,263.3 L965.7,263.6 L966.1,264.5 L966.5,264.6 L966.9,263.9 L967.3,264.1 L967.7,263.9 L968.1,264.2 L968.5,263.8 L968.9,264.6 L969.3,264.3 L969.7,264.5 L970.1,263.5 L970.5,263.8 L970.9,264.3 L971.3,265.2 L971.7,263.4 L972.1,264.0 L972.5,264.2 L972.9,263.8 L973.3,264.4 L973.7,264.1 L974.1,264.4 L974.5,264.4 L974.9,263.6 L975.3,264.5 L975.7,263.7 L976.1,264.9 L976.5,264.1 L976.9,264.6 L977.3,264.9 L977.7,264.9 L978.1,263.9 L978.5,263.8 L978.9,264.4 L979.3,264.2 L979.7,264.5 L980.1,264.5 L980.5,264.3 L980.9,265.3 L981.3,263.2 L981.7,264.0 L982.1,264.9 L982.5,264.0 L982.9,264.9 L983.3,263.9 L983.7,264.8 L984.1,265.4 L984.5,264.3 L984.9,265.0 L985.3,263.8 L985.7,264.5 L986.1,264.1 L986.5,265.1 L986.9,264.6 L987.3,264.5 L987.7,263.5 L988.1,264.8 L988.5,264.9 L988.9,264.9 L989.3,264.7 L989.7,264.7 L990.1,264.5 L990.5,265.4 L990.9,264.5 L991.3,264.7 L991.7,264.3 L992.1,265.4 L992.5,264.8 L992.9,264.5 L993.3,263.8 L993.7,263.5 L994.1,264.6 L994.5,264.3 L994.9,265.0 L995.3,263.8 L995.7,263.8 L996.1,264.3 L996.5,263.8 L996.9,263.8 L997.3,263.2 L997.7,263.2 L998.1,264.3 L998.5,264.2 L998.9,264.4 L999.3,263.5 L999.7,263.9 L1000.1,264.4 L1000.5,264.2 L1000.9,263.9 L1001.3,264.4 L1001.7,264.6 L1002.1,264.3 L1002.5,265.0 L1002.9,265.0 L1003.3,264.9 L1003.7,264.7 L1004.1,264.1 L1004.5,263.3 L1004.9,265.6 L1005.3,264.5 L1005.7,265.0 L1006.1,264.9 L1006.5,265.2 L1006.9,264.7 L1007.3,264.4 L1007.7,264.3 L1008.1,263.7 L1008.5,264.0 L1008.9,264.2 L1009.3,263.6 L1009.7,264.5 L1010.1,264.1 L1010.5,264.0 L1010.9,263.3 L1011.3,263.4 L1011.7,263.4 L1012.1,262.8 L1012.5,263.0 L1012.9,261.6 L1013.3,261.2 L1013.7,261.7 L1014.1,261.8 L1014.5,261.9 L1014.9,261.9 L1015.3,262.5 L1015.7,263.3 L1016.1,263.6 L1016.5,262.8 L1016.9,263.7 L1017.3,264.3 L1017.7,263.8 L1018.1,264.0 L1018.5,264.3 L1018.9,264.8 L1019.3,264.2 L1019.7,264.8 L1020.1,264.4 L1020.5,263.6 L1020.9,263.9 L1021.3,263.6 L1021.7,264.9 L1022.1,263.9 L1022.5,265.6 L1022.9,264.9 L1023.3,264.3 L1023.7,264.6 L1024.1,265.0 L1024.5,265.3 L1024.9,264.1 L1025.3,264.6 L1025.7,264.8 L1026.1,265.0 L1026.5,264.5 L1026.9,264.3 L1027.3,265.1 L1027.7,263.2 L1028.1,265.6 L1028.5,265.1 L1028.9,265.1 L1029.3,264.2 L1029.7,264.0 L1030.1,264.6 L1030.5,264.4 L1030.9,264.1 L1031.3,264.4 L1031.7,264.9 L1032.1,264.0 L1032.5,264.1 L1032.9,264.4 L1033.3,264.1 L1033.7,264.3 L1034.1,264.7 L1034.5,263.9 L1034.9,264.2 L1035.3,264.5 L1035.7,263.5 L1036.1,263.2 L1036.5,263.2 L1036.9,264.4 L1037.3,261.6 L1037.7,263.0 L1038.1,262.2 L1038.5,262.9 L1038.9,263.1 L1039.3,264.1 L1039.7,264.1 L1040.1,264.5 L1040.5,264.3 L1040.9,265.1 L1041.3,265.0 L1041.7,263.8 L1042.1,264.0 L1042.5,264.3 L1042.9,264.9 L1043.3,265.3 L1043.7,264.3 L1044.1,265.0 L1044.5,265.1 L1044.9,265.6 L1045.3,264.4 L1045.7,265.5 L1046.1,264.8 L1046.5,264.8 L1046.9,264.7 L1047.3,264.7 L1047.7,264.6 L1048.1,265.9 L1048.5,263.6 L1048.9,264.4 L1049.3,264.5 L1049.7,265.3 L1050.1,264.4 L1050.5,265.8 L1050.9,265.0 L1051.3,265.6 L1051.7,265.5 L1052.1,264.8 L1052.5,264.8 L1052.9,264.9 L1053.3,264.9 L1053.7,265.4 L1054.1,265.2 L1054.5,264.7 L1054.9,264.1 L1055.3,265.0 L1055.7,266.0 L1056.1,264.7 L1056.5,265.0 L1056.9,264.3 L1057.3,264.0 L1057.7,265.1 L1058.1,264.3 L1058.5,265.5 L1058.9,265.1 L1059.3,264.5 L1059.7,265.1 L1060.1,265.1 L1060.5,265.3 L1060.9,264.3 L1061.3,265.1 L1061.7,264.7 L1062.1,265.2 L1062.5,265.6 L1062.9,264.2 L1063.3,265.0 L1063.7,264.4 L1064.1,264.7 L1064.5,265.6 L1064.9,264.8 L1065.3,264.8 L1065.7,265.3 L1066.1,264.7 L1066.5,264.7 L1066.9,264.6 L1067.3,264.4 L1067.7,264.9 L1068.1,264.6" fill="none" stroke="#d31f26" stroke-width="1.9" stroke-linejoin="round"/>
<path d="M598.9,295.8 L599.3,294.7 L599.7,295.4 L600.1,295.8 L600.5,295.0 L600.9,295.4 L601.3,295.3 L601.7,296.2 L602.1,295.4 L602.5,296.0 L602.9,295.4 L603.3,296.3 L603.7,295.4 L604.1,295.3 L604.5,295.8 L604.9,297.3 L605.3,295.9 L605.7,295.2 L606.1,295.4 L606.5,297.8 L606.9,296.0 L607.3,296.1 L607.7,296.4 L608.1,297.3 L608.5,296.7 L608.9,296.7 L609.3,296.4 L609.7,296.0 L610.1,296.4 L610.5,296.2 L610.9,295.5 L611.3,294.8 L611.7,297.3 L612.1,297.2 L612.5,296.9 L612.9,296.9 L613.3,296.7 L613.7,295.9 L614.1,295.8 L614.5,296.1 L614.9,296.2 L615.3,296.1 L615.7,295.8 L616.1,297.1 L616.5,297.1 L616.9,297.7 L617.3,297.8 L617.7,296.4 L618.1,297.1 L618.5,296.8 L618.9,297.0 L619.3,298.2 L619.7,298.0 L620.1,297.2 L620.5,297.6 L620.9,297.3 L621.3,296.9 L621.7,296.8 L622.1,296.5 L622.5,298.0 L622.9,296.4 L623.3,296.8 L623.7,297.0 L624.1,296.5 L624.5,298.1 L624.9,297.5 L625.3,295.7 L625.7,296.5 L626.1,297.8 L626.5,296.9 L626.9,297.3 L627.3,297.4 L627.7,297.4 L628.1,296.9 L628.5,297.3 L628.9,297.4 L629.3,296.8 L629.7,297.6 L630.1,297.5 L630.5,297.6 L630.9,297.9 L631.3,297.4 L631.7,296.8 L632.1,298.1 L632.5,297.8 L632.9,296.9 L633.3,296.9 L633.7,297.8 L634.1,298.0 L634.5,296.6 L634.9,297.4 L635.3,297.3 L635.7,297.5 L636.1,298.0 L636.5,298.8 L636.9,297.2 L637.3,298.7 L637.7,298.4 L638.1,299.2 L638.5,297.8 L638.9,298.0 L639.3,298.5 L639.7,298.1 L640.1,299.0 L640.5,298.2 L640.9,298.6 L641.3,298.3 L641.7,297.5 L642.1,298.5 L642.5,297.7 L642.9,298.0 L643.3,297.9 L643.7,298.4 L644.1,297.2 L644.5,298.8 L644.9,298.6 L645.3,298.2 L645.7,297.5 L646.1,297.4 L646.5,297.9 L646.9,297.6 L647.3,298.1 L647.7,298.4 L648.1,298.5 L648.5,298.2 L648.9,297.6 L649.3,299.3 L649.7,299.4 L650.1,297.7 L650.5,298.0 L650.9,299.7 L651.3,299.2 L651.7,298.4 L652.1,298.8 L652.5,297.5 L652.9,298.3 L653.3,299.1 L653.7,297.2 L654.1,298.7 L654.5,297.8 L654.9,299.5 L655.3,297.7 L655.7,297.7 L656.1,298.1 L656.5,298.1 L656.9,298.6 L657.3,299.3 L657.7,297.7 L658.1,298.3 L658.5,298.8 L658.9,297.9 L659.3,299.0 L659.7,298.9 L660.1,298.9 L660.5,298.6 L660.9,299.1 L661.3,299.5 L661.7,298.6 L662.1,299.4 L662.5,298.8 L662.9,297.7 L663.3,299.5 L663.7,299.0 L664.1,299.6 L664.5,298.5 L664.9,298.8 L665.3,298.5 L665.7,298.0 L666.1,299.0 L666.5,299.8 L666.9,299.0 L667.3,298.7 L667.7,298.5 L668.1,298.1 L668.5,299.1 L668.9,299.3 L669.3,298.7 L669.7,298.7 L670.1,298.6 L670.5,298.4 L670.9,299.8 L671.3,299.4 L671.7,299.0 L672.1,298.3 L672.5,298.7 L672.9,299.6 L673.3,299.6 L673.7,300.6 L674.1,299.6 L674.5,299.1 L674.9,299.1 L675.3,298.0 L675.7,299.6 L676.1,298.1 L676.5,299.0 L676.9,298.9 L677.3,299.4 L677.7,299.5 L678.1,299.6 L678.5,299.6 L678.9,299.2 L679.3,299.6 L679.7,299.4 L680.1,298.7 L680.5,299.6 L680.9,299.0 L681.3,299.5 L681.7,299.7 L682.1,299.0 L682.5,298.7 L682.9,299.8 L683.3,299.1 L683.7,299.2 L684.1,299.8 L684.5,298.9 L684.9,299.3 L685.3,299.5 L685.7,298.7 L686.1,298.8 L686.5,299.2 L686.9,299.8 L687.3,298.3 L687.7,299.6 L688.1,299.7 L688.5,298.9 L688.9,299.1 L689.3,298.2 L689.7,299.6 L690.1,298.7 L690.5,299.2 L690.9,298.2 L691.3,299.4 L691.7,298.3 L692.1,298.2 L692.5,298.1 L692.9,296.5 L693.3,293.7 L693.7,291.1 L694.1,289.5 L694.5,290.9 L694.9,294.1 L695.3,296.2 L695.7,297.5 L696.1,298.3 L696.5,298.2 L696.9,299.2 L697.3,299.4 L697.7,298.9 L698.1,299.0 L698.5,299.1 L698.9,299.0 L699.3,299.6 L699.7,299.9 L700.1,299.8 L700.5,300.0 L700.9,299.1 L701.3,300.1 L701.7,299.5 L702.1,299.7 L702.5,299.3 L702.9,299.2 L703.3,299.5 L703.7,299.2 L704.1,299.2 L704.5,298.9 L704.9,300.3 L705.3,300.6 L705.7,299.8 L706.1,299.0 L706.5,299.9 L706.9,300.7 L707.3,299.2 L707.7,300.7 L708.1,300.1 L708.5,298.6 L708.9,300.2 L709.3,300.0 L709.7,299.7 L710.1,299.1 L710.5,299.6 L710.9,300.9 L711.3,299.6 L711.7,299.1 L712.1,300.2 L712.5,300.0 L712.9,299.6 L713.3,300.3 L713.7,299.6 L714.1,299.8 L714.5,299.5 L714.9,300.6 L715.3,300.0 L715.7,299.5 L716.1,300.9 L716.5,300.3 L716.9,300.0 L717.3,300.5 L717.7,299.6 L718.1,300.0 L718.5,299.9 L718.9,300.6 L719.3,300.0 L719.7,300.4 L720.1,300.2 L720.5,300.2 L720.9,299.8 L721.3,300.4 L721.7,299.1 L722.1,299.8 L722.5,299.2 L722.9,300.6 L723.3,300.7 L723.7,299.6 L724.1,300.4 L724.5,299.8 L724.9,300.8 L725.3,300.0 L725.7,301.4 L726.1,300.8 L726.5,300.9 L726.9,300.0 L727.3,299.3 L727.7,300.0 L728.1,300.2 L728.5,300.2 L728.9,300.0 L729.3,300.0 L729.7,299.9 L730.1,301.5 L730.5,300.1 L730.9,300.1 L731.3,298.8 L731.7,300.8 L732.1,300.3 L732.5,300.1 L732.9,300.0 L733.3,300.0 L733.7,301.1 L734.1,300.2 L734.5,301.4 L734.9,301.1 L735.3,300.4 L735.7,299.8 L736.1,301.0 L736.5,300.4 L736.9,300.3 L737.3,300.8 L737.7,301.4 L738.1,299.3 L738.5,299.8 L738.9,300.0 L739.3,301.2 L739.7,300.3 L740.1,301.1 L740.5,301.4 L740.9,300.2 L741.3,300.5 L741.7,300.6 L742.1,300.8 L742.5,300.5 L742.9,300.7 L743.3,299.5 L743.7,300.1 L744.1,299.8 L744.5,301.0 L744.9,300.2 L745.3,300.0 L745.7,300.4 L746.1,300.9 L746.5,301.3 L746.9,299.9 L747.3,300.3 L747.7,301.0 L748.1,300.1 L748.5,301.1 L748.9,300.2 L749.3,301.0 L749.7,300.7 L750.1,300.2 L750.5,299.7 L750.9,299.1 L751.3,299.4 L751.7,300.2 L752.1,297.9 L752.5,297.9 L752.9,295.9 L753.3,292.5 L753.7,284.2 L754.1,272.1 L754.5,265.0 L754.9,275.5 L755.3,286.2 L755.7,292.9 L756.1,297.4 L756.5,297.9 L756.9,299.0 L757.3,298.8 L757.7,299.2 L758.1,300.0 L758.5,299.6 L758.9,300.0 L759.3,299.8 L759.7,300.3 L760.1,300.0 L760.5,300.6 L760.9,299.5 L761.3,300.8 L761.7,300.8 L762.1,300.6 L762.5,301.7 L762.9,300.9 L763.3,301.4 L763.7,301.2 L764.1,300.7 L764.5,300.3 L764.9,300.4 L765.3,300.6 L765.7,300.2 L766.1,300.6 L766.5,300.6 L766.9,300.0 L767.3,300.5 L767.7,299.8 L768.1,300.8 L768.5,299.2 L768.9,299.4 L769.3,298.2 L769.7,295.5 L770.1,293.1 L770.5,286.9 L770.9,276.7 L771.3,273.6 L771.7,281.1 L772.1,290.6 L772.5,295.5 L772.9,297.8 L773.3,298.9 L773.7,299.8 L774.1,300.2 L774.5,299.7 L774.9,300.4 L775.3,300.3 L775.7,300.7 L776.1,300.6 L776.5,301.1 L776.9,300.2 L777.3,300.5 L777.7,301.6 L778.1,301.1 L778.5,301.7 L778.9,301.4 L779.3,301.0 L779.7,301.7 L780.1,301.2 L780.5,301.0 L780.9,301.9 L781.3,300.8 L781.7,301.8 L782.1,301.4 L782.5,300.6 L782.9,301.3 L783.3,300.7 L783.7,300.9 L784.1,301.3 L784.5,301.9 L784.9,300.4 L785.3,301.7 L785.7,301.5 L786.1,301.6 L786.5,301.6 L786.9,302.1 L787.3,301.9 L787.7,301.4 L788.1,300.2 L788.5,301.2 L788.9,301.4 L789.3,301.3 L789.7,300.9 L790.1,301.9 L790.5,301.2 L790.9,300.7 L791.3,301.5 L791.7,300.5 L792.1,301.3 L792.5,301.2 L792.9,301.0 L793.3,301.2 L793.7,300.4 L794.1,300.3 L794.5,300.1 L794.9,300.3 L795.3,299.3 L795.7,300.1 L796.1,301.0 L796.5,301.4 L796.9,300.7 L797.3,301.5 L797.7,301.0 L798.1,301.1 L798.5,301.4 L798.9,301.2 L799.3,300.5 L799.7,301.1 L800.1,301.0 L800.5,301.2 L800.9,301.1 L801.3,301.4 L801.7,301.0 L802.1,301.3 L802.5,300.8 L802.9,300.7 L803.3,300.6 L803.7,300.1 L804.1,300.0 L804.5,300.1 L804.9,299.0 L805.3,296.5 L805.7,295.2 L806.1,293.5 L806.5,294.8 L806.9,296.4 L807.3,298.2 L807.7,299.5 L808.1,300.7 L808.5,300.5 L808.9,301.2 L809.3,301.0 L809.7,301.5 L810.1,301.9 L810.5,301.3 L810.9,300.7 L811.3,301.4 L811.7,301.2 L812.1,301.7 L812.5,301.6 L812.9,300.9 L813.3,301.4 L813.7,301.8 L814.1,302.0 L814.5,301.7 L814.9,301.5 L815.3,301.5 L815.7,302.4 L816.1,301.2 L816.5,302.0 L816.9,301.5 L817.3,301.9 L817.7,301.6 L818.1,302.1 L818.5,300.9 L818.9,301.4 L819.3,302.3 L819.7,301.7 L820.1,301.1 L820.5,301.9 L820.9,301.4 L821.3,302.2 L821.7,301.0 L822.1,301.7 L822.5,301.3 L822.9,300.8 L823.3,300.3 L823.7,301.3 L824.1,301.5 L824.5,300.8 L824.9,299.9 L825.3,301.3 L825.7,302.8 L826.1,300.6 L826.5,300.5 L826.9,301.6 L827.3,301.7 L827.7,301.5 L828.1,301.9 L828.5,302.5 L828.9,301.0 L829.3,302.7 L829.7,302.5 L830.1,302.9 L830.5,301.6 L830.9,301.9 L831.3,301.3 L831.7,301.7 L832.1,301.8 L832.5,300.9 L832.9,301.3 L833.3,302.1 L833.7,301.4 L834.1,302.0 L834.5,302.4 L834.9,301.9 L835.3,301.3 L835.7,301.3 L836.1,301.7 L836.5,302.0 L836.9,302.5 L837.3,301.9 L837.7,301.9 L838.1,301.9 L838.5,303.1 L838.9,302.6 L839.3,302.0 L839.7,300.4 L840.1,302.8 L840.5,302.4 L840.9,302.0 L841.3,301.4 L841.7,302.4 L842.1,303.0 L842.5,301.0 L842.9,302.4 L843.3,301.9 L843.7,302.3 L844.1,301.2 L844.5,302.2 L844.9,301.7 L845.3,301.6 L845.7,303.0 L846.1,301.5 L846.5,302.0 L846.9,303.1 L847.3,302.2 L847.7,301.7 L848.1,301.2 L848.5,300.8 L848.9,301.7 L849.3,301.1 L849.7,301.9 L850.1,302.2 L850.5,302.2 L850.9,301.1 L851.3,301.7 L851.7,301.8 L852.1,302.4 L852.5,301.6 L852.9,301.8 L853.3,301.1 L853.7,302.1 L854.1,301.9 L854.5,301.6 L854.9,301.8 L855.3,301.6 L855.7,302.4 L856.1,302.3 L856.5,301.5 L856.9,301.6 L857.3,301.6 L857.7,302.9 L858.1,301.9 L858.5,301.5 L858.9,301.5 L859.3,300.7 L859.7,301.3 L860.1,301.1 L860.5,300.7 L860.9,300.7 L861.3,300.5 L861.7,299.0 L862.1,298.4 L862.5,295.6 L862.9,294.2 L863.3,290.3 L863.7,287.1 L864.1,289.3 L864.5,292.4 L864.9,296.9 L865.3,298.0 L865.7,299.9 L866.1,300.4 L866.5,301.7 L866.9,301.3 L867.3,300.8 L867.7,301.5 L868.1,301.2 L868.5,301.5 L868.9,301.4 L869.3,301.7 L869.7,302.6 L870.1,302.2 L870.5,301.7 L870.9,301.7 L871.3,302.2 L871.7,302.2 L872.1,302.4 L872.5,302.1 L872.9,301.8 L873.3,302.5 L873.7,302.0 L874.1,302.9 L874.5,302.4 L874.9,303.5 L875.3,302.1 L875.7,301.6 L876.1,302.1 L876.5,302.2 L876.9,302.2 L877.3,301.2 L877.7,302.1 L878.1,302.2 L878.5,303.2 L878.9,301.9 L879.3,301.9 L879.7,302.6 L880.1,302.9 L880.5,302.7 L880.9,302.5 L881.3,302.6 L881.7,301.9 L882.1,301.6 L882.5,301.8 L882.9,303.5 L883.3,302.5 L883.7,301.5 L884.1,302.4 L884.5,301.8 L884.9,302.5 L885.3,302.5 L885.7,301.8 L886.1,301.3 L886.5,302.4 L886.9,302.1 L887.3,301.6 L887.7,300.9 L888.1,302.0 L888.5,301.5 L888.9,302.2 L889.3,301.7 L889.7,301.7 L890.1,301.1 L890.5,301.1 L890.9,301.7 L891.3,301.9 L891.7,301.4 L892.1,299.3 L892.5,299.2 L892.9,297.8 L893.3,295.6 L893.7,291.7 L894.1,288.5 L894.5,285.5 L894.9,288.0 L895.3,290.8 L895.7,295.4 L896.1,297.3 L896.5,298.8 L896.9,300.1 L897.3,300.6 L897.7,302.0 L898.1,301.7 L898.5,300.8 L898.9,301.7 L899.3,302.2 L899.7,301.7 L900.1,302.2 L900.5,301.7 L900.9,301.4 L901.3,301.7 L901.7,302.1 L902.1,302.2 L902.5,302.0 L902.9,301.1 L903.3,302.7 L903.7,301.8 L904.1,301.9 L904.5,301.6 L904.9,302.5 L905.3,301.9 L905.7,302.6 L906.1,302.1 L906.5,302.2 L906.9,301.9 L907.3,301.5 L907.7,302.7 L908.1,302.2 L908.5,302.8 L908.9,303.2 L909.3,301.6 L909.7,302.4 L910.1,302.0 L910.5,301.7 L910.9,301.7 L911.3,302.4 L911.7,302.9 L912.1,301.7 L912.5,302.0 L912.9,301.9 L913.3,301.4 L913.7,302.3 L914.1,301.9 L914.5,301.6 L914.9,301.3 L915.3,301.2 L915.7,301.2 L916.1,299.7 L916.5,300.8 L916.9,299.5 L917.3,299.2 L917.7,298.7 L918.1,298.1 L918.5,299.4 L918.9,299.1 L919.3,299.8 L919.7,300.4 L920.1,299.5 L920.5,302.0 L920.9,301.8 L921.3,300.2 L921.7,301.8 L922.1,301.2 L922.5,302.3 L922.9,301.1 L923.3,301.9 L923.7,301.6 L924.1,302.2 L924.5,302.1 L924.9,301.9 L925.3,302.1 L925.7,302.4 L926.1,302.2 L926.5,303.3 L926.9,301.6 L927.3,301.7 L927.7,302.7 L928.1,301.6 L928.5,302.3 L928.9,302.9 L929.3,301.4 L929.7,302.7 L930.1,303.2 L930.5,302.1 L930.9,301.1 L931.3,301.3 L931.7,301.8 L932.1,303.2 L932.5,302.4 L932.9,302.1 L933.3,302.5 L933.7,302.3 L934.1,302.1 L934.5,301.6 L934.9,303.1 L935.3,302.5 L935.7,302.0 L936.1,302.2 L936.5,302.3 L936.9,303.3 L937.3,302.2 L937.7,302.1 L938.1,302.1 L938.5,302.6 L938.9,302.5 L939.3,301.7 L939.7,302.8 L940.1,301.4 L940.5,302.5 L940.9,302.8 L941.3,301.5 L941.7,302.2 L942.1,301.4 L942.5,302.5 L942.9,302.1 L943.3,302.5 L943.7,301.9 L944.1,301.7 L944.5,301.3 L944.9,302.3 L945.3,301.8 L945.7,301.6 L946.1,300.7 L946.5,301.9 L946.9,302.1 L947.3,301.5 L947.7,301.0 L948.1,300.9 L948.5,301.5 L948.9,299.9 L949.3,298.2 L949.7,297.8 L950.1,294.6 L950.5,291.6 L950.9,291.7 L951.3,293.2 L951.7,294.4 L952.1,296.6 L952.5,299.6 L952.9,299.3 L953.3,300.6 L953.7,300.8 L954.1,301.7 L954.5,301.4 L954.9,301.1 L955.3,302.4 L955.7,301.6 L956.1,301.7 L956.5,301.9 L956.9,300.9 L957.3,301.4 L957.7,301.6 L958.1,301.5 L958.5,300.7 L958.9,300.4 L959.3,300.1 L959.7,299.2 L960.1,298.6 L960.5,297.1 L960.9,295.1 L961.3,293.2 L961.7,293.1 L962.1,293.6 L962.5,294.7 L962.9,298.2 L963.3,298.2 L963.7,299.3 L964.1,300.6 L964.5,300.1 L964.9,300.0 L965.3,300.8 L965.7,301.1 L966.1,302.8 L966.5,301.7 L966.9,302.6 L967.3,302.3 L967.7,302.0 L968.1,302.6 L968.5,301.4 L968.9,301.8 L969.3,301.8 L969.7,302.5 L970.1,301.8 L970.5,302.3 L970.9,301.5 L971.3,301.7 L971.7,301.8 L972.1,302.6 L972.5,302.0 L972.9,303.0 L973.3,302.5 L973.7,302.1 L974.1,302.8 L974.5,302.8 L974.9,301.5 L975.3,302.6 L975.7,303.2 L976.1,303.1 L976.5,302.1 L976.9,301.4 L977.3,301.3 L977.7,301.4 L978.1,302.3 L978.5,302.6 L978.9,301.7 L979.3,303.4 L979.7,302.5 L980.1,303.1 L980.5,302.2 L980.9,303.5 L981.3,302.9 L981.7,302.8 L982.1,302.1 L982.5,302.1 L982.9,303.7 L983.3,302.1 L983.7,302.7 L984.1,303.0 L984.5,302.3 L984.9,302.6 L985.3,302.8 L985.7,303.0 L986.1,303.4 L986.5,302.2 L986.9,302.9 L987.3,303.1 L987.7,302.3 L988.1,302.0 L988.5,302.7 L988.9,303.5 L989.3,302.8 L989.7,301.8 L990.1,302.2 L990.5,302.4 L990.9,302.1 L991.3,302.9 L991.7,303.4 L992.1,302.9 L992.5,303.1 L992.9,303.3 L993.3,303.0 L993.7,302.5 L994.1,302.1 L994.5,301.9 L994.9,303.1 L995.3,301.7 L995.7,302.0 L996.1,301.6 L996.5,301.9 L996.9,302.3 L997.3,301.3 L997.7,301.8 L998.1,301.0 L998.5,301.3 L998.9,301.3 L999.3,302.1 L999.7,302.5 L1000.1,301.8 L1000.5,302.2 L1000.9,301.4 L1001.3,301.6 L1001.7,302.3 L1002.1,302.4 L1002.5,302.3 L1002.9,302.6 L1003.3,302.0 L1003.7,302.0 L1004.1,302.6 L1004.5,301.9 L1004.9,302.0 L1005.3,302.1 L1005.7,302.5 L1006.1,301.8 L1006.5,303.0 L1006.9,302.9 L1007.3,302.2 L1007.7,301.6 L1008.1,303.7 L1008.5,302.2 L1008.9,303.0 L1009.3,302.4 L1009.7,302.3 L1010.1,302.4 L1010.5,302.0 L1010.9,302.4 L1011.3,302.1 L1011.7,301.4 L1012.1,301.3 L1012.5,301.1 L1012.9,301.5 L1013.3,300.7 L1013.7,300.4 L1014.1,299.5 L1014.5,299.6 L1014.9,299.8 L1015.3,299.1 L1015.7,300.2 L1016.1,300.0 L1016.5,300.6 L1016.9,300.7 L1017.3,302.0 L1017.7,301.6 L1018.1,301.3 L1018.5,301.8 L1018.9,302.1 L1019.3,302.2 L1019.7,301.9 L1020.1,301.9 L1020.5,302.0 L1020.9,302.5 L1021.3,302.6 L1021.7,303.8 L1022.1,302.4 L1022.5,302.8 L1022.9,302.3 L1023.3,302.5 L1023.7,302.4 L1024.1,302.6 L1024.5,302.0 L1024.9,302.1 L1025.3,301.6 L1025.7,301.7 L1026.1,302.5 L1026.5,303.1 L1026.9,302.5 L1027.3,302.2 L1027.7,301.7 L1028.1,302.1 L1028.5,302.5 L1028.9,302.1 L1029.3,302.7 L1029.7,302.4 L1030.1,303.0 L1030.5,302.6 L1030.9,303.0 L1031.3,302.4 L1031.7,301.7 L1032.1,302.0 L1032.5,301.8 L1032.9,303.4 L1033.3,302.1 L1033.7,302.1 L1034.1,302.0 L1034.5,302.4 L1034.9,301.6 L1035.3,302.4 L1035.7,302.2 L1036.1,301.9 L1036.5,301.2 L1036.9,301.1 L1037.3,301.0 L1037.7,300.5 L1038.1,300.7 L1038.5,300.4 L1038.9,301.0 L1039.3,300.7 L1039.7,301.6 L1040.1,301.9 L1040.5,302.3 L1040.9,301.7 L1041.3,302.1 L1041.7,302.4 L1042.1,302.5 L1042.5,301.8 L1042.9,301.4 L1043.3,303.0 L1043.7,301.6 L1044.1,303.0 L1044.5,302.0 L1044.9,301.7 L1045.3,302.0 L1045.7,302.1 L1046.1,303.4 L1046.5,302.2 L1046.9,302.6 L1047.3,302.0 L1047.7,302.0 L1048.1,302.5 L1048.5,302.3 L1048.9,302.4 L1049.3,303.1 L1049.7,302.8 L1050.1,302.7 L1050.5,303.2 L1050.9,302.8 L1051.3,302.5 L1051.7,301.8 L1052.1,303.0 L1052.5,302.1 L1052.9,302.8 L1053.3,302.7 L1053.7,302.8 L1054.1,302.5 L1054.5,302.1 L1054.9,302.6 L1055.3,302.9 L1055.7,302.0 L1056.1,302.2 L1056.5,302.9 L1056.9,302.8 L1057.3,302.5 L1057.7,302.8 L1058.1,302.3 L1058.5,301.9 L1058.9,302.2 L1059.3,302.5 L1059.7,301.8 L1060.1,301.8 L1060.5,302.5 L1060.9,302.5 L1061.3,303.5 L1061.7,302.2 L1062.1,302.7 L1062.5,302.2 L1062.9,302.5 L1063.3,301.8 L1063.7,302.6 L1064.1,302.8 L1064.5,301.8 L1064.9,303.2 L1065.3,303.0 L1065.7,303.3 L1066.1,303.0 L1066.5,302.4 L1066.9,302.5 L1067.3,302.7 L1067.7,302.4 L1068.1,302.9" fill="none" stroke="#0a0a0a" stroke-width="1.9" stroke-linejoin="round"/>
<path d="M598.9,341.2 L599.3,339.8 L599.7,341.4 L600.1,341.7 L600.5,341.7 L600.9,342.2 L601.3,340.9 L601.7,340.7 L602.1,341.1 L602.5,340.7 L602.9,342.4 L603.3,341.7 L603.7,339.8 L604.1,340.9 L604.5,341.3 L604.9,339.8 L605.3,341.8 L605.7,340.6 L606.1,340.2 L606.5,340.8 L606.9,340.3 L607.3,341.6 L607.7,341.3 L608.1,340.6 L608.5,340.4 L608.9,341.0 L609.3,340.1 L609.7,341.0 L610.1,340.4 L610.5,341.1 L610.9,341.5 L611.3,340.8 L611.7,341.0 L612.1,341.1 L612.5,341.5 L612.9,341.5 L613.3,341.3 L613.7,341.2 L614.1,340.1 L614.5,339.6 L614.9,340.1 L615.3,343.0 L615.7,341.0 L616.1,340.4 L616.5,341.2 L616.9,340.9 L617.3,341.3 L617.7,341.3 L618.1,340.3 L618.5,340.4 L618.9,341.6 L619.3,340.2 L619.7,341.0 L620.1,340.5 L620.5,341.1 L620.9,341.4 L621.3,340.4 L621.7,341.6 L622.1,340.4 L622.5,340.3 L622.9,340.7 L623.3,340.9 L623.7,340.3 L624.1,338.9 L624.5,340.3 L624.9,341.0 L625.3,341.1 L625.7,340.9 L626.1,342.5 L626.5,341.2 L626.9,340.3 L627.3,340.8 L627.7,341.0 L628.1,341.2 L628.5,341.3 L628.9,341.1 L629.3,340.4 L629.7,341.7 L630.1,341.5 L630.5,340.8 L630.9,340.5 L631.3,341.3 L631.7,340.8 L632.1,340.1 L632.5,341.4 L632.9,340.7 L633.3,342.2 L633.7,338.6 L634.1,341.5 L634.5,340.4 L634.9,340.1 L635.3,341.0 L635.7,342.6 L636.1,340.0 L636.5,341.4 L636.9,341.4 L637.3,341.1 L637.7,340.3 L638.1,340.6 L638.5,342.1 L638.9,340.6 L639.3,340.9 L639.7,341.1 L640.1,341.3 L640.5,341.8 L640.9,341.8 L641.3,340.6 L641.7,340.0 L642.1,341.0 L642.5,339.8 L642.9,340.0 L643.3,340.4 L643.7,340.0 L644.1,340.3 L644.5,341.1 L644.9,341.1 L645.3,341.0 L645.7,340.3 L646.1,341.5 L646.5,341.2 L646.9,339.4 L647.3,340.5 L647.7,341.3 L648.1,340.5 L648.5,341.3 L648.9,340.7 L649.3,342.2 L649.7,340.6 L650.1,340.1 L650.5,340.7 L650.9,340.2 L651.3,340.5 L651.7,340.3 L652.1,340.0 L652.5,341.3 L652.9,340.7 L653.3,340.8 L653.7,339.6 L654.1,341.5 L654.5,339.4 L654.9,340.5 L655.3,340.7 L655.7,339.6 L656.1,341.6 L656.5,340.2 L656.9,340.3 L657.3,340.7 L657.7,341.1 L658.1,341.0 L658.5,340.1 L658.9,340.7 L659.3,340.6 L659.7,341.2 L660.1,341.3 L660.5,340.6 L660.9,340.8 L661.3,341.2 L661.7,340.6 L662.1,340.7 L662.5,341.4 L662.9,340.7 L663.3,340.8 L663.7,340.2 L664.1,340.3 L664.5,340.6 L664.9,341.2 L665.3,339.8 L665.7,340.4 L666.1,340.8 L666.5,341.0 L666.9,340.7 L667.3,340.2 L667.7,341.0 L668.1,340.7 L668.5,340.9 L668.9,340.1 L669.3,340.7 L669.7,340.4 L670.1,340.3 L670.5,339.9 L670.9,339.8 L671.3,339.6 L671.7,341.3 L672.1,340.2 L672.5,341.7 L672.9,339.4 L673.3,340.4 L673.7,341.3 L674.1,339.8 L674.5,339.8 L674.9,340.8 L675.3,340.9 L675.7,340.6 L676.1,340.1 L676.5,340.5 L676.9,341.8 L677.3,341.2 L677.7,340.6 L678.1,340.0 L678.5,340.3 L678.9,341.5 L679.3,341.2 L679.7,339.6 L680.1,340.0 L680.5,340.9 L680.9,341.6 L681.3,339.6 L681.7,340.6 L682.1,341.3 L682.5,341.2 L682.9,339.6 L683.3,340.1 L683.7,340.8 L684.1,340.2 L684.5,340.8 L684.9,340.5 L685.3,341.2 L685.7,339.5 L686.1,340.2 L686.5,341.3 L686.9,339.8 L687.3,340.8 L687.7,340.0 L688.1,340.1 L688.5,341.1 L688.9,340.8 L689.3,340.8 L689.7,339.4 L690.1,340.2 L690.5,340.0 L690.9,340.1 L691.3,339.7 L691.7,336.5 L692.1,335.8 L692.5,333.9 L692.9,333.7 L693.3,334.9 L693.7,336.9 L694.1,338.6 L694.5,339.6 L694.9,340.8 L695.3,339.6 L695.7,340.3 L696.1,339.8 L696.5,341.4 L696.9,339.8 L697.3,340.4 L697.7,341.2 L698.1,339.7 L698.5,339.7 L698.9,340.8 L699.3,340.0 L699.7,341.3 L700.1,340.0 L700.5,339.8 L700.9,339.8 L701.3,340.5 L701.7,339.2 L702.1,340.5 L702.5,340.7 L702.9,339.4 L703.3,340.2 L703.7,340.1 L704.1,341.2 L704.5,340.5 L704.9,340.4 L705.3,340.1 L705.7,341.1 L706.1,340.9 L706.5,339.6 L706.9,340.9 L707.3,341.0 L707.7,340.6 L708.1,341.0 L708.5,340.9 L708.9,339.6 L709.3,340.1 L709.7,340.6 L710.1,340.3 L710.5,339.9 L710.9,339.7 L711.3,339.7 L711.7,339.3 L712.1,340.4 L712.5,340.3 L712.9,339.7 L713.3,340.8 L713.7,339.9 L714.1,339.5 L714.5,339.7 L714.9,339.8 L715.3,340.6 L715.7,340.0 L716.1,340.6 L716.5,340.4 L716.9,341.2 L717.3,340.4 L717.7,340.0 L718.1,338.9 L718.5,340.3 L718.9,340.9 L719.3,340.4 L719.7,340.4 L720.1,340.6 L720.5,340.3 L720.9,340.7 L721.3,339.9 L721.7,340.3 L722.1,340.1 L722.5,340.9 L722.9,341.3 L723.3,341.3 L723.7,340.1 L724.1,340.4 L724.5,340.7 L724.9,340.2 L725.3,339.7 L725.7,340.5 L726.1,340.2 L726.5,339.8 L726.9,340.5 L727.3,340.2 L727.7,339.6 L728.1,340.2 L728.5,341.0 L728.9,341.0 L729.3,340.7 L729.7,340.4 L730.1,340.5 L730.5,340.3 L730.9,340.4 L731.3,339.9 L731.7,340.9 L732.1,340.0 L732.5,341.1 L732.9,339.2 L733.3,340.1 L733.7,340.3 L734.1,340.7 L734.5,340.8 L734.9,340.1 L735.3,340.7 L735.7,340.7 L736.1,340.2 L736.5,340.7 L736.9,339.5 L737.3,340.0 L737.7,340.7 L738.1,340.2 L738.5,340.5 L738.9,339.8 L739.3,340.3 L739.7,339.7 L740.1,339.5 L740.5,339.7 L740.9,340.9 L741.3,340.0 L741.7,340.6 L742.1,339.5 L742.5,340.0 L742.9,340.6 L743.3,340.2 L743.7,340.3 L744.1,338.9 L744.5,341.6 L744.9,340.3 L745.3,339.3 L745.7,339.9 L746.1,339.5 L746.5,340.2 L746.9,339.4 L747.3,340.1 L747.7,340.0 L748.1,339.5 L748.5,340.0 L748.9,339.5 L749.3,339.0 L749.7,339.1 L750.1,338.8 L750.5,338.3 L750.9,337.7 L751.3,336.2 L751.7,334.6 L752.1,328.6 L752.5,318.6 L752.9,305.1 L753.3,303.7 L753.7,317.5 L754.1,327.9 L754.5,333.4 L754.9,337.0 L755.3,337.9 L755.7,338.3 L756.1,338.4 L756.5,339.3 L756.9,339.6 L757.3,339.4 L757.7,339.7 L758.1,339.9 L758.5,338.9 L758.9,340.8 L759.3,340.3 L759.7,338.9 L760.1,340.7 L760.5,340.4 L760.9,339.6 L761.3,339.4 L761.7,340.0 L762.1,339.6 L762.5,340.2 L762.9,340.8 L763.3,339.2 L763.7,340.0 L764.1,340.8 L764.5,341.0 L764.9,340.1 L765.3,339.5 L765.7,340.1 L766.1,339.1 L766.5,339.0 L766.9,340.0 L767.3,339.1 L767.7,338.8 L768.1,337.1 L768.5,335.8 L768.9,332.1 L769.3,324.8 L769.7,317.2 L770.1,317.8 L770.5,325.8 L770.9,333.4 L771.3,336.0 L771.7,337.1 L772.1,338.3 L772.5,339.1 L772.9,339.3 L773.3,339.3 L773.7,340.1 L774.1,340.0 L774.5,339.0 L774.9,339.3 L775.3,341.7 L775.7,341.0 L776.1,339.2 L776.5,341.3 L776.9,339.7 L777.3,339.9 L777.7,339.9 L778.1,340.3 L778.5,341.1 L778.9,341.0 L779.3,341.0 L779.7,340.5 L780.1,340.4 L780.5,340.1 L780.9,339.8 L781.3,341.4 L781.7,340.0 L782.1,339.3 L782.5,340.9 L782.9,339.8 L783.3,340.5 L783.7,340.4 L784.1,339.4 L784.5,340.2 L784.9,340.5 L785.3,339.6 L785.7,340.6 L786.1,340.2 L786.5,340.2 L786.9,340.8 L787.3,340.4 L787.7,339.7 L788.1,339.7 L788.5,340.6 L788.9,340.0 L789.3,340.1 L789.7,339.8 L790.1,340.4 L790.5,339.9 L790.9,339.6 L791.3,340.1 L791.7,340.1 L792.1,341.1 L792.5,339.0 L792.9,340.0 L793.3,338.9 L793.7,339.1 L794.1,339.5 L794.5,339.3 L794.9,340.0 L795.3,339.7 L795.7,339.5 L796.1,339.7 L796.5,338.1 L796.9,339.4 L797.3,340.2 L797.7,340.5 L798.1,340.3 L798.5,340.4 L798.9,339.8 L799.3,341.2 L799.7,338.7 L800.1,340.2 L800.5,339.2 L800.9,340.1 L801.3,340.3 L801.7,339.4 L802.1,338.9 L802.5,338.8 L802.9,338.8 L803.3,337.3 L803.7,337.9 L804.1,335.0 L804.5,333.9 L804.9,332.6 L805.3,335.0 L805.7,336.8 L806.1,338.2 L806.5,338.6 L806.9,340.3 L807.3,339.5 L807.7,340.0 L808.1,340.1 L808.5,339.9 L808.9,339.6 L809.3,339.0 L809.7,340.1 L810.1,339.5 L810.5,340.0 L810.9,340.6 L811.3,340.7 L811.7,340.2 L812.1,340.1 L812.5,340.6 L812.9,340.5 L813.3,340.9 L813.7,339.7 L814.1,340.6 L814.5,339.9 L814.9,340.8 L815.3,339.9 L815.7,339.6 L816.1,340.6 L816.5,340.8 L816.9,340.7 L817.3,339.9 L817.7,340.5 L818.1,341.0 L818.5,340.5 L818.9,340.2 L819.3,340.3 L819.7,340.4 L820.1,340.7 L820.5,340.5 L820.9,339.6 L821.3,338.7 L821.7,340.0 L822.1,338.7 L822.5,339.1 L822.9,338.5 L823.3,340.0 L823.7,338.9 L824.1,339.3 L824.5,340.1 L824.9,340.2 L825.3,339.2 L825.7,339.2 L826.1,340.5 L826.5,340.9 L826.9,340.5 L827.3,340.5 L827.7,339.7 L828.1,341.2 L828.5,339.6 L828.9,340.9 L829.3,339.9 L829.7,339.9 L830.1,340.2 L830.5,339.9 L830.9,340.2 L831.3,340.8 L831.7,340.6 L832.1,340.4 L832.5,340.2 L832.9,340.4 L833.3,341.2 L833.7,339.3 L834.1,340.6 L834.5,340.2 L834.9,340.8 L835.3,338.9 L835.7,340.3 L836.1,340.3 L836.5,339.4 L836.9,340.3 L837.3,340.1 L837.7,340.3 L838.1,340.5 L838.5,339.7 L838.9,340.0 L839.3,340.4 L839.7,341.6 L840.1,340.8 L840.5,339.8 L840.9,341.1 L841.3,340.2 L841.7,340.1 L842.1,340.2 L842.5,340.4 L842.9,340.5 L843.3,339.3 L843.7,340.4 L844.1,340.8 L844.5,340.1 L844.9,340.8 L845.3,340.3 L845.7,339.7 L846.1,341.0 L846.5,339.9 L846.9,340.1 L847.3,340.5 L847.7,340.4 L848.1,340.5 L848.5,341.0 L848.9,340.3 L849.3,339.6 L849.7,340.1 L850.1,340.0 L850.5,339.8 L850.9,339.9 L851.3,340.1 L851.7,341.0 L852.1,339.3 L852.5,339.7 L852.9,340.7 L853.3,341.3 L853.7,341.0 L854.1,340.9 L854.5,340.9 L854.9,340.7 L855.3,340.1 L855.7,340.1 L856.1,339.5 L856.5,339.7 L856.9,340.0 L857.3,339.8 L857.7,339.7 L858.1,339.1 L858.5,340.4 L858.9,339.2 L859.3,340.3 L859.7,338.9 L860.1,339.7 L860.5,338.5 L860.9,335.6 L861.3,335.1 L861.7,332.6 L862.1,331.5 L862.5,330.3 L862.9,331.8 L863.3,334.3 L863.7,335.9 L864.1,337.8 L864.5,337.8 L864.9,338.6 L865.3,340.0 L865.7,339.2 L866.1,338.7 L866.5,340.1 L866.9,339.9 L867.3,339.1 L867.7,339.8 L868.1,340.0 L868.5,338.9 L868.9,340.2 L869.3,339.0 L869.7,340.1 L870.1,340.2 L870.5,340.6 L870.9,340.3 L871.3,340.8 L871.7,340.3 L872.1,340.4 L872.5,340.4 L872.9,340.4 L873.3,340.8 L873.7,340.4 L874.1,340.2 L874.5,340.2 L874.9,339.4 L875.3,340.3 L875.7,340.9 L876.1,339.1 L876.5,340.7 L876.9,340.1 L877.3,339.9 L877.7,340.4 L878.1,342.1 L878.5,341.0 L878.9,340.1 L879.3,340.1 L879.7,338.5 L880.1,340.1 L880.5,340.9 L880.9,339.2 L881.3,340.5 L881.7,340.5 L882.1,340.7 L882.5,339.0 L882.9,341.0 L883.3,340.1 L883.7,340.2 L884.1,339.8 L884.5,339.9 L884.9,340.7 L885.3,339.9 L885.7,339.0 L886.1,339.7 L886.5,338.9 L886.9,340.0 L887.3,340.2 L887.7,339.0 L888.1,339.3 L888.5,339.7 L888.9,339.8 L889.3,339.7 L889.7,338.4 L890.1,338.1 L890.5,338.6 L890.9,338.4 L891.3,336.4 L891.7,335.2 L892.1,332.7 L892.5,330.0 L892.9,326.3 L893.3,325.5 L893.7,327.6 L894.1,331.5 L894.5,334.2 L894.9,336.1 L895.3,337.9 L895.7,338.2 L896.1,338.8 L896.5,339.4 L896.9,338.7 L897.3,340.2 L897.7,340.3 L898.1,339.0 L898.5,340.1 L898.9,339.6 L899.3,339.6 L899.7,339.7 L900.1,339.0 L900.5,340.4 L900.9,340.6 L901.3,339.9 L901.7,339.6 L902.1,339.5 L902.5,340.0 L902.9,340.2 L903.3,339.4 L903.7,340.1 L904.1,339.3 L904.5,339.9 L904.9,339.4 L905.3,338.8 L905.7,339.6 L906.1,340.8 L906.5,340.3 L906.9,340.7 L907.3,340.3 L907.7,340.4 L908.1,339.6 L908.5,340.7 L908.9,339.6 L909.3,340.7 L909.7,341.0 L910.1,340.5 L910.5,339.5 L910.9,340.5 L911.3,339.6 L911.7,340.7 L912.1,340.2 L912.5,339.8 L912.9,339.6 L913.3,339.4 L913.7,339.4 L914.1,339.0 L914.5,338.1 L914.9,337.2 L915.3,338.7 L915.7,337.9 L916.1,337.0 L916.5,336.7 L916.9,334.9 L917.3,336.2 L917.7,337.6 L918.1,337.4 L918.5,338.2 L918.9,339.6 L919.3,339.4 L919.7,339.3 L920.1,339.7 L920.5,339.4 L920.9,339.5 L921.3,339.6 L921.7,339.4 L922.1,339.7 L922.5,340.5 L922.9,339.9 L923.3,340.5 L923.7,341.0 L924.1,340.5 L924.5,338.8 L924.9,339.8 L925.3,340.4 L925.7,340.7 L926.1,339.5 L926.5,341.4 L926.9,339.7 L927.3,340.7 L927.7,340.1 L928.1,340.2 L928.5,339.9 L928.9,339.7 L929.3,339.8 L929.7,340.4 L930.1,339.7 L930.5,340.2 L930.9,339.8 L931.3,340.7 L931.7,339.9 L932.1,341.2 L932.5,340.4 L932.9,339.1 L933.3,340.1 L933.7,340.2 L934.1,340.4 L934.5,340.1 L934.9,340.8 L935.3,340.2 L935.7,340.5 L936.1,340.0 L936.5,339.9 L936.9,340.0 L937.3,339.9 L937.7,340.0 L938.1,340.2 L938.5,339.7 L938.9,340.5 L939.3,340.9 L939.7,340.8 L940.1,340.0 L940.5,339.2 L940.9,340.4 L941.3,340.3 L941.7,340.5 L942.1,339.7 L942.5,339.9 L942.9,340.3 L943.3,339.3 L943.7,339.4 L944.1,339.6 L944.5,339.7 L944.9,339.8 L945.3,340.1 L945.7,339.4 L946.1,339.2 L946.5,339.4 L946.9,339.1 L947.3,338.5 L947.7,338.4 L948.1,336.7 L948.5,336.1 L948.9,334.7 L949.3,333.0 L949.7,333.0 L950.1,334.0 L950.5,336.4 L950.9,337.1 L951.3,337.0 L951.7,338.3 L952.1,338.6 L952.5,339.6 L952.9,339.1 L953.3,338.7 L953.7,339.8 L954.1,339.0 L954.5,339.3 L954.9,339.6 L955.3,340.0 L955.7,339.6 L956.1,339.3 L956.5,340.0 L956.9,339.4 L957.3,339.3 L957.7,338.5 L958.1,338.0 L958.5,338.1 L958.9,338.3 L959.3,337.3 L959.7,335.2 L960.1,334.0 L960.5,335.0 L960.9,335.5 L961.3,336.0 L961.7,337.5 L962.1,338.3 L962.5,339.3 L962.9,339.4 L963.3,340.1 L963.7,339.4 L964.1,340.2 L964.5,339.2 L964.9,339.5 L965.3,340.3 L965.7,340.6 L966.1,339.8 L966.5,339.4 L966.9,340.7 L967.3,339.8 L967.7,339.9 L968.1,340.1 L968.5,341.1 L968.9,340.1 L969.3,340.6 L969.7,340.3 L970.1,339.7 L970.5,340.6 L970.9,340.4 L971.3,340.3 L971.7,340.1 L972.1,341.2 L972.5,340.4 L972.9,340.5 L973.3,340.2 L973.7,340.2 L974.1,339.7 L974.5,340.5 L974.9,340.6 L975.3,340.1 L975.7,340.6 L976.1,339.0 L976.5,340.7 L976.9,340.0 L977.3,339.8 L977.7,339.8 L978.1,339.6 L978.5,340.0 L978.9,340.3 L979.3,339.8 L979.7,340.2 L980.1,340.2 L980.5,339.6 L980.9,340.1 L981.3,340.4 L981.7,340.4 L982.1,339.4 L982.5,340.4 L982.9,339.8 L983.3,339.8 L983.7,339.7 L984.1,340.6 L984.5,339.6 L984.9,339.6 L985.3,340.9 L985.7,339.7 L986.1,340.1 L986.5,340.4 L986.9,340.0 L987.3,340.5 L987.7,340.1 L988.1,340.5 L988.5,340.3 L988.9,340.4 L989.3,340.0 L989.7,339.9 L990.1,340.2 L990.5,340.1 L990.9,340.3 L991.3,340.4 L991.7,339.9 L992.1,339.8 L992.5,340.1 L992.9,340.3 L993.3,340.0 L993.7,340.2 L994.1,340.4 L994.5,340.5 L994.9,340.2 L995.3,340.5 L995.7,340.1 L996.1,338.7 L996.5,339.2 L996.9,339.5 L997.3,340.1 L997.7,339.2 L998.1,338.8 L998.5,339.5 L998.9,339.8 L999.3,339.6 L999.7,340.1 L1000.1,339.7 L1000.5,340.0 L1000.9,339.5 L1001.3,339.8 L1001.7,340.6 L1002.1,340.1 L1002.5,339.4 L1002.9,339.1 L1003.3,340.4 L1003.7,339.6 L1004.1,340.1 L1004.5,339.6 L1004.9,340.4 L1005.3,340.1 L1005.7,339.5 L1006.1,339.8 L1006.5,339.5 L1006.9,339.7 L1007.3,339.8 L1007.7,339.8 L1008.1,339.7 L1008.5,340.7 L1008.9,339.2 L1009.3,339.2 L1009.7,338.3 L1010.1,338.9 L1010.5,339.1 L1010.9,338.2 L1011.3,338.4 L1011.7,338.2 L1012.1,337.4 L1012.5,336.8 L1012.9,336.5 L1013.3,336.8 L1013.7,336.5 L1014.1,337.2 L1014.5,337.4 L1014.9,337.8 L1015.3,337.7 L1015.7,338.0 L1016.1,338.5 L1016.5,339.9 L1016.9,339.0 L1017.3,339.3 L1017.7,339.7 L1018.1,339.3 L1018.5,338.9 L1018.9,339.9 L1019.3,340.5 L1019.7,339.7 L1020.1,339.3 L1020.5,340.0 L1020.9,338.9 L1021.3,340.2 L1021.7,339.6 L1022.1,340.0 L1022.5,340.8 L1022.9,340.0 L1023.3,340.1 L1023.7,340.3 L1024.1,340.8 L1024.5,339.7 L1024.9,340.4 L1025.3,340.0 L1025.7,339.5 L1026.1,339.9 L1026.5,339.5 L1026.9,339.6 L1027.3,339.9 L1027.7,340.7 L1028.1,339.8 L1028.5,340.4 L1028.9,340.5 L1029.3,340.2 L1029.7,340.0 L1030.1,339.8 L1030.5,340.4 L1030.9,340.5 L1031.3,340.0 L1031.7,339.3 L1032.1,340.2 L1032.5,340.2 L1032.9,339.9 L1033.3,339.7 L1033.7,340.0 L1034.1,339.7 L1034.5,339.3 L1034.9,339.6 L1035.3,339.6 L1035.7,339.3 L1036.1,339.7 L1036.5,338.8 L1036.9,338.7 L1037.3,339.2 L1037.7,340.6 L1038.1,339.0 L1038.5,340.1 L1038.9,340.1 L1039.3,339.0 L1039.7,340.3 L1040.1,339.9 L1040.5,340.5 L1040.9,339.6 L1041.3,340.6 L1041.7,340.2 L1042.1,340.5 L1042.5,341.1 L1042.9,340.3 L1043.3,340.3 L1043.7,341.1 L1044.1,339.3 L1044.5,340.7 L1044.9,339.5 L1045.3,340.7 L1045.7,339.4 L1046.1,338.9 L1046.5,340.4 L1046.9,339.5 L1047.3,340.1 L1047.7,339.8 L1048.1,339.5 L1048.5,340.1 L1048.9,340.0 L1049.3,339.4 L1049.7,340.3 L1050.1,340.3 L1050.5,340.5 L1050.9,340.2 L1051.3,340.7 L1051.7,340.7 L1052.1,340.8 L1052.5,340.7 L1052.9,340.6 L1053.3,340.1 L1053.7,341.1 L1054.1,340.3 L1054.5,339.8 L1054.9,339.4 L1055.3,340.0 L1055.7,340.6 L1056.1,340.3 L1056.5,339.5 L1056.9,340.0 L1057.3,340.7 L1057.7,340.7 L1058.1,340.0 L1058.5,340.0 L1058.9,340.9 L1059.3,340.6 L1059.7,339.7 L1060.1,338.5 L1060.5,339.7 L1060.9,340.5 L1061.3,339.8 L1061.7,340.4 L1062.1,340.1 L1062.5,340.1 L1062.9,339.9 L1063.3,340.1 L1063.7,340.2 L1064.1,339.9 L1064.5,339.6 L1064.9,339.4 L1065.3,340.5 L1065.7,339.5 L1066.1,339.6 L1066.5,340.7 L1066.9,340.5 L1067.3,339.1 L1067.7,339.4 L1068.1,339.6" fill="none" stroke="#e98a30" stroke-width="1.9" stroke-linejoin="round"/>
<line x1="693.7" x2="693.7" y1="384.8" y2="373.3" stroke="#cc2229" stroke-width="2.1"/>
<line x1="754.1" x2="754.1" y1="384.8" y2="353.5" stroke="#cc2229" stroke-width="2.1"/>
<line x1="770.6" x2="770.6" y1="384.8" y2="359.7" stroke="#cc2229" stroke-width="2.1"/>
<line x1="795.2" x2="795.2" y1="384.8" y2="377.8" stroke="#cc2229" stroke-width="2.1"/>
<line x1="805.7" x2="805.7" y1="384.8" y2="372.3" stroke="#cc2229" stroke-width="2.1"/>
<line x1="823.5" x2="823.5" y1="384.8" y2="377.8" stroke="#cc2229" stroke-width="2.1"/>
<line x1="863.6" x2="863.6" y1="384.8" y2="364" stroke="#cc2229" stroke-width="2.1"/>
<line x1="894.5" x2="894.5" y1="384.8" y2="360.2" stroke="#cc2229" stroke-width="2.1"/>
<line x1="908.3" x2="908.3" y1="384.8" y2="378.3" stroke="#cc2229" stroke-width="2.1"/>
<line x1="916.7" x2="916.7" y1="384.8" y2="374.3" stroke="#cc2229" stroke-width="2.1"/>
<line x1="918.4" x2="918.4" y1="384.8" y2="374" stroke="#cc2229" stroke-width="2.1"/>
<line x1="950.6" x2="950.6" y1="384.8" y2="365.2" stroke="#cc2229" stroke-width="2.1"/>
<line x1="961.0" x2="961.0" y1="384.8" y2="364.5" stroke="#cc2229" stroke-width="2.1"/>
<line x1="974.6" x2="974.6" y1="384.8" y2="378.3" stroke="#cc2229" stroke-width="2.1"/>
<line x1="998.5" x2="998.5" y1="384.8" y2="377.3" stroke="#cc2229" stroke-width="2.1"/>
<line x1="1014.2" x2="1014.2" y1="384.8" y2="373.3" stroke="#cc2229" stroke-width="2.1"/>
<line x1="1017.0" x2="1017.0" y1="384.8" y2="375.8" stroke="#cc2229" stroke-width="2.1"/>
<line x1="1037.6" x2="1037.6" y1="384.8" y2="374" stroke="#cc2229" stroke-width="2.1"/>
<line x1="1053.0" x2="1053.0" y1="384.8" y2="376" stroke="#cc2229" stroke-width="2.1"/>
<line x1="1059.9" x2="1059.9" y1="384.8" y2="377.8" stroke="#cc2229" stroke-width="2.1"/>
<rect x="598.9" y="2.8" width="469.30000000000007" height="382.0" fill="none" stroke="#000" stroke-width="2.6"/>
<line x1="598.9" x2="598.9" y1="384.8" y2="392.3" stroke="#000" stroke-width="2.7"/>
<text x="599.2" y="416.2" font-size="23.4" text-anchor="middle" fill="#111" stroke="#111" stroke-width="0.3" >10</text>
<line x1="632.4" x2="632.4" y1="384.8" y2="388.8" stroke="#000" stroke-width="2.7"/>
<line x1="665.9" x2="665.9" y1="384.8" y2="392.3" stroke="#000" stroke-width="2.7"/>
<text x="666.2" y="416.2" font-size="23.4" text-anchor="middle" fill="#111" stroke="#111" stroke-width="0.3" >20</text>
<line x1="699.5" x2="699.5" y1="384.8" y2="388.8" stroke="#000" stroke-width="2.7"/>
<line x1="733.0" x2="733.0" y1="384.8" y2="392.3" stroke="#000" stroke-width="2.7"/>
<text x="733.3" y="416.2" font-size="23.4" text-anchor="middle" fill="#111" stroke="#111" stroke-width="0.3" >30</text>
<line x1="766.5" x2="766.5" y1="384.8" y2="388.8" stroke="#000" stroke-width="2.7"/>
<line x1="800.0" x2="800.0" y1="384.8" y2="392.3" stroke="#000" stroke-width="2.7"/>
<text x="800.3" y="416.2" font-size="23.4" text-anchor="middle" fill="#111" stroke="#111" stroke-width="0.3" >40</text>
<line x1="833.6" x2="833.6" y1="384.8" y2="388.8" stroke="#000" stroke-width="2.7"/>
<line x1="867.1" x2="867.1" y1="384.8" y2="392.3" stroke="#000" stroke-width="2.7"/>
<text x="867.4" y="416.2" font-size="23.4" text-anchor="middle" fill="#111" stroke="#111" stroke-width="0.3" >50</text>
<line x1="900.6" x2="900.6" y1="384.8" y2="388.8" stroke="#000" stroke-width="2.7"/>
<line x1="934.1" x2="934.1" y1="384.8" y2="392.3" stroke="#000" stroke-width="2.7"/>
<text x="934.4" y="416.2" font-size="23.4" text-anchor="middle" fill="#111" stroke="#111" stroke-width="0.3" >60</text>
<line x1="967.7" x2="967.7" y1="384.8" y2="388.8" stroke="#000" stroke-width="2.7"/>
<line x1="1001.2" x2="1001.2" y1="384.8" y2="392.3" stroke="#000" stroke-width="2.7"/>
<text x="1001.5" y="416.2" font-size="23.4" text-anchor="middle" fill="#111" stroke="#111" stroke-width="0.3" >70</text>
<line x1="1034.7" x2="1034.7" y1="384.8" y2="388.8" stroke="#000" stroke-width="2.7"/>
<line x1="1068.2" x2="1068.2" y1="384.8" y2="392.3" stroke="#000" stroke-width="2.7"/>
<text x="1068.5" y="416.2" font-size="23.4" text-anchor="middle" fill="#111" stroke="#111" stroke-width="0.3" >80</text>
<text x="833.3" y="441.5" font-size="25.3" text-anchor="middle" fill="#111" stroke="#111" stroke-width="0.3" word-spacing="1.5">2θ (°)</text>
<text transform="translate(585.8,194.3) rotate(-90)" font-size="25.4" text-anchor="middle" fill="#111" stroke="#111" stroke-width="0.3">Intensity (a.u.)</text>
<text x="548.7" y="31" font-size="38.3" text-anchor="start" fill="#111" stroke="#111" stroke-width="0.3" >(b)</text>
<text x="606.2" y="61.2" font-size="18.1" text-anchor="start" fill="#111" stroke="#111" stroke-width="0.3" textLength="44.9" lengthAdjust="spacingAndGlyphs">Fe-1.8</text>
<text x="605.4" y="104.6" font-size="18.1" text-anchor="start" fill="#111" stroke="#111" stroke-width="0.3" textLength="53.4" lengthAdjust="spacingAndGlyphs">Fe-1.35</text>
<text x="603.2" y="144.3" font-size="18.1" text-anchor="start" fill="#111" stroke="#111" stroke-width="0.3" textLength="44.9" lengthAdjust="spacingAndGlyphs">Fe-0.9</text>
<text x="603.9" y="195" font-size="18.1" text-anchor="start" fill="#111" stroke="#111" stroke-width="0.3" textLength="53.4" lengthAdjust="spacingAndGlyphs">Fe-0.45</text>
<text x="602.4" y="249.7" font-size="18.1" text-anchor="start" fill="#111" stroke="#111" stroke-width="0.3" textLength="53.6" lengthAdjust="spacingAndGlyphs">Fe-0.27</text>
<text x="602.4" y="285.8" font-size="18.1" text-anchor="start" fill="#111" stroke="#111" stroke-width="0.3" textLength="53.8" lengthAdjust="spacingAndGlyphs">Fe-0.09</text>
<text x="604.4" y="331.6" font-size="18.1" text-anchor="start" fill="#111" stroke="#111" stroke-width="0.3" textLength="32.2" lengthAdjust="spacingAndGlyphs">Fe-0</text>
<text x="605.6" y="366" font-size="18.1" text-anchor="start" fill="#c8232b" stroke="#c8232b" stroke-width="0.3" textLength="100.3" lengthAdjust="spacingAndGlyphs">PDF#33-0664</text>
<text x="677" y="53.6" font-size="18.1" text-anchor="start" fill="#111" stroke="#111" stroke-width="0.3" >(012)</text>
<text x="720.8" y="29.4" font-size="18.1" text-anchor="start" fill="#111" stroke="#111" stroke-width="0.3" >(104)</text>
<text x="762.4" y="23.8" font-size="18.1" text-anchor="start" fill="#111" stroke="#111" stroke-width="0.3" >(110)</text>
<text x="791.5" y="56" font-size="18.1" text-anchor="start" fill="#111" stroke="#111" stroke-width="0.3" >(113)</text>
<text x="842.6" y="59" font-size="18.1" text-anchor="start" fill="#111" stroke="#111" stroke-width="0.3" >(024)</text>
<text x="875.1" y="43.8" font-size="18.1" text-anchor="start" fill="#111" stroke="#111" stroke-width="0.3" >(116)</text>
<text x="899.7" y="66.6" font-size="18.1" text-anchor="start" fill="#111" stroke="#111" stroke-width="0.3" >(018)</text>
<text x="920.7" y="43.8" font-size="18.1" text-anchor="start" fill="#111" stroke="#111" stroke-width="0.3" >(214)</text>
<text x="953.5" y="60.3" font-size="18.1" text-anchor="start" fill="#111" stroke="#111" stroke-width="0.3" >(300)</text>
<text x="992" y="46.5" font-size="18.1" text-anchor="start" fill="#111" stroke="#111" stroke-width="0.3" >(119)</text>
<text x="1024.6" y="65.3" font-size="18.1" text-anchor="start" fill="#111" stroke="#111" stroke-width="0.3" >(220)</text>
<path d="M320.6,539.3 L321.6,539.1 L322.6,539.0 L323.6,538.6 L324.6,538.6 L325.6,538.8 L326.6,538.9 L327.6,538.8 L328.6,539.1 L329.6,538.8 L330.6,538.9 L331.6,539.0 L332.6,539.4 L333.6,540.0 L334.6,540.3 L335.6,540.2 L336.6,540.5 L337.6,539.8 L338.6,539.2 L339.6,539.1 L340.6,539.0 L341.6,538.6 L342.6,538.6 L343.6,538.6 L344.6,538.3 L345.6,538.0 L346.6,537.9 L347.6,537.7 L348.6,537.5 L349.6,537.3 L350.6,537.3 L351.6,537.3 L352.6,537.7 L353.6,538.0 L354.6,538.5 L355.6,538.3 L356.6,538.4 L357.6,537.9 L358.6,537.9 L359.6,537.7 L360.6,537.9 L361.6,537.9 L362.6,538.3 L363.6,538.7 L364.6,538.5 L365.6,538.4 L366.6,538.4 L367.6,538.3 L368.6,537.9 L369.6,538.1 L370.6,538.5 L371.6,538.4 L372.6,538.6 L373.6,538.5 L374.6,538.5 L375.6,538.3 L376.6,538.8 L377.6,538.4 L378.6,538.6 L379.6,538.6 L380.6,538.7 L381.6,538.3 L382.6,538.7 L383.6,538.4 L384.6,538.1 L385.6,538.0 L386.6,537.8 L387.6,537.2 L388.6,537.6 L389.6,537.9 L390.6,537.4 L391.6,537.7 L392.6,538.2 L393.6,537.7 L394.6,537.7 L395.6,537.8 L396.6,537.6 L397.6,537.5 L398.6,538.0 L399.6,538.1 L400.6,538.6 L401.6,538.7 L402.6,539.3 L403.6,539.5 L404.6,539.5 L405.6,539.3 L406.6,539.5 L407.6,539.1 L408.6,538.6 L409.6,538.4 L410.6,538.5 L411.6,537.7 L412.6,537.4 L413.6,537.7 L414.6,537.5 L415.6,537.7 L416.6,537.8 L417.6,537.7 L418.6,537.3 L419.6,537.6 L420.6,537.2 L421.6,537.3 L422.6,537.5 L423.6,537.6 L424.6,537.7 L425.6,537.9 L426.6,538.1 L427.6,537.9 L428.6,538.2 L429.6,538.2 L430.6,538.4 L431.6,538.8 L432.6,539.2 L433.6,539.5 L434.6,539.7 L435.6,539.9 L436.6,539.7 L437.6,539.9 L438.6,539.5 L439.6,538.9 L440.6,538.5 L441.6,538.3 L442.6,538.2 L443.6,537.9 L444.6,538.3 L445.6,538.3 L446.6,538.2 L447.6,537.9 L448.6,537.9 L449.6,537.6 L450.6,537.2 L451.6,537.3 L452.6,537.2 L453.6,537.2 L454.6,537.1 L455.6,537.4 L456.6,537.6 L457.6,537.6 L458.6,537.7 L459.6,537.6 L460.6,537.5 L461.6,537.4 L462.6,537.5 L463.6,537.2 L464.6,537.8 L465.6,537.7 L466.6,537.4 L467.6,537.7 L468.6,538.0 L469.6,537.8 L470.6,537.9 L471.6,538.0 L472.6,537.8 L473.6,537.8 L474.6,537.8 L475.6,538.0 L476.6,538.5 L477.6,538.4 L478.6,538.1 L479.6,538.1 L480.6,537.6 L481.6,536.7 L482.6,536.9 L483.6,537.1 L484.6,536.8 L485.6,536.8 L486.6,537.3 L487.6,537.0 L488.6,536.9 L489.6,536.9 L490.6,536.7 L491.6,536.2 L492.6,535.7 L493.6,535.8 L494.6,535.5 L495.6,535.3 L496.6,534.9 L497.6,535.1 L498.6,534.3 L499.6,534.5 L500.6,534.7 L501.6,534.8 L502.6,535.0 L503.6,535.0 L504.6,534.8 L505.6,534.3 L506.6,534.1 L507.6,533.6 L508.6,533.3 L509.6,533.1 L510.6,533.2 L511.6,533.3 L512.6,533.1 L513.6,533.2 L514.6,532.8 L515.6,532.7 L516.6,532.8 L517.6,533.2 L518.6,533.3 L519.6,533.6 L520.6,533.3 L521.6,532.4 L522.6,531.8 L523.6,531.3 L524.6,530.7 L525.6,529.9 L526.6,529.6 L527.6,529.1 L528.6,528.4 L529.6,528.0 L530.6,527.8 L531.6,527.4 L532.6,526.8 L533.6,526.3 L534.6,526.2 L535.6,525.8 L536.6,525.4 L537.6,525.2 L538.6,524.8 L539.6,524.6 L540.6,524.1 L541.6,523.6 L542.6,523.3 L543.6,523.5 L544.6,522.8 L545.6,522.4 L546.6,521.8 L547.6,521.1 L548.6,520.8 L549.6,520.6 L550.6,520.2 L551.6,520.0 L552.6,519.4 L553.6,518.3 L554.6,517.3 L555.6,516.1 L556.6,515.2 L557.6,514.7 L558.6,513.8 L559.6,512.4 L560.6,511.8 L561.6,510.4 L562.6,508.8 L563.6,507.9 L564.6,506.6 L565.6,505.1 L566.6,504.1 L567.6,503.1 L568.6,501.8 L569.6,501.1 L570.6,500.4 L571.6,499.8 L572.6,499.4 L573.6,498.7 L574.6,498.3 L575.6,497.7 L576.6,497.2 L577.6,496.9 L578.6,497.2 L579.6,496.9 L580.6,496.9 L581.6,496.4 L582.6,496.1 L583.6,495.2 L584.6,494.9 L585.6,494.9 L586.6,495.3 L587.6,495.6 L588.6,496.0 L589.6,496.3 L590.6,496.6 L591.6,496.5 L592.6,496.5 L593.6,496.7 L594.6,496.7 L595.6,496.7 L596.6,497.0 L597.6,497.6 L598.6,497.9 L599.6,498.2 L600.6,499.0 L601.6,499.7 L602.6,500.1 L603.6,500.5 L604.6,501.3 L605.6,501.5 L606.6,502.7 L607.6,503.6 L608.6,504.8 L609.6,506.3 L610.6,508.1 L611.6,509.5 L612.6,510.5 L613.6,511.5 L614.6,512.1 L615.6,512.5 L616.6,512.9 L617.6,513.8 L618.6,514.1 L619.6,514.7 L620.6,515.5 L621.6,515.8 L622.6,516.5 L623.6,517.0 L624.6,517.7 L625.6,518.2 L626.6,519.1 L627.6,519.3 L628.6,520.4 L629.6,521.5 L630.6,522.2 L631.6,522.8 L632.6,523.5 L633.6,523.9 L634.6,524.2 L635.6,524.6 L636.6,524.9 L637.6,525.1 L638.6,525.5 L639.6,526.1 L640.6,526.7 L641.6,527.0 L642.6,527.8 L643.6,528.0 L644.6,527.8 L645.6,528.4 L646.6,529.0 L647.6,529.5 L648.6,529.7 L649.6,530.5 L650.6,530.6 L651.6,531.1 L652.6,531.1 L653.6,531.6 L654.6,532.0 L655.6,532.2 L656.6,532.3 L657.6,532.9 L658.6,533.7 L659.6,533.8 L660.6,534.0 L661.6,534.4 L662.6,534.6 L663.6,534.5 L664.6,534.7 L665.6,534.4 L666.6,534.3 L667.6,534.8 L668.6,534.9 L669.6,534.8 L670.6,535.6 L671.6,536.4 L672.6,535.9 L673.6,536.2 L674.6,536.6 L675.6,536.4 L676.6,536.0 L677.6,536.2 L678.6,536.2 L679.6,536.4 L680.6,536.5 L681.6,536.8 L682.6,537.0 L683.6,537.1 L684.6,537.0 L685.6,537.0 L686.6,536.9 L687.6,537.0 L688.6,536.8 L689.6,536.9 L690.6,537.2 L691.6,537.1 L692.6,537.0 L693.6,536.9 L694.6,537.2 L695.6,537.1 L696.6,537.2 L697.6,537.0 L698.6,537.2 L699.6,536.8 L700.6,536.3 L701.6,536.3 L702.6,536.0 L703.6,535.8 L704.6,535.9 L705.6,535.8 L706.6,535.7 L707.6,536.1 L708.6,535.9 L709.6,535.8 L710.6,536.3 L711.6,536.3 L712.6,536.7 L713.6,537.7 L714.6,538.3 L715.6,538.9 L716.6,539.3 L717.6,539.5 L718.6,539.4 L719.6,539.0 L720.6,538.5 L721.6,538.5 L722.6,538.0 L723.6,537.9 L724.6,538.2 L725.6,538.9 L726.6,539.1 L727.6,539.7 L728.6,539.8 L729.6,539.7 L730.6,539.1 L731.6,539.0 L732.6,538.7 L733.6,538.8 L734.6,539.2 L735.6,539.4 L736.6,539.5 L737.6,539.4 L738.6,538.9 L739.6,538.3 L740.6,537.8 L741.6,537.4 L742.6,536.9 L743.6,536.7 L744.6,536.4 L745.6,536.6 L746.6,537.3 L747.6,537.5 L748.6,537.7 L749.6,538.3 L750.6,539.0 L751.6,539.1 L752.6,539.5 L753.6,539.7 L754.6,539.5 L755.6,539.5 L756.6,539.2 L757.6,539.3 L758.6,539.0 L759.6,538.6 L760.6,538.4 L761.6,538.6 L762.6,538.6 L763.6,538.7 L764.6,539.0 L765.6,538.8 L766.6,538.6 L767.6,538.2 L768.6,538.4 L769.6,538.8 L770.6,538.8 L771.6,539.3 L772.6,539.3 L773.6,539.4 L774.6,538.7 L775.6,538.9 L776.6,538.6 L777.6,538.6 L778.6,538.2 L779.6,538.5 L780.6,538.5 L781.6,538.1 L782.6,538.0 L783.6,538.1 L784.6,537.8 L785.6,537.8 L786.6,538.5 L787.6,539.0 L788.6,539.3 L789.6,540.2 L790.6,540.5 L791.6,540.1 L792.6,540.1 L793.6,540.5 L794.6,540.2 L795.6,540.2 L796.6,540.4 L797.6,540.3 L798.6,539.8 L799.6,539.5 L800.6,539.1 L801.6,539.0 L802.6,538.9 L803.6,539.0 L804.6,539.4 L805.6,539.9 L806.6,539.4 L807.6,539.0" fill="none" stroke="#cf6bcb" stroke-width="2.7" stroke-linejoin="round" stroke-linecap="round"/>
<path d="M320.6,588.4 L321.6,588.2 L322.6,587.8 L323.6,588.0 L324.6,587.3 L325.6,587.5 L326.6,587.5 L327.6,587.6 L328.6,587.4 L329.6,587.7 L330.6,587.8 L331.6,587.5 L332.6,587.6 L333.6,587.7 L334.6,587.8 L335.6,587.9 L336.6,588.3 L337.6,588.1 L338.6,588.1 L339.6,588.1 L340.6,587.6 L341.6,586.8 L342.6,586.8 L343.6,586.8 L344.6,586.4 L345.6,586.1 L346.6,586.5 L347.6,586.7 L348.6,587.4 L349.6,587.6 L350.6,587.8 L351.6,587.7 L352.6,588.0 L353.6,587.7 L354.6,587.9 L355.6,588.4 L356.6,588.7 L357.6,588.8 L358.6,588.9 L359.6,589.2 L360.6,588.8 L361.6,588.7 L362.6,587.9 L363.6,587.3 L364.6,586.8 L365.6,586.7 L366.6,586.5 L367.6,586.5 L368.6,587.0 L369.6,587.0 L370.6,587.0 L371.6,587.2 L372.6,587.8 L373.6,587.6 L374.6,588.0 L375.6,587.9 L376.6,588.0 L377.6,587.6 L378.6,587.4 L379.6,586.8 L380.6,586.5 L381.6,586.3 L382.6,586.3 L383.6,586.5 L384.6,586.6 L385.6,586.9 L386.6,587.1 L387.6,587.0 L388.6,586.8 L389.6,586.7 L390.6,586.7 L391.6,586.1 L392.6,585.7 L393.6,585.8 L394.6,586.0 L395.6,585.6 L396.6,585.9 L397.6,586.3 L398.6,586.2 L399.6,586.1 L400.6,586.5 L401.6,586.8 L402.6,587.0 L403.6,587.1 L404.6,587.4 L405.6,587.3 L406.6,587.2 L407.6,587.3 L408.6,588.0 L409.6,588.1 L410.6,588.1 L411.6,588.4 L412.6,588.3 L413.6,588.0 L414.6,588.0 L415.6,587.9 L416.6,587.8 L417.6,588.0 L418.6,588.0 L419.6,587.9 L420.6,587.7 L421.6,587.8 L422.6,587.6 L423.6,586.8 L424.6,586.7 L425.6,586.4 L426.6,586.3 L427.6,586.1 L428.6,586.6 L429.6,586.5 L430.6,586.8 L431.6,587.1 L432.6,587.2 L433.6,587.6 L434.6,587.9 L435.6,587.9 L436.6,588.0 L437.6,588.2 L438.6,588.2 L439.6,588.6 L440.6,589.1 L441.6,589.1 L442.6,589.2 L443.6,589.3 L444.6,589.0 L445.6,588.4 L446.6,588.2 L447.6,588.1 L448.6,587.7 L449.6,587.2 L450.6,586.6 L451.6,586.2 L452.6,585.5 L453.6,585.2 L454.6,585.2 L455.6,585.2 L456.6,584.5 L457.6,584.7 L458.6,584.7 L459.6,584.2 L460.6,584.3 L461.6,585.2 L462.6,585.4 L463.6,585.8 L464.6,586.7 L465.6,586.9 L466.6,586.7 L467.6,586.9 L468.6,586.8 L469.6,586.2 L470.6,586.4 L471.6,586.4 L472.6,586.6 L473.6,586.7 L474.6,587.2 L475.6,587.3 L476.6,587.4 L477.6,586.8 L478.6,586.8 L479.6,586.8 L480.6,586.7 L481.6,586.8 L482.6,587.0 L483.6,586.8 L484.6,586.8 L485.6,586.5 L486.6,586.6 L487.6,586.6 L488.6,586.3 L489.6,585.7 L490.6,585.7 L491.6,585.5 L492.6,585.4 L493.6,585.6 L494.6,585.8 L495.6,585.7 L496.6,585.9 L497.6,585.7 L498.6,585.1 L499.6,584.8 L500.6,584.7 L501.6,584.2 L502.6,583.9 L503.6,584.1 L504.6,583.8 L505.6,583.4 L506.6,582.9 L507.6,582.6 L508.6,582.1 L509.6,581.6 L510.6,580.8 L511.6,580.3 L512.6,579.8 L513.6,579.6 L514.6,579.8 L515.6,580.4 L516.6,580.8 L517.6,581.2 L518.6,581.4 L519.6,581.6 L520.6,581.6 L521.6,581.4 L522.6,580.9 L523.6,580.4 L524.6,580.2 L525.6,579.4 L526.6,579.3 L527.6,579.3 L528.6,579.0 L529.6,578.4 L530.6,578.4 L531.6,577.9 L532.6,577.3 L533.6,576.5 L534.6,576.1 L535.6,575.5 L536.6,575.0 L537.6,574.1 L538.6,573.9 L539.6,573.1 L540.6,572.4 L541.6,571.5 L542.6,571.2 L543.6,570.7 L544.6,570.0 L545.6,569.3 L546.6,568.7 L547.6,568.3 L548.6,567.6 L549.6,567.8 L550.6,567.3 L551.6,567.1 L552.6,566.6 L553.6,566.3 L554.6,565.8 L555.6,566.1 L556.6,565.7 L557.6,565.2 L558.6,564.6 L559.6,563.5 L560.6,562.4 L561.6,561.7 L562.6,560.6 L563.6,559.7 L564.6,559.1 L565.6,557.7 L566.6,556.5 L567.6,555.6 L568.6,554.4 L569.6,553.0 L570.6,552.0 L571.6,550.8 L572.6,549.7 L573.6,549.3 L574.6,548.6 L575.6,548.2 L576.6,547.9 L577.6,547.4 L578.6,546.7 L579.6,546.0 L580.6,544.5 L581.6,543.0 L582.6,541.3 L583.6,540.1 L584.6,539.0 L585.6,538.8 L586.6,538.9 L587.6,539.2 L588.6,539.3 L589.6,539.2 L590.6,539.0 L591.6,538.9 L592.6,538.8 L593.6,538.7 L594.6,539.1 L595.6,539.5 L596.6,539.9 L597.6,540.4 L598.6,539.9 L599.6,539.3 L600.6,538.9 L601.6,538.2 L602.6,537.4 L603.6,537.2 L604.6,537.8 L605.6,539.4 L606.6,541.0 L607.6,542.4 L608.6,544.5 L609.6,546.1 L610.6,547.1 L611.6,548.1 L612.6,548.8 L613.6,549.5 L614.6,549.5 L615.6,549.7 L616.6,550.2 L617.6,550.6 L618.6,550.8 L619.6,551.8 L620.6,552.6 L621.6,553.3 L622.6,554.4 L623.6,555.2 L624.6,556.0 L625.6,557.3 L626.6,558.1 L627.6,559.0 L628.6,560.1 L629.6,561.3 L630.6,562.1 L631.6,563.4 L632.6,564.4 L633.6,565.4 L634.6,565.8 L635.6,566.3 L636.6,566.9 L637.6,567.8 L638.6,568.8 L639.6,569.5 L640.6,570.3 L641.6,570.8 L642.6,571.2 L643.6,571.2 L644.6,571.8 L645.6,572.2 L646.6,572.9 L647.6,573.5 L648.6,574.3 L649.6,574.6 L650.6,575.1 L651.6,575.3 L652.6,575.7 L653.6,576.2 L654.6,577.0 L655.6,577.3 L656.6,577.5 L657.6,578.1 L658.6,578.2 L659.6,578.4 L660.6,579.0 L661.6,579.7 L662.6,580.0 L663.6,580.3 L664.6,580.9 L665.6,581.0 L666.6,581.4 L667.6,582.0 L668.6,582.2 L669.6,582.4 L670.6,582.5 L671.6,582.6 L672.6,582.5 L673.6,582.8 L674.6,582.8 L675.6,583.1 L676.6,583.1 L677.6,583.2 L678.6,583.6 L679.6,583.7 L680.6,584.2 L681.6,584.3 L682.6,584.6 L683.6,584.7 L684.6,585.0 L685.6,584.7 L686.6,584.8 L687.6,584.8 L688.6,585.0 L689.6,585.0 L690.6,585.4 L691.6,585.3 L692.6,585.7 L693.6,585.2 L694.6,585.4 L695.6,585.2 L696.6,585.5 L697.6,585.6 L698.6,585.8 L699.6,585.6 L700.6,585.6 L701.6,585.7 L702.6,585.7 L703.6,585.7 L704.6,585.5 L705.6,585.5 L706.6,585.3 L707.6,585.0 L708.6,585.1 L709.6,585.7 L710.6,586.5 L711.6,586.6 L712.6,586.6 L713.6,586.8 L714.6,586.5 L715.6,586.1 L716.6,586.3 L717.6,586.8 L718.6,587.1 L719.6,587.8 L720.6,588.1 L721.6,588.1 L722.6,588.2 L723.6,588.3 L724.6,588.0 L725.6,588.2 L726.6,588.1 L727.6,587.7 L728.6,587.3 L729.6,587.2 L730.6,586.8 L731.6,586.4 L732.6,586.3 L733.6,586.3 L734.6,586.0 L735.6,585.8 L736.6,585.8 L737.6,585.6 L738.6,585.1 L739.6,585.0 L740.6,585.1 L741.6,585.4 L742.6,585.4 L743.6,585.6 L744.6,585.9 L745.6,585.9 L746.6,585.9 L747.6,586.2 L748.6,586.7 L749.6,586.8 L750.6,587.2 L751.6,587.8 L752.6,587.5 L753.6,587.1 L754.6,587.1 L755.6,586.9 L756.6,586.7 L757.6,586.5 L758.6,586.8 L759.6,586.7 L760.6,586.6 L761.6,585.9 L762.6,586.3 L763.6,586.4 L764.6,586.1 L765.6,586.4 L766.6,586.6 L767.6,586.6 L768.6,586.5 L769.6,586.8 L770.6,586.3 L771.6,586.5 L772.6,586.8 L773.6,587.0 L774.6,587.0 L775.6,587.5 L776.6,587.5 L777.6,587.5 L778.6,587.5 L779.6,588.0 L780.6,587.8 L781.6,587.9 L782.6,587.5 L783.6,587.1 L784.6,586.8 L785.6,587.0 L786.6,586.7 L787.6,586.9 L788.6,586.9 L789.6,586.8 L790.6,586.7 L791.6,586.9 L792.6,586.6 L793.6,586.6 L794.6,586.7 L795.6,586.5 L796.6,586.5 L797.6,586.5 L798.6,586.4 L799.6,586.3 L800.6,586.2 L801.6,586.1 L802.6,586.0 L803.6,586.4 L804.6,586.2 L805.6,586.1 L806.6,586.3 L807.6,586.3" fill="none" stroke="#1b7d5b" stroke-width="2.7" stroke-linejoin="round" stroke-linecap="round"/>
<path d="M320.6,634.5 L321.6,634.7 L322.6,634.8 L323.6,634.8 L324.6,634.9 L325.6,634.7 L326.6,634.7 L327.6,634.9 L328.6,635.5 L329.6,635.5 L330.6,635.2 L331.6,635.6 L332.6,635.5 L333.6,635.4 L334.6,636.0 L335.6,636.5 L336.6,636.1 L337.6,636.4 L338.6,636.5 L339.6,636.2 L340.6,635.5 L341.6,635.3 L342.6,634.9 L343.6,634.2 L344.6,633.9 L345.6,633.5 L346.6,633.5 L347.6,633.2 L348.6,632.9 L349.6,633.0 L350.6,633.1 L351.6,632.9 L352.6,633.0 L353.6,633.2 L354.6,633.1 L355.6,633.3 L356.6,633.6 L357.6,633.7 L358.6,633.8 L359.6,633.6 L360.6,633.4 L361.6,633.2 L362.6,633.5 L363.6,633.5 L364.6,633.5 L365.6,633.5 L366.6,633.5 L367.6,633.0 L368.6,633.2 L369.6,633.7 L370.6,634.0 L371.6,634.2 L372.6,634.8 L373.6,634.9 L374.6,635.0 L375.6,635.0 L376.6,634.9 L377.6,634.6 L378.6,634.5 L379.6,634.6 L380.6,634.7 L381.6,634.7 L382.6,635.1 L383.6,635.1 L384.6,635.0 L385.6,634.6 L386.6,634.6 L387.6,634.3 L388.6,634.1 L389.6,633.8 L390.6,634.1 L391.6,633.9 L392.6,633.5 L393.6,633.3 L394.6,633.2 L395.6,632.7 L396.6,632.6 L397.6,632.7 L398.6,632.9 L399.6,633.1 L400.6,633.4 L401.6,633.2 L402.6,633.5 L403.6,633.2 L404.6,633.4 L405.6,633.4 L406.6,633.7 L407.6,633.9 L408.6,634.0 L409.6,634.1 L410.6,634.0 L411.6,634.3 L412.6,634.2 L413.6,634.9 L414.6,635.1 L415.6,635.1 L416.6,634.7 L417.6,634.6 L418.6,634.4 L419.6,634.3 L420.6,634.3 L421.6,634.4 L422.6,634.1 L423.6,634.0 L424.6,633.5 L425.6,633.9 L426.6,633.6 L427.6,633.6 L428.6,633.0 L429.6,632.7 L430.6,632.0 L431.6,632.5 L432.6,632.9 L433.6,633.4 L434.6,633.6 L435.6,634.0 L436.6,634.1 L437.6,634.2 L438.6,634.2 L439.6,634.4 L440.6,634.5 L441.6,634.4 L442.6,634.5 L443.6,634.6 L444.6,634.1 L445.6,633.6 L446.6,634.0 L447.6,634.0 L448.6,633.5 L449.6,633.5 L450.6,633.7 L451.6,633.2 L452.6,632.7 L453.6,633.0 L454.6,632.9 L455.6,633.1 L456.6,633.5 L457.6,633.5 L458.6,633.5 L459.6,633.5 L460.6,632.9 L461.6,632.5 L462.6,632.9 L463.6,632.7 L464.6,633.0 L465.6,633.5 L466.6,633.7 L467.6,634.0 L468.6,634.1 L469.6,634.0 L470.6,634.2 L471.6,634.2 L472.6,634.0 L473.6,633.9 L474.6,633.8 L475.6,633.8 L476.6,633.5 L477.6,633.0 L478.6,633.1 L479.6,632.9 L480.6,632.2 L481.6,632.1 L482.6,631.9 L483.6,631.6 L484.6,631.4 L485.6,631.1 L486.6,630.9 L487.6,630.7 L488.6,630.5 L489.6,630.2 L490.6,630.6 L491.6,630.8 L492.6,631.4 L493.6,631.5 L494.6,631.9 L495.6,631.2 L496.6,631.0 L497.6,630.2 L498.6,630.5 L499.6,630.3 L500.6,630.8 L501.6,630.5 L502.6,630.4 L503.6,629.8 L504.6,629.5 L505.6,628.7 L506.6,628.9 L507.6,629.0 L508.6,628.7 L509.6,628.7 L510.6,629.2 L511.6,629.0 L512.6,629.2 L513.6,629.4 L514.6,629.1 L515.6,628.8 L516.6,628.8 L517.6,628.0 L518.6,627.9 L519.6,627.5 L520.6,627.1 L521.6,626.7 L522.6,626.6 L523.6,626.1 L524.6,625.8 L525.6,625.7 L526.6,625.1 L527.6,624.9 L528.6,624.6 L529.6,624.4 L530.6,624.2 L531.6,624.5 L532.6,624.8 L533.6,624.5 L534.6,623.8 L535.6,623.1 L536.6,622.7 L537.6,621.8 L538.6,621.4 L539.6,621.0 L540.6,620.2 L541.6,619.7 L542.6,619.3 L543.6,618.5 L544.6,618.1 L545.6,617.1 L546.6,616.0 L547.6,615.3 L548.6,614.5 L549.6,613.1 L550.6,612.7 L551.6,611.9 L552.6,611.4 L553.6,610.5 L554.6,610.0 L555.6,609.0 L556.6,608.6 L557.6,607.7 L558.6,607.4 L559.6,606.5 L560.6,606.1 L561.6,605.2 L562.6,604.5 L563.6,604.1 L564.6,603.3 L565.6,603.0 L566.6,602.9 L567.6,602.1 L568.6,601.4 L569.6,601.3 L570.6,600.2 L571.6,599.5 L572.6,599.3 L573.6,598.5 L574.6,597.7 L575.6,597.3 L576.6,596.7 L577.6,595.7 L578.6,594.9 L579.6,594.3 L580.6,593.6 L581.6,592.3 L582.6,591.4 L583.6,590.6 L584.6,590.4 L585.6,590.5 L586.6,591.6 L587.6,592.7 L588.6,593.6 L589.6,594.3 L590.6,595.2 L591.6,595.2 L592.6,595.1 L593.6,594.7 L594.6,594.7 L595.6,593.9 L596.6,594.0 L597.6,594.4 L598.6,595.0 L599.6,595.3 L600.6,596.0 L601.6,596.7 L602.6,596.9 L603.6,597.8 L604.6,598.1 L605.6,598.6 L606.6,598.6 L607.6,598.3 L608.6,598.6 L609.6,598.6 L610.6,599.3 L611.6,599.9 L612.6,601.3 L613.6,601.9 L614.6,603.2 L615.6,604.0 L616.6,605.3 L617.6,606.3 L618.6,607.2 L619.6,607.9 L620.6,608.7 L621.6,609.5 L622.6,610.5 L623.6,611.3 L624.6,611.8 L625.6,612.6 L626.6,613.2 L627.6,613.8 L628.6,614.7 L629.6,615.7 L630.6,616.2 L631.6,617.0 L632.6,617.3 L633.6,617.6 L634.6,618.3 L635.6,618.8 L636.6,618.8 L637.6,619.4 L638.6,619.9 L639.6,619.7 L640.6,620.0 L641.6,620.5 L642.6,620.6 L643.6,620.8 L644.6,621.8 L645.6,622.9 L646.6,623.8 L647.6,624.9 L648.6,625.8 L649.6,626.6 L650.6,627.3 L651.6,627.6 L652.6,627.7 L653.6,627.9 L654.6,628.2 L655.6,628.3 L656.6,628.3 L657.6,628.5 L658.6,628.7 L659.6,628.8 L660.6,628.8 L661.6,629.2 L662.6,629.6 L663.6,629.5 L664.6,629.7 L665.6,629.7 L666.6,629.7 L667.6,629.4 L668.6,629.7 L669.6,629.9 L670.6,630.2 L671.6,630.8 L672.6,631.4 L673.6,631.6 L674.6,631.8 L675.6,632.1 L676.6,631.9 L677.6,631.9 L678.6,631.8 L679.6,632.0 L680.6,631.6 L681.6,631.6 L682.6,631.8 L683.6,632.2 L684.6,632.2 L685.6,632.5 L686.6,632.3 L687.6,632.3 L688.6,632.2 L689.6,632.2 L690.6,632.7 L691.6,633.0 L692.6,632.9 L693.6,632.8 L694.6,632.9 L695.6,632.4 L696.6,632.4 L697.6,632.4 L698.6,632.5 L699.6,632.8 L700.6,633.0 L701.6,632.9 L702.6,633.0 L703.6,633.3 L704.6,632.7 L705.6,633.0 L706.6,633.1 L707.6,633.1 L708.6,632.8 L709.6,633.2 L710.6,633.1 L711.6,633.0 L712.6,633.1 L713.6,633.2 L714.6,633.1 L715.6,633.2 L716.6,633.4 L717.6,633.2 L718.6,633.3 L719.6,633.5 L720.6,633.6 L721.6,633.4 L722.6,634.2 L723.6,634.3 L724.6,634.5 L725.6,634.5 L726.6,634.8 L727.6,634.6 L728.6,634.8 L729.6,634.4 L730.6,634.7 L731.6,634.6 L732.6,634.5 L733.6,634.0 L734.6,634.3 L735.6,634.2 L736.6,634.2 L737.6,634.6 L738.6,634.7 L739.6,634.5 L740.6,634.2 L741.6,634.4 L742.6,634.3 L743.6,634.4 L744.6,634.7 L745.6,634.5 L746.6,634.2 L747.6,634.2 L748.6,634.4 L749.6,634.5 L750.6,634.6 L751.6,634.5 L752.6,634.6 L753.6,634.6 L754.6,634.1 L755.6,634.2 L756.6,634.5 L757.6,634.3 L758.6,634.6 L759.6,635.3 L760.6,635.5 L761.6,635.9 L762.6,636.1 L763.6,636.1 L764.6,635.6 L765.6,635.4 L766.6,635.3 L767.6,635.6 L768.6,635.2 L769.6,635.5 L770.6,636.0 L771.6,635.8 L772.6,635.1 L773.6,634.6 L774.6,633.9 L775.6,633.2 L776.6,633.1 L777.6,633.5 L778.6,634.1 L779.6,634.5 L780.6,634.9 L781.6,635.2 L782.6,635.1 L783.6,635.5 L784.6,635.8 L785.6,635.9 L786.6,635.7 L787.6,636.2 L788.6,636.3 L789.6,636.3 L790.6,636.3 L791.6,636.8 L792.6,636.6 L793.6,636.6 L794.6,636.5 L795.6,636.2 L796.6,635.8 L797.6,635.3 L798.6,635.2 L799.6,634.9 L800.6,634.7 L801.6,634.3 L802.6,634.1 L803.6,633.9 L804.6,634.0 L805.6,634.6 L806.6,635.0 L807.6,635.5" fill="none" stroke="#e2408b" stroke-width="2.7" stroke-linejoin="round" stroke-linecap="round"/>
<path d="M320.6,693.3 L321.6,693.9 L322.6,694.1 L323.6,694.0 L324.6,694.1 L325.6,694.5 L326.6,694.2 L327.6,694.1 L328.6,694.2 L329.6,694.5 L330.6,694.4 L331.6,694.8 L332.6,695.1 L333.6,695.2 L334.6,694.6 L335.6,694.4 L336.6,694.2 L337.6,693.6 L338.6,693.1 L339.6,693.1 L340.6,693.0 L341.6,692.8 L342.6,693.4 L343.6,693.9 L344.6,694.6 L345.6,694.9 L346.6,695.2 L347.6,695.3 L348.6,695.1 L349.6,694.4 L350.6,694.1 L351.6,694.0 L352.6,693.9 L353.6,693.7 L354.6,694.0 L355.6,694.5 L356.6,694.5 L357.6,694.6 L358.6,695.0 L359.6,695.3 L360.6,694.9 L361.6,694.7 L362.6,694.6 L363.6,694.3 L364.6,694.3 L365.6,693.9 L366.6,693.9 L367.6,693.9 L368.6,694.0 L369.6,693.3 L370.6,693.4 L371.6,693.2 L372.6,693.0 L373.6,692.8 L374.6,693.0 L375.6,692.8 L376.6,692.7 L377.6,692.4 L378.6,692.0 L379.6,691.7 L380.6,691.9 L381.6,691.6 L382.6,691.5 L383.6,691.9 L384.6,691.9 L385.6,691.6 L386.6,692.1 L387.6,692.3 L388.6,692.3 L389.6,692.4 L390.6,692.6 L391.6,692.9 L392.6,693.2 L393.6,693.7 L394.6,694.1 L395.6,694.7 L396.6,694.9 L397.6,695.4 L398.6,695.3 L399.6,695.3 L400.6,695.0 L401.6,694.8 L402.6,694.4 L403.6,694.4 L404.6,694.0 L405.6,693.7 L406.6,693.8 L407.6,693.6 L408.6,693.4 L409.6,693.0 L410.6,692.8 L411.6,692.7 L412.6,692.8 L413.6,693.2 L414.6,693.8 L415.6,694.0 L416.6,694.4 L417.6,694.6 L418.6,693.7 L419.6,693.3 L420.6,693.3 L421.6,692.7 L422.6,692.3 L423.6,692.2 L424.6,692.1 L425.6,692.3 L426.6,693.0 L427.6,693.6 L428.6,694.4 L429.6,694.9 L430.6,695.3 L431.6,695.1 L432.6,695.4 L433.6,695.2 L434.6,694.6 L435.6,694.2 L436.6,694.1 L437.6,693.2 L438.6,692.9 L439.6,692.9 L440.6,692.8 L441.6,692.1 L442.6,692.3 L443.6,692.7 L444.6,692.9 L445.6,693.6 L446.6,694.4 L447.6,694.2 L448.6,694.0 L449.6,694.3 L450.6,694.4 L451.6,694.6 L452.6,695.1 L453.6,695.4 L454.6,695.5 L455.6,695.5 L456.6,695.0 L457.6,694.6 L458.6,694.4 L459.6,694.0 L460.6,693.5 L461.6,693.6 L462.6,693.8 L463.6,693.6 L464.6,693.4 L465.6,693.4 L466.6,693.2 L467.6,692.5 L468.6,692.2 L469.6,692.5 L470.6,692.2 L471.6,691.8 L472.6,691.4 L473.6,691.1 L474.6,691.0 L475.6,691.1 L476.6,691.1 L477.6,691.5 L478.6,691.5 L479.6,691.4 L480.6,691.5 L481.6,691.5 L482.6,691.2 L483.6,691.0 L484.6,690.3 L485.6,690.2 L486.6,690.1 L487.6,690.0 L488.6,689.9 L489.6,690.1 L490.6,690.1 L491.6,690.3 L492.6,690.5 L493.6,690.8 L494.6,691.1 L495.6,691.4 L496.6,691.2 L497.6,691.2 L498.6,691.1 L499.6,690.8 L500.6,690.7 L501.6,691.2 L502.6,691.2 L503.6,690.9 L504.6,691.2 L505.6,691.2 L506.6,691.1 L507.6,690.9 L508.6,691.2 L509.6,690.8 L510.6,690.4 L511.6,690.3 L512.6,690.0 L513.6,689.5 L514.6,689.0 L515.6,688.3 L516.6,687.7 L517.6,687.5 L518.6,687.2 L519.6,687.0 L520.6,687.4 L521.6,687.5 L522.6,687.4 L523.6,687.3 L524.6,687.6 L525.6,687.4 L526.6,687.4 L527.6,687.5 L528.6,687.4 L529.6,686.5 L530.6,685.8 L531.6,684.8 L532.6,683.6 L533.6,682.8 L534.6,682.2 L535.6,681.5 L536.6,680.9 L537.6,680.5 L538.6,679.6 L539.6,678.4 L540.6,677.6 L541.6,677.5 L542.6,676.6 L543.6,675.9 L544.6,675.5 L545.6,674.8 L546.6,673.4 L547.6,672.9 L548.6,672.3 L549.6,671.3 L550.6,670.2 L551.6,669.6 L552.6,668.7 L553.6,667.7 L554.6,667.0 L555.6,666.2 L556.6,664.8 L557.6,663.7 L558.6,662.9 L559.6,661.9 L560.6,660.8 L561.6,660.5 L562.6,659.5 L563.6,658.2 L564.6,657.3 L565.6,656.6 L566.6,655.7 L567.6,654.9 L568.6,654.2 L569.6,652.8 L570.6,651.8 L571.6,650.2 L572.6,649.0 L573.6,647.8 L574.6,646.9 L575.6,646.0 L576.6,645.0 L577.6,644.0 L578.6,642.6 L579.6,641.4 L580.6,640.0 L581.6,638.2 L582.6,636.8 L583.6,635.2 L584.6,634.3 L585.6,633.8 L586.6,634.2 L587.6,634.4 L588.6,635.0 L589.6,634.9 L590.6,634.8 L591.6,634.8 L592.6,635.1 L593.6,634.8 L594.6,634.9 L595.6,635.3 L596.6,635.7 L597.6,635.6 L598.6,636.4 L599.6,636.9 L600.6,637.3 L601.6,638.1 L602.6,638.9 L603.6,639.2 L604.6,640.4 L605.6,641.4 L606.6,641.8 L607.6,643.0 L608.6,644.2 L609.6,645.0 L610.6,646.5 L611.6,647.6 L612.6,648.7 L613.6,650.2 L614.6,651.6 L615.6,652.0 L616.6,652.9 L617.6,653.9 L618.6,654.8 L619.6,655.9 L620.6,657.4 L621.6,658.8 L622.6,659.7 L623.6,661.0 L624.6,662.2 L625.6,663.4 L626.6,664.4 L627.6,665.8 L628.6,667.2 L629.6,668.0 L630.6,669.1 L631.6,670.7 L632.6,672.0 L633.6,672.8 L634.6,674.3 L635.6,675.5 L636.6,676.4 L637.6,677.2 L638.6,678.2 L639.6,678.4 L640.6,679.2 L641.6,679.8 L642.6,680.3 L643.6,680.5 L644.6,681.1 L645.6,681.3 L646.6,681.8 L647.6,682.1 L648.6,682.8 L649.6,683.4 L650.6,683.9 L651.6,684.2 L652.6,684.9 L653.6,685.0 L654.6,685.3 L655.6,685.3 L656.6,685.7 L657.6,685.9 L658.6,686.1 L659.6,686.8 L660.6,687.6 L661.6,687.6 L662.6,687.7 L663.6,687.9 L664.6,688.0 L665.6,688.6 L666.6,689.0 L667.6,689.0 L668.6,689.3 L669.6,689.4 L670.6,689.2 L671.6,689.4 L672.6,690.1 L673.6,690.1 L674.6,690.1 L675.6,690.3 L676.6,690.3 L677.6,690.3 L678.6,690.8 L679.6,691.0 L680.6,691.2 L681.6,691.6 L682.6,691.8 L683.6,691.8 L684.6,692.1 L685.6,692.1 L686.6,692.0 L687.6,692.2 L688.6,692.4 L689.6,692.0 L690.6,692.2 L691.6,692.6 L692.6,692.8 L693.6,692.8 L694.6,693.1 L695.6,693.3 L696.6,693.1 L697.6,693.2 L698.6,693.2 L699.6,692.8 L700.6,693.0 L701.6,693.1 L702.6,693.0 L703.6,693.2 L704.6,693.3 L705.6,693.2 L706.6,693.2 L707.6,692.6 L708.6,692.2 L709.6,692.2 L710.6,691.7 L711.6,691.6 L712.6,691.7 L713.6,691.5 L714.6,691.7 L715.6,692.0 L716.6,692.3 L717.6,692.6 L718.6,692.9 L719.6,692.9 L720.6,693.2 L721.6,693.0 L722.6,693.0 L723.6,693.3 L724.6,693.4 L725.6,693.2 L726.6,693.2 L727.6,693.3 L728.6,693.3 L729.6,693.4 L730.6,693.5 L731.6,693.9 L732.6,694.1 L733.6,694.4 L734.6,694.5 L735.6,694.8 L736.6,694.6 L737.6,694.4 L738.6,694.3 L739.6,694.2 L740.6,693.7 L741.6,693.7 L742.6,693.9 L743.6,693.3 L744.6,693.0 L745.6,693.1 L746.6,693.3 L747.6,693.2 L748.6,693.8 L749.6,694.1 L750.6,694.5 L751.6,694.4 L752.6,694.8 L753.6,694.3 L754.6,694.1 L755.6,693.8 L756.6,693.8 L757.6,693.7 L758.6,693.7 L759.6,694.0 L760.6,694.4 L761.6,694.7 L762.6,694.7 L763.6,695.1 L764.6,695.4 L765.6,695.5 L766.6,694.9 L767.6,694.9 L768.6,694.9 L769.6,694.7 L770.6,694.5 L771.6,695.2 L772.6,695.1 L773.6,695.2 L774.6,695.2 L775.6,695.1 L776.6,694.9 L777.6,695.1 L778.6,695.1 L779.6,694.7 L780.6,694.8 L781.6,694.9 L782.6,694.4 L783.6,694.0 L784.6,694.1 L785.6,694.1 L786.6,694.0 L787.6,694.0 L788.6,693.9 L789.6,694.0 L790.6,693.8 L791.6,693.6 L792.6,693.7 L793.6,693.7 L794.6,693.5 L795.6,693.5 L796.6,693.8 L797.6,693.8 L798.6,694.1 L799.6,694.5 L800.6,695.1 L801.6,695.0 L802.6,695.3 L803.6,695.5 L804.6,695.3 L805.6,695.0 L806.6,695.0 L807.6,694.7" fill="none" stroke="#1c5fc0" stroke-width="2.7" stroke-linejoin="round" stroke-linecap="round"/>
<path d="M320.6,748.5 L321.6,748.4 L322.6,748.7 L323.6,748.7 L324.6,748.6 L325.6,749.0 L326.6,749.8 L327.6,750.0 L328.6,750.3 L329.6,750.2 L330.6,750.3 L331.6,749.7 L332.6,749.7 L333.6,749.6 L334.6,749.4 L335.6,748.4 L336.6,748.1 L337.6,747.8 L338.6,746.9 L339.6,746.9 L340.6,747.6 L341.6,748.1 L342.6,748.5 L343.6,749.1 L344.6,749.5 L345.6,749.5 L346.6,749.7 L347.6,749.0 L348.6,748.6 L349.6,748.4 L350.6,748.1 L351.6,747.3 L352.6,747.5 L353.6,747.5 L354.6,747.4 L355.6,747.4 L356.6,747.8 L357.6,747.7 L358.6,747.8 L359.6,748.4 L360.6,748.4 L361.6,748.4 L362.6,748.9 L363.6,748.8 L364.6,748.4 L365.6,748.7 L366.6,748.8 L367.6,748.7 L368.6,748.8 L369.6,749.0 L370.6,748.6 L371.6,748.2 L372.6,748.0 L373.6,747.8 L374.6,747.3 L375.6,747.6 L376.6,747.9 L377.6,747.6 L378.6,747.8 L379.6,748.3 L380.6,748.2 L381.6,748.3 L382.6,749.0 L383.6,748.9 L384.6,748.8 L385.6,748.9 L386.6,748.6 L387.6,747.4 L388.6,747.1 L389.6,746.4 L390.6,746.4 L391.6,747.1 L392.6,747.6 L393.6,747.7 L394.6,748.3 L395.6,748.4 L396.6,748.6 L397.6,749.2 L398.6,749.7 L399.6,749.6 L400.6,749.1 L401.6,748.5 L402.6,748.1 L403.6,747.6 L404.6,747.3 L405.6,747.0 L406.6,747.2 L407.6,747.1 L408.6,747.2 L409.6,747.1 L410.6,747.1 L411.6,746.9 L412.6,747.1 L413.6,747.5 L414.6,748.5 L415.6,749.2 L416.6,750.0 L417.6,750.1 L418.6,750.0 L419.6,749.1 L420.6,748.2 L421.6,747.3 L422.6,746.8 L423.6,746.2 L424.6,745.9 L425.6,745.8 L426.6,746.3 L427.6,746.9 L428.6,747.2 L429.6,747.7 L430.6,748.2 L431.6,748.5 L432.6,748.7 L433.6,749.2 L434.6,749.5 L435.6,749.7 L436.6,749.8 L437.6,749.6 L438.6,749.3 L439.6,748.9 L440.6,748.5 L441.6,748.1 L442.6,747.9 L443.6,747.3 L444.6,747.1 L445.6,747.1 L446.6,747.5 L447.6,747.3 L448.6,747.4 L449.6,747.2 L450.6,747.2 L451.6,747.1 L452.6,747.8 L453.6,747.9 L454.6,747.6 L455.6,747.9 L456.6,747.9 L457.6,747.7 L458.6,748.0 L459.6,748.2 L460.6,748.1 L461.6,747.9 L462.6,747.8 L463.6,747.2 L464.6,747.2 L465.6,747.0 L466.6,746.8 L467.6,746.2 L468.6,745.9 L469.6,745.8 L470.6,746.2 L471.6,747.0 L472.6,747.9 L473.6,748.7 L474.6,749.2 L475.6,749.5 L476.6,749.2 L477.6,748.9 L478.6,748.0 L479.6,747.2 L480.6,746.2 L481.6,745.9 L482.6,745.9 L483.6,746.4 L484.6,747.2 L485.6,747.7 L486.6,747.7 L487.6,747.8 L488.6,747.8 L489.6,747.6 L490.6,747.0 L491.6,746.9 L492.6,746.9 L493.6,746.7 L494.6,746.8 L495.6,747.2 L496.6,746.7 L497.6,746.3 L498.6,746.7 L499.6,746.7 L500.6,746.7 L501.6,747.3 L502.6,747.7 L503.6,747.4 L504.6,747.6 L505.6,747.8 L506.6,747.8 L507.6,747.4 L508.6,746.9 L509.6,745.8 L510.6,744.7 L511.6,744.1 L512.6,743.7 L513.6,743.2 L514.6,743.0 L515.6,743.4 L516.6,743.3 L517.6,743.1 L518.6,743.5 L519.6,743.6 L520.6,743.3 L521.6,743.1 L522.6,743.0 L523.6,742.6 L524.6,742.6 L525.6,742.2 L526.6,741.8 L527.6,741.7 L528.6,741.4 L529.6,741.0 L530.6,740.9 L531.6,741.1 L532.6,740.5 L533.6,740.2 L534.6,739.6 L535.6,739.2 L536.6,738.5 L537.6,738.2 L538.6,738.0 L539.6,737.9 L540.6,737.7 L541.6,737.3 L542.6,736.8 L543.6,736.2 L544.6,735.7 L545.6,735.2 L546.6,734.7 L547.6,734.5 L548.6,734.4 L549.6,733.9 L550.6,733.2 L551.6,733.0 L552.6,732.6 L553.6,731.8 L554.6,731.0 L555.6,730.5 L556.6,729.6 L557.6,728.5 L558.6,727.8 L559.6,727.1 L560.6,726.1 L561.6,725.1 L562.6,724.7 L563.6,724.0 L564.6,723.2 L565.6,722.2 L566.6,720.8 L567.6,719.3 L568.6,718.1 L569.6,716.8 L570.6,715.3 L571.6,714.2 L572.6,713.1 L573.6,711.6 L574.6,710.1 L575.6,708.8 L576.6,707.7 L577.6,706.4 L578.6,705.3 L579.6,704.7 L580.6,704.1 L581.6,703.0 L582.6,701.9 L583.6,701.9 L584.6,700.7 L585.6,699.7 L586.6,698.7 L587.6,697.7 L588.6,695.9 L589.6,695.0 L590.6,693.5 L591.6,693.2 L592.6,693.1 L593.6,693.3 L594.6,694.0 L595.6,694.7 L596.6,694.7 L597.6,695.4 L598.6,695.5 L599.6,695.0 L600.6,694.9 L601.6,695.3 L602.6,695.3 L603.6,695.5 L604.6,695.7 L605.6,695.7 L606.6,695.6 L607.6,695.3 L608.6,695.1 L609.6,694.8 L610.6,695.1 L611.6,695.8 L612.6,697.7 L613.6,699.1 L614.6,701.7 L615.6,703.3 L616.6,704.9 L617.6,706.2 L618.6,707.8 L619.6,708.7 L620.6,709.8 L621.6,711.0 L622.6,712.2 L623.6,713.4 L624.6,714.1 L625.6,715.0 L626.6,716.0 L627.6,716.7 L628.6,717.3 L629.6,718.5 L630.6,719.5 L631.6,720.2 L632.6,721.5 L633.6,722.1 L634.6,723.1 L635.6,724.1 L636.6,724.9 L637.6,725.7 L638.6,726.9 L639.6,727.6 L640.6,728.3 L641.6,729.4 L642.6,730.3 L643.6,731.5 L644.6,732.8 L645.6,733.9 L646.6,734.8 L647.6,736.1 L648.6,737.0 L649.6,737.1 L650.6,737.8 L651.6,737.9 L652.6,737.9 L653.6,737.8 L654.6,738.4 L655.6,738.3 L656.6,738.8 L657.6,739.2 L658.6,739.6 L659.6,739.9 L660.6,740.5 L661.6,740.9 L662.6,740.6 L663.6,740.7 L664.6,740.7 L665.6,740.7 L666.6,740.8 L667.6,741.1 L668.6,741.4 L669.6,741.4 L670.6,741.4 L671.6,741.6 L672.6,742.2 L673.6,742.4 L674.6,742.9 L675.6,743.5 L676.6,743.9 L677.6,743.8 L678.6,743.9 L679.6,744.0 L680.6,744.1 L681.6,744.3 L682.6,744.4 L683.6,744.8 L684.6,744.6 L685.6,744.7 L686.6,744.9 L687.6,745.2 L688.6,745.5 L689.6,746.0 L690.6,746.0 L691.6,746.0 L692.6,746.3 L693.6,746.0 L694.6,746.0 L695.6,746.2 L696.6,746.2 L697.6,745.9 L698.6,746.3 L699.6,746.5 L700.6,746.7 L701.6,746.7 L702.6,746.9 L703.6,746.9 L704.6,747.1 L705.6,747.4 L706.6,747.9 L707.6,748.3 L708.6,748.3 L709.6,748.3 L710.6,748.2 L711.6,748.1 L712.6,747.9 L713.6,748.0 L714.6,747.9 L715.6,747.7 L716.6,747.5 L717.6,747.1 L718.6,746.8 L719.6,746.7 L720.6,746.3 L721.6,746.1 L722.6,746.0 L723.6,746.2 L724.6,746.3 L725.6,746.6 L726.6,746.8 L727.6,747.1 L728.6,747.3 L729.6,747.2 L730.6,747.5 L731.6,747.3 L732.6,747.6 L733.6,747.0 L734.6,746.7 L735.6,746.3 L736.6,746.1 L737.6,745.4 L738.6,745.4 L739.6,744.6 L740.6,744.7 L741.6,744.7 L742.6,745.1 L743.6,745.4 L744.6,746.4 L745.6,746.5 L746.6,747.2 L747.6,747.4 L748.6,747.5 L749.6,747.8 L750.6,748.3 L751.6,748.1 L752.6,748.3 L753.6,748.2 L754.6,748.2 L755.6,748.4 L756.6,748.7 L757.6,748.4 L758.6,749.0 L759.6,749.1 L760.6,748.9 L761.6,748.7 L762.6,749.0 L763.6,748.8 L764.6,748.4 L765.6,747.9 L766.6,747.4 L767.6,746.8 L768.6,746.3 L769.6,745.9 L770.6,745.8 L771.6,746.1 L772.6,746.7 L773.6,747.3 L774.6,747.7 L775.6,748.5 L776.6,749.2 L777.6,749.4 L778.6,749.2 L779.6,749.1 L780.6,748.4 L781.6,748.1 L782.6,747.5 L783.6,747.3 L784.6,747.3 L785.6,747.2 L786.6,747.4 L787.6,747.6 L788.6,747.7 L789.6,747.5 L790.6,747.7 L791.6,747.8 L792.6,747.6 L793.6,747.5 L794.6,747.6 L795.6,747.9 L796.6,747.4 L797.6,747.3 L798.6,747.1 L799.6,747.4 L800.6,747.4 L801.6,747.7 L802.6,747.9 L803.6,748.4 L804.6,748.2 L805.6,748.2 L806.6,748.3 L807.6,748.7" fill="none" stroke="#d31f26" stroke-width="2.7" stroke-linejoin="round" stroke-linecap="round"/>
<path d="M320.6,792.7 L321.6,792.9 L322.6,792.9 L323.6,793.1 L324.6,793.3 L325.6,793.2 L326.6,793.1 L327.6,793.4 L328.6,792.8 L329.6,792.8 L330.6,792.7 L331.6,792.9 L332.6,792.7 L333.6,793.0 L334.6,792.8 L335.6,792.8 L336.6,792.5 L337.6,792.4 L338.6,792.4 L339.6,792.7 L340.6,793.0 L341.6,793.2 L342.6,793.4 L343.6,793.6 L344.6,793.5 L345.6,793.6 L346.6,793.9 L347.6,793.6 L348.6,793.7 L349.6,793.9 L350.6,793.7 L351.6,793.8 L352.6,794.1 L353.6,793.9 L354.6,793.6 L355.6,794.2 L356.6,793.8 L357.6,793.9 L358.6,793.2 L359.6,793.3 L360.6,792.7 L361.6,792.9 L362.6,792.4 L363.6,792.8 L364.6,792.5 L365.6,792.5 L366.6,792.6 L367.6,792.5 L368.6,792.7 L369.6,792.9 L370.6,793.2 L371.6,793.0 L372.6,793.3 L373.6,793.1 L374.6,793.1 L375.6,793.5 L376.6,793.7 L377.6,793.6 L378.6,793.6 L379.6,793.5 L380.6,793.2 L381.6,793.1 L382.6,793.1 L383.6,793.0 L384.6,792.7 L385.6,793.0 L386.6,792.9 L387.6,793.0 L388.6,793.0 L389.6,793.6 L390.6,793.4 L391.6,793.6 L392.6,793.8 L393.6,794.1 L394.6,794.1 L395.6,794.1 L396.6,794.0 L397.6,794.3 L398.6,794.5 L399.6,794.4 L400.6,794.7 L401.6,794.8 L402.6,794.2 L403.6,793.9 L404.6,794.0 L405.6,794.1 L406.6,794.1 L407.6,794.6 L408.6,794.7 L409.6,794.6 L410.6,794.6 L411.6,794.8 L412.6,794.8 L413.6,794.8 L414.6,795.0 L415.6,795.3 L416.6,795.6 L417.6,795.5 L418.6,795.7 L419.6,795.3 L420.6,795.0 L421.6,794.5 L422.6,794.7 L423.6,794.1 L424.6,793.8 L425.6,793.5 L426.6,793.5 L427.6,793.1 L428.6,793.4 L429.6,793.8 L430.6,793.5 L431.6,793.3 L432.6,793.3 L433.6,793.3 L434.6,793.3 L435.6,793.5 L436.6,793.5 L437.6,793.4 L438.6,793.4 L439.6,793.0 L440.6,793.4 L441.6,793.4 L442.6,793.7 L443.6,793.6 L444.6,794.3 L445.6,793.9 L446.6,794.1 L447.6,794.3 L448.6,794.3 L449.6,794.1 L450.6,794.2 L451.6,794.2 L452.6,794.2 L453.6,794.6 L454.6,794.7 L455.6,795.2 L456.6,795.1 L457.6,795.5 L458.6,795.6 L459.6,795.6 L460.6,795.8 L461.6,796.5 L462.6,796.2 L463.6,795.9 L464.6,795.5 L465.6,794.8 L466.6,794.0 L467.6,794.0 L468.6,793.6 L469.6,793.5 L470.6,793.2 L471.6,792.8 L472.6,792.9 L473.6,793.3 L474.6,793.5 L475.6,793.6 L476.6,794.1 L477.6,794.1 L478.6,794.1 L479.6,794.0 L480.6,794.6 L481.6,794.7 L482.6,795.0 L483.6,795.0 L484.6,795.2 L485.6,795.2 L486.6,794.8 L487.6,794.7 L488.6,794.5 L489.6,794.3 L490.6,794.1 L491.6,794.4 L492.6,794.5 L493.6,794.6 L494.6,794.9 L495.6,794.8 L496.6,794.8 L497.6,794.4 L498.6,794.1 L499.6,793.5 L500.6,792.8 L501.6,792.3 L502.6,791.9 L503.6,792.3 L504.6,792.5 L505.6,792.4 L506.6,791.9 L507.6,791.8 L508.6,790.8 L509.6,790.6 L510.6,790.7 L511.6,790.4 L512.6,790.1 L513.6,790.3 L514.6,790.6 L515.6,791.0 L516.6,791.5 L517.6,792.1 L518.6,792.2 L519.6,792.2 L520.6,792.1 L521.6,792.2 L522.6,792.5 L523.6,792.7 L524.6,792.8 L525.6,792.9 L526.6,792.8 L527.6,792.1 L528.6,792.4 L529.6,791.9 L530.6,791.9 L531.6,791.8 L532.6,791.8 L533.6,791.3 L534.6,791.0 L535.6,790.3 L536.6,789.8 L537.6,789.3 L538.6,788.6 L539.6,788.4 L540.6,788.5 L541.6,788.6 L542.6,789.0 L543.6,789.3 L544.6,789.4 L545.6,789.6 L546.6,789.9 L547.6,789.3 L548.6,789.1 L549.6,788.6 L550.6,788.3 L551.6,788.0 L552.6,787.7 L553.6,787.2 L554.6,787.0 L555.6,786.7 L556.6,785.8 L557.6,786.0 L558.6,785.6 L559.6,785.3 L560.6,785.0 L561.6,784.7 L562.6,783.8 L563.6,783.6 L564.6,783.0 L565.6,782.3 L566.6,782.0 L567.6,781.7 L568.6,781.1 L569.6,780.8 L570.6,780.1 L571.6,779.6 L572.6,779.0 L573.6,778.2 L574.6,777.5 L575.6,777.4 L576.6,776.6 L577.6,776.2 L578.6,775.6 L579.6,775.3 L580.6,774.5 L581.6,774.2 L582.6,773.8 L583.6,773.2 L584.6,772.3 L585.6,771.3 L586.6,770.3 L587.6,768.9 L588.6,767.8 L589.6,766.5 L590.6,765.9 L591.6,765.1 L592.6,764.5 L593.6,764.1 L594.6,763.4 L595.6,762.7 L596.6,762.0 L597.6,761.9 L598.6,761.1 L599.6,760.7 L600.6,760.3 L601.6,760.0 L602.6,758.8 L603.6,758.3 L604.6,757.3 L605.6,756.2 L606.6,755.5 L607.6,755.0 L608.6,754.7 L609.6,754.7 L610.6,754.3 L611.6,754.4 L612.6,755.0 L613.6,755.3 L614.6,755.8 L615.6,756.3 L616.6,756.3 L617.6,756.4 L618.6,756.6 L619.6,756.5 L620.6,756.9 L621.6,757.8 L622.6,758.1 L623.6,758.8 L624.6,759.2 L625.6,760.1 L626.6,760.5 L627.6,761.2 L628.6,761.2 L629.6,762.0 L630.6,762.5 L631.6,763.2 L632.6,763.3 L633.6,764.4 L634.6,765.0 L635.6,765.7 L636.6,766.0 L637.6,767.1 L638.6,768.1 L639.6,768.4 L640.6,769.4 L641.6,770.3 L642.6,771.0 L643.6,771.4 L644.6,772.5 L645.6,772.9 L646.6,773.7 L647.6,774.7 L648.6,774.8 L649.6,775.8 L650.6,776.4 L651.6,777.0 L652.6,777.6 L653.6,779.0 L654.6,779.5 L655.6,780.1 L656.6,781.0 L657.6,782.0 L658.6,782.9 L659.6,783.2 L660.6,784.5 L661.6,785.2 L662.6,785.7 L663.6,786.2 L664.6,787.1 L665.6,787.3 L666.6,787.9 L667.6,788.4 L668.6,788.6 L669.6,789.1 L670.6,789.0 L671.6,789.2 L672.6,789.1 L673.6,789.4 L674.6,789.6 L675.6,790.0 L676.6,790.3 L677.6,790.6 L678.6,790.8 L679.6,790.8 L680.6,790.8 L681.6,790.6 L682.6,790.3 L683.6,789.6 L684.6,789.3 L685.6,789.1 L686.6,789.4 L687.6,790.4 L688.6,791.1 L689.6,791.4 L690.6,791.7 L691.6,791.9 L692.6,791.9 L693.6,792.3 L694.6,792.6 L695.6,792.7 L696.6,792.6 L697.6,792.6 L698.6,792.3 L699.6,792.4 L700.6,793.0 L701.6,793.1 L702.6,793.5 L703.6,793.9 L704.6,794.1 L705.6,793.6 L706.6,793.7 L707.6,793.6 L708.6,793.6 L709.6,793.8 L710.6,794.3 L711.6,794.6 L712.6,794.8 L713.6,795.0 L714.6,795.0 L715.6,794.7 L716.6,794.4 L717.6,794.2 L718.6,793.8 L719.6,793.7 L720.6,793.7 L721.6,793.9 L722.6,793.9 L723.6,793.9 L724.6,793.6 L725.6,793.2 L726.6,793.0 L727.6,792.8 L728.6,792.8 L729.6,793.3 L730.6,793.6 L731.6,793.7 L732.6,793.5 L733.6,793.5 L734.6,793.1 L735.6,793.0 L736.6,792.8 L737.6,792.9 L738.6,793.1 L739.6,793.6 L740.6,794.3 L741.6,794.6 L742.6,794.6 L743.6,794.8 L744.6,795.0 L745.6,794.7 L746.6,794.5 L747.6,794.5 L748.6,794.0 L749.6,793.5 L750.6,792.9 L751.6,792.7 L752.6,792.7 L753.6,793.0 L754.6,793.3 L755.6,793.5 L756.6,793.8 L757.6,793.8 L758.6,793.8 L759.6,793.9 L760.6,794.3 L761.6,794.4 L762.6,795.0 L763.6,794.8 L764.6,794.5 L765.6,794.3 L766.6,794.4 L767.6,794.0 L768.6,794.2 L769.6,794.9 L770.6,794.8 L771.6,794.7 L772.6,794.7 L773.6,794.8 L774.6,794.9 L775.6,795.1 L776.6,795.3 L777.6,795.5 L778.6,795.5 L779.6,795.0 L780.6,794.6 L781.6,794.5 L782.6,794.6 L783.6,794.6 L784.6,794.7 L785.6,794.9 L786.6,795.1 L787.6,795.0 L788.6,795.0 L789.6,794.8 L790.6,794.9 L791.6,794.8 L792.6,794.5 L793.6,794.0 L794.6,794.1 L795.6,793.8 L796.6,793.5 L797.6,792.9 L798.6,793.3 L799.6,793.3 L800.6,793.2 L801.6,793.1 L802.6,793.5 L803.6,793.3 L804.6,793.7 L805.6,793.8 L806.6,794.0 L807.6,793.9" fill="none" stroke="#0a0a0a" stroke-width="2.7" stroke-linejoin="round" stroke-linecap="round"/>
<path d="M320.6,838.6 L321.6,838.6 L322.6,838.9 L323.6,839.0 L324.6,839.0 L325.6,838.9 L326.6,839.1 L327.6,838.9 L328.6,838.9 L329.6,839.3 L330.6,839.6 L331.6,839.5 L332.6,839.7 L333.6,839.7 L334.6,839.4 L335.6,839.2 L336.6,838.7 L337.6,838.4 L338.6,838.3 L339.6,838.6 L340.6,838.5 L341.6,839.1 L342.6,839.3 L343.6,839.7 L344.6,839.6 L345.6,839.8 L346.6,839.3 L347.6,839.6 L348.6,839.2 L349.6,839.1 L350.6,838.7 L351.6,839.0 L352.6,838.7 L353.6,839.0 L354.6,839.3 L355.6,839.6 L356.6,839.6 L357.6,839.6 L358.6,839.5 L359.6,839.7 L360.6,839.8 L361.6,839.7 L362.6,839.8 L363.6,839.6 L364.6,839.0 L365.6,838.9 L366.6,838.9 L367.6,838.8 L368.6,838.8 L369.6,838.8 L370.6,838.9 L371.6,838.9 L372.6,838.8 L373.6,839.1 L374.6,839.2 L375.6,839.2 L376.6,839.1 L377.6,839.2 L378.6,839.0 L379.6,839.3 L380.6,839.1 L381.6,839.4 L382.6,839.0 L383.6,838.9 L384.6,838.5 L385.6,838.8 L386.6,838.6 L387.6,839.2 L388.6,839.7 L389.6,839.8 L390.6,839.5 L391.6,840.1 L392.6,840.0 L393.6,839.8 L394.6,839.9 L395.6,840.1 L396.6,839.8 L397.6,839.6 L398.6,839.6 L399.6,839.4 L400.6,839.9 L401.6,840.1 L402.6,840.1 L403.6,839.8 L404.6,840.2 L405.6,839.8 L406.6,839.5 L407.6,839.7 L408.6,840.1 L409.6,840.0 L410.6,840.2 L411.6,840.4 L412.6,840.1 L413.6,840.0 L414.6,840.1 L415.6,839.5 L416.6,839.3 L417.6,839.5 L418.6,839.4 L419.6,838.9 L420.6,839.4 L421.6,839.0 L422.6,838.8 L423.6,838.6 L424.6,838.5 L425.6,838.2 L426.6,838.3 L427.6,838.4 L428.6,838.4 L429.6,838.9 L430.6,838.5 L431.6,839.0 L432.6,838.7 L433.6,838.5 L434.6,838.3 L435.6,838.7 L436.6,838.8 L437.6,838.8 L438.6,839.4 L439.6,839.2 L440.6,839.2 L441.6,839.0 L442.6,839.5 L443.6,839.3 L444.6,839.8 L445.6,839.5 L446.6,839.5 L447.6,839.3 L448.6,839.2 L449.6,838.8 L450.6,839.2 L451.6,839.0 L452.6,839.1 L453.6,839.1 L454.6,838.8 L455.6,838.5 L456.6,838.4 L457.6,837.8 L458.6,837.6 L459.6,837.7 L460.6,837.6 L461.6,837.0 L462.6,837.1 L463.6,836.8 L464.6,836.8 L465.6,836.9 L466.6,837.1 L467.6,836.8 L468.6,837.0 L469.6,837.1 L470.6,837.0 L471.6,837.1 L472.6,837.2 L473.6,837.4 L474.6,837.4 L475.6,837.5 L476.6,838.1 L477.6,838.5 L478.6,838.5 L479.6,838.6 L480.6,838.9 L481.6,838.5 L482.6,838.1 L483.6,837.5 L484.6,837.6 L485.6,837.7 L486.6,838.0 L487.6,838.3 L488.6,838.9 L489.6,839.0 L490.6,838.6 L491.6,838.4 L492.6,838.2 L493.6,838.2 L494.6,837.7 L495.6,837.5 L496.6,837.3 L497.6,837.1 L498.6,836.6 L499.6,836.5 L500.6,836.6 L501.6,836.7 L502.6,836.5 L503.6,836.6 L504.6,836.8 L505.6,836.8 L506.6,836.8 L507.6,837.1 L508.6,837.0 L509.6,837.2 L510.6,837.0 L511.6,836.8 L512.6,836.9 L513.6,837.0 L514.6,836.7 L515.6,836.6 L516.6,836.5 L517.6,836.3 L518.6,836.0 L519.6,835.4 L520.6,835.1 L521.6,835.1 L522.6,834.7 L523.6,834.5 L524.6,834.5 L525.6,834.2 L526.6,833.8 L527.6,833.5 L528.6,832.9 L529.6,832.1 L530.6,832.0 L531.6,831.4 L532.6,831.0 L533.6,831.0 L534.6,831.3 L535.6,830.7 L536.6,830.6 L537.6,830.2 L538.6,830.3 L539.6,830.1 L540.6,830.3 L541.6,830.1 L542.6,830.0 L543.6,829.6 L544.6,828.8 L545.6,828.2 L546.6,827.3 L547.6,826.6 L548.6,825.7 L549.6,825.2 L550.6,824.0 L551.6,823.6 L552.6,822.7 L553.6,821.6 L554.6,820.6 L555.6,819.8 L556.6,818.9 L557.6,817.9 L558.6,816.7 L559.6,815.6 L560.6,814.5 L561.6,813.3 L562.6,812.1 L563.6,811.1 L564.6,809.5 L565.6,808.5 L566.6,807.3 L567.6,806.1 L568.6,805.1 L569.6,803.7 L570.6,802.2 L571.6,801.3 L572.6,800.3 L573.6,799.0 L574.6,798.7 L575.6,797.7 L576.6,796.3 L577.6,795.8 L578.6,795.5 L579.6,794.9 L580.6,794.7 L581.6,794.7 L582.6,794.8 L583.6,794.7 L584.6,795.2 L585.6,796.1 L586.6,797.4 L587.6,798.7 L588.6,800.0 L589.6,801.4 L590.6,802.9 L591.6,804.3 L592.6,805.3 L593.6,806.9 L594.6,808.0 L595.6,808.9 L596.6,810.1 L597.6,811.4 L598.6,812.6 L599.6,813.7 L600.6,814.7 L601.6,815.0 L602.6,815.3 L603.6,815.5 L604.6,816.0 L605.6,816.5 L606.6,817.8 L607.6,819.4 L608.6,820.5 L609.6,821.6 L610.6,822.9 L611.6,824.1 L612.6,825.4 L613.6,826.7 L614.6,827.8 L615.6,828.0 L616.6,828.3 L617.6,828.7 L618.6,828.9 L619.6,829.2 L620.6,830.1 L621.6,831.2 L622.6,831.6 L623.6,832.3 L624.6,832.8 L625.6,833.5 L626.6,833.5 L627.6,833.9 L628.6,833.8 L629.6,833.8 L630.6,834.0 L631.6,834.4 L632.6,835.1 L633.6,835.4 L634.6,836.0 L635.6,836.4 L636.6,836.6 L637.6,836.5 L638.6,836.5 L639.6,836.6 L640.6,836.5 L641.6,836.4 L642.6,836.2 L643.6,836.5 L644.6,836.4 L645.6,836.1 L646.6,836.2 L647.6,836.5 L648.6,836.6 L649.6,837.1 L650.6,838.0 L651.6,838.2 L652.6,838.8 L653.6,839.1 L654.6,839.6 L655.6,839.6 L656.6,839.8 L657.6,839.5 L658.6,839.4 L659.6,839.2 L660.6,839.3 L661.6,839.6 L662.6,839.4 L663.6,839.7 L664.6,840.0 L665.6,839.8 L666.6,839.3 L667.6,838.9 L668.6,838.7 L669.6,838.0 L670.6,837.8 L671.6,837.6 L672.6,837.8 L673.6,837.6 L674.6,837.7 L675.6,837.2 L676.6,837.0 L677.6,836.6 L678.6,836.8 L679.6,836.6 L680.6,837.2 L681.6,837.0 L682.6,837.5 L683.6,836.9 L684.6,836.9 L685.6,836.7 L686.6,837.0 L687.6,837.1 L688.6,837.9 L689.6,838.3 L690.6,838.4 L691.6,838.8 L692.6,838.8 L693.6,838.4 L694.6,838.5 L695.6,839.0 L696.6,839.6 L697.6,839.4 L698.6,839.4 L699.6,839.7 L700.6,839.6 L701.6,839.3 L702.6,839.8 L703.6,840.1 L704.6,839.9 L705.6,840.2 L706.6,840.1 L707.6,839.9 L708.6,839.8 L709.6,840.1 L710.6,839.9 L711.6,840.2 L712.6,840.2 L713.6,840.5 L714.6,840.1 L715.6,840.4 L716.6,840.3 L717.6,840.4 L718.6,840.1 L719.6,840.4 L720.6,839.9 L721.6,839.8 L722.6,839.5 L723.6,839.1 L724.6,838.8 L725.6,838.7 L726.6,838.7 L727.6,839.2 L728.6,839.4 L729.6,840.1 L730.6,840.0 L731.6,839.5 L732.6,839.4 L733.6,839.3 L734.6,838.9 L735.6,838.5 L736.6,839.0 L737.6,838.7 L738.6,839.2 L739.6,839.0 L740.6,839.9 L741.6,839.8 L742.6,839.7 L743.6,839.9 L744.6,840.1 L745.6,839.9 L746.6,840.3 L747.6,840.7 L748.6,840.2 L749.6,840.3 L750.6,840.5 L751.6,840.3 L752.6,839.9 L753.6,840.5 L754.6,840.5 L755.6,840.6 L756.6,840.3 L757.6,840.3 L758.6,839.5 L759.6,839.3 L760.6,839.1 L761.6,838.8 L762.6,838.5 L763.6,838.6 L764.6,838.6 L765.6,838.5 L766.6,839.0 L767.6,839.5 L768.6,839.5 L769.6,839.4 L770.6,839.3 L771.6,839.3 L772.6,839.3 L773.6,839.5 L774.6,839.2 L775.6,839.2 L776.6,839.3 L777.6,839.2 L778.6,838.9 L779.6,839.2 L780.6,839.4 L781.6,839.3 L782.6,839.2 L783.6,839.0 L784.6,838.9 L785.6,838.6 L786.6,838.7 L787.6,838.6 L788.6,839.3 L789.6,839.2 L790.6,839.8 L791.6,839.7 L792.6,839.6 L793.6,838.9 L794.6,838.8 L795.6,838.2 L796.6,838.1 L797.6,838.0 L798.6,838.5 L799.6,838.5 L800.6,839.1 L801.6,839.3 L802.6,839.4 L803.6,839.4 L804.6,839.6 L805.6,839.3 L806.6,839.8 L807.6,840.2" fill="none" stroke="#e98a30" stroke-width="2.7" stroke-linejoin="round" stroke-linecap="round"/>
<line x1="584.8" x2="584.8" y1="477" y2="487.5" stroke="#a67cc4" stroke-width="1.9"/>
<line x1="584.8" x2="584.8" y1="499" y2="509.5" stroke="#a67cc4" stroke-width="1.9"/>
<line x1="584.8" x2="584.8" y1="518" y2="528" stroke="#a67cc4" stroke-width="1.9"/>
<line x1="596.7" x2="596.7" y1="517" y2="527" stroke="#1b7d5b" stroke-width="1.9"/>
<line x1="596.7" x2="596.7" y1="538" y2="546.5" stroke="#1b7d5b" stroke-width="1.9"/>
<line x1="596.7" x2="596.7" y1="556.5" y2="565" stroke="#1b7d5b" stroke-width="1.9"/>
<line x1="584.8" x2="584.8" y1="577" y2="586.5" stroke="#d8437f" stroke-width="1.9"/>
<line x1="584.8" x2="584.8" y1="593" y2="605.5" stroke="#d8437f" stroke-width="1.9"/>
<line x1="585.2" x2="585.2" y1="616" y2="628" stroke="#2a4f9e" stroke-width="1.9"/>
<line x1="585.2" x2="585.2" y1="634" y2="644" stroke="#2a4f9e" stroke-width="1.9"/>
<line x1="585.2" x2="585.2" y1="655" y2="665.5" stroke="#2a4f9e" stroke-width="1.9"/>
<line x1="591.7" x2="591.7" y1="678" y2="689.5" stroke="#c2262e" stroke-width="1.9"/>
<line x1="591.7" x2="591.7" y1="697" y2="708" stroke="#c2262e" stroke-width="1.9"/>
<line x1="591.7" x2="591.7" y1="717" y2="727.5" stroke="#c2262e" stroke-width="1.9"/>
<line x1="612.3" x2="612.3" y1="741.5" y2="752" stroke="#222" stroke-width="1.9"/>
<line x1="612.3" x2="612.3" y1="760" y2="771" stroke="#222" stroke-width="1.9"/>
<line x1="612.3" x2="612.3" y1="780" y2="790.5" stroke="#222" stroke-width="1.9"/>
<line x1="583.3" x2="583.3" y1="778.5" y2="789.5" stroke="#e39a5a" stroke-width="1.9"/>
<line x1="583.3" x2="583.3" y1="798" y2="808" stroke="#e39a5a" stroke-width="1.9"/>
<line x1="583.3" x2="583.3" y1="818" y2="828.5" stroke="#e39a5a" stroke-width="1.9"/>
<rect x="319.6" y="459.0" width="488.79999999999995" height="394.0" fill="none" stroke="#000" stroke-width="2.6"/>
<line x1="809.8" x2="809.8" y1="581.5" y2="590.7" stroke="#1c5fc0" stroke-width="2.2"/>
<line x1="809.8" x2="809.8" y1="602" y2="611" stroke="#1c5fc0" stroke-width="2.2"/>
<line x1="809.8" x2="809.8" y1="621.3" y2="629.6" stroke="#1c5fc0" stroke-width="2.2"/>
<line x1="319.6" x2="319.6" y1="853.0" y2="861.0" stroke="#000" stroke-width="2.7"/>
<text x="320.1" y="885.4" font-size="24.2" text-anchor="middle" fill="#111" stroke="#111" stroke-width="0.3" >32.0</text>
<line x1="380.7" x2="380.7" y1="853.0" y2="857.0" stroke="#000" stroke-width="2.7"/>
<line x1="441.7" x2="441.7" y1="853.0" y2="861.0" stroke="#000" stroke-width="2.7"/>
<text x="442.2" y="885.4" font-size="24.2" text-anchor="middle" fill="#111" stroke="#111" stroke-width="0.3" >32.5</text>
<line x1="502.8" x2="502.8" y1="853.0" y2="857.0" stroke="#000" stroke-width="2.7"/>
<line x1="563.8" x2="563.8" y1="853.0" y2="861.0" stroke="#000" stroke-width="2.7"/>
<text x="564.3" y="885.4" font-size="24.2" text-anchor="middle" fill="#111" stroke="#111" stroke-width="0.3" >33.0</text>
<line x1="624.9" x2="624.9" y1="853.0" y2="857.0" stroke="#000" stroke-width="2.7"/>
<line x1="685.9" x2="685.9" y1="853.0" y2="861.0" stroke="#000" stroke-width="2.7"/>
<text x="686.4" y="885.4" font-size="24.2" text-anchor="middle" fill="#111" stroke="#111" stroke-width="0.3" >33.5</text>
<line x1="747.0" x2="747.0" y1="853.0" y2="857.0" stroke="#000" stroke-width="2.7"/>
<line x1="808.0" x2="808.0" y1="853.0" y2="861.0" stroke="#000" stroke-width="2.7"/>
<text x="808.5" y="885.4" font-size="24.2" text-anchor="middle" fill="#111" stroke="#111" stroke-width="0.3" >34.0</text>
<text x="563.6" y="911.2" font-size="25.3" text-anchor="middle" fill="#111" stroke="#111" stroke-width="0.3" word-spacing="1.5">2θ (°)</text>
<text transform="translate(305.6,656) rotate(-90)" font-size="26.5" text-anchor="middle" fill="#111" stroke="#111" stroke-width="0.3">Intensity (a.u.)</text>
<text x="270.6" y="487" font-size="39" text-anchor="start" fill="#111" stroke="#111" stroke-width="0.3" >(c)</text>
<text x="325.2" y="522.6" font-size="18.1" text-anchor="start" fill="#111" stroke="#111" stroke-width="0.3" >Fe-1.8</text>
<text x="324.3" y="568.5" font-size="18.1" text-anchor="start" fill="#111" stroke="#111" stroke-width="0.3" >Fe-1.35</text>
<text x="329.4" y="619.1" font-size="18.1" text-anchor="start" fill="#111" stroke="#111" stroke-width="0.3" >Fe-0.9</text>
<text x="327" y="678" font-size="18.1" text-anchor="start" fill="#111" stroke="#111" stroke-width="0.3" >Fe-0.45</text>
<text x="327.6" y="732.8" font-size="18.1" text-anchor="start" fill="#111" stroke="#111" stroke-width="0.3" >Fe-0.27</text>
<text x="322.8" y="773.9" font-size="18.1" text-anchor="start" fill="#111" stroke="#111" stroke-width="0.3" >Fe-0.09</text>
<text x="326.5" y="823.9" font-size="18.1" text-anchor="start" fill="#111" stroke="#111" stroke-width="0.3" >Fe-0</text>
<text x="639.8" y="513.2" font-size="18.1" text-anchor="start" fill="#111" stroke="#111" stroke-width="0.3" >33.07</text>
<text x="638.9" y="561.8" font-size="18.1" text-anchor="start" fill="#111" stroke="#111" stroke-width="0.3" >33.13</text>
<text x="639.8" y="610.9" font-size="18.1" text-anchor="start" fill="#111" stroke="#111" stroke-width="0.3" >33.09</text>
<text x="640.4" y="668.3" font-size="18.1" text-anchor="start" fill="#111" stroke="#111" stroke-width="0.3" >33.09</text>
<text x="639.8" y="714.6" font-size="18.1" text-anchor="start" fill="#111" stroke="#111" stroke-width="0.3" >33.11</text>
<text x="638.9" y="762.3" font-size="18.1" text-anchor="start" fill="#111" stroke="#111" stroke-width="0.3" >33.20</text>
<text x="623.7" y="810.4" font-size="18.1" text-anchor="start" fill="#111" stroke="#111" stroke-width="0.3" >33.05</text>
</svg>
</body></html>
